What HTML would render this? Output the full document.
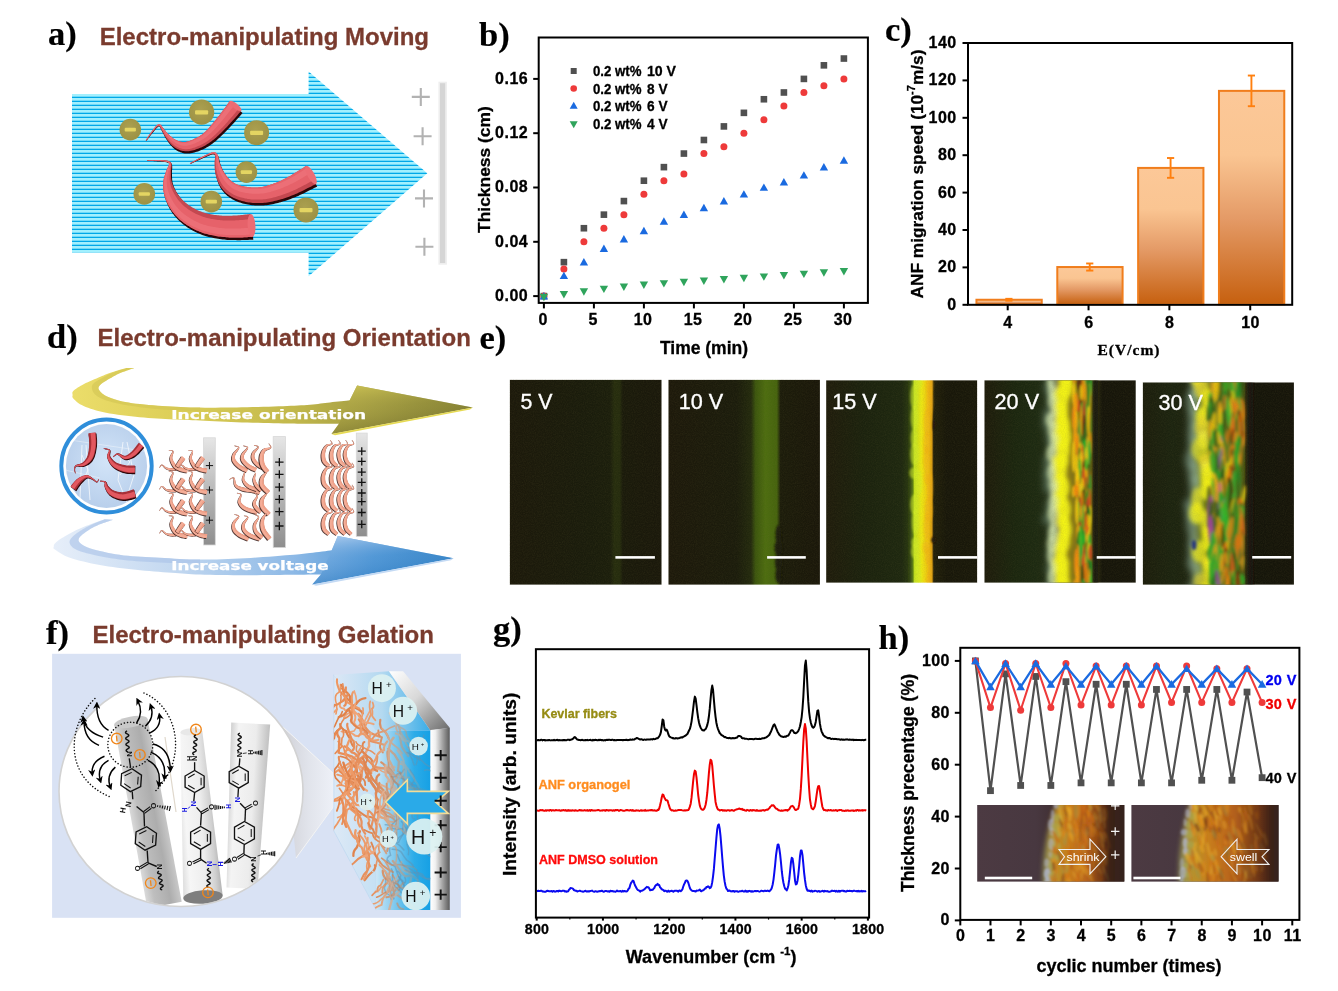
<!DOCTYPE html>
<html lang="en"><head><meta charset="utf-8"><title>Electro-manipulating ANF figure</title>
<style>html,body{margin:0;padding:0;background:#fff;}body{width:1338px;height:991px;overflow:hidden;}svg{display:block;}</style>
</head><body>
<svg width="1338" height="991" viewBox="0 0 1338 991">
<rect width="1338" height="991" fill="#fff"/>
<g id="pa">
<defs>
<pattern id="stripes" x="0" y="94" width="8" height="4" patternUnits="userSpaceOnUse"><rect width="8" height="4" fill="#A2F0FE"/><rect y="2.7" width="8" height="1.3" fill="#00A8E8"/></pattern>
<radialGradient id="ballg" cx="0.45" cy="0.4" r="0.7"><stop offset="0" stop-color="#ABA050"/><stop offset="1" stop-color="#9A8F42"/></radialGradient>
<linearGradient id="elecA" x1="0" x2="1" y1="0" y2="0"><stop offset="0" stop-color="#E9E9E9"/><stop offset="0.25" stop-color="#D2D2D2"/><stop offset="0.8" stop-color="#CFCFCF"/><stop offset="1" stop-color="#E4E4E4"/></linearGradient>
</defs>
<path d="M72 94H308.6V71.5L427.3 173.3L308.6 276.3V252.8H72Z" fill="url(#stripes)"/>
<rect x="438.4" y="81.7" width="8.5" height="183" fill="#EEEEEE" stroke="none" stroke-width="0" />
<rect x="440" y="83.2" width="5.2" height="179.8" fill="#D5D5D5" stroke="none" stroke-width="0" />
<path d="M411.8 96.9H429.8M420.8 87.9V105.9" stroke="#B2B2B2" stroke-width="2.1" fill="none"/>
<path d="M413.6 136.3H431.6M422.6 127.3V145.3" stroke="#B2B2B2" stroke-width="2.1" fill="none"/>
<path d="M415 198.4H433M424 189.4V207.4" stroke="#B2B2B2" stroke-width="2.1" fill="none"/>
<path d="M415.4 246.8H433.4M424.4 237.8V255.8" stroke="#B2B2B2" stroke-width="2.1" fill="none"/>
<circle cx="201.6" cy="112.2" r="12.6" fill="url(#ballg)"/><rect x="195.05" y="110.18" width="13.1" height="4.28" rx="1" fill="#E4D562"/>
<circle cx="130.3" cy="129.6" r="10.8" fill="url(#ballg)"/><rect x="124.68" y="127.87" width="11.23" height="3.67" rx="1" fill="#E4D562"/>
<circle cx="256.6" cy="132.7" r="12.5" fill="url(#ballg)"/><rect x="250.1" y="130.7" width="13" height="4.25" rx="1" fill="#E4D562"/>
<circle cx="246.4" cy="172.1" r="10.8" fill="url(#ballg)"/><rect x="240.78" y="170.37" width="11.23" height="3.67" rx="1" fill="#E4D562"/>
<circle cx="144.3" cy="193.9" r="10.8" fill="url(#ballg)"/><rect x="138.68" y="192.17" width="11.23" height="3.67" rx="1" fill="#E4D562"/>
<circle cx="211.3" cy="201.6" r="10.8" fill="url(#ballg)"/><rect x="205.68" y="199.87" width="11.23" height="3.67" rx="1" fill="#E4D562"/>
<circle cx="306" cy="209.9" r="12.5" fill="url(#ballg)"/><rect x="299.5" y="207.9" width="13" height="4.25" rx="1" fill="#E4D562"/>
<path d="M146.4 141 146.7 140.6 147.1 140.1 147.5 139.5 148 138.8 148.6 138.1 149.1 137.3 149.7 136.5 150.3 135.7 150.9 134.9 151.5 134.2 152.1 133.5 152.7 132.8 153.2 132.2 153.8 131.4 154.4 130.7 155 130 155.6 129.3 156.2 128.6 156.8 128 157.3 127.4 157.9 127 158.4 126.6 158.8 126.4 159.1 126.4 159.3 126.4 159.5 126.6 159.7 126.8 159.9 127.1 160.2 127.5 160.4 128 160.7 128.5 161 129.2 161.3 129.8 161.6 130.5 162 131.2 162.4 131.9 162.7 132.4 163 133 163.3 133.7 163.7 134.3 164 135 164.4 135.7 164.7 136.4 165.1 137.2 165.6 138 166 138.7 166.5 139.5 167.1 140.3 167.6 141.1 168.1 141.9 168.7 142.7 169.3 143.5 169.9 144.2 170.5 145 171.2 145.8 171.9 146.6 172.6 147.3 173.4 148 174.2 148.7 175.1 149.4 175.9 149.9 176.7 150.4 177.6 150.9 178.5 151.4 179.5 151.8 180.4 152.2 181.5 152.6 182.5 152.9 183.6 153.2 184.8 153.4 185.9 153.5 187.1 153.6 188.4 153.6 189.6 153.5 190.8 153.3 192.1 153.1 193.3 152.8 194.5 152.5 195.6 152.1 196.8 151.8 198 151.4 199.1 151 200.2 150.5 201.2 150.1 202.3 149.7 203.3 149.2 204.3 148.7 205.4 148.2 206.4 147.6 207.4 147.1 208.4 146.4 209.5 145.8 210.5 145 211.6 144.3 212.7 143.5 213.8 142.6 215 141.7 216.2 140.7 217.4 139.6 218.5 138.5 219.7 137.4 221 136.3 222.2 135.1 223.4 134 224.6 132.8 225.8 131.6 227 130.3 228.2 129.1 229.4 127.8 230.8 126.3 232.1 124.8 233.6 123.3 235 121.7 236.3 120.1 237.7 118.6 238.9 117.2 240 115.9 241.1 114.7 241.9 113.8 242.6 113 230.2 103 229.6 103.8 228.8 104.9 227.9 106.2 226.9 107.6 225.8 109.1 224.6 110.7 223.4 112.3 222.2 114 221 115.6 219.8 117.1 218.7 118.6 217.6 119.9 216.6 121.2 215.6 122.4 214.6 123.7 213.5 125 212.5 126.2 211.5 127.4 210.5 128.5 209.6 129.6 208.6 130.7 207.7 131.7 206.8 132.6 206 133.4 205.1 134.2 204.3 134.9 203.5 135.5 202.8 136.1 202 136.7 201.3 137.2 200.5 137.7 199.8 138.1 199 138.6 198.2 139 197.4 139.5 196.6 139.9 195.7 140.3 194.8 140.8 193.9 141.2 193 141.6 192.1 142 191.2 142.3 190.4 142.6 189.5 142.9 188.7 143.1 188 143.3 187.3 143.5 186.7 143.6 186.1 143.7 185.4 143.8 184.8 143.8 184.2 143.8 183.5 143.7 182.9 143.7 182.2 143.6 181.5 143.4 180.8 143.3 180.1 143.1 179.4 142.9 178.7 142.6 178.1 142.4 177.5 142.1 176.8 141.8 176.1 141.4 175.4 141 174.7 140.5 174 140 173.3 139.5 172.6 139 171.9 138.4 171.2 137.8 170.5 137.2 169.9 136.6 169.4 136.1 168.9 135.5 168.4 134.9 167.9 134.4 167.4 133.8 166.9 133.1 166.4 132.5 166 131.9 165.5 131.3 165 130.8 164.6 130.2 164.2 129.7 163.8 129.2 163.4 128.6 163 128 162.6 127.4 162.2 126.9 161.8 126.3 161.3 125.8 160.8 125.3 160.2 125 159.5 124.8 158.8 124.8 158.2 125 157.5 125.4 157 125.9 156.4 126.4 155.8 127 155.2 127.7 154.6 128.4 154 129.2 153.4 130 152.8 130.7 152.3 131.4 151.7 132.1 151.2 132.8 150.6 133.5 150.1 134.3 149.5 135.1 148.9 136 148.4 136.8 147.8 137.6 147.3 138.3 146.9 139 146.5 139.6 146.1 140.2 145.8 140.6Z" fill="#2A0608"/><path d="M146.3 140.7 146.6 140.3 147 139.8 147.4 139.2 147.9 138.5 148.4 137.7 148.9 136.9 149.5 136.1 150.1 135.3 150.7 134.5 151.3 133.7 151.9 133 152.4 132.3 153 131.7 153.6 131 154.1 130.2 154.7 129.5 155.3 128.8 155.9 128.1 156.5 127.4 157.1 126.9 157.6 126.4 158.1 126 158.5 125.8 158.8 125.7 159 125.8 159.2 125.9 159.4 126 159.6 126.3 159.9 126.7 160.1 127.1 160.4 127.7 160.7 128.3 161 128.9 161.3 129.5 161.6 130.2 161.9 130.8 162.3 131.3 162.6 131.9 162.9 132.4 163.2 133 163.5 133.7 163.8 134.3 164.2 135 164.6 135.7 165 136.4 165.4 137.1 165.9 137.8 166.4 138.5 166.9 139.2 167.4 139.9 167.9 140.6 168.5 141.4 169.1 142.1 169.7 142.9 170.4 143.7 171.1 144.4 171.8 145.2 172.6 145.9 173.4 146.5 174.3 147.2 175.1 147.7 175.9 148.2 176.8 148.7 177.7 149.2 178.6 149.6 179.6 150 180.6 150.4 181.7 150.7 182.8 150.9 183.9 151.1 185 151.2 186.2 151.3 187.4 151.3 188.7 151.2 189.9 151 191.1 150.8 192.3 150.5 193.5 150.2 194.6 149.9 195.8 149.5 196.9 149.1 198.1 148.7 199.2 148.2 200.2 147.8 201.3 147.4 202.3 146.9 203.3 146.4 204.3 145.9 205.3 145.4 206.3 144.8 207.4 144.1 208.4 143.5 209.4 142.8 210.5 142 211.6 141.2 212.7 140.3 213.9 139.4 215 138.4 216.2 137.4 217.4 136.3 218.6 135.2 219.8 134.1 221 132.9 222.2 131.7 223.4 130.5 224.6 129.3 225.8 128.1 227 126.9 228.2 125.5 229.6 124.1 230.9 122.6 232.3 121 233.7 119.4 235.1 117.9 236.4 116.4 237.7 114.9 238.8 113.6 239.8 112.5 240.7 111.5 241.3 110.7 229.7 101.3 229 102.1 228.2 103.2 227.3 104.5 226.3 105.9 225.2 107.4 224 108.9 222.8 110.6 221.6 112.2 220.4 113.8 219.2 115.4 218.1 116.8 217 118.1 216 119.4 215 120.7 213.9 122 212.9 123.2 211.9 124.4 210.9 125.6 209.9 126.8 208.9 127.9 208 128.9 207.1 129.9 206.2 130.8 205.3 131.7 204.4 132.4 203.6 133.2 202.8 133.8 202.1 134.4 201.3 135 200.5 135.5 199.8 135.9 199 136.4 198.3 136.9 197.5 137.3 196.6 137.7 195.8 138.2 194.9 138.6 194 139.1 193.1 139.5 192.2 139.9 191.3 140.2 190.4 140.6 189.5 140.9 188.7 141.2 187.9 141.4 187.1 141.6 186.4 141.8 185.8 141.9 185.2 142 184.5 142 183.9 142.1 183.2 142 182.6 142 181.9 141.9 181.2 141.8 180.5 141.7 179.8 141.5 179.1 141.3 178.4 141.1 177.7 140.8 177.1 140.6 176.4 140.3 175.8 140 175.1 139.6 174.4 139.1 173.7 138.7 172.9 138.2 172.2 137.6 171.6 137.1 170.9 136.6 170.2 136 169.6 135.5 169.1 135 168.6 134.6 168.1 134.1 167.6 133.5 167.1 133 166.7 132.4 166.2 131.9 165.8 131.3 165.4 130.8 164.9 130.2 164.5 129.7 164.1 129.2 163.7 128.8 163.3 128.3 162.9 127.8 162.5 127.2 162.2 126.7 161.8 126.1 161.4 125.6 160.9 125.1 160.5 124.7 159.9 124.4 159.2 124.2 158.6 124.3 157.9 124.5 157.3 124.9 156.7 125.4 156.2 125.9 155.6 126.6 155 127.2 154.4 128 153.8 128.7 153.2 129.5 152.6 130.3 152.1 131 151.6 131.7 151 132.4 150.5 133.1 149.9 133.9 149.3 134.8 148.8 135.6 148.2 136.4 147.7 137.2 147.2 138 146.7 138.7 146.3 139.3 146 139.9 145.7 140.3Z" fill="#C44850"/><path d="M146.2 140.6 146.5 140.2 146.8 139.7 147.2 139.1 147.7 138.4 148.2 137.6 148.8 136.8 149.4 136 149.9 135.2 150.5 134.4 151.1 133.6 151.7 132.9 152.2 132.2 152.8 131.5 153.4 130.8 153.9 130.1 154.5 129.3 155.1 128.6 155.7 127.9 156.3 127.2 156.9 126.7 157.4 126.2 157.9 125.8 158.4 125.5 158.8 125.4 159.1 125.4 159.4 125.5 159.6 125.7 159.9 126 160.2 126.4 160.5 126.9 160.8 127.5 161.1 128 161.4 128.6 161.7 129.3 162 129.9 162.4 130.4 162.8 131 163.1 131.5 163.4 132.1 163.8 132.7 164.1 133.3 164.5 133.9 164.8 134.5 165.2 135.2 165.7 135.8 166.1 136.5 166.6 137.2 167.1 137.8 167.6 138.5 168.2 139.1 168.7 139.8 169.3 140.5 169.9 141.2 170.6 142 171.3 142.7 172 143.3 172.7 144 173.4 144.6 174.2 145.2 175 145.8 175.8 146.2 176.6 146.7 177.5 147.1 178.3 147.5 179.2 147.9 180.1 148.2 181 148.5 182 148.8 183 149 184 149.1 185.1 149.2 186.1 149.2 187.2 149.2 188.3 149.1 189.4 148.9 190.6 148.7 191.7 148.4 192.8 148.1 193.9 147.7 195 147.4 196.1 147 197.2 146.6 198.2 146.1 199.2 145.7 200.2 145.3 201.2 144.8 202.2 144.3 203.1 143.8 204.1 143.3 205.1 142.7 206 142.1 207 141.5 208 140.8 209 140.1 210 139.3 211.1 138.4 212.2 137.5 213.3 136.5 214.4 135.5 215.5 134.4 216.7 133.3 217.8 132.2 219 131 220.2 129.8 221.3 128.6 222.5 127.4 223.6 126.2 224.8 124.9 226 123.6 227.3 122.2 228.6 120.6 230 119.1 231.3 117.5 232.7 115.9 233.9 114.4 235.2 112.9 236.3 111.6 237.3 110.4 238.1 109.4 238.8 108.6 229.7 101.3 229 102.1 228.2 103.2 227.3 104.5 226.3 105.9 225.2 107.4 224 108.9 222.8 110.6 221.6 112.2 220.4 113.8 219.2 115.4 218.1 116.8 217 118.1 216 119.4 215 120.7 213.9 122 212.9 123.2 211.9 124.4 210.9 125.6 209.9 126.8 208.9 127.9 208 128.9 207.1 129.9 206.2 130.8 205.3 131.7 204.4 132.4 203.6 133.2 202.8 133.8 202.1 134.4 201.3 135 200.5 135.5 199.8 135.9 199 136.4 198.3 136.9 197.5 137.3 196.6 137.7 195.8 138.2 194.9 138.6 194 139.1 193.1 139.5 192.2 139.9 191.3 140.2 190.4 140.6 189.5 140.9 188.7 141.2 187.9 141.4 187.1 141.6 186.4 141.8 185.8 141.9 185.2 142 184.5 142 183.9 142.1 183.2 142 182.6 142 181.9 141.9 181.2 141.8 180.5 141.7 179.8 141.5 179.1 141.3 178.4 141.1 177.7 140.8 177.1 140.6 176.4 140.3 175.8 140 175.1 139.6 174.4 139.1 173.7 138.7 172.9 138.2 172.2 137.6 171.6 137.1 170.9 136.6 170.2 136 169.6 135.5 169.1 135 168.6 134.6 168.1 134.1 167.6 133.5 167.1 133 166.7 132.4 166.2 131.9 165.8 131.3 165.4 130.8 164.9 130.2 164.5 129.7 164.1 129.2 163.7 128.8 163.3 128.3 162.9 127.8 162.5 127.2 162.2 126.7 161.8 126.1 161.4 125.6 160.9 125.1 160.5 124.7 159.9 124.4 159.2 124.2 158.6 124.3 157.9 124.5 157.3 124.9 156.7 125.4 156.2 125.9 155.6 126.6 155 127.2 154.4 128 153.8 128.7 153.2 129.5 152.6 130.3 152.1 131 151.6 131.7 151 132.4 150.5 133.1 149.9 133.9 149.3 134.8 148.8 135.6 148.2 136.4 147.7 137.2 147.2 138 146.7 138.7 146.3 139.3 146 139.9 145.7 140.3Z" fill="#E6626A"/><path d="M145.9 140.5 146.2 140 146.6 139.5 147 138.9 147.5 138.2 148 137.4 148.5 136.6 149.1 135.8 149.7 135 150.2 134.2 150.8 133.4 151.4 132.6 151.9 131.9 152.5 131.3 153 130.5 153.6 129.8 154.2 129 154.8 128.3 155.4 127.6 156 126.9 156.5 126.3 157.1 125.8 157.6 125.3 158.2 125 158.7 124.9 159.2 124.8 159.6 125 160 125.2 160.4 125.6 160.8 126 161.1 126.5 161.4 127.1 161.8 127.6 162.1 128.2 162.5 128.8 162.8 129.3 163.2 129.9 163.6 130.4 164 130.9 164.4 131.5 164.7 132 165.1 132.6 165.5 133.2 165.9 133.8 166.4 134.4 166.8 135 167.3 135.6 167.8 136.2 168.3 136.7 168.9 137.3 169.5 137.9 170.1 138.5 170.7 139.2 171.4 139.8 172 140.4 172.7 141 173.4 141.5 174.2 142.1 174.9 142.6 175.6 143 176.3 143.4 177.1 143.8 177.8 144.1 178.6 144.4 179.4 144.7 180.2 145 181 145.2 181.8 145.4 182.6 145.6 183.4 145.7 184.3 145.7 185.1 145.8 186 145.7 186.8 145.7 187.8 145.5 188.7 145.3 189.7 145.1 190.7 144.8 191.7 144.5 192.7 144.2 193.7 143.8 194.7 143.4 195.7 143 196.6 142.6 197.6 142.1 198.5 141.7 199.4 141.2 200.3 140.8 201.2 140.3 202 139.8 202.9 139.3 203.8 138.7 204.6 138.1 205.5 137.5 206.4 136.8 207.4 136 208.3 135.2 209.3 134.3 210.3 133.4 211.3 132.4 212.4 131.3 213.5 130.2 214.5 129.1 215.6 127.9 216.7 126.7 217.8 125.5 218.9 124.2 220 123 221.1 121.7 222.2 120.4 223.4 118.9 224.7 117.4 226 115.8 227.3 114.2 228.5 112.6 229.8 111 230.9 109.6 232 108.2 233 107 233.8 105.9 234.4 105.1 230.9 102.3 230.3 103.1 229.5 104.2 228.6 105.4 227.5 106.8 226.4 108.3 225.2 109.9 224 111.5 222.8 113.2 221.5 114.8 220.3 116.3 219.2 117.8 218.1 119.1 217.1 120.4 216 121.6 215 122.9 213.9 124.1 212.9 125.4 211.9 126.5 210.8 127.7 209.9 128.8 208.9 129.8 207.9 130.8 207 131.8 206.1 132.6 205.2 133.4 204.4 134.1 203.5 134.8 202.7 135.4 201.9 135.9 201.2 136.5 200.4 137 199.6 137.4 198.8 137.9 198 138.3 197.1 138.8 196.3 139.2 195.4 139.7 194.4 140.1 193.5 140.5 192.6 140.9 191.7 141.3 190.7 141.6 189.8 141.9 189 142.2 188.1 142.5 187.3 142.7 186.5 142.8 185.8 142.9 185.1 143 184.4 143 183.8 143 183.1 143 182.4 142.9 181.6 142.8 180.9 142.7 180.2 142.5 179.5 142.3 178.8 142 178 141.8 177.4 141.5 176.7 141.2 176 140.9 175.3 140.5 174.6 140.1 173.9 139.6 173.2 139.1 172.5 138.6 171.8 138 171.2 137.5 170.5 136.9 169.9 136.4 169.3 135.8 168.7 135.3 168.2 134.8 167.7 134.3 167.3 133.8 166.8 133.2 166.4 132.6 166 132.1 165.5 131.5 165.1 131 164.7 130.4 164.2 129.9 163.8 129.4 163.4 128.9 163.1 128.4 162.7 127.9 162.3 127.3 162 126.8 161.6 126.2 161.2 125.7 160.8 125.2 160.3 124.8 159.8 124.5 159.2 124.4 158.6 124.4 158 124.6 157.4 125 156.8 125.5 156.3 126 155.7 126.6 155.1 127.3 154.5 128.1 153.9 128.8 153.3 129.6 152.7 130.3 152.2 131.1 151.7 131.7 151.1 132.4 150.6 133.2 150 134 149.4 134.8 148.9 135.7 148.3 136.5 147.8 137.3 147.3 138.1 146.8 138.8 146.4 139.4 146.1 139.9 145.8 140.3Z" fill="#EE737A" opacity="0.8"/><ellipse cx="235.5" cy="106" rx="2.55" ry="7.5" transform="rotate(-50.71 235.5 106)" fill="#EC6C74"/>
<path d="M190.3 164.1 190.9 163.8 191.6 163.5 192.5 163.1 193.5 162.6 194.6 162.1 195.7 161.5 196.8 161 198 160.4 199.2 159.9 200.3 159.4 201.4 158.9 202.4 158.5 203.4 158 204.5 157.6 205.5 157.2 206.5 156.7 207.5 156.3 208.5 155.8 209.5 155.5 210.4 155.1 211.3 154.8 212.1 154.6 212.8 154.5 213.4 154.5 213.8 154.5 214.2 154.6 214.5 154.8 214.7 154.9 214.8 155.1 214.9 155.3 215.1 155.6 215.2 155.9 215.3 156.3 215.4 156.7 215.5 157.2 215.6 157.6 215.7 158 215.7 158.4 215.7 158.8 215.6 159.3 215.6 159.9 215.5 160.5 215.4 161.2 215.3 162 215.3 162.8 215.2 163.6 215.2 164.5 215.3 165.4 215.3 166.2 215.3 167 215.3 167.9 215.3 168.7 215.4 169.7 215.4 170.6 215.5 171.6 215.6 172.6 215.7 173.6 215.8 174.6 216 175.6 216.3 176.6 216.5 177.6 216.7 178.6 217 179.6 217.3 180.6 217.7 181.6 218 182.6 218.4 183.7 218.9 184.7 219.4 185.8 219.9 186.8 220.5 187.9 221.2 188.9 221.8 189.8 222.5 190.7 223.2 191.6 224 192.5 224.8 193.4 225.6 194.2 226.5 195 227.4 195.9 228.4 196.6 229.4 197.4 230.5 198.1 231.6 198.8 232.7 199.5 233.9 200.1 235.1 200.7 236.3 201.2 237.6 201.7 238.8 202.2 240.1 202.6 241.4 203 242.7 203.4 244 203.8 245.3 204.1 246.6 204.3 248 204.6 249.3 204.8 250.7 205 252.1 205.2 253.5 205.3 255 205.4 256.4 205.5 257.9 205.6 259.3 205.6 260.8 205.6 262.3 205.5 263.7 205.4 265.2 205.3 266.7 205.2 268.1 205 269.6 204.7 271 204.5 272.4 204.2 273.8 203.9 275.2 203.6 276.6 203.3 278 202.9 279.3 202.6 280.7 202.2 282.1 201.8 283.5 201.3 285 200.9 286.4 200.4 287.8 199.9 289.3 199.4 290.7 198.9 292.2 198.3 293.7 197.8 295.2 197.2 296.7 196.5 298.2 195.9 299.9 195.1 301.7 194.3 303.5 193.4 305.4 192.5 307.2 191.6 309.1 190.6 310.8 189.7 312.5 188.9 314 188.1 315.3 187.4 316.4 186.9 317.2 186.5 306.6 167.5 305.7 168.1 304.6 168.8 303.3 169.6 301.9 170.5 300.3 171.5 298.7 172.6 297.1 173.6 295.5 174.6 293.8 175.6 292.3 176.6 290.9 177.4 289.6 178.1 288.3 178.8 287 179.5 285.8 180.1 284.6 180.7 283.4 181.3 282.2 181.9 281 182.4 279.8 182.9 278.6 183.4 277.4 183.9 276.3 184.4 275.1 184.8 273.9 185.3 272.7 185.7 271.6 186.1 270.4 186.5 269.3 186.8 268.3 187.2 267.2 187.5 266.1 187.7 265.1 188 264.1 188.2 263.1 188.4 262.1 188.6 261 188.7 260 188.8 258.9 188.9 257.8 189 256.7 189 255.6 189 254.5 189 253.4 189 252.3 188.9 251.2 188.8 250.2 188.8 249.2 188.7 248.1 188.5 247.1 188.4 246.1 188.2 245.1 188.1 244.2 187.9 243.2 187.7 242.3 187.5 241.4 187.2 240.5 187 239.7 186.7 238.9 186.4 238.2 186.2 237.5 185.9 236.9 185.6 236.2 185.2 235.5 184.8 234.9 184.5 234.3 184 233.6 183.6 233 183.1 232.4 182.7 231.8 182.2 231.2 181.6 230.6 181.1 230.1 180.6 229.5 180.1 229 179.6 228.5 179 228 178.3 227.4 177.7 226.9 177 226.4 176.3 225.9 175.6 225.5 174.8 225 174.1 224.5 173.4 224.1 172.7 223.7 172 223.4 171.3 223 170.6 222.6 169.8 222.3 169 221.9 168.3 221.6 167.5 221.3 166.7 221 166 220.8 165.2 220.5 164.6 220.3 163.9 220.1 163.3 219.9 162.6 219.7 161.9 219.6 161.3 219.5 160.6 219.4 159.9 219.2 159.2 219.1 158.6 218.9 157.9 218.7 157.2 218.4 156.6 218.1 156.1 217.9 155.7 217.6 155.2 217.3 154.8 217 154.3 216.6 153.9 216.2 153.5 215.7 153.2 215.1 152.9 214.5 152.8 213.9 152.8 213.2 152.8 212.5 152.9 211.7 153.1 210.8 153.4 209.9 153.8 209 154.1 208 154.6 207 155 206 155.5 204.9 156 203.9 156.5 202.9 157 202 157.4 200.9 157.9 199.9 158.4 198.7 159 197.6 159.5 196.4 160.1 195.3 160.7 194.1 161.3 193.1 161.8 192.1 162.3 191.3 162.8 190.5 163.2 190 163.4Z" fill="#2A0608"/><path d="M190.2 163.8 190.7 163.5 191.5 163.2 192.4 162.7 193.3 162.2 194.4 161.7 195.5 161.2 196.7 160.6 197.8 160 199 159.5 200.1 158.9 201.2 158.4 202.2 158 203.2 157.6 204.2 157.1 205.3 156.6 206.3 156.2 207.3 155.7 208.3 155.3 209.3 154.9 210.2 154.5 211 154.2 211.8 154 212.5 153.9 213.1 153.8 213.5 153.8 213.9 153.9 214.2 154 214.4 154.1 214.5 154.3 214.6 154.5 214.7 154.7 214.8 155 214.9 155.3 215 155.7 215.1 156.1 215.2 156.5 215.2 156.8 215.2 157.1 215.2 157.5 215.1 158 215 158.5 214.9 159 214.8 159.6 214.7 160.3 214.6 161 214.6 161.8 214.5 162.6 214.5 163.4 214.5 164.2 214.6 165 214.6 165.8 214.6 166.7 214.6 167.6 214.7 168.6 214.8 169.5 214.9 170.5 215 171.5 215.2 172.5 215.4 173.5 215.6 174.5 215.8 175.5 216.1 176.5 216.4 177.5 216.7 178.5 217 179.5 217.4 180.5 217.8 181.5 218.3 182.6 218.8 183.6 219.3 184.6 219.9 185.7 220.6 186.6 221.2 187.6 221.9 188.5 222.6 189.3 223.3 190.2 224.1 191.1 224.9 191.9 225.8 192.7 226.7 193.5 227.7 194.3 228.7 195.1 229.8 195.8 230.9 196.5 232 197.1 233.2 197.7 234.4 198.3 235.6 198.8 236.8 199.3 238.1 199.8 239.3 200.2 240.6 200.6 241.9 201 243.2 201.3 244.5 201.6 245.8 201.9 247.1 202.2 248.5 202.4 249.9 202.6 251.3 202.7 252.7 202.9 254.1 203 255.5 203 257 203.1 258.4 203.1 259.9 203.1 261.3 203 262.8 203 264.3 202.8 265.7 202.7 267.2 202.5 268.6 202.3 270 202 271.4 201.7 272.8 201.4 274.2 201.1 275.5 200.8 276.9 200.4 278.3 200.1 279.7 199.7 281 199.3 282.5 198.9 283.9 198.4 285.3 197.9 286.7 197.4 288.2 196.9 289.6 196.4 291.1 195.8 292.5 195.3 294 194.7 295.5 194 297.1 193.4 298.8 192.6 300.5 191.8 302.3 190.9 304.2 190 306 189 307.9 188.1 309.6 187.2 311.3 186.4 312.8 185.6 314.1 184.9 315.2 184.4 316 183.9 306 166.1 305.1 166.6 304 167.3 302.7 168.2 301.3 169.1 299.7 170 298.1 171.1 296.5 172.1 294.8 173.1 293.2 174.1 291.7 175.1 290.2 175.9 288.9 176.6 287.6 177.3 286.4 178 285.1 178.6 283.9 179.2 282.7 179.8 281.5 180.4 280.3 180.9 279.1 181.4 277.9 181.9 276.7 182.4 275.5 182.9 274.3 183.3 273.2 183.8 272 184.2 270.8 184.6 269.7 185 268.6 185.3 267.5 185.6 266.4 185.9 265.3 186.2 264.3 186.5 263.3 186.7 262.2 186.9 261.2 187 260.2 187.2 259.1 187.3 258 187.4 256.9 187.4 255.8 187.5 254.7 187.5 253.6 187.5 252.4 187.4 251.4 187.4 250.3 187.3 249.2 187.2 248.2 187.1 247.2 187 246.1 186.8 245.1 186.7 244.1 186.5 243.2 186.3 242.2 186.1 241.3 185.9 240.4 185.6 239.5 185.4 238.7 185.1 237.9 184.8 237.1 184.5 236.4 184.2 235.7 183.9 235.1 183.5 234.4 183.2 233.8 182.8 233.1 182.3 232.5 181.9 231.9 181.4 231.2 180.9 230.6 180.4 230 179.9 229.4 179.4 228.9 178.8 228.4 178.3 227.8 177.7 227.3 177.1 226.8 176.5 226.3 175.8 225.8 175.1 225.3 174.4 224.8 173.7 224.3 172.9 223.8 172.2 223.4 171.5 223 170.8 222.6 170.1 222.2 169.4 221.9 168.6 221.5 167.8 221.2 167.1 220.9 166.3 220.5 165.5 220.2 164.7 220 164 219.7 163.3 219.5 162.6 219.3 162 219.1 161.5 219 160.9 218.9 160.3 218.8 159.7 218.7 159.1 218.6 158.5 218.5 157.9 218.4 157.3 218.3 156.7 218.1 156.1 217.8 155.5 217.6 155.1 217.3 154.7 217.1 154.3 216.8 153.9 216.5 153.5 216.2 153.1 215.8 152.8 215.3 152.5 214.8 152.3 214.2 152.2 213.6 152.1 212.9 152.2 212.2 152.4 211.4 152.6 210.6 152.9 209.7 153.2 208.7 153.7 207.8 154.1 206.8 154.6 205.8 155.1 204.7 155.6 203.7 156 202.7 156.5 201.8 157 200.8 157.5 199.7 158 198.6 158.6 197.4 159.2 196.3 159.8 195.1 160.4 194 161 193 161.5 192 162 191.1 162.5 190.4 162.9 189.8 163.2Z" fill="#C44850"/><path d="M190.1 163.7 190.7 163.4 191.4 163 192.3 162.6 193.3 162.1 194.3 161.6 195.4 161 196.6 160.4 197.7 159.8 198.9 159.3 200 158.7 201.1 158.2 202.1 157.8 203.1 157.3 204.1 156.9 205.1 156.4 206.2 155.9 207.2 155.5 208.2 155 209.1 154.6 210.1 154.2 210.9 153.9 211.7 153.7 212.4 153.5 213 153.4 213.6 153.4 214 153.5 214.3 153.6 214.6 153.8 214.8 153.9 215 154.2 215.1 154.4 215.3 154.7 215.4 155.1 215.5 155.5 215.6 155.9 215.8 156.3 215.8 156.6 215.9 157 215.9 157.5 215.9 158 215.8 158.5 215.8 159 215.7 159.7 215.6 160.3 215.6 161 215.6 161.7 215.6 162.5 215.6 163.2 215.7 164 215.8 164.8 215.8 165.6 215.9 166.4 216 167.3 216.1 168.2 216.3 169.2 216.4 170.1 216.6 171 216.8 172 217 172.9 217.3 173.9 217.6 174.8 217.9 175.7 218.2 176.6 218.6 177.6 219 178.5 219.4 179.5 219.8 180.4 220.3 181.4 220.8 182.3 221.3 183.2 221.9 184.2 222.5 185 223.1 185.9 223.8 186.7 224.5 187.5 225.2 188.3 226 189.1 226.7 189.8 227.6 190.5 228.4 191.3 229.3 191.9 230.3 192.6 231.2 193.2 232.2 193.8 233.3 194.4 234.4 195 235.5 195.5 236.6 195.9 237.8 196.4 239 196.8 240.2 197.2 241.4 197.5 242.6 197.8 243.8 198.1 245.1 198.4 246.3 198.6 247.6 198.9 248.9 199.1 250.2 199.2 251.5 199.4 252.9 199.5 254.2 199.6 255.6 199.6 257 199.6 258.3 199.6 259.7 199.6 261.1 199.6 262.4 199.5 263.8 199.3 265.2 199.2 266.5 199 267.9 198.7 269.2 198.5 270.5 198.2 271.9 197.9 273.2 197.6 274.5 197.2 275.8 196.9 277.1 196.5 278.5 196.1 279.8 195.7 281.2 195.2 282.6 194.8 283.9 194.3 285.3 193.8 286.7 193.3 288.1 192.7 289.5 192.2 290.9 191.6 292.4 191 293.8 190.3 295.3 189.7 296.9 188.9 298.6 188.1 300.3 187.2 302.1 186.3 303.9 185.3 305.7 184.4 307.4 183.4 309.1 182.6 310.5 181.8 311.9 181.1 313 180.5 313.8 180 306 166.1 305.1 166.6 304 167.3 302.7 168.2 301.3 169.1 299.7 170 298.1 171.1 296.5 172.1 294.8 173.1 293.2 174.1 291.7 175.1 290.2 175.9 288.9 176.6 287.6 177.3 286.4 178 285.1 178.6 283.9 179.2 282.7 179.8 281.5 180.4 280.3 180.9 279.1 181.4 277.9 181.9 276.7 182.4 275.5 182.9 274.3 183.3 273.2 183.8 272 184.2 270.8 184.6 269.7 185 268.6 185.3 267.5 185.6 266.4 185.9 265.3 186.2 264.3 186.5 263.3 186.7 262.2 186.9 261.2 187 260.2 187.2 259.1 187.3 258 187.4 256.9 187.4 255.8 187.5 254.7 187.5 253.6 187.5 252.4 187.4 251.4 187.4 250.3 187.3 249.2 187.2 248.2 187.1 247.2 187 246.1 186.8 245.1 186.7 244.1 186.5 243.2 186.3 242.2 186.1 241.3 185.9 240.4 185.6 239.5 185.4 238.7 185.1 237.9 184.8 237.1 184.5 236.4 184.2 235.7 183.9 235.1 183.5 234.4 183.2 233.8 182.8 233.1 182.3 232.5 181.9 231.9 181.4 231.2 180.9 230.6 180.4 230 179.9 229.4 179.4 228.9 178.8 228.4 178.3 227.8 177.7 227.3 177.1 226.8 176.5 226.3 175.8 225.8 175.1 225.3 174.4 224.8 173.7 224.3 172.9 223.8 172.2 223.4 171.5 223 170.8 222.6 170.1 222.2 169.4 221.9 168.6 221.5 167.8 221.2 167.1 220.9 166.3 220.5 165.5 220.2 164.7 220 164 219.7 163.3 219.5 162.6 219.3 162 219.1 161.5 219 160.9 218.9 160.3 218.8 159.7 218.7 159.1 218.6 158.5 218.5 157.9 218.4 157.3 218.3 156.7 218.1 156.1 217.8 155.5 217.6 155.1 217.3 154.7 217.1 154.3 216.8 153.9 216.5 153.5 216.2 153.1 215.8 152.8 215.3 152.5 214.8 152.3 214.2 152.2 213.6 152.1 212.9 152.2 212.2 152.4 211.4 152.6 210.6 152.9 209.7 153.2 208.7 153.7 207.8 154.1 206.8 154.6 205.8 155.1 204.7 155.6 203.7 156 202.7 156.5 201.8 157 200.8 157.5 199.7 158 198.6 158.6 197.4 159.2 196.3 159.8 195.1 160.4 194 161 193 161.5 192 162 191.1 162.5 190.4 162.9 189.8 163.2Z" fill="#E6626A"/><path d="M190 163.4 190.6 163.1 191.3 162.8 192.1 162.3 193.1 161.8 194.2 161.3 195.3 160.7 196.4 160.1 197.6 159.5 198.7 159 199.9 158.4 201 157.9 202 157.4 202.9 157 203.9 156.5 204.9 156 206 155.5 207 155 208 154.6 209 154.2 209.9 153.8 210.8 153.4 211.6 153.2 212.3 153 213 152.9 213.6 152.8 214.1 152.9 214.5 153 214.9 153.1 215.3 153.4 215.6 153.7 215.8 154 216 154.3 216.2 154.7 216.4 155.1 216.6 155.5 216.7 155.9 216.9 156.4 217 156.9 217.1 157.4 217.1 157.9 217.1 158.5 217.2 159.1 217.2 159.7 217.2 160.3 217.2 160.9 217.3 161.6 217.3 162.2 217.5 162.9 217.6 163.6 217.8 164.4 217.9 165.2 218.1 166 218.3 166.8 218.5 167.7 218.8 168.5 219 169.4 219.3 170.2 219.6 171.1 219.9 171.9 220.2 172.7 220.6 173.5 221 174.4 221.4 175.2 221.8 176.1 222.2 176.9 222.7 177.7 223.1 178.5 223.6 179.4 224.1 180.1 224.7 180.9 225.2 181.6 225.8 182.3 226.4 183 227.1 183.7 227.7 184.4 228.4 185 229.1 185.6 229.8 186.2 230.5 186.8 231.3 187.4 232.1 187.9 232.9 188.5 233.7 188.9 234.6 189.4 235.5 189.8 236.4 190.2 237.4 190.6 238.4 191 239.4 191.4 240.5 191.7 241.6 192 242.7 192.3 243.8 192.5 244.9 192.7 246.1 193 247.2 193.1 248.4 193.3 249.5 193.4 250.7 193.6 252 193.7 253.2 193.7 254.4 193.8 255.7 193.8 256.9 193.8 258.2 193.8 259.4 193.7 260.6 193.6 261.9 193.5 263.1 193.4 264.3 193.2 265.5 193 266.7 192.8 267.9 192.5 269.1 192.2 270.3 191.9 271.5 191.5 272.7 191.2 274 190.8 275.2 190.4 276.5 190 277.8 189.6 279.1 189.1 280.3 188.7 281.6 188.2 282.9 187.7 284.2 187.1 285.5 186.6 286.8 186 288.2 185.4 289.5 184.8 290.9 184.1 292.2 183.5 293.7 182.7 295.3 181.9 296.9 181 298.7 180 300.4 179 302.1 178 303.8 177.1 305.3 176.1 306.8 175.3 308.1 174.5 309.2 173.9 310.1 173.4 307.1 168 306.2 168.5 305.1 169.2 303.8 170 302.3 170.9 300.8 171.9 299.2 172.9 297.5 173.9 295.9 175 294.2 175.9 292.6 176.9 291.1 177.7 289.8 178.5 288.5 179.1 287.2 179.8 285.9 180.4 284.7 181 283.4 181.6 282.2 182.2 281 182.7 279.7 183.2 278.5 183.7 277.3 184.2 276.1 184.6 274.9 185.1 273.7 185.5 272.5 185.9 271.3 186.3 270.2 186.7 269 187 267.9 187.4 266.8 187.7 265.7 187.9 264.6 188.2 263.5 188.4 262.4 188.6 261.4 188.8 260.3 188.9 259.2 189 258 189.1 256.9 189.1 255.7 189.1 254.6 189.1 253.5 189.1 252.3 189.1 251.2 189 250.1 188.9 249 188.8 247.9 188.7 246.9 188.6 245.8 188.4 244.8 188.2 243.8 188 242.7 187.8 241.7 187.6 240.8 187.3 239.8 187 238.9 186.8 238.1 186.5 237.2 186.1 236.5 185.8 235.7 185.5 235 185.1 234.3 184.7 233.6 184.3 232.9 183.8 232.2 183.4 231.6 182.9 230.9 182.4 230.3 181.8 229.7 181.3 229.1 180.7 228.5 180.1 227.9 179.6 227.4 179 226.9 178.4 226.3 177.7 225.8 177 225.3 176.3 224.8 175.6 224.3 174.8 223.9 174.1 223.4 173.3 223 172.5 222.6 171.8 222.2 171.1 221.8 170.3 221.5 169.6 221.1 168.8 220.8 168 220.5 167.2 220.2 166.4 219.9 165.6 219.6 164.9 219.4 164.1 219.2 163.4 218.9 162.7 218.8 162.1 218.6 161.5 218.5 160.9 218.4 160.3 218.3 159.7 218.3 159.1 218.2 158.5 218.2 157.9 218.1 157.3 217.9 156.7 217.8 156.1 217.5 155.6 217.3 155.2 217.1 154.8 216.9 154.4 216.6 154 216.4 153.6 216 153.2 215.6 152.9 215.2 152.6 214.7 152.5 214.2 152.3 213.6 152.3 212.9 152.4 212.2 152.5 211.4 152.7 210.6 153 209.7 153.4 208.8 153.8 207.8 154.2 206.8 154.7 205.8 155.2 204.8 155.7 203.8 156.2 202.8 156.6 201.8 157.1 200.8 157.6 199.7 158.1 198.6 158.7 197.5 159.3 196.3 159.9 195.2 160.5 194.1 161.1 193 161.6 192 162.1 191.2 162.6 190.5 163 189.9 163.3Z" fill="#EE737A" opacity="0.8"/><ellipse cx="311" cy="175" rx="3.49" ry="10.25" transform="rotate(-29.05 311 175)" fill="#EC6C74"/>
<path d="M147.1 160.9 147.6 160.9 148.3 160.9 149.1 160.9 150 161 151 161 152.1 161.1 153.1 161.1 154.2 161.2 155.3 161.2 156.3 161.3 157.3 161.4 158.2 161.4 159 161.5 159.9 161.5 160.7 161.6 161.5 161.7 162.4 161.7 163.2 161.8 163.9 161.8 164.7 161.9 165.3 162 166 162.2 166.5 162.3 167.1 162.5 167.5 162.7 168 162.9 168.3 163 168.6 163.2 168.9 163.4 169.1 163.6 169.2 163.8 169.3 164 169.4 164.2 169.4 164.5 169.5 164.8 169.5 165.1 169.4 165.5 169.3 165.9 169.2 166.5 169 167.1 168.8 167.7 168.5 168.4 168.2 169.2 167.9 170 167.6 170.8 167.3 171.7 167 172.6 166.8 173.6 166.5 174.3 166.3 175.1 166 175.8 165.7 176.6 165.4 177.5 165.1 178.4 164.8 179.3 164.6 180.2 164.4 181.2 164.2 182.2 164 183.2 163.9 184.3 163.8 185.3 163.8 186.3 163.7 187.3 163.7 188.4 163.8 189.4 163.8 190.5 163.9 191.6 164.1 192.8 164.2 193.9 164.4 195.1 164.7 196.2 165 197.4 165.4 198.6 165.7 199.8 166.1 200.9 166.6 202.2 167.1 203.4 167.6 204.6 168.2 205.9 168.8 207.1 169.5 208.4 170.2 209.6 170.9 210.8 171.7 212 172.5 213.2 173.4 214.3 174.2 215.4 175.1 216.5 176.1 217.6 177.1 218.7 178.1 219.7 179.1 220.8 180.2 221.8 181.4 222.8 182.5 223.7 183.7 224.7 184.9 225.6 186.2 226.5 187.5 227.4 188.8 228.3 190.2 229.1 191.6 229.9 193 230.7 194.5 231.5 196 232.3 197.5 233 199 233.6 200.6 234.3 202.2 234.9 203.8 235.4 205.4 236 207 236.4 208.7 236.9 210.3 237.3 211.9 237.6 213.5 238 215 238.3 216.6 238.5 218.1 238.8 219.6 239.1 221.2 239.3 222.7 239.5 224.3 239.6 225.8 239.8 227.3 239.9 228.8 239.9 230.2 240 231.6 240 233 240.1 234.4 240.1 235.8 240.1 237.1 240.2 238.6 240.2 240.2 240.2 241.8 240.1 243.4 240.1 245 240 246.5 240 248 239.9 249.4 239.8 250.6 239.8 251.7 239.7 252.6 239.7 253.3 239.7 251.5 215.3 250.7 215.4 249.8 215.5 248.6 215.7 247.4 215.8 246.1 216 244.8 216.1 243.3 216.3 241.9 216.4 240.5 216.5 239.2 216.7 237.9 216.8 236.7 216.8 235.4 216.9 234.1 217 232.9 217 231.6 217.1 230.4 217.1 229.2 217.1 228 217.1 226.9 217.1 225.7 217.1 224.5 217.1 223.4 217 222.2 216.9 220.9 216.8 219.6 216.7 218.3 216.6 217 216.5 215.7 216.3 214.4 216.1 213.1 215.9 211.9 215.7 210.7 215.5 209.5 215.3 208.3 215 207.2 214.7 206.1 214.4 205 214.1 203.9 213.7 202.7 213.3 201.6 212.8 200.5 212.4 199.3 211.9 198.2 211.4 197.1 210.9 196.1 210.4 195.1 209.8 194.1 209.3 193.1 208.8 192.2 208.2 191.3 207.7 190.4 207.1 189.6 206.5 188.7 205.9 187.9 205.3 187.1 204.6 186.3 204 185.5 203.3 184.8 202.7 184.1 202 183.4 201.3 182.7 200.6 182 199.9 181.4 199.1 180.7 198.3 180.1 197.5 179.5 196.7 178.9 195.8 178.3 195 177.8 194.2 177.3 193.4 176.8 192.6 176.3 191.9 175.9 191.1 175.5 190.4 175.2 189.7 174.8 189 174.5 188.2 174.2 187.5 173.9 186.7 173.6 186 173.3 185.2 173.1 184.5 172.9 183.7 172.7 183 172.5 182.3 172.4 181.6 172.3 180.8 172.2 180.1 172.1 179.3 172.1 178.5 172.1 177.7 172 176.8 172 176 172 175.2 172 174.4 172 173.7 171.9 172.9 171.9 172 172 171.2 172 170.4 172.1 169.5 172.2 168.7 172.2 167.9 172.2 167.1 172.2 166.3 172.1 165.5 172 164.8 171.8 164.2 171.6 163.7 171.3 163.2 171 162.8 170.6 162.4 170.2 162.1 169.8 161.9 169.4 161.7 168.9 161.5 168.5 161.3 168 161.2 167.4 161 166.8 160.9 166.2 160.8 165.5 160.7 164.8 160.6 164 160.6 163.2 160.5 162.4 160.5 161.6 160.5 160.7 160.4 159.9 160.4 159 160.4 158.2 160.4 157.3 160.3 156.3 160.3 155.3 160.3 154.2 160.3 153.2 160.3 152.1 160.3 151 160.2 150.1 160.2 149.1 160.2 148.3 160.2 147.7 160.2 147.1 160.2Z" fill="#2A0608"/><path d="M147 160.6 147.5 160.6 148.2 160.6 149 160.7 149.9 160.7 150.9 160.7 151.9 160.7 153 160.8 154.1 160.8 155.1 160.9 156.1 160.9 157.1 160.9 158 161 158.8 161 159.7 161.1 160.5 161.1 161.3 161.2 162.2 161.2 163 161.3 163.7 161.3 164.4 161.4 165.1 161.5 165.8 161.6 166.3 161.7 166.8 161.9 167.3 162 167.7 162.2 168.1 162.4 168.4 162.5 168.6 162.7 168.8 162.8 168.9 163 169 163.2 169.1 163.4 169.1 163.6 169.1 163.8 169.1 164.1 169 164.5 168.9 164.8 168.8 165.3 168.5 165.8 168.3 166.4 168 167 167.6 167.7 167.3 168.4 167 169.2 166.6 169.9 166.3 170.8 166 171.6 165.8 172.3 165.5 173.1 165.2 173.9 165 174.7 164.7 175.5 164.4 176.4 164.2 177.3 163.9 178.2 163.7 179.2 163.5 180.2 163.4 181.2 163.3 182.3 163.2 183.3 163.1 184.3 163.1 185.3 163.1 186.3 163.2 187.4 163.2 188.5 163.3 189.6 163.5 190.7 163.6 191.8 163.9 193 164.1 194.1 164.4 195.3 164.8 196.4 165.2 197.6 165.6 198.8 166 200 166.5 201.2 167.1 202.4 167.7 203.7 168.3 204.9 168.9 206.1 169.6 207.3 170.4 208.6 171.2 209.7 172 210.9 172.8 212 173.7 213.1 174.6 214.2 175.5 215.2 176.5 216.3 177.5 217.3 178.6 218.4 179.6 219.4 180.8 220.4 181.9 221.3 183.1 222.3 184.3 223.2 185.6 224.1 186.9 224.9 188.2 225.8 189.6 226.6 190.9 227.4 192.4 228.2 193.8 229 195.3 229.7 196.8 230.4 198.3 231.1 199.8 231.7 201.4 232.3 203 232.9 204.7 233.4 206.3 233.8 207.9 234.3 209.5 234.7 211.1 235 212.7 235.3 214.2 235.6 215.8 235.9 217.3 236.2 218.8 236.4 220.3 236.6 221.9 236.8 223.4 237 224.9 237.1 226.4 237.2 227.9 237.3 229.3 237.4 230.7 237.4 232.1 237.4 233.5 237.5 234.8 237.5 236.2 237.5 237.7 237.5 239.3 237.5 240.9 237.5 242.5 237.4 244.1 237.3 245.6 237.3 247.1 237.2 248.4 237.1 249.7 237.1 250.7 237 251.6 237 252.3 237 250.7 214 249.9 214.1 248.9 214.2 247.8 214.3 246.6 214.5 245.3 214.6 243.9 214.8 242.5 214.9 241.1 215.1 239.6 215.2 238.3 215.3 237 215.4 235.8 215.5 234.5 215.6 233.2 215.6 232 215.7 230.7 215.7 229.5 215.7 228.3 215.8 227.1 215.8 225.9 215.8 224.8 215.7 223.6 215.7 222.4 215.7 221.2 215.6 220 215.5 218.6 215.3 217.3 215.2 216 215.1 214.7 214.9 213.4 214.7 212.1 214.5 210.8 214.3 209.6 214.1 208.4 213.8 207.3 213.6 206.2 213.3 205 213 203.9 212.6 202.7 212.2 201.6 211.8 200.4 211.3 199.3 210.9 198.2 210.4 197.1 209.9 196 209.4 194.9 208.8 193.9 208.3 192.9 207.7 191.9 207.2 191 206.6 190.1 206.1 189.2 205.5 188.4 204.9 187.5 204.3 186.7 203.6 185.9 203 185.1 202.3 184.3 201.6 183.5 201 182.8 200.3 182.1 199.6 181.5 198.9 180.8 198.1 180.1 197.3 179.5 196.5 178.9 195.7 178.2 194.9 177.7 194 177.1 193.2 176.5 192.3 176 191.5 175.6 190.7 175.1 190 174.7 189.2 174.3 188.5 173.9 187.8 173.6 187 173.3 186.3 173 185.5 172.7 184.8 172.4 184 172.2 183.3 171.9 182.5 171.7 181.7 171.6 181 171.4 180.3 171.3 179.6 171.2 178.8 171.1 178 171 177.2 171 176.4 171 175.6 171 174.8 171 174 171 173.2 171 172.4 171 171.7 171 171 171.1 170.3 171.2 169.6 171.3 168.8 171.4 168.1 171.5 167.3 171.6 166.6 171.6 165.9 171.6 165.2 171.6 164.5 171.5 163.9 171.3 163.3 171.1 162.8 170.9 162.4 170.6 162 170.2 161.7 169.9 161.4 169.5 161.2 169.1 161 168.6 160.9 168.2 160.8 167.7 160.6 167.2 160.5 166.6 160.4 166 160.3 165.3 160.2 164.6 160.2 163.8 160.1 163 160.1 162.2 160.1 161.4 160.1 160.5 160 159.7 160 158.9 160 158 160 157.1 160 156.2 160 155.1 160 154.1 160 153 160 151.9 160 150.9 160 149.9 160 149 160 148.2 160 147.5 160 147 160Z" fill="#C44850"/><path d="M147 160.6 147.5 160.6 148.2 160.6 149 160.7 149.9 160.7 150.9 160.7 151.9 160.7 153 160.8 154.1 160.8 155.1 160.9 156.1 160.9 157.1 160.9 158 161 158.8 161 159.7 161.1 160.5 161.1 161.3 161.2 162.2 161.2 163 161.3 163.7 161.3 164.4 161.4 165.1 161.5 165.8 161.6 166.3 161.7 166.8 161.9 167.3 162 167.7 162.2 168.1 162.4 168.4 162.5 168.6 162.7 168.8 162.8 168.9 163 169 163.2 169.1 163.4 169.1 163.6 169.1 163.8 169.1 164.1 169 164.5 168.9 164.8 168.8 165.3 168.5 165.8 168.3 166.4 168 167 167.6 167.7 167.3 168.4 167 169.2 166.6 169.9 166.3 170.8 166 171.6 165.8 172.3 165.5 173.1 165.2 173.9 165 174.7 164.7 175.5 164.4 176.4 164.2 177.3 163.9 178.2 163.7 179.2 163.5 180.2 163.4 181.2 163.3 182.3 163.2 183.3 163.1 184.3 163.1 185.3 163.1 186.3 163.2 187.4 163.2 188.5 163.3 189.6 163.5 190.7 163.6 191.8 163.9 193 164.1 194.1 164.4 195.3 164.8 196.4 165.2 197.6 165.6 198.8 166 200 166.5 201.2 167.1 202.4 167.7 203.7 168.3 204.9 168.9 206.1 169.6 207.3 170.4 208.6 171.2 209.7 172 210.9 172.8 212 173.7 213.1 174.6 214.2 175.5 215.2 176.5 216.3 177.5 217.3 178.6 218.4 179.6 219.4 180.8 220.4 181.9 221.3 183.1 222.3 184.3 223.2 185.6 224.1 186.9 224.9 188.2 225.8 189.6 226.6 190.9 227.4 192.4 228.2 193.8 229 195.3 229.7 196.8 230.4 198.3 231.1 199.8 231.7 201.4 232.3 203 232.9 204.7 233.4 206.3 233.8 207.9 234.3 209.5 234.7 211.1 235 212.7 235.3 214.2 235.6 215.8 235.9 217.3 236.2 218.8 236.4 220.3 236.6 221.9 236.8 223.4 237 224.9 237.1 226.4 237.2 227.9 237.3 229.3 237.4 230.7 237.4 232.1 237.4 233.5 237.5 234.8 237.5 236.2 237.5 237.7 237.5 239.3 237.5 240.9 237.5 242.5 237.4 244.1 237.3 245.6 237.3 247.1 237.2 248.4 237.1 249.7 237.1 250.7 237 251.6 237 252.3 237 251 219.1 250.3 219.1 249.3 219.2 248.2 219.3 247 219.5 245.7 219.6 244.3 219.7 242.8 219.9 241.4 220 239.9 220.1 238.5 220.2 237.2 220.3 235.9 220.3 234.6 220.4 233.3 220.4 232 220.5 230.7 220.5 229.5 220.5 228.2 220.5 227 220.5 225.7 220.5 224.5 220.4 223.2 220.4 222 220.3 220.7 220.2 219.4 220 218 219.9 216.6 219.7 215.3 219.5 213.9 219.3 212.5 219.1 211.2 218.9 209.8 218.6 208.5 218.3 207.2 218 206 217.7 204.8 217.3 203.6 216.9 202.3 216.5 201.1 216.1 199.9 215.6 198.7 215.1 197.5 214.5 196.3 214 195.1 213.4 194 212.8 192.9 212.2 191.8 211.6 190.7 210.9 189.7 210.3 188.8 209.7 187.8 209 186.9 208.3 186 207.6 185.1 206.9 184.2 206.2 183.4 205.4 182.6 204.7 181.8 203.9 181 203.1 180.3 202.3 179.5 201.6 178.9 200.7 178.2 199.9 177.5 199 176.9 198.1 176.3 197.2 175.7 196.3 175.1 195.3 174.6 194.4 174 193.5 173.6 192.6 173.1 191.7 172.7 190.9 172.3 190.1 172 189.2 171.6 188.4 171.3 187.6 171.1 186.8 170.8 185.9 170.6 185.1 170.4 184.3 170.2 183.5 170 182.7 169.9 181.8 169.8 181.1 169.7 180.3 169.6 179.5 169.6 178.7 169.6 177.9 169.6 177.1 169.6 176.2 169.7 175.4 169.7 174.6 169.8 173.8 169.8 173 169.9 172.2 169.9 171.5 170 170.8 170.2 170.1 170.3 169.3 170.5 168.6 170.6 167.8 170.8 167.1 170.9 166.4 171 165.7 171 165.1 171 164.5 171 163.9 170.8 163.4 170.7 163 170.5 162.6 170.2 162.3 169.9 162 169.6 161.7 169.3 161.5 168.9 161.4 168.5 161.2 168.1 161.1 167.6 161 167.1 160.8 166.5 160.7 165.9 160.6 165.2 160.5 164.5 160.5 163.8 160.4 163 160.4 162.2 160.3 161.4 160.3 160.5 160.3 159.7 160.3 158.8 160.2 158 160.2 157.1 160.2 156.2 160.2 155.1 160.2 154.1 160.2 153 160.1 151.9 160.1 150.9 160.1 149.9 160.1 149 160.1 148.2 160.1 147.5 160.1 147 160.1Z" fill="#E6626A"/><path d="M147 160.5 147.5 160.6 148.2 160.6 149 160.6 149.9 160.6 150.9 160.6 151.9 160.7 153 160.7 154.1 160.7 155.1 160.8 156.1 160.8 157.1 160.8 158 160.9 158.8 160.9 159.7 161 160.5 161 161.3 161.1 162.2 161.1 163 161.1 163.7 161.2 164.5 161.3 165.1 161.4 165.8 161.5 166.3 161.6 166.9 161.7 167.3 161.9 167.7 162 168.1 162.2 168.4 162.4 168.7 162.5 168.9 162.7 169.1 162.9 169.2 163.1 169.3 163.3 169.3 163.5 169.4 163.8 169.4 164.1 169.3 164.5 169.2 164.9 169.1 165.4 168.9 165.9 168.6 166.5 168.3 167.2 168 167.8 167.7 168.5 167.4 169.3 167.1 170.1 166.8 170.9 166.6 171.7 166.3 172.4 166.1 173.2 165.9 174 165.6 174.8 165.4 175.6 165.1 176.5 164.9 177.4 164.7 178.3 164.5 179.2 164.4 180.2 164.2 181.2 164.2 182.2 164.1 183.2 164.1 184.2 164.1 185.2 164.2 186.2 164.2 187.2 164.3 188.2 164.4 189.3 164.6 190.4 164.8 191.4 165 192.5 165.3 193.7 165.6 194.8 166 195.9 166.4 197 166.8 198.2 167.3 199.3 167.8 200.5 168.4 201.7 168.9 202.9 169.6 204.1 170.2 205.3 170.9 206.4 171.7 207.6 172.4 208.7 173.2 209.8 174.1 210.9 174.9 211.9 175.8 213 176.7 214 177.7 215 178.7 216 179.7 217 180.8 217.9 181.9 218.9 183 219.8 184.2 220.7 185.4 221.6 186.6 222.4 187.9 223.3 189.2 224.1 190.5 224.9 191.9 225.7 193.2 226.4 194.7 227.1 196.1 227.8 197.5 228.5 199 229.1 200.5 229.7 202.1 230.3 203.6 230.8 205.2 231.3 206.8 231.7 208.3 232.1 209.9 232.5 211.5 232.8 213 233.2 214.6 233.4 216.1 233.7 217.6 233.9 219 234.2 220.5 234.4 222.1 234.6 223.6 234.7 225 234.8 226.5 234.9 227.9 235 229.3 235 230.7 235.1 232.1 235.1 233.5 235.1 234.8 235.1 236.2 235.1 237.6 235.1 239.2 235.1 240.8 235 242.3 235 243.9 234.9 245.4 234.9 246.9 234.8 248.2 234.7 249.5 234.6 250.5 234.6 251.4 234.5 252.1 234.5 251.6 227.6 250.9 227.7 250 227.7 248.9 227.8 247.7 227.9 246.3 228 244.9 228.1 243.4 228.2 241.9 228.3 240.4 228.4 238.9 228.4 237.4 228.5 236 228.5 234.7 228.5 233.4 228.5 232.1 228.6 230.7 228.6 229.4 228.5 228.1 228.5 226.7 228.5 225.3 228.4 224 228.3 222.6 228.2 221.2 228.1 219.8 227.9 218.4 227.7 216.9 227.5 215.5 227.3 214 227.1 212.6 226.8 211.1 226.5 209.6 226.2 208.1 225.9 206.7 225.5 205.2 225.1 203.8 224.7 202.4 224.2 201 223.7 199.7 223.2 198.3 222.6 197 222 195.7 221.3 194.4 220.7 193.1 220 191.8 219.3 190.6 218.6 189.4 217.8 188.2 217.1 187.1 216.3 186 215.6 184.9 214.8 183.9 213.9 182.9 213.1 181.9 212.3 181 211.4 180.1 210.5 179.2 209.6 178.3 208.7 177.5 207.8 176.7 206.8 175.9 205.9 175.2 204.9 174.5 203.9 173.8 202.9 173.1 201.8 172.5 200.7 171.9 199.7 171.3 198.6 170.8 197.5 170.3 196.5 169.8 195.4 169.4 194.4 169 193.4 168.6 192.4 168.3 191.4 168 190.5 167.7 189.5 167.5 188.5 167.3 187.6 167.2 186.6 167 185.7 166.9 184.8 166.8 183.9 166.8 183 166.7 182.1 166.7 181.1 166.7 180.2 166.8 179.3 166.9 178.5 167 177.6 167.1 176.7 167.3 175.9 167.4 175.1 167.6 174.2 167.7 173.5 167.9 172.7 168 171.9 168.2 171.2 168.4 170.4 168.6 169.6 168.9 168.9 169.1 168.2 169.4 167.5 169.6 166.8 169.8 166.1 169.9 165.5 170 165 170.1 164.5 170.1 164 170 163.6 169.9 163.3 169.8 163 169.6 162.7 169.5 162.5 169.2 162.3 169 162.1 168.6 161.9 168.3 161.8 167.9 161.6 167.5 161.5 167 161.3 166.4 161.2 165.8 161.1 165.2 161 164.5 160.9 163.7 160.8 163 160.8 162.2 160.8 161.4 160.7 160.5 160.7 159.7 160.7 158.8 160.6 158 160.6 157.1 160.6 156.2 160.5 155.1 160.5 154.1 160.5 153 160.4 151.9 160.4 150.9 160.4 149.9 160.4 149 160.4 148.2 160.4 147.5 160.4 147 160.4Z" fill="#EE737A" opacity="0.8"/><ellipse cx="251.5" cy="225.5" rx="3.91" ry="11.5" transform="rotate(-3.69 251.5 225.5)" fill="#EC6C74"/>
</g>
<g id="pd">
<defs>
<linearGradient id="yelg" x1="73" x2="473" y1="0" y2="0" gradientUnits="userSpaceOnUse"><stop offset="0" stop-color="#EBDD6A"/><stop offset="0.25" stop-color="#DDCF58"/><stop offset="0.55" stop-color="#C2B84C"/><stop offset="0.75" stop-color="#A29C42"/><stop offset="1" stop-color="#7C7A30"/></linearGradient>
<linearGradient id="blug" x1="55" x2="453" y1="0" y2="0" gradientUnits="userSpaceOnUse"><stop offset="0" stop-color="#E6EEF9"/><stop offset="0.3" stop-color="#C3D8F0"/><stop offset="0.6" stop-color="#8DB9E6"/><stop offset="0.8" stop-color="#4F97D6"/><stop offset="1" stop-color="#2E80C4"/></linearGradient>
<linearGradient id="elecD" x1="0" x2="0" y1="0" y2="1"><stop offset="0" stop-color="#E6E6E6"/><stop offset="0.5" stop-color="#B8B8B8"/><stop offset="1" stop-color="#8E8E8E"/></linearGradient>
<radialGradient id="circD" cx="0.5" cy="0.45" r="0.6"><stop offset="0" stop-color="#D2E4F8"/><stop offset="1" stop-color="#B6CDEA"/></radialGradient>
<clipPath id="circDclip"><ellipse cx="106.5" cy="466" rx="40.6" ry="41.9"/></clipPath><filter id="blur1"><feGaussianBlur stdDeviation="0.6"/></filter>
<filter id="blur2"><feGaussianBlur stdDeviation="1.6"/></filter>
</defs>
<path d="M126.2 368.1 L125.09 368.41 L123.59 368.83 L121.8 369.32 L119.83 369.86 L117.76 370.45 L115.7 371.04 L113.75 371.64 L112 372.2 L110.46 372.73 L109.03 373.25 L107.67 373.77 L106.34 374.31 L104.99 374.86 L103.58 375.46 L102.06 376.1 L100.4 376.8 L98.54 377.58 L96.5 378.43 L94.34 379.33 L92.13 380.26 L89.93 381.22 L87.8 382.17 L85.8 383.1 L84 384 L82.34 384.89 L80.74 385.79 L79.21 386.69 L77.78 387.59 L76.48 388.46 L75.31 389.29 L74.31 390.08 L73.5 390.8 L72.92 391.45 L72.56 392.04 L72.38 392.59 L72.34 393.09 L72.38 393.58 L72.47 394.05 L72.56 394.52 L72.6 395 L72.56 395.46 L72.48 395.88 L72.4 396.27 L72.36 396.66 L72.41 397.07 L72.59 397.53 L72.93 398.07 L73.5 398.7 L74.24 399.44 L75.09 400.29 L76.07 401.2 L77.21 402.16 L78.51 403.15 L79.99 404.13 L81.69 405.09 L83.6 406 L85.73 406.88 L88.07 407.77 L90.6 408.65 L93.32 409.52 L96.23 410.38 L99.32 411.19 L102.58 411.97 L106 412.7 L109.67 413.38 L113.63 414.03 L117.81 414.65 L122.15 415.23 L126.57 415.78 L131.02 416.29 L135.42 416.76 L139.7 417.2 L143.95 417.59 L148.27 417.94 L152.61 418.24 L156.94 418.51 L161.21 418.76 L165.39 418.98 L169.43 419.19 L173.3 419.4 L176.86 419.58 L180.1 419.73 L183.15 419.86 L186.13 419.97 L189.17 420.08 L192.41 420.19 L195.98 420.33 L200 420.5 L204.52 420.71 L209.45 420.94 L214.67 421.19 L220.11 421.46 L225.65 421.72 L231.21 421.97 L236.69 422.2 L242 422.4 L247.27 422.57 L252.65 422.73 L258.06 422.87 L263.44 422.99 L268.69 423.11 L273.76 423.21 L278.55 423.31 L283 423.4 L287.03 423.48 L290.69 423.55 L294.07 423.61 L297.26 423.66 L300.35 423.71 L303.44 423.74 L306.63 423.77 L310 423.8 L313.72 423.82 L317.77 423.83 L321.97 423.83 L326.14 423.82 L330.1 423.82 L333.66 423.81 L336.66 423.8 L338.9 423.8 L331.5 433.9 L472.8 407.4 L357.1 385.5 L349.7 400.3 L348.18 400.46 L346.17 400.67 L343.77 400.92 L341.1 401.21 L338.28 401.51 L335.41 401.81 L332.61 402.11 L330 402.4 L327.56 402.68 L325.19 402.98 L322.83 403.28 L320.46 403.59 L318.03 403.89 L315.5 404.18 L312.84 404.45 L310 404.7 L307.06 404.93 L304.07 405.14 L301 405.34 L297.81 405.52 L294.46 405.7 L290.9 405.87 L287.09 406.04 L283 406.2 L278.55 406.36 L273.76 406.52 L268.69 406.68 L263.44 406.82 L258.06 406.96 L252.65 407.09 L247.27 407.2 L242 407.3 L236.77 407.39 L231.47 407.48 L226.14 407.55 L220.81 407.62 L215.49 407.66 L210.24 407.68 L205.06 407.66 L200 407.6 L195.04 407.5 L190.14 407.38 L185.3 407.22 L180.52 407.03 L175.82 406.82 L171.18 406.57 L166.6 406.3 L162.1 406 L157.6 405.68 L153.08 405.33 L148.6 404.95 L144.19 404.55 L139.93 404.12 L135.86 403.65 L132.03 403.14 L128.5 402.6 L125.26 402.01 L122.25 401.38 L119.45 400.71 L116.86 400.01 L114.47 399.28 L112.25 398.53 L110.2 397.77 L108.3 397 L106.57 396.21 L105.03 395.38 L103.66 394.52 L102.47 393.65 L101.44 392.78 L100.58 391.92 L99.87 391.09 L99.3 390.3 L98.88 389.56 L98.6 388.88 L98.48 388.22 L98.51 387.58 L98.72 386.92 L99.09 386.24 L99.65 385.5 L100.4 384.7 L101.43 383.8 L102.78 382.81 L104.36 381.76 L106.09 380.68 L107.89 379.61 L109.66 378.59 L111.33 377.64 L112.8 376.8 L114.08 376.07 L115.26 375.43 L116.36 374.85 L117.42 374.32 L118.48 373.82 L119.57 373.32 L120.73 372.82 L122 372.3 L123.46 371.73 L125.1 371.13 L126.86 370.52 L128.62 369.92 L130.32 369.35 L131.86 368.85 L133.15 368.42 L134.1 368.1Z" fill="url(#yelg)"/>
<path d="M126.2 368.1 L125.16 368.44 L123.75 368.88 L122.08 369.4 L120.23 369.99 L118.3 370.61 L116.38 371.25 L114.59 371.89 L113 372.5 L111.6 373.09 L110.27 373.67 L109.02 374.27 L107.8 374.87 L106.61 375.49 L105.42 376.13 L104.23 376.8 L103 377.5 L101.69 378.24 L100.28 379.02 L98.83 379.83 L97.41 380.66 L96.05 381.5 L94.83 382.34 L93.8 383.18 L93 384 L92.45 384.82 L92.09 385.65 L91.9 386.48 L91.84 387.31 L91.9 388.14 L92.05 388.95 L92.26 389.74 L92.5 390.5 L92.78 391.24 L93.12 391.96 L93.54 392.66 L94.03 393.34 L94.62 394.02 L95.3 394.68 L96.09 395.34 L97 396 L98 396.65 L99.07 397.3 L100.23 397.93 L101.5 398.56 L102.89 399.18 L104.43 399.8 L106.13 400.4 L108 401 L110.02 401.59 L112.15 402.17 L114.42 402.75 L116.84 403.31 L119.44 403.87 L122.24 404.42 L125.25 404.96 L128.5 405.5 L132.03 406.04 L135.86 406.59 L139.91 407.15 L144.16 407.69 L148.54 408.21 L153 408.69 L157.51 409.12 L162 409.5 L166.79 409.82 L172.07 410.09 L177.59 410.31 L183.09 410.5 L188.34 410.66 L193.07 410.79 L197.04 410.9 L200 411Z" fill="none"/>
<path d="M126.2 368.1 L125.16 368.44 L123.75 368.88 L122.08 369.4 L120.23 369.99 L118.3 370.61 L116.38 371.25 L114.59 371.89 L113 372.5 L111.6 373.09 L110.27 373.67 L109.02 374.27 L107.8 374.87 L106.61 375.49 L105.42 376.13 L104.23 376.8 L103 377.5 L101.69 378.24 L100.28 379.02 L98.83 379.83 L97.41 380.66 L96.05 381.5 L94.83 382.34 L93.8 383.18 L93 384 L92.45 384.82 L92.09 385.65 L91.9 386.48 L91.84 387.31 L91.9 388.14 L92.05 388.95 L92.26 389.74 L92.5 390.5 L92.78 391.24 L93.12 391.96 L93.54 392.66 L94.03 393.34 L94.62 394.02 L95.3 394.68 L96.09 395.34 L97 396 L98 396.65 L99.07 397.3 L100.23 397.93 L101.5 398.56 L102.89 399.18 L104.43 399.8 L106.13 400.4 L108 401 L110.02 401.59 L112.15 402.17 L114.42 402.75 L116.84 403.31 L119.44 403.87 L122.24 404.42 L125.25 404.96 L128.5 405.5 L132.03 406.04 L135.86 406.59 L139.91 407.15 L144.16 407.69 L148.54 408.21 L153 408.69 L157.51 409.12 L162 409.5 L166.79 409.82 L172.07 410.09 L177.59 410.31 L183.09 410.5 L188.34 410.66 L193.07 410.79 L197.04 410.9 L200 411 L200 407.6 L195.04 407.5 L190.14 407.38 L185.3 407.22 L180.52 407.03 L175.82 406.82 L171.18 406.57 L166.6 406.3 L162.1 406 L157.6 405.68 L153.08 405.33 L148.6 404.95 L144.19 404.55 L139.93 404.12 L135.86 403.65 L132.03 403.14 L128.5 402.6 L125.26 402.01 L122.25 401.38 L119.45 400.71 L116.86 400.01 L114.47 399.28 L112.25 398.53 L110.2 397.77 L108.3 397 L106.57 396.21 L105.03 395.38 L103.66 394.52 L102.47 393.65 L101.44 392.78 L100.58 391.92 L99.87 391.09 L99.3 390.3 L98.88 389.56 L98.6 388.88 L98.48 388.22 L98.51 387.58 L98.72 386.92 L99.09 386.24 L99.65 385.5 L100.4 384.7 L101.43 383.8 L102.78 382.81 L104.36 381.76 L106.09 380.68 L107.89 379.61 L109.66 378.59 L111.33 377.64 L112.8 376.8 L114.08 376.07 L115.26 375.43 L116.36 374.85 L117.42 374.32 L118.48 373.82 L119.57 373.32 L120.73 372.82 L122 372.3 L123.46 371.73 L125.1 371.13 L126.86 370.52 L128.62 369.92 L130.32 369.35 L131.86 368.85 L133.15 368.42 L134.1 368.1Z" fill="#CFC352" opacity="0.55"/>
<defs><linearGradient id="yhead" x1="0" x2="0.25" y1="0" y2="1"><stop offset="0" stop-color="#D0C656" stop-opacity="0.9"/><stop offset="0.5" stop-color="#A8A044" stop-opacity="0.3"/><stop offset="1" stop-color="#6E6A2A" stop-opacity="0.55"/></linearGradient><linearGradient id="bhead" x1="0" x2="0.25" y1="0" y2="1"><stop offset="0" stop-color="#B4D0F0" stop-opacity="0.95"/><stop offset="0.5" stop-color="#5C9CD8" stop-opacity="0.3"/><stop offset="1" stop-color="#2A78BE" stop-opacity="0.6"/></linearGradient></defs>
<path d="M331.5 433.9L472.8 407.4L357.1 385.5L349.7 400.3L338.9 423.8Z" fill="url(#yhead)"/>
<path d="M331.5 433.9L472.8 407.4L470 409.4L335 435.2Z" fill="#E6DA52"/>
<text x="171.2" y="419.3" font-family='"DejaVu Sans", "Liberation Sans", sans-serif' font-size="13" font-weight="bold" fill="#fff" stroke="#fff" stroke-width="0.25" text-anchor="start" textLength="195" lengthAdjust="spacingAndGlyphs">Increase orientation</text>
<path d="M104.6 519.3 L103.47 519.7 L101.96 520.22 L100.17 520.84 L98.18 521.54 L96.08 522.28 L93.96 523.04 L91.9 523.79 L90 524.5 L88.21 525.18 L86.44 525.86 L84.67 526.55 L82.91 527.24 L81.15 527.96 L79.4 528.7 L77.65 529.48 L75.9 530.3 L74.11 531.19 L72.25 532.14 L70.37 533.15 L68.51 534.17 L66.71 535.19 L64.99 536.19 L63.41 537.13 L62 538 L60.75 538.81 L59.61 539.58 L58.58 540.32 L57.65 541.02 L56.82 541.7 L56.09 542.33 L55.45 542.93 L54.9 543.5 L54.46 544.02 L54.15 544.49 L53.95 544.92 L53.84 545.33 L53.79 545.7 L53.78 546.07 L53.79 546.43 L53.8 546.8 L53.74 547.13 L53.59 547.39 L53.44 547.61 L53.34 547.84 L53.37 548.1 L53.6 548.45 L54.08 548.9 L54.9 549.5 L56.01 550.28 L57.32 551.21 L58.85 552.25 L60.6 553.37 L62.57 554.52 L64.78 555.67 L67.22 556.78 L69.9 557.8 L72.88 558.77 L76.19 559.73 L79.76 560.69 L83.54 561.62 L87.49 562.52 L91.55 563.39 L95.67 564.22 L99.8 565 L104 565.73 L108.36 566.41 L112.83 567.05 L117.38 567.66 L121.98 568.24 L126.59 568.78 L131.18 569.3 L135.7 569.8 L140.23 570.27 L144.83 570.7 L149.45 571.11 L154.06 571.49 L158.61 571.84 L163.07 572.18 L167.38 572.49 L171.5 572.8 L175.3 573.09 L178.75 573.36 L182 573.62 L185.18 573.85 L188.42 574.07 L191.89 574.26 L195.7 574.44 L200 574.6 L204.84 574.74 L210.09 574.86 L215.67 574.96 L221.47 575.04 L227.4 575.1 L233.36 575.15 L239.26 575.18 L245 575.2 L250.72 575.2 L256.58 575.17 L262.49 575.12 L268.38 575.06 L274.16 574.99 L279.74 574.92 L285.05 574.85 L290 574.8 L294.75 574.76 L299.44 574.71 L303.98 574.67 L308.26 574.62 L312.2 574.59 L315.68 574.55 L318.61 574.52 L320.9 574.5 L312.2 584.6 L453.5 558.3 L337.8 536.1 L331.7 550.3 L330.01 550.51 L327.76 550.8 L325.08 551.15 L322.1 551.52 L318.97 551.92 L315.81 552.31 L312.78 552.68 L310 553 L307.59 553.28 L305.47 553.52 L303.47 553.75 L301.46 553.97 L299.26 554.19 L296.72 554.43 L293.68 554.7 L290 555 L285.57 555.35 L280.51 555.76 L274.96 556.19 L269.06 556.64 L262.97 557.08 L256.84 557.5 L250.8 557.88 L245 558.2 L239.34 558.48 L233.64 558.75 L227.92 559 L222.21 559.21 L216.54 559.39 L210.93 559.52 L205.4 559.59 L200 559.6 L194.7 559.53 L189.47 559.39 L184.32 559.19 L179.23 558.94 L174.22 558.66 L169.28 558.37 L164.4 558.08 L159.6 557.8 L154.86 557.55 L150.17 557.32 L145.54 557.1 L140.99 556.86 L136.53 556.58 L132.15 556.26 L127.87 555.87 L123.7 555.4 L119.56 554.83 L115.41 554.17 L111.31 553.45 L107.32 552.68 L103.52 551.87 L99.95 551.06 L96.69 550.27 L93.8 549.5 L91.28 548.75 L89.06 548.01 L87.13 547.26 L85.46 546.51 L84 545.75 L82.74 545 L81.65 544.25 L80.7 543.5 L79.9 542.77 L79.28 542.06 L78.86 541.36 L78.61 540.65 L78.56 539.93 L78.68 539.17 L79 538.36 L79.5 537.5 L80.27 536.54 L81.36 535.48 L82.68 534.37 L84.16 533.23 L85.73 532.09 L87.31 531 L88.82 529.99 L90.2 529.1 L91.45 528.33 L92.64 527.64 L93.8 527.02 L94.96 526.46 L96.14 525.92 L97.35 525.39 L98.63 524.86 L100 524.3 L101.55 523.69 L103.31 523.05 L105.18 522.39 L107.06 521.75 L108.87 521.14 L110.51 520.6 L111.88 520.15 L112.9 519.8Z" fill="url(#blug)"/>
<path d="M104.6 519.3 L103.62 519.69 L102.32 520.2 L100.77 520.81 L99.05 521.49 L97.23 522.23 L95.4 522.99 L93.63 523.75 L92 524.5 L90.45 525.24 L88.89 526.01 L87.32 526.8 L85.78 527.61 L84.25 528.43 L82.77 529.27 L81.35 530.13 L80 531 L78.68 531.9 L77.35 532.85 L76.05 533.83 L74.81 534.81 L73.66 535.79 L72.62 536.74 L71.72 537.65 L71 538.5 L70.44 539.28 L70.02 540.02 L69.73 540.71 L69.56 541.38 L69.51 542.03 L69.57 542.67 L69.74 543.33 L70 544 L70.35 544.69 L70.77 545.39 L71.3 546.08 L71.94 546.78 L72.71 547.47 L73.63 548.16 L74.72 548.84 L76 549.5 L77.41 550.15 L78.93 550.77 L80.58 551.39 L82.39 552 L84.41 552.61 L86.66 553.23 L89.18 553.85 L92 554.5 L95.18 555.18 L98.72 555.91 L102.55 556.66 L106.61 557.41 L110.81 558.14 L115.11 558.82 L119.43 559.45 L123.7 560 L127.96 560.47 L132.27 560.87 L136.66 561.22 L141.11 561.53 L145.62 561.8 L150.21 562.05 L154.87 562.28 L159.6 562.5 L164.71 562.7 L170.33 562.88 L176.2 563.03 L182.04 563.16 L187.61 563.26 L192.64 563.36 L196.85 563.43 L200 563.5 L200 559.6 L194.7 559.53 L189.47 559.39 L184.32 559.19 L179.23 558.94 L174.22 558.66 L169.28 558.37 L164.4 558.08 L159.6 557.8 L154.86 557.55 L150.17 557.32 L145.54 557.1 L140.99 556.86 L136.53 556.58 L132.15 556.26 L127.87 555.87 L123.7 555.4 L119.56 554.83 L115.41 554.17 L111.31 553.45 L107.32 552.68 L103.52 551.87 L99.95 551.06 L96.69 550.27 L93.8 549.5 L91.28 548.75 L89.06 548.01 L87.13 547.26 L85.46 546.51 L84 545.75 L82.74 545 L81.65 544.25 L80.7 543.5 L79.9 542.77 L79.28 542.06 L78.86 541.36 L78.61 540.65 L78.56 539.93 L78.68 539.17 L79 538.36 L79.5 537.5 L80.27 536.54 L81.36 535.48 L82.68 534.37 L84.16 533.23 L85.73 532.09 L87.31 531 L88.82 529.99 L90.2 529.1 L91.45 528.33 L92.64 527.64 L93.8 527.02 L94.96 526.46 L96.14 525.92 L97.35 525.39 L98.63 524.86 L100 524.3 L101.55 523.69 L103.31 523.05 L105.18 522.39 L107.06 521.75 L108.87 521.14 L110.51 520.6 L111.88 520.15 L112.9 519.8Z" fill="#A9C2E8" opacity="0.6"/>
<path d="M312.2 584.6L453.5 558.3L337.8 536.1L331.7 550.3L320.9 574.5Z" fill="url(#bhead)"/>
<path d="M312.2 584.6L453.5 558.3L451 560.3L316 585.8Z" fill="#C4DAF4"/>
<text x="171.2" y="570.2" font-family='"DejaVu Sans", "Liberation Sans", sans-serif' font-size="13" font-weight="bold" fill="#fff" stroke="#fff" stroke-width="0.25" text-anchor="start" textLength="157.5" lengthAdjust="spacingAndGlyphs">Increase voltage</text>
<ellipse cx="106.5" cy="466" rx="45.2" ry="46.5" fill="#fff" stroke="#2F8EDA" stroke-width="3.9"/>
<ellipse cx="106.5" cy="466" rx="40.6" ry="41.9" fill="url(#circD)"/>
<g stroke="#fff" stroke-width="0.9" opacity="0.75" fill="none" clip-path="url(#circDclip)"><path d="M82 445L80 500M86 445L90 500M82 455L88 470L81 485M123 442L118 480L128 505M127 442L134 475L126 500M122 455L130 462L120 475"/><path d="M70 440L150 452M65 470L100 478" stroke-width="0.5"/></g>
<path d="M88.6 434.2 88.7 435.1 88.8 436.3 89 437.7 89.2 439.3 89.3 440.9 89.4 442.5 89.5 444 89.5 445.4 89.4 446.8 89.2 448.4 89.1 449.9 88.9 451.5 88.6 453 88.3 454.4 88 455.7 87.7 456.8 87.3 457.7 86.9 458.6 86.3 459.5 85.7 460.4 85.1 461.1 84.4 461.8 83.6 462.5 83 463 82.3 463.4 81.6 463.7 80.7 464 79.7 464.2 78.7 464.4 77.8 464.6 76.9 464.9 76.1 465.2 75.5 465.6 75.1 466.1 74.8 466.5 74.6 467 74.4 467.4 74.4 467.9 74.3 468.3 74.3 468.8 74.3 469.4 74.3 470 74.5 470.7 74.6 471.3 74.8 472 74.9 472.6 75 473 75.1 473.4 75.5 473.3 75.5 472.9 75.4 472.5 75.3 471.9 75.2 471.2 75.1 470.6 75.1 469.9 75.1 469.4 75.1 468.9 75.2 468.4 75.3 468 75.4 467.7 75.5 467.4 75.7 467.1 76 466.9 76.3 466.7 76.7 466.6 77.3 466.6 78 466.6 78.9 466.8 80 466.9 81.1 467 82.4 467.1 83.7 467 84.9 466.6 86.1 466.1 87.2 465.6 88.4 464.9 89.5 464.2 90.6 463.2 91.7 462.2 92.7 460.9 93.5 459.5 94.3 458 94.9 456.4 95.4 454.6 95.9 452.9 96.2 451.1 96.5 449.3 96.8 447.6 97 445.9 97.1 444.1 97.1 442.2 97.1 440.4 97 438.6 96.8 437 96.7 435.5 96.6 434.4 96.6 433.5Z" fill="#2A0608"/><path d="M88.4 433.2 88.5 434.2 88.6 435.4 88.8 436.8 88.9 438.3 89.1 439.9 89.2 441.5 89.3 443.1 89.2 444.5 89.1 445.9 89 447.5 88.8 449.1 88.6 450.7 88.4 452.2 88.1 453.6 87.7 454.9 87.4 456 87 456.9 86.5 457.9 86 458.7 85.4 459.6 84.7 460.4 84 461.2 83.3 461.9 82.6 462.5 82 462.9 81.3 463.3 80.4 463.6 79.5 463.9 78.5 464.1 77.6 464.4 76.7 464.6 76 465 75.4 465.4 75 465.9 74.7 466.3 74.5 466.8 74.4 467.3 74.3 467.7 74.3 468.2 74.2 468.7 74.2 469.2 74.3 469.9 74.4 470.6 74.6 471.2 74.7 471.9 74.9 472.5 75 473 75.1 473.3 75.5 473.2 75.4 472.9 75.3 472.4 75.2 471.8 75.1 471.1 75 470.5 75 469.8 75 469.2 75 468.7 75.1 468.3 75.2 467.9 75.3 467.5 75.4 467.2 75.6 466.9 75.8 466.7 76.1 466.4 76.6 466.3 77.1 466.2 77.8 466.2 78.7 466.3 79.7 466.4 80.8 466.4 82 466.4 83.3 466.2 84.5 465.8 85.6 465.2 86.7 464.7 87.8 464 88.9 463.1 90 462.2 91 461.1 92 459.9 92.8 458.5 93.6 457 94.2 455.4 94.7 453.7 95.1 451.9 95.5 450.1 95.8 448.4 96 446.6 96.2 444.9 96.3 443.2 96.4 441.3 96.3 439.5 96.2 437.7 96 436.1 95.9 434.7 95.8 433.5 95.8 432.6Z" fill="#A83038"/><path d="M90.5 433.1 90.6 434 90.7 435.2 90.9 436.6 91 438.2 91.2 439.8 91.3 441.5 91.3 443.1 91.3 444.6 91.1 446.1 91 447.7 90.8 449.4 90.5 451 90.2 452.6 89.8 454.1 89.4 455.5 89 456.7 88.4 457.8 87.8 458.8 87.1 459.8 86.4 460.6 85.6 461.4 84.8 462.2 84 462.8 83.2 463.4 82.4 463.9 81.5 464.2 80.6 464.4 79.6 464.6 78.6 464.7 77.7 464.9 76.8 465.1 76.1 465.4 75.6 465.7 75.2 466.1 75 466.5 74.8 466.9 74.6 467.3 74.6 467.8 74.5 468.2 74.5 468.7 74.4 469.2 74.5 469.9 74.6 470.5 74.7 471.2 74.9 471.9 75 472.4 75.1 472.9 75.2 473.3 75.4 473.3 75.4 472.9 75.3 472.4 75.2 471.8 75.1 471.1 75 470.5 74.9 469.8 74.9 469.2 75 468.7 75 468.3 75.1 467.9 75.2 467.5 75.3 467.1 75.5 466.8 75.7 466.6 76.1 466.4 76.5 466.2 77.1 466.1 77.8 466 78.7 466.1 79.7 466.1 80.8 466.2 82 466.1 83.2 465.9 84.3 465.5 85.4 464.9 86.4 464.3 87.5 463.6 88.6 462.8 89.6 461.9 90.6 460.8 91.5 459.6 92.3 458.3 93 456.8 93.6 455.2 94.1 453.5 94.5 451.8 94.9 450 95.2 448.3 95.4 446.6 95.6 444.9 95.7 443.2 95.7 441.3 95.6 439.5 95.5 437.8 95.4 436.2 95.3 434.7 95.2 433.6 95.1 432.7Z" fill="#E25860"/>
<path d="M139.1 443.5 138.5 444.2 137.8 445.2 136.9 446.3 136 447.6 135 448.8 134.1 450 133.2 451 132.3 451.9 131.5 452.7 130.6 453.5 129.7 454.2 128.8 454.8 127.9 455.4 127.1 455.8 126.3 456.1 125.7 456.3 125.1 456.3 124.3 456.1 123.3 455.7 122.3 455.2 121.2 454.6 120.1 454.1 119 453.6 117.9 453.5 116.9 453.6 116.1 454 115.3 454.5 114.7 455 114.1 455.6 113.6 456.1 113.2 456.5 112.9 456.8 113.2 457.2 113.6 457 114.1 456.6 114.6 456.2 115.2 455.7 115.9 455.3 116.6 455 117.2 454.9 117.8 455 118.4 455.3 119.1 455.8 119.9 456.6 120.8 457.4 121.8 458.3 122.9 459.1 124.2 459.8 125.7 460.2 127.2 460.2 128.5 460 129.9 459.6 131.2 459.1 132.5 458.6 133.7 457.9 134.9 457.2 136.1 456.3 137.3 455.3 138.6 454.2 139.8 452.9 140.9 451.6 142 450.4 142.9 449.3 143.7 448.4 144.2 447.7Z" fill="#2A0608"/><path d="M138.8 442.7 138.2 443.5 137.4 444.5 136.6 445.6 135.7 446.8 134.7 448.1 133.7 449.3 132.8 450.3 132 451.2 131.1 451.9 130.2 452.7 129.3 453.5 128.4 454.2 127.6 454.7 126.7 455.2 126 455.6 125.3 455.8 124.7 455.8 123.9 455.7 123 455.3 122 454.9 120.9 454.3 119.8 453.8 118.8 453.4 117.7 453.3 116.8 453.5 116 453.8 115.3 454.4 114.6 454.9 114.1 455.5 113.6 456 113.2 456.4 112.9 456.7 113.2 457.1 113.5 456.9 114 456.5 114.5 456 115.1 455.5 115.8 455.1 116.4 454.8 117.1 454.6 117.6 454.7 118.2 454.9 118.9 455.4 119.7 456.1 120.6 456.9 121.6 457.7 122.7 458.5 123.9 459.1 125.4 459.4 126.7 459.3 128.1 459.1 129.4 458.7 130.7 458.2 131.9 457.5 133.1 456.8 134.3 456.1 135.5 455.3 136.7 454.3 137.9 453.1 139.1 451.8 140.2 450.6 141.3 449.3 142.2 448.2 143 447.3 143.5 446.7Z" fill="#A83038"/><path d="M140.1 443.9 139.6 444.6 138.8 445.5 138 446.7 137 447.9 136 449.2 134.9 450.4 133.9 451.5 133 452.4 132.1 453.1 131.1 453.9 130.1 454.7 129.1 455.3 128.1 455.9 127.1 456.3 126.2 456.7 125.3 456.8 124.5 456.8 123.6 456.5 122.6 456 121.6 455.4 120.6 454.8 119.6 454.3 118.6 453.9 117.7 453.7 116.9 453.8 116.1 454.1 115.4 454.6 114.8 455.1 114.2 455.6 113.7 456.1 113.3 456.6 112.9 456.8 113.1 457.1 113.5 456.8 114 456.4 114.5 456 115.1 455.5 115.7 455 116.4 454.7 117.1 454.5 117.7 454.6 118.3 454.8 119 455.3 119.8 455.9 120.7 456.7 121.7 457.5 122.8 458.2 124 458.8 125.3 459.1 126.7 459 128 458.7 129.2 458.3 130.5 457.8 131.7 457.2 132.9 456.5 134 455.7 135.2 454.9 136.3 453.9 137.5 452.8 138.7 451.5 139.8 450.2 140.9 449 141.8 447.9 142.5 447 143.1 446.3Z" fill="#E25860"/>
<path d="M135.4 466 134.6 466 133.5 466.1 132.3 466.1 131 466.1 129.7 466.1 128.4 466.1 127.2 466 126.1 465.9 124.9 465.7 123.6 465.4 122.3 465.1 121 464.8 119.8 464.4 118.6 464 117.6 463.6 116.7 463.1 115.8 462.6 114.9 461.9 114 461.1 113.1 460.2 112.3 459.3 111.6 458.4 111 457.5 110.5 456.8 110.2 456.2 110.1 455.5 110.2 454.7 110.3 453.8 110.5 452.8 110.6 451.9 110.6 450.9 110.2 450 109.5 449.4 108.7 449.1 107.8 448.9 106.8 448.7 105.9 448.6 105 448.6 104.3 448.5 103.8 448.5 103.7 449 104.2 449.1 105 449.2 105.8 449.4 106.7 449.5 107.6 449.7 108.3 450 108.9 450.4 109.1 450.7 109.1 451 108.9 451.5 108.7 452.2 108.3 453 107.8 454 107.5 455.1 107.3 456.4 107.4 457.7 107.7 459 108.2 460.2 108.7 461.5 109.4 462.9 110.2 464.2 111.1 465.5 112.1 466.7 113.2 467.8 114.4 468.8 115.8 469.7 117.2 470.5 118.6 471.2 120.1 471.8 121.6 472.4 123 472.9 124.5 473.3 126.1 473.7 127.7 473.9 129.3 474 130.9 474.1 132.3 474.2 133.5 474.2 134.5 474.2 135.2 474.2Z" fill="#2A0608"/><path d="M134.9 465.4 134.1 465.4 133 465.5 131.8 465.5 130.5 465.5 129.2 465.5 127.9 465.5 126.6 465.4 125.5 465.3 124.3 465.1 123.1 464.8 121.7 464.5 120.5 464.1 119.2 463.7 118 463.3 117 462.9 116 462.4 115.2 461.8 114.3 461.2 113.4 460.4 112.5 459.6 111.8 458.7 111.1 457.8 110.5 457 110.1 456.3 109.9 455.7 109.8 455.1 109.9 454.2 110 453.4 110.2 452.5 110.4 451.6 110.4 450.7 110 449.9 109.4 449.3 108.6 449 107.7 448.8 106.7 448.6 105.8 448.5 105 448.5 104.3 448.4 103.8 448.4 103.7 448.9 104.2 449 104.9 449.1 105.7 449.2 106.6 449.4 107.5 449.6 108.2 449.8 108.8 450.2 109 450.5 109 450.8 108.8 451.3 108.5 451.9 108.1 452.7 107.7 453.6 107.3 454.7 107.1 455.9 107.2 457.1 107.5 458.3 107.9 459.5 108.5 460.7 109.1 462 109.9 463.3 110.7 464.5 111.7 465.7 112.8 466.7 114 467.7 115.4 468.6 116.8 469.3 118.2 470 119.7 470.7 121.2 471.2 122.6 471.7 124.1 472.1 125.6 472.5 127.2 472.7 128.8 472.9 130.4 472.9 131.8 473 133 473 134 473 134.7 473Z" fill="#A83038"/><path d="M134.9 467.7 134.1 467.6 133 467.7 131.8 467.7 130.5 467.7 129.1 467.7 127.7 467.6 126.3 467.5 125.1 467.3 123.8 467 122.5 466.7 121.2 466.3 119.8 465.8 118.5 465.4 117.3 464.8 116.1 464.3 115.1 463.6 114.2 462.9 113.2 462.1 112.4 461.2 111.6 460.3 110.8 459.3 110.2 458.3 109.6 457.4 109.3 456.5 109.1 455.8 109.1 454.9 109.2 454.1 109.5 453.2 109.7 452.3 109.9 451.5 110 450.7 109.7 450 109.2 449.5 108.5 449.2 107.6 449 106.7 448.8 105.8 448.7 104.9 448.7 104.2 448.6 103.8 448.5 103.7 448.8 104.2 448.9 104.9 449 105.7 449.1 106.6 449.3 107.5 449.5 108.3 449.8 108.8 450.1 109.1 450.4 109.1 450.8 109 451.3 108.7 452 108.3 452.8 107.9 453.7 107.5 454.7 107.4 455.8 107.5 457 107.8 458.2 108.2 459.4 108.8 460.6 109.4 461.8 110.2 463 111.1 464.2 112 465.3 113.1 466.3 114.3 467.3 115.6 468.1 117 468.8 118.4 469.5 119.9 470.1 121.3 470.6 122.8 471.1 124.2 471.5 125.7 471.8 127.3 472.1 128.9 472.2 130.4 472.3 131.8 472.3 133 472.3 134 472.3 134.7 472.4Z" fill="#E25860"/>
<path d="M76.2 491.3 76.7 490.7 77.3 489.8 78 488.7 78.7 487.6 79.5 486.5 80.3 485.5 81 484.5 81.7 483.8 82.3 483 83.1 482.3 83.8 481.5 84.5 480.7 85.2 480.1 85.9 479.5 86.5 479 87.1 478.7 87.6 478.5 88.2 478.5 88.8 478.5 89.5 478.7 90.2 479 91 479.3 91.7 479.6 92.4 479.9 93 480.2 93.6 480.5 94.2 481 94.8 481.4 95.3 481.8 95.9 482.2 96.4 482.4 96.9 482.5 97.5 482.3 97.8 482 98.1 481.5 98.3 481 98.5 480.5 98.6 480 98.8 479.6 98.9 479.3 98.5 479.2 98.3 479.4 98.2 479.8 98 480.3 97.8 480.8 97.6 481.2 97.3 481.5 97.1 481.7 96.9 481.8 96.7 481.7 96.3 481.4 95.9 481.1 95.4 480.7 94.9 480.2 94.3 479.6 93.7 479.1 93.1 478.7 92.5 478.3 91.9 477.8 91.3 477.3 90.5 476.8 89.8 476.3 88.9 475.8 87.9 475.6 86.7 475.5 85.6 475.6 84.5 475.9 83.3 476.3 82.2 476.8 81.1 477.4 79.9 478 78.8 478.7 77.8 479.4 76.7 480.3 75.6 481.4 74.5 482.5 73.5 483.7 72.6 484.8 71.9 485.8 71.2 486.6 70.8 487.1Z" fill="#2A0608"/><path d="M75.5 490.3 76 489.6 76.6 488.7 77.3 487.7 78 486.6 78.8 485.5 79.6 484.4 80.3 483.5 81 482.7 81.7 482 82.4 481.2 83.2 480.5 84 479.8 84.8 479.2 85.5 478.7 86.2 478.3 86.8 478 87.3 477.9 87.9 477.9 88.6 478 89.3 478.3 90.1 478.6 90.8 478.9 91.6 479.3 92.3 479.6 92.9 479.9 93.5 480.3 94.1 480.8 94.7 481.2 95.3 481.6 95.8 482 96.3 482.3 96.9 482.4 97.4 482.2 97.8 481.8 98 481.4 98.2 480.9 98.4 480.4 98.6 479.9 98.7 479.5 98.8 479.3 98.4 479.1 98.3 479.3 98.2 479.7 98 480.2 97.8 480.7 97.5 481.1 97.3 481.4 97.1 481.6 96.9 481.7 96.6 481.6 96.2 481.3 95.8 481 95.3 480.5 94.8 480 94.2 479.5 93.6 479 93 478.5 92.3 478.1 91.7 477.6 91 477 90.3 476.5 89.5 475.9 88.6 475.5 87.6 475.2 86.5 475.1 85.3 475.1 84.2 475.4 83 475.7 81.9 476.2 80.7 476.7 79.6 477.3 78.5 477.9 77.4 478.7 76.3 479.6 75.2 480.7 74.2 481.8 73.2 482.9 72.3 484 71.6 485 70.9 485.8 70.5 486.4Z" fill="#A83038"/><path d="M74.1 489.1 74.5 488.5 75.1 487.7 75.9 486.6 76.6 485.5 77.5 484.4 78.3 483.3 79.2 482.4 80 481.5 80.8 480.8 81.6 480.1 82.5 479.4 83.4 478.8 84.3 478.2 85.1 477.7 85.9 477.4 86.7 477.2 87.4 477.1 88.1 477.2 88.9 477.4 89.6 477.7 90.4 478.1 91.1 478.5 91.8 478.9 92.5 479.3 93.1 479.6 93.7 480.1 94.3 480.5 94.9 481 95.4 481.4 95.9 481.8 96.4 482.1 96.9 482.2 97.3 482 97.6 481.7 97.9 481.3 98.1 480.8 98.3 480.3 98.4 479.8 98.6 479.5 98.7 479.2 98.5 479.1 98.3 479.4 98.2 479.8 98 480.2 97.8 480.7 97.6 481.1 97.3 481.5 97.1 481.7 96.9 481.7 96.6 481.6 96.2 481.4 95.8 481 95.3 480.6 94.7 480.1 94.1 479.6 93.5 479 92.9 478.6 92.3 478.2 91.6 477.7 90.9 477.2 90.2 476.6 89.4 476.1 88.5 475.7 87.6 475.4 86.5 475.3 85.4 475.4 84.3 475.7 83.2 476 82 476.5 80.9 477 79.8 477.6 78.8 478.3 77.7 479 76.7 479.9 75.6 481 74.6 482.1 73.7 483.3 72.8 484.4 72 485.4 71.4 486.2 70.9 486.7Z" fill="#E25860"/>
<path d="M134.2 489.9 133.2 490.1 131.9 490.6 130.4 491 128.9 491.5 127.3 492 125.8 492.4 124.4 492.6 123.3 492.8 122.3 492.8 121 492.7 119.8 492.5 118.5 492.3 117.3 492 116.1 491.7 115 491.3 114.1 491 113.3 490.7 112.6 490.3 111.9 489.8 111.1 489.2 110.4 488.5 109.7 487.7 109.1 487 108.5 486.4 108.1 486 107.8 485.5 107.6 485 107.4 484.4 107.2 483.7 106.9 483 106.5 482.3 105.8 481.7 105.1 481.3 104.3 481.1 103.5 480.9 102.6 480.9 101.8 480.8 101.1 480.8 100.4 480.8 100 480.7 99.9 481.3 100.4 481.4 101 481.5 101.7 481.6 102.5 481.8 103.3 482 103.9 482.3 104.5 482.6 104.8 482.9 104.9 483.2 104.8 483.5 104.8 484 104.7 484.6 104.6 485.3 104.6 486.2 104.8 487.2 105.1 488.3 105.5 489.2 105.9 490.2 106.4 491.3 107 492.4 107.7 493.5 108.6 494.6 109.6 495.7 110.8 496.6 112 497.4 113.4 498.2 114.9 498.8 116.4 499.5 118 500 119.7 500.5 121.5 500.8 123.3 501 125.3 500.9 127.3 500.7 129.3 500.3 131.1 499.9 132.9 499.4 134.4 499 135.6 498.6 136.5 498.4Z" fill="#2A0608"/><path d="M133.8 489.3 132.8 489.6 131.5 490 130 490.4 128.4 490.9 126.8 491.4 125.3 491.8 123.9 492 122.8 492.2 121.7 492.2 120.5 492.1 119.2 491.9 117.9 491.7 116.7 491.4 115.5 491 114.4 490.7 113.4 490.3 112.7 490 111.9 489.5 111.2 489 110.5 488.4 109.8 487.8 109.2 487.1 108.6 486.4 108 485.8 107.7 485.4 107.4 485 107.2 484.5 107 483.9 106.8 483.3 106.6 482.6 106.2 482 105.7 481.4 104.9 481.1 104.2 480.9 103.3 480.8 102.5 480.7 101.7 480.7 101 480.7 100.4 480.7 100 480.7 99.9 481.2 100.3 481.3 100.9 481.4 101.6 481.5 102.4 481.6 103.2 481.8 103.8 482 104.4 482.3 104.7 482.6 104.7 482.8 104.7 483.1 104.7 483.6 104.6 484.1 104.5 484.8 104.5 485.6 104.6 486.6 104.9 487.6 105.3 488.4 105.6 489.4 106.1 490.3 106.7 491.4 107.4 492.5 108.2 493.5 109.2 494.6 110.4 495.5 111.7 496.3 113 497 114.4 497.7 116 498.3 117.6 498.8 119.3 499.3 121 499.6 122.8 499.8 124.8 499.7 126.7 499.5 128.7 499.1 130.6 498.6 132.3 498.2 133.8 497.7 135 497.4 135.9 497.2Z" fill="#A83038"/><path d="M134.4 491.6 133.4 491.8 132.1 492.2 130.7 492.7 129.1 493.2 127.4 493.6 125.7 494 124.2 494.3 122.8 494.4 121.5 494.3 120.1 494.2 118.8 493.9 117.4 493.6 116 493.2 114.8 492.8 113.6 492.3 112.6 491.8 111.7 491.3 110.9 490.7 110.1 490 109.4 489.3 108.7 488.5 108.2 487.7 107.6 487 107.1 486.3 106.8 485.8 106.6 485.2 106.4 484.6 106.3 484 106.2 483.4 106.1 482.8 105.8 482.2 105.4 481.8 104.8 481.4 104.1 481.2 103.3 481.1 102.5 481 101.7 480.9 101 480.9 100.4 480.9 99.9 480.8 99.9 481.1 100.3 481.2 100.9 481.3 101.6 481.4 102.4 481.5 103.2 481.7 103.9 481.9 104.4 482.2 104.8 482.5 104.9 482.8 104.9 483.1 104.9 483.5 104.8 484.1 104.7 484.8 104.7 485.6 104.9 486.5 105.2 487.4 105.6 488.3 106 489.1 106.5 490.1 107 491.1 107.7 492.2 108.6 493.2 109.5 494.2 110.7 495 111.9 495.8 113.2 496.5 114.6 497.1 116.2 497.7 117.8 498.2 119.4 498.6 121.1 498.9 122.8 499.1 124.7 499 126.6 498.8 128.5 498.4 130.4 498 132.1 497.5 133.6 497 134.8 496.7 135.7 496.5Z" fill="#E25860"/>
<rect x="203.6" y="437.8" width="11.7" height="107.2" fill="url(#elecD)" stroke="#D8D8D8" stroke-width="0.8" /><path d="M205.85 465.6H213.05M209.45 462V469.2" stroke="#111" stroke-width="1.0" fill="none"/><path d="M205.85 490H213.05M209.45 486.4V493.6" stroke="#111" stroke-width="1.0" fill="none"/><path d="M205.85 520.2H213.05M209.45 516.6V523.8" stroke="#111" stroke-width="1.0" fill="none"/>
<rect x="273.2" y="436.6" width="12.3" height="111" fill="url(#elecD)" stroke="#D8D8D8" stroke-width="0.8" /><path d="M275.15 462.1H283.55M279.35 457.9V466.3" stroke="#111" stroke-width="1.3" fill="none"/><path d="M275.15 474.4H283.55M279.35 470.2V478.6" stroke="#111" stroke-width="1.3" fill="none"/><path d="M275.15 487.2H283.55M279.35 483V491.4" stroke="#111" stroke-width="1.3" fill="none"/><path d="M275.15 499.3H283.55M279.35 495.1V503.5" stroke="#111" stroke-width="1.3" fill="none"/><path d="M275.15 511.6H283.55M279.35 507.4V515.8" stroke="#111" stroke-width="1.3" fill="none"/><path d="M275.15 526H283.55M279.35 521.8V530.2" stroke="#111" stroke-width="1.3" fill="none"/>
<rect x="356.3" y="433.1" width="10.9" height="103.3" fill="url(#elecD)" stroke="#D8D8D8" stroke-width="0.8" /><path d="M357.75 451.2H365.75M361.75 447.2V455.2" stroke="#111" stroke-width="1.3" fill="none"/><path d="M357.75 461.4H365.75M361.75 457.4V465.4" stroke="#111" stroke-width="1.3" fill="none"/><path d="M357.75 472.1H365.75M361.75 468.1V476.1" stroke="#111" stroke-width="1.3" fill="none"/><path d="M357.75 482.3H365.75M361.75 478.3V486.3" stroke="#111" stroke-width="1.3" fill="none"/><path d="M357.75 493H365.75M361.75 489V497" stroke="#111" stroke-width="1.3" fill="none"/><path d="M357.75 501.6H365.75M361.75 497.6V505.6" stroke="#111" stroke-width="1.3" fill="none"/><path d="M357.75 512.5H365.75M361.75 508.5V516.5" stroke="#111" stroke-width="1.3" fill="none"/><path d="M357.75 524.3H365.75M361.75 520.3V528.3" stroke="#111" stroke-width="1.3" fill="none"/>
<g><path d="M159.6 468 160 467.3 160.7 466.4 161.3 465.6 161.9 465.4 162.4 465.8 163.2 466.8 164.2 468 165.4 469 166.7 469.7 168.1 470.3 169.6 470.7 171 471 172.6 471.1 174.1 471 175.4 470.9 176.3 470.9 175.8 467.4 174.9 467.6 173.7 467.9 172.4 468.1 171.2 468.2 169.9 468.2 168.6 468.1 167.3 467.8 166.2 467.5 165.2 466.8 164.1 465.8 163 464.9 161.9 464.4 160.8 465 160.1 466 159.6 467.1 159.2 467.8Z" fill="#2E1410" opacity="0.85"/><path d="M159.6 467.9 160.1 467.3 160.7 466.3 161.4 465.5 162 465.2 162.6 465.6 163.4 466.6 164.5 467.8 165.7 468.8 167 469.4 168.5 469.9 169.9 470.3 171.4 470.6 172.9 470.6 174.5 470.6 175.8 470.4 176.7 470.3 176.3 467.4 175.4 467.6 174.1 467.8 172.8 468.1 171.5 468.2 170.2 468.1 168.9 468 167.6 467.8 166.4 467.4 165.3 466.8 164.2 465.8 163.1 464.9 162 464.4 161 464.9 160.2 466 159.7 467 159.3 467.7Z" fill="#EFA088"/><path d="M159.6 467.9 160 467.2 160.6 466.2 161.4 465.4 162 465.1 162.6 465.5 163.5 466.5 164.6 467.6 165.8 468.6 167.1 469.2 168.5 469.7 170 470 171.4 470.3 172.9 470.3 174.4 470.2 175.8 470.1 176.7 470 176.5 468.6 175.6 468.8 174.3 469 172.8 469.2 171.5 469.2 170.1 469.1 168.7 468.8 167.3 468.5 166.1 468 164.9 467.2 163.9 466.1 162.9 465.2 162 464.8 161.2 465.2 160.4 466.1 159.8 467.1 159.4 467.8Z" fill="#F6B4A0" opacity="0.7"/><path d="M168.8 450.5 169.7 450.6 171 450.6 172.1 450.9 172.4 451.4 172 452.5 170.9 454.2 169.8 456.3 169.2 458.7 169.5 461.2 170.4 463.6 171.5 465.8 172.8 467.7 174.4 469.3 176.1 470.4 177.9 471.2 179.6 471.9 181.5 472.6 183.6 473 185.3 473.3 186.5 473.5 187.2 468.6 186 468.5 184.3 468.3 182.6 468 181 467.6 179.6 467.1 178.1 466.5 176.9 465.8 175.8 464.9 174.7 463.6 173.6 461.9 172.7 460.1 172.2 458.6 172.2 456.9 172.8 454.9 173.4 452.9 173.5 451.2 172.5 450.2 171.1 450 169.7 450 168.9 449.9Z" fill="#2E1410" opacity="0.85"/><path d="M168.9 450.4 169.8 450.5 171.1 450.5 172.2 450.8 172.6 451.3 172.3 452.4 171.3 454.1 170.2 456.1 169.8 458.5 170.2 460.8 171 463.1 172.2 465.3 173.5 467.2 175.1 468.7 176.8 469.8 178.6 470.6 180.3 471.3 182.2 471.8 184.2 472.3 186 472.5 187.2 472.7 187.8 468.5 186.6 468.3 184.9 468.1 183.1 467.9 181.5 467.5 180 466.9 178.6 466.3 177.3 465.6 176.2 464.7 175 463.4 173.9 461.7 172.9 459.9 172.4 458.3 172.4 456.7 172.9 454.7 173.5 452.7 173.5 451.1 172.5 450.2 171.2 449.9 169.8 450 168.9 449.9Z" fill="#EFA088"/><path d="M168.9 450.4 169.8 450.4 171.1 450.5 172.3 450.7 172.8 451.3 172.4 452.4 171.5 454.1 170.5 456.2 170.1 458.4 170.5 460.7 171.4 463 172.6 465.1 173.9 466.9 175.4 468.3 177 469.3 178.7 470.1 180.4 470.8 182.3 471.3 184.3 471.7 186 472 187.2 472.2 187.5 470.3 186.3 470.1 184.6 469.9 182.7 469.6 181 469.1 179.4 468.5 177.8 467.8 176.4 466.9 175.1 465.8 173.8 464.2 172.7 462.3 171.8 460.3 171.3 458.4 171.5 456.5 172.2 454.4 173 452.6 173.2 451.2 172.4 450.4 171.1 450.2 169.8 450.2 168.9 450.1Z" fill="#F6B4A0" opacity="0.7"/><path d="M180.9 456.4 180.3 457.2 179.5 458.5 178.5 459.9 177.7 461.2 176.9 462.5 176.1 463.9 175.4 465.2 174.9 466 178.3 468.3 178.9 467.6 179.8 466.4 180.7 465.2 181.6 464 182.6 462.8 183.6 461.5 184.5 460.3 185.1 459.5Z" fill="#2E1410" opacity="0.85"/><path d="M181.8 456.1 181.2 457 180.4 458.2 179.4 459.6 178.6 461 177.7 462.3 176.9 463.7 176.1 465 175.6 465.8 178.6 467.8 179.2 467 180.1 465.9 181.1 464.6 182 463.4 182.9 462.2 184 460.9 184.9 459.7 185.5 458.9Z" fill="#EFA088"/><path d="M182.3 456.5 181.7 457.3 180.8 458.6 179.9 459.9 179 461.3 178.1 462.6 177.3 464 176.5 465.2 176 466.1 177.3 467 177.9 466.2 178.7 465 179.6 463.6 180.5 462.3 181.5 461.1 182.4 459.7 183.3 458.5 184 457.7Z" fill="#F6B4A0" opacity="0.7"/><path d="M179.2 468 179.6 467.3 180.2 466.4 180.9 465.6 181.4 465.4 181.9 465.8 182.8 466.8 183.7 468 184.9 469 186.3 469.7 187.7 470.3 189.1 470.7 190.6 471 192.1 471.1 193.7 471 195 470.9 195.8 470.9 195.3 467.4 194.5 467.6 193.2 467.9 191.9 468.1 190.7 468.2 189.5 468.2 188.2 468.1 186.9 467.8 185.8 467.5 184.7 466.8 183.7 465.8 182.6 464.9 181.4 464.4 180.4 465 179.7 466 179.1 467.1 178.8 467.8Z" fill="#2E1410" opacity="0.85"/><path d="M179.2 467.9 179.6 467.3 180.3 466.3 181 465.5 181.5 465.2 182.1 465.6 183 466.6 184 467.8 185.2 468.8 186.6 469.4 188 469.9 189.5 470.3 190.9 470.6 192.5 470.6 194 470.6 195.4 470.4 196.3 470.3 195.8 467.4 194.9 467.6 193.7 467.8 192.3 468.1 191.1 468.2 189.8 468.1 188.4 468 187.1 467.8 185.9 467.4 184.9 466.8 183.8 465.8 182.7 464.9 181.5 464.4 180.5 464.9 179.8 466 179.2 467 178.8 467.7Z" fill="#EFA088"/><path d="M179.1 467.9 179.6 467.2 180.2 466.2 180.9 465.4 181.5 465.1 182.2 465.5 183.1 466.5 184.1 467.6 185.3 468.6 186.6 469.2 188.1 469.7 189.5 470 191 470.3 192.5 470.3 194 470.2 195.3 470.1 196.2 470 196 468.6 195.1 468.8 193.8 469 192.4 469.2 191 469.2 189.7 469.1 188.3 468.8 186.9 468.5 185.6 468 184.5 467.2 183.4 466.1 182.5 465.2 181.5 464.8 180.7 465.2 180 466.1 179.4 467.1 179 467.8Z" fill="#F6B4A0" opacity="0.7"/><path d="M188.4 450.5 189.3 450.6 190.6 450.6 191.7 450.9 192 451.4 191.6 452.5 190.5 454.2 189.3 456.3 188.7 458.7 189.1 461.2 189.9 463.6 191 465.8 192.3 467.7 193.9 469.3 195.7 470.4 197.4 471.2 199.1 471.9 201.1 472.6 203.1 473 204.8 473.3 206 473.5 206.7 468.6 205.5 468.5 203.9 468.3 202.1 468 200.6 467.6 199.1 467.1 197.7 466.5 196.5 465.8 195.4 464.9 194.3 463.6 193.2 461.9 192.3 460.1 191.7 458.6 191.8 456.9 192.3 454.9 192.9 452.9 193 451.2 192 450.2 190.6 450 189.3 450 188.4 449.9Z" fill="#2E1410" opacity="0.85"/><path d="M188.5 450.4 189.4 450.5 190.7 450.5 191.8 450.8 192.2 451.3 191.8 452.4 190.9 454.1 189.8 456.1 189.3 458.5 189.7 460.8 190.6 463.1 191.8 465.3 193.1 467.2 194.6 468.7 196.4 469.8 198.1 470.6 199.8 471.3 201.8 471.8 203.8 472.3 205.5 472.5 206.7 472.7 207.3 468.5 206.1 468.3 204.5 468.1 202.7 467.9 201.1 467.5 199.6 466.9 198.1 466.3 196.9 465.6 195.7 464.7 194.6 463.4 193.4 461.7 192.5 459.9 191.9 458.3 191.9 456.7 192.4 454.7 193 452.7 193.1 451.1 192.1 450.2 190.7 449.9 189.4 450 188.5 449.9Z" fill="#EFA088"/><path d="M188.5 450.4 189.4 450.4 190.7 450.5 191.8 450.7 192.3 451.3 192 452.4 191.1 454.1 190.1 456.2 189.6 458.4 190.1 460.7 190.9 463 192.1 465.1 193.4 466.9 194.9 468.3 196.6 469.3 198.3 470.1 200 470.8 201.9 471.3 203.9 471.7 205.6 472 206.8 472.2 207.1 470.3 205.9 470.1 204.2 469.9 202.3 469.6 200.6 469.1 199 468.5 197.4 467.8 195.9 466.9 194.6 465.8 193.4 464.2 192.2 462.3 191.3 460.3 190.8 458.4 191 456.5 191.8 454.4 192.5 452.6 192.7 451.2 192 450.4 190.7 450.2 189.4 450.2 188.5 450.1Z" fill="#F6B4A0" opacity="0.7"/><path d="M200.4 456.4 199.8 457.2 199 458.5 198.1 459.9 197.2 461.2 196.4 462.5 195.6 463.9 194.9 465.2 194.4 466 197.9 468.3 198.5 467.6 199.3 466.4 200.3 465.2 201.2 464 202.1 462.8 203.1 461.5 204 460.3 204.7 459.5Z" fill="#2E1410" opacity="0.85"/><path d="M201.4 456.1 200.8 457 199.9 458.2 199 459.6 198.1 461 197.3 462.3 196.4 463.7 195.7 465 195.2 465.8 198.2 467.8 198.8 467 199.6 465.9 200.6 464.6 201.5 463.4 202.5 462.2 203.5 460.9 204.4 459.7 205.1 458.9Z" fill="#EFA088"/><path d="M201.8 456.5 201.2 457.3 200.4 458.6 199.4 459.9 198.5 461.3 197.7 462.6 196.8 464 196.1 465.2 195.6 466.1 196.9 467 197.5 466.2 198.3 465 199.2 463.6 200.1 462.3 201 461.1 202 459.7 202.9 458.5 203.5 457.7Z" fill="#F6B4A0" opacity="0.7"/><path d="M159.6 489.4 160 488.8 160.7 487.8 161.3 487 161.9 486.8 162.4 487.2 163.2 488.2 164.2 489.4 165.4 490.4 166.7 491.2 168.1 491.7 169.6 492.1 171 492.4 172.6 492.5 174.1 492.5 175.4 492.4 176.3 492.3 175.8 488.9 174.9 489.1 173.7 489.3 172.4 489.6 171.2 489.7 169.9 489.6 168.6 489.5 167.3 489.3 166.2 488.9 165.2 488.3 164.1 487.3 163 486.3 161.9 485.9 160.8 486.4 160.1 487.4 159.6 488.5 159.2 489.2Z" fill="#2E1410" opacity="0.85"/><path d="M159.6 489.4 160.1 488.7 160.7 487.7 161.4 486.9 162 486.7 162.6 487.1 163.4 488 164.5 489.2 165.7 490.2 167 490.9 168.5 491.4 169.9 491.7 171.4 492 172.9 492.1 174.5 492 175.8 491.9 176.7 491.8 176.3 488.8 175.4 489 174.1 489.3 172.8 489.5 171.5 489.6 170.2 489.6 168.9 489.5 167.6 489.2 166.4 488.9 165.3 488.2 164.2 487.2 163.1 486.3 162 485.9 161 486.4 160.2 487.4 159.7 488.5 159.3 489.2Z" fill="#EFA088"/><path d="M159.6 489.4 160 488.7 160.6 487.7 161.4 486.8 162 486.6 162.6 487 163.5 487.9 164.6 489.1 165.8 490 167.1 490.7 168.5 491.1 170 491.5 171.4 491.7 172.9 491.8 174.4 491.7 175.8 491.5 176.7 491.4 176.5 490.1 175.6 490.2 174.3 490.4 172.8 490.6 171.5 490.6 170.1 490.5 168.7 490.3 167.3 489.9 166.1 489.4 164.9 488.6 163.9 487.6 162.9 486.6 162 486.2 161.2 486.6 160.4 487.5 159.8 488.6 159.4 489.3Z" fill="#F6B4A0" opacity="0.7"/><path d="M168.8 472 169.7 472 171 472.1 172.1 472.4 172.4 472.9 172 473.9 170.9 475.6 169.8 477.8 169.2 480.2 169.5 482.6 170.4 485 171.5 487.2 172.8 489.2 174.4 490.7 176.1 491.8 177.9 492.7 179.6 493.4 181.5 494 183.6 494.4 185.3 494.7 186.5 494.9 187.2 490.1 186 489.9 184.3 489.7 182.6 489.4 181 489 179.6 488.5 178.1 487.9 176.9 487.2 175.8 486.4 174.7 485 173.6 483.3 172.7 481.5 172.2 480 172.2 478.4 172.8 476.4 173.4 474.3 173.5 472.6 172.5 471.6 171.1 471.4 169.7 471.4 168.9 471.4Z" fill="#2E1410" opacity="0.85"/><path d="M168.9 471.9 169.8 471.9 171.1 472 172.2 472.2 172.6 472.7 172.3 473.8 171.3 475.5 170.2 477.6 169.8 479.9 170.2 482.3 171 484.6 172.2 486.7 173.5 488.6 175.1 490.1 176.8 491.2 178.6 492 180.3 492.7 182.2 493.3 184.2 493.7 186 494 187.2 494.2 187.8 489.9 186.6 489.8 184.9 489.6 183.1 489.3 181.5 488.9 180 488.4 178.6 487.8 177.3 487.1 176.2 486.2 175 484.8 173.9 483.1 172.9 481.3 172.4 479.7 172.4 478.1 172.9 476.1 173.5 474.2 173.5 472.5 172.5 471.6 171.2 471.4 169.8 471.4 168.9 471.4Z" fill="#EFA088"/><path d="M168.9 471.8 169.8 471.9 171.1 471.9 172.3 472.2 172.8 472.7 172.4 473.9 171.5 475.6 170.5 477.7 170.1 479.9 170.5 482.1 171.4 484.4 172.6 486.5 173.9 488.3 175.4 489.7 177 490.8 178.7 491.6 180.4 492.2 182.3 492.8 184.3 493.2 186 493.5 187.2 493.7 187.5 491.7 186.3 491.6 184.6 491.3 182.7 491 181 490.5 179.4 489.9 177.8 489.2 176.4 488.4 175.1 487.2 173.8 485.6 172.7 483.7 171.8 481.7 171.3 479.8 171.5 477.9 172.2 475.9 173 474 173.2 472.6 172.4 471.9 171.1 471.6 169.8 471.6 168.9 471.6Z" fill="#F6B4A0" opacity="0.7"/><path d="M180.9 477.8 180.3 478.7 179.5 479.9 178.5 481.3 177.7 482.6 176.9 484 176.1 485.4 175.4 486.6 174.9 487.5 178.3 489.8 178.9 489 179.8 487.9 180.7 486.6 181.6 485.4 182.6 484.2 183.6 482.9 184.5 481.8 185.1 481Z" fill="#2E1410" opacity="0.85"/><path d="M181.8 477.6 181.2 478.4 180.4 479.7 179.4 481.1 178.6 482.4 177.7 483.7 176.9 485.2 176.1 486.4 175.6 487.3 178.6 489.3 179.2 488.5 180.1 487.3 181.1 486 182 484.8 182.9 483.6 184 482.3 184.9 481.1 185.5 480.3Z" fill="#EFA088"/><path d="M182.3 477.9 181.7 478.8 180.8 480 179.9 481.4 179 482.7 178.1 484 177.3 485.4 176.5 486.7 176 487.5 177.3 488.4 177.9 487.6 178.7 486.4 179.6 485.1 180.5 483.8 181.5 482.5 182.4 481.2 183.3 480 184 479.2Z" fill="#F6B4A0" opacity="0.7"/><path d="M179.2 489.4 179.6 488.8 180.2 487.8 180.9 487 181.4 486.8 181.9 487.2 182.8 488.2 183.7 489.4 184.9 490.4 186.3 491.2 187.7 491.7 189.1 492.1 190.6 492.4 192.1 492.5 193.7 492.5 195 492.4 195.8 492.3 195.3 488.9 194.5 489.1 193.2 489.3 191.9 489.6 190.7 489.7 189.5 489.6 188.2 489.5 186.9 489.3 185.8 488.9 184.7 488.3 183.7 487.3 182.6 486.3 181.4 485.9 180.4 486.4 179.7 487.4 179.1 488.5 178.8 489.2Z" fill="#2E1410" opacity="0.85"/><path d="M179.2 489.4 179.6 488.7 180.3 487.7 181 486.9 181.5 486.7 182.1 487.1 183 488 184 489.2 185.2 490.2 186.6 490.9 188 491.4 189.5 491.7 190.9 492 192.5 492.1 194 492 195.4 491.9 196.3 491.8 195.8 488.8 194.9 489 193.7 489.3 192.3 489.5 191.1 489.6 189.8 489.6 188.4 489.5 187.1 489.2 185.9 488.9 184.9 488.2 183.8 487.2 182.7 486.3 181.5 485.9 180.5 486.4 179.8 487.4 179.2 488.5 178.8 489.2Z" fill="#EFA088"/><path d="M179.1 489.4 179.6 488.7 180.2 487.7 180.9 486.8 181.5 486.6 182.2 487 183.1 487.9 184.1 489.1 185.3 490 186.6 490.7 188.1 491.1 189.5 491.5 191 491.7 192.5 491.8 194 491.7 195.3 491.5 196.2 491.4 196 490.1 195.1 490.2 193.8 490.4 192.4 490.6 191 490.6 189.7 490.5 188.3 490.3 186.9 489.9 185.6 489.4 184.5 488.6 183.4 487.6 182.5 486.6 181.5 486.2 180.7 486.6 180 487.5 179.4 488.6 179 489.3Z" fill="#F6B4A0" opacity="0.7"/><path d="M188.4 472 189.3 472 190.6 472.1 191.7 472.4 192 472.9 191.6 473.9 190.5 475.6 189.3 477.8 188.7 480.2 189.1 482.6 189.9 485 191 487.2 192.3 489.2 193.9 490.7 195.7 491.8 197.4 492.7 199.1 493.4 201.1 494 203.1 494.4 204.8 494.7 206 494.9 206.7 490.1 205.5 489.9 203.9 489.7 202.1 489.4 200.6 489 199.1 488.5 197.7 487.9 196.5 487.2 195.4 486.4 194.3 485 193.2 483.3 192.3 481.5 191.7 480 191.8 478.4 192.3 476.4 192.9 474.3 193 472.6 192 471.6 190.6 471.4 189.3 471.4 188.4 471.4Z" fill="#2E1410" opacity="0.85"/><path d="M188.5 471.9 189.4 471.9 190.7 472 191.8 472.2 192.2 472.7 191.8 473.8 190.9 475.5 189.8 477.6 189.3 479.9 189.7 482.3 190.6 484.6 191.8 486.7 193.1 488.6 194.6 490.1 196.4 491.2 198.1 492 199.8 492.7 201.8 493.3 203.8 493.7 205.5 494 206.7 494.2 207.3 489.9 206.1 489.8 204.5 489.6 202.7 489.3 201.1 488.9 199.6 488.4 198.1 487.8 196.9 487.1 195.7 486.2 194.6 484.8 193.4 483.1 192.5 481.3 191.9 479.7 191.9 478.1 192.4 476.1 193 474.2 193.1 472.5 192.1 471.6 190.7 471.4 189.4 471.4 188.5 471.4Z" fill="#EFA088"/><path d="M188.5 471.8 189.4 471.9 190.7 471.9 191.8 472.2 192.3 472.7 192 473.9 191.1 475.6 190.1 477.7 189.6 479.9 190.1 482.1 190.9 484.4 192.1 486.5 193.4 488.3 194.9 489.7 196.6 490.8 198.3 491.6 200 492.2 201.9 492.8 203.9 493.2 205.6 493.5 206.8 493.7 207.1 491.7 205.9 491.6 204.2 491.3 202.3 491 200.6 490.5 199 489.9 197.4 489.2 195.9 488.4 194.6 487.2 193.4 485.6 192.2 483.7 191.3 481.7 190.8 479.8 191 477.9 191.8 475.9 192.5 474 192.7 472.6 192 471.9 190.7 471.6 189.4 471.6 188.5 471.6Z" fill="#F6B4A0" opacity="0.7"/><path d="M200.4 477.8 199.8 478.7 199 479.9 198.1 481.3 197.2 482.6 196.4 484 195.6 485.4 194.9 486.6 194.4 487.5 197.9 489.8 198.5 489 199.3 487.9 200.3 486.6 201.2 485.4 202.1 484.2 203.1 482.9 204 481.8 204.7 481Z" fill="#2E1410" opacity="0.85"/><path d="M201.4 477.6 200.8 478.4 199.9 479.7 199 481.1 198.1 482.4 197.3 483.7 196.4 485.2 195.7 486.4 195.2 487.3 198.2 489.3 198.8 488.5 199.6 487.3 200.6 486 201.5 484.8 202.5 483.6 203.5 482.3 204.4 481.1 205.1 480.3Z" fill="#EFA088"/><path d="M201.8 477.9 201.2 478.8 200.4 480 199.4 481.4 198.5 482.7 197.7 484 196.8 485.4 196.1 486.7 195.6 487.5 196.9 488.4 197.5 487.6 198.3 486.4 199.2 485.1 200.1 483.8 201 482.5 202 481.2 202.9 480 203.5 479.2Z" fill="#F6B4A0" opacity="0.7"/><path d="M159.6 510.9 160 510.2 160.7 509.3 161.3 508.5 161.9 508.2 162.4 508.7 163.2 509.6 164.2 510.9 165.4 511.9 166.7 512.6 168.1 513.2 169.6 513.6 171 513.9 172.6 514 174.1 513.9 175.4 513.8 176.3 513.8 175.8 510.3 174.9 510.5 173.7 510.8 172.4 511 171.2 511.1 169.9 511.1 168.6 511 167.3 510.7 166.2 510.4 165.2 509.7 164.1 508.7 163 507.8 161.9 507.3 160.8 507.9 160.1 508.9 159.6 510 159.2 510.7Z" fill="#2E1410" opacity="0.85"/><path d="M159.6 510.8 160.1 510.2 160.7 509.2 161.4 508.3 162 508.1 162.6 508.5 163.4 509.5 164.5 510.7 165.7 511.6 167 512.3 168.5 512.8 169.9 513.2 171.4 513.4 172.9 513.5 174.5 513.4 175.8 513.3 176.7 513.2 176.3 510.3 175.4 510.4 174.1 510.7 172.8 510.9 171.5 511.1 170.2 511 168.9 510.9 167.6 510.7 166.4 510.3 165.3 509.7 164.2 508.7 163.1 507.8 162 507.3 161 507.8 160.2 508.9 159.7 509.9 159.3 510.6Z" fill="#EFA088"/><path d="M159.6 510.8 160 510.1 160.6 509.1 161.4 508.3 162 508 162.6 508.4 163.5 509.4 164.6 510.5 165.8 511.5 167.1 512.1 168.5 512.6 170 512.9 171.4 513.1 172.9 513.2 174.4 513.1 175.8 513 176.7 512.9 176.5 511.5 175.6 511.7 174.3 511.9 172.8 512 171.5 512.1 170.1 511.9 168.7 511.7 167.3 511.4 166.1 510.9 164.9 510.1 163.9 509 162.9 508.1 162 507.6 161.2 508.1 160.4 509 159.8 510 159.4 510.7Z" fill="#F6B4A0" opacity="0.7"/><path d="M168.8 493.4 169.7 493.5 171 493.5 172.1 493.8 172.4 494.3 172 495.4 170.9 497.1 169.8 499.2 169.2 501.6 169.5 504.1 170.4 506.5 171.5 508.7 172.8 510.6 174.4 512.1 176.1 513.3 177.9 514.1 179.6 514.8 181.5 515.4 183.6 515.9 185.3 516.2 186.5 516.4 187.2 511.5 186 511.3 184.3 511.1 182.6 510.9 181 510.5 179.6 510 178.1 509.4 176.9 508.7 175.8 507.8 174.7 506.5 173.6 504.8 172.7 503 172.2 501.4 172.2 499.8 172.8 497.8 173.4 495.8 173.5 494.1 172.5 493.1 171.1 492.9 169.7 492.9 168.9 492.8Z" fill="#2E1410" opacity="0.85"/><path d="M168.9 493.3 169.8 493.4 171.1 493.4 172.2 493.7 172.6 494.2 172.3 495.3 171.3 496.9 170.2 499 169.8 501.4 170.2 503.7 171 506 172.2 508.2 173.5 510.1 175.1 511.5 176.8 512.6 178.6 513.5 180.3 514.2 182.2 514.7 184.2 515.2 186 515.4 187.2 515.6 187.8 511.4 186.6 511.2 184.9 511 183.1 510.8 181.5 510.3 180 509.8 178.6 509.2 177.3 508.5 176.2 507.6 175 506.3 173.9 504.6 172.9 502.8 172.4 501.2 172.4 499.6 172.9 497.6 173.5 495.6 173.5 494 172.5 493.1 171.2 492.8 169.8 492.8 168.9 492.8Z" fill="#EFA088"/><path d="M168.9 493.3 169.8 493.3 171.1 493.4 172.3 493.6 172.8 494.2 172.4 495.3 171.5 497 170.5 499.1 170.1 501.3 170.5 503.6 171.4 505.8 172.6 508 173.9 509.8 175.4 511.2 177 512.2 178.7 513 180.4 513.7 182.3 514.2 184.3 514.6 186 514.9 187.2 515.1 187.5 513.2 186.3 513 184.6 512.8 182.7 512.4 181 512 179.4 511.4 177.8 510.7 176.4 509.8 175.1 508.7 173.8 507.1 172.7 505.2 171.8 503.2 171.3 501.3 171.5 499.3 172.2 497.3 173 495.5 173.2 494.1 172.4 493.3 171.1 493.1 169.8 493.1 168.9 493Z" fill="#F6B4A0" opacity="0.7"/><path d="M180.9 499.3 180.3 500.1 179.5 501.4 178.5 502.8 177.7 504.1 176.9 505.4 176.1 506.8 175.4 508.1 174.9 508.9 178.3 511.2 178.9 510.4 179.8 509.3 180.7 508.1 181.6 506.9 182.6 505.7 183.6 504.4 184.5 503.2 185.1 502.4Z" fill="#2E1410" opacity="0.85"/><path d="M181.8 499 181.2 499.9 180.4 501.1 179.4 502.5 178.6 503.9 177.7 505.2 176.9 506.6 176.1 507.9 175.6 508.7 178.6 510.7 179.2 509.9 180.1 508.8 181.1 507.5 182 506.3 182.9 505.1 184 503.7 184.9 502.6 185.5 501.8Z" fill="#EFA088"/><path d="M182.3 499.4 181.7 500.2 180.8 501.4 179.9 502.8 179 504.2 178.1 505.5 177.3 506.9 176.5 508.1 176 509 177.3 509.9 177.9 509 178.7 507.8 179.6 506.5 180.5 505.2 181.5 504 182.4 502.6 183.3 501.4 184 500.6Z" fill="#F6B4A0" opacity="0.7"/><path d="M179.2 510.9 179.6 510.2 180.2 509.3 180.9 508.5 181.4 508.2 181.9 508.7 182.8 509.6 183.7 510.9 184.9 511.9 186.3 512.6 187.7 513.2 189.1 513.6 190.6 513.9 192.1 514 193.7 513.9 195 513.8 195.8 513.8 195.3 510.3 194.5 510.5 193.2 510.8 191.9 511 190.7 511.1 189.5 511.1 188.2 511 186.9 510.7 185.8 510.4 184.7 509.7 183.7 508.7 182.6 507.8 181.4 507.3 180.4 507.9 179.7 508.9 179.1 510 178.8 510.7Z" fill="#2E1410" opacity="0.85"/><path d="M179.2 510.8 179.6 510.2 180.3 509.2 181 508.3 181.5 508.1 182.1 508.5 183 509.5 184 510.7 185.2 511.6 186.6 512.3 188 512.8 189.5 513.2 190.9 513.4 192.5 513.5 194 513.4 195.4 513.3 196.3 513.2 195.8 510.3 194.9 510.4 193.7 510.7 192.3 510.9 191.1 511.1 189.8 511 188.4 510.9 187.1 510.7 185.9 510.3 184.9 509.7 183.8 508.7 182.7 507.8 181.5 507.3 180.5 507.8 179.8 508.9 179.2 509.9 178.8 510.6Z" fill="#EFA088"/><path d="M179.1 510.8 179.6 510.1 180.2 509.1 180.9 508.3 181.5 508 182.2 508.4 183.1 509.4 184.1 510.5 185.3 511.5 186.6 512.1 188.1 512.6 189.5 512.9 191 513.1 192.5 513.2 194 513.1 195.3 513 196.2 512.9 196 511.5 195.1 511.7 193.8 511.9 192.4 512 191 512.1 189.7 511.9 188.3 511.7 186.9 511.4 185.6 510.9 184.5 510.1 183.4 509 182.5 508.1 181.5 507.6 180.7 508.1 180 509 179.4 510 179 510.7Z" fill="#F6B4A0" opacity="0.7"/><path d="M188.4 493.4 189.3 493.5 190.6 493.5 191.7 493.8 192 494.3 191.6 495.4 190.5 497.1 189.3 499.2 188.7 501.6 189.1 504.1 189.9 506.5 191 508.7 192.3 510.6 193.9 512.1 195.7 513.3 197.4 514.1 199.1 514.8 201.1 515.4 203.1 515.9 204.8 516.2 206 516.4 206.7 511.5 205.5 511.3 203.9 511.1 202.1 510.9 200.6 510.5 199.1 510 197.7 509.4 196.5 508.7 195.4 507.8 194.3 506.5 193.2 504.8 192.3 503 191.7 501.4 191.8 499.8 192.3 497.8 192.9 495.8 193 494.1 192 493.1 190.6 492.9 189.3 492.9 188.4 492.8Z" fill="#2E1410" opacity="0.85"/><path d="M188.5 493.3 189.4 493.4 190.7 493.4 191.8 493.7 192.2 494.2 191.8 495.3 190.9 496.9 189.8 499 189.3 501.4 189.7 503.7 190.6 506 191.8 508.2 193.1 510.1 194.6 511.5 196.4 512.6 198.1 513.5 199.8 514.2 201.8 514.7 203.8 515.2 205.5 515.4 206.7 515.6 207.3 511.4 206.1 511.2 204.5 511 202.7 510.8 201.1 510.3 199.6 509.8 198.1 509.2 196.9 508.5 195.7 507.6 194.6 506.3 193.4 504.6 192.5 502.8 191.9 501.2 191.9 499.6 192.4 497.6 193 495.6 193.1 494 192.1 493.1 190.7 492.8 189.4 492.8 188.5 492.8Z" fill="#EFA088"/><path d="M188.5 493.3 189.4 493.3 190.7 493.4 191.8 493.6 192.3 494.2 192 495.3 191.1 497 190.1 499.1 189.6 501.3 190.1 503.6 190.9 505.8 192.1 508 193.4 509.8 194.9 511.2 196.6 512.2 198.3 513 200 513.7 201.9 514.2 203.9 514.6 205.6 514.9 206.8 515.1 207.1 513.2 205.9 513 204.2 512.8 202.3 512.4 200.6 512 199 511.4 197.4 510.7 195.9 509.8 194.6 508.7 193.4 507.1 192.2 505.2 191.3 503.2 190.8 501.3 191 499.3 191.8 497.3 192.5 495.5 192.7 494.1 192 493.3 190.7 493.1 189.4 493.1 188.5 493Z" fill="#F6B4A0" opacity="0.7"/><path d="M200.4 499.3 199.8 500.1 199 501.4 198.1 502.8 197.2 504.1 196.4 505.4 195.6 506.8 194.9 508.1 194.4 508.9 197.9 511.2 198.5 510.4 199.3 509.3 200.3 508.1 201.2 506.9 202.1 505.7 203.1 504.4 204 503.2 204.7 502.4Z" fill="#2E1410" opacity="0.85"/><path d="M201.4 499 200.8 499.9 199.9 501.1 199 502.5 198.1 503.9 197.3 505.2 196.4 506.6 195.7 507.9 195.2 508.7 198.2 510.7 198.8 509.9 199.6 508.8 200.6 507.5 201.5 506.3 202.5 505.1 203.5 503.7 204.4 502.6 205.1 501.8Z" fill="#EFA088"/><path d="M201.8 499.4 201.2 500.2 200.4 501.4 199.4 502.8 198.5 504.2 197.7 505.5 196.8 506.9 196.1 508.1 195.6 509 196.9 509.9 197.5 509 198.3 507.8 199.2 506.5 200.1 505.2 201 504 202 502.6 202.9 501.4 203.5 500.6Z" fill="#F6B4A0" opacity="0.7"/><path d="M159.6 533.6 160 532.9 160.7 532 161.3 531.2 161.9 531 162.4 531.4 163.2 532.4 164.2 533.6 165.4 534.6 166.7 535.3 168.1 535.9 169.6 536.3 171 536.6 172.6 536.7 174.1 536.6 175.4 536.5 176.3 536.5 175.8 533 174.9 533.2 173.7 533.5 172.4 533.7 171.2 533.8 169.9 533.8 168.6 533.7 167.3 533.4 166.2 533.1 165.2 532.4 164.1 531.4 163 530.5 161.9 530 160.8 530.6 160.1 531.6 159.6 532.7 159.2 533.4Z" fill="#2E1410" opacity="0.85"/><path d="M159.6 533.5 160.1 532.9 160.7 531.9 161.4 531.1 162 530.8 162.6 531.2 163.4 532.2 164.5 533.4 165.7 534.4 167 535 168.5 535.5 169.9 535.9 171.4 536.2 172.9 536.2 174.5 536.2 175.8 536 176.7 535.9 176.3 533 175.4 533.2 174.1 533.4 172.8 533.7 171.5 533.8 170.2 533.7 168.9 533.6 167.6 533.4 166.4 533 165.3 532.4 164.2 531.4 163.1 530.5 162 530 161 530.5 160.2 531.6 159.7 532.6 159.3 533.3Z" fill="#EFA088"/><path d="M159.6 533.5 160 532.8 160.6 531.8 161.4 531 162 530.7 162.6 531.1 163.5 532.1 164.6 533.2 165.8 534.2 167.1 534.8 168.5 535.3 170 535.6 171.4 535.9 172.9 535.9 174.4 535.8 175.8 535.7 176.7 535.6 176.5 534.2 175.6 534.4 174.3 534.6 172.8 534.8 171.5 534.8 170.1 534.7 168.7 534.4 167.3 534.1 166.1 533.6 164.9 532.8 163.9 531.7 162.9 530.8 162 530.4 161.2 530.8 160.4 531.7 159.8 532.7 159.4 533.4Z" fill="#F6B4A0" opacity="0.7"/><path d="M168.8 516.1 169.7 516.2 171 516.2 172.1 516.5 172.4 517 172 518.1 170.9 519.8 169.8 521.9 169.2 524.3 169.5 526.8 170.4 529.2 171.5 531.4 172.8 533.3 174.4 534.9 176.1 536 177.9 536.8 179.6 537.5 181.5 538.2 183.6 538.6 185.3 538.9 186.5 539.1 187.2 534.2 186 534 184.3 533.8 182.6 533.6 181 533.2 179.6 532.7 178.1 532.1 176.9 531.4 175.8 530.5 174.7 529.2 173.6 527.5 172.7 525.7 172.2 524.2 172.2 522.5 172.8 520.5 173.4 518.5 173.5 516.8 172.5 515.8 171.1 515.6 169.7 515.6 168.9 515.5Z" fill="#2E1410" opacity="0.85"/><path d="M168.9 516 169.8 516.1 171.1 516.1 172.2 516.4 172.6 516.9 172.3 518 171.3 519.7 170.2 521.7 169.8 524.1 170.2 526.4 171 528.7 172.2 530.9 173.5 532.8 175.1 534.3 176.8 535.4 178.6 536.2 180.3 536.9 182.2 537.4 184.2 537.9 186 538.1 187.2 538.3 187.8 534.1 186.6 533.9 184.9 533.7 183.1 533.5 181.5 533.1 180 532.5 178.6 531.9 177.3 531.2 176.2 530.3 175 529 173.9 527.3 172.9 525.5 172.4 523.9 172.4 522.3 172.9 520.3 173.5 518.3 173.5 516.7 172.5 515.8 171.2 515.5 169.8 515.5 168.9 515.5Z" fill="#EFA088"/><path d="M168.9 516 169.8 516 171.1 516.1 172.3 516.3 172.8 516.9 172.4 518 171.5 519.7 170.5 521.8 170.1 524 170.5 526.3 171.4 528.5 172.6 530.7 173.9 532.5 175.4 533.9 177 534.9 178.7 535.7 180.4 536.4 182.3 536.9 184.3 537.3 186 537.6 187.2 537.8 187.5 535.9 186.3 535.7 184.6 535.5 182.7 535.2 181 534.7 179.4 534.1 177.8 533.4 176.4 532.5 175.1 531.4 173.8 529.8 172.7 527.9 171.8 525.9 171.3 524 171.5 522.1 172.2 520 173 518.2 173.2 516.8 172.4 516 171.1 515.8 169.8 515.8 168.9 515.7Z" fill="#F6B4A0" opacity="0.7"/><path d="M180.9 522 180.3 522.8 179.5 524.1 178.5 525.5 177.7 526.8 176.9 528.1 176.1 529.5 175.4 530.8 174.9 531.6 178.3 533.9 178.9 533.2 179.8 532 180.7 530.8 181.6 529.6 182.6 528.4 183.6 527.1 184.5 525.9 185.1 525.1Z" fill="#2E1410" opacity="0.85"/><path d="M181.8 521.7 181.2 522.6 180.4 523.8 179.4 525.2 178.6 526.6 177.7 527.9 176.9 529.3 176.1 530.6 175.6 531.4 178.6 533.4 179.2 532.6 180.1 531.5 181.1 530.2 182 529 182.9 527.8 184 526.5 184.9 525.3 185.5 524.5Z" fill="#EFA088"/><path d="M182.3 522.1 181.7 522.9 180.8 524.2 179.9 525.5 179 526.9 178.1 528.2 177.3 529.6 176.5 530.8 176 531.7 177.3 532.6 177.9 531.8 178.7 530.6 179.6 529.2 180.5 527.9 181.5 526.7 182.4 525.3 183.3 524.1 184 523.3Z" fill="#F6B4A0" opacity="0.7"/><path d="M179.2 533.6 179.6 532.9 180.2 532 180.9 531.2 181.4 531 181.9 531.4 182.8 532.4 183.7 533.6 184.9 534.6 186.3 535.3 187.7 535.9 189.1 536.3 190.6 536.6 192.1 536.7 193.7 536.6 195 536.5 195.8 536.5 195.3 533 194.5 533.2 193.2 533.5 191.9 533.7 190.7 533.8 189.5 533.8 188.2 533.7 186.9 533.4 185.8 533.1 184.7 532.4 183.7 531.4 182.6 530.5 181.4 530 180.4 530.6 179.7 531.6 179.1 532.7 178.8 533.4Z" fill="#2E1410" opacity="0.85"/><path d="M179.2 533.5 179.6 532.9 180.3 531.9 181 531.1 181.5 530.8 182.1 531.2 183 532.2 184 533.4 185.2 534.4 186.6 535 188 535.5 189.5 535.9 190.9 536.2 192.5 536.2 194 536.2 195.4 536 196.3 535.9 195.8 533 194.9 533.2 193.7 533.4 192.3 533.7 191.1 533.8 189.8 533.7 188.4 533.6 187.1 533.4 185.9 533 184.9 532.4 183.8 531.4 182.7 530.5 181.5 530 180.5 530.5 179.8 531.6 179.2 532.6 178.8 533.3Z" fill="#EFA088"/><path d="M179.1 533.5 179.6 532.8 180.2 531.8 180.9 531 181.5 530.7 182.2 531.1 183.1 532.1 184.1 533.2 185.3 534.2 186.6 534.8 188.1 535.3 189.5 535.6 191 535.9 192.5 535.9 194 535.8 195.3 535.7 196.2 535.6 196 534.2 195.1 534.4 193.8 534.6 192.4 534.8 191 534.8 189.7 534.7 188.3 534.4 186.9 534.1 185.6 533.6 184.5 532.8 183.4 531.7 182.5 530.8 181.5 530.4 180.7 530.8 180 531.7 179.4 532.7 179 533.4Z" fill="#F6B4A0" opacity="0.7"/><path d="M188.4 516.1 189.3 516.2 190.6 516.2 191.7 516.5 192 517 191.6 518.1 190.5 519.8 189.3 521.9 188.7 524.3 189.1 526.8 189.9 529.2 191 531.4 192.3 533.3 193.9 534.9 195.7 536 197.4 536.8 199.1 537.5 201.1 538.2 203.1 538.6 204.8 538.9 206 539.1 206.7 534.2 205.5 534 203.9 533.8 202.1 533.6 200.6 533.2 199.1 532.7 197.7 532.1 196.5 531.4 195.4 530.5 194.3 529.2 193.2 527.5 192.3 525.7 191.7 524.2 191.8 522.5 192.3 520.5 192.9 518.5 193 516.8 192 515.8 190.6 515.6 189.3 515.6 188.4 515.5Z" fill="#2E1410" opacity="0.85"/><path d="M188.5 516 189.4 516.1 190.7 516.1 191.8 516.4 192.2 516.9 191.8 518 190.9 519.7 189.8 521.7 189.3 524.1 189.7 526.4 190.6 528.7 191.8 530.9 193.1 532.8 194.6 534.3 196.4 535.4 198.1 536.2 199.8 536.9 201.8 537.4 203.8 537.9 205.5 538.1 206.7 538.3 207.3 534.1 206.1 533.9 204.5 533.7 202.7 533.5 201.1 533.1 199.6 532.5 198.1 531.9 196.9 531.2 195.7 530.3 194.6 529 193.4 527.3 192.5 525.5 191.9 523.9 191.9 522.3 192.4 520.3 193 518.3 193.1 516.7 192.1 515.8 190.7 515.5 189.4 515.5 188.5 515.5Z" fill="#EFA088"/><path d="M188.5 516 189.4 516 190.7 516.1 191.8 516.3 192.3 516.9 192 518 191.1 519.7 190.1 521.8 189.6 524 190.1 526.3 190.9 528.5 192.1 530.7 193.4 532.5 194.9 533.9 196.6 534.9 198.3 535.7 200 536.4 201.9 536.9 203.9 537.3 205.6 537.6 206.8 537.8 207.1 535.9 205.9 535.7 204.2 535.5 202.3 535.2 200.6 534.7 199 534.1 197.4 533.4 195.9 532.5 194.6 531.4 193.4 529.8 192.2 527.9 191.3 525.9 190.8 524 191 522.1 191.8 520 192.5 518.2 192.7 516.8 192 516 190.7 515.8 189.4 515.8 188.5 515.7Z" fill="#F6B4A0" opacity="0.7"/><path d="M200.4 522 199.8 522.8 199 524.1 198.1 525.5 197.2 526.8 196.4 528.1 195.6 529.5 194.9 530.8 194.4 531.6 197.9 533.9 198.5 533.2 199.3 532 200.3 530.8 201.2 529.6 202.1 528.4 203.1 527.1 204 525.9 204.7 525.1Z" fill="#2E1410" opacity="0.85"/><path d="M201.4 521.7 200.8 522.6 199.9 523.8 199 525.2 198.1 526.6 197.3 527.9 196.4 529.3 195.7 530.6 195.2 531.4 198.2 533.4 198.8 532.6 199.6 531.5 200.6 530.2 201.5 529 202.5 527.8 203.5 526.5 204.4 525.3 205.1 524.5Z" fill="#EFA088"/><path d="M201.8 522.1 201.2 522.9 200.4 524.2 199.4 525.5 198.5 526.9 197.7 528.2 196.8 529.6 196.1 530.8 195.6 531.7 196.9 532.6 197.5 531.8 198.3 530.6 199.2 529.2 200.1 527.9 201 526.7 202 525.3 202.9 524.1 203.5 523.3Z" fill="#F6B4A0" opacity="0.7"/></g>
<g><path d="M234.4 446.1 235.4 446.4 236.8 446.7 238 447.3 238.2 447.7 237.5 448.6 235.9 450 234 451.7 232.5 453.6 231.7 455.4 231.1 457.3 231 459.3 231.4 461.5 232.5 463.5 234 465.5 235.8 467.2 237.6 468.8 239.8 470.3 242.2 471.5 244.3 472.5 245.7 473.2 247.8 468.8 246.3 468.2 244.2 467.3 242.1 466.2 240.3 465.1 238.8 463.9 237.3 462.5 236 461 235.3 459.8 234.9 458.8 234.8 457.6 234.9 456.3 235.2 454.9 236 453.3 237.4 451.4 238.7 449.5 239.4 447.8 238.5 446.5 237 446 235.5 445.7 234.5 445.5Z" fill="#2E1410" opacity="0.85"/><path d="M234.5 446 235.5 446.3 236.9 446.6 238.1 447.2 238.4 447.6 237.8 448.5 236.2 450 234.5 451.6 233.1 453.4 232.3 455.2 231.9 457 231.8 458.9 232.2 461 233.3 463 234.8 464.9 236.5 466.6 238.4 468.2 240.6 469.6 242.9 470.9 245.1 471.8 246.5 472.5 248.3 468.7 246.8 468.1 244.7 467.1 242.6 466.1 240.7 465 239.2 463.7 237.6 462.3 236.4 460.8 235.5 459.6 235.1 458.5 235 457.3 235.1 455.9 235.4 454.5 236.2 453 237.6 451.1 238.9 449.3 239.4 447.7 238.6 446.5 237.1 446 235.6 445.7 234.6 445.5Z" fill="#EFA088"/><path d="M234.5 446 235.5 446.2 237 446.6 238.2 447.1 238.6 447.7 237.9 448.6 236.4 450.1 234.7 451.8 233.4 453.5 232.7 455.3 232.2 457 232.2 458.9 232.6 460.8 233.7 462.7 235.2 464.6 236.9 466.3 238.7 467.8 240.8 469.2 243.2 470.4 245.3 471.4 246.7 472.1 247.5 470.3 246.1 469.7 244 468.7 241.7 467.6 239.7 466.3 238.1 464.9 236.4 463.4 235.1 461.7 234.1 460.2 233.7 458.7 233.7 457.1 233.9 455.6 234.4 454.1 235.5 452.4 237 450.6 238.4 449 239 447.7 238.4 446.8 237 446.3 235.5 446 234.5 445.7Z" fill="#F6B4A0" opacity="0.7"/><path d="M243.2 446.1 244.2 446.4 245.6 446.7 246.8 447.3 247 447.7 246.3 448.6 244.7 450.1 242.8 451.8 241.4 453.5 240.5 455.2 240 456.9 239.8 458.8 240.3 460.9 241.3 462.9 242.8 464.8 244.6 466.6 246.5 468.2 248.6 469.6 251 470.9 253.2 471.8 254.6 472.5 256.6 468.1 255.1 467.4 253 466.6 250.9 465.5 249.1 464.5 247.6 463.3 246.1 461.8 244.9 460.4 244.1 459.2 243.7 458.2 243.6 457.3 243.7 456.2 244 454.9 244.9 453.3 246.2 451.4 247.6 449.5 248.2 447.8 247.3 446.5 245.9 446 244.3 445.7 243.3 445.5Z" fill="#2E1410" opacity="0.85"/><path d="M243.3 446 244.3 446.3 245.8 446.6 247 447.2 247.3 447.6 246.6 448.6 245.1 450 243.3 451.7 241.9 453.4 241.2 455 240.7 456.7 240.6 458.5 241.1 460.4 242.1 462.3 243.6 464.2 245.4 466 247.2 467.6 249.4 469 251.8 470.2 253.9 471.1 255.4 471.8 257.1 467.9 255.6 467.3 253.5 466.4 251.4 465.4 249.6 464.3 248 463.1 246.5 461.6 245.2 460.1 244.4 458.9 244 457.9 243.8 457 244 455.8 244.3 454.6 245.1 453 246.4 451.2 247.7 449.3 248.3 447.7 247.4 446.5 245.9 446 244.4 445.7 243.4 445.5Z" fill="#EFA088"/><path d="M243.3 446 244.3 446.2 245.8 446.6 247 447.1 247.4 447.7 246.7 448.7 245.2 450.1 243.5 451.8 242.2 453.5 241.5 455.1 241.1 456.7 241 458.4 241.5 460.2 242.5 462 244 463.9 245.7 465.6 247.5 467.2 249.6 468.5 252 469.7 254.1 470.6 255.6 471.3 256.3 469.6 254.9 468.9 252.8 468 250.5 466.9 248.6 465.7 246.9 464.3 245.3 462.7 243.9 461.1 243 459.5 242.5 458.2 242.5 456.8 242.8 455.5 243.3 454.1 244.3 452.4 245.8 450.7 247.2 449 247.8 447.7 247.2 446.8 245.9 446.3 244.4 446 243.4 445.7Z" fill="#F6B4A0" opacity="0.7"/><path d="M253.9 445.5 254.9 445.8 256.4 446.2 257.6 446.7 257.8 447.1 257 447.8 255.4 449.1 253.5 450.6 252 452.2 251.1 454 250.7 455.7 250.6 457.5 250.8 459.3 251.5 461.2 252.5 462.9 253.8 464.6 255.2 466.1 257 467.5 258.9 468.7 260.7 469.6 261.8 470.3 264 466.2 262.8 465.6 261.1 464.7 259.4 463.8 258.1 462.8 257 461.7 255.9 460.5 255.1 459.2 254.5 458.1 254.3 457.1 254.2 456 254.3 454.9 254.6 453.7 255.4 452.3 256.9 450.5 258.2 448.8 258.9 447.2 258.1 446 256.6 445.4 255.1 445.1 254.1 444.9Z" fill="#2E1410" opacity="0.85"/><path d="M254 445.4 255 445.7 256.5 446 257.7 446.6 258 447 257.3 447.8 255.8 449 254 450.5 252.6 452.1 251.8 453.7 251.4 455.4 251.3 457.1 251.6 458.9 252.3 460.7 253.3 462.4 254.6 464 256 465.5 257.7 466.8 259.7 468 261.4 469 262.6 469.6 264.5 466.1 263.3 465.5 261.6 464.6 259.9 463.6 258.5 462.6 257.3 461.5 256.3 460.3 255.4 459 254.8 457.9 254.5 456.8 254.4 455.7 254.5 454.5 254.8 453.3 255.6 451.9 257 450.3 258.4 448.6 259 447.1 258.2 445.9 256.7 445.4 255.1 445.1 254.1 444.9Z" fill="#EFA088"/><path d="M254 445.3 255 445.6 256.5 446 257.8 446.5 258.1 447 257.4 447.9 255.9 449.2 254.2 450.6 252.8 452.2 252.1 453.8 251.7 455.4 251.7 457.1 252 458.8 252.7 460.5 253.7 462.1 254.9 463.7 256.3 465.1 258 466.4 259.9 467.6 261.7 468.5 262.8 469.2 263.7 467.6 262.5 466.9 260.8 466.1 259 465 257.4 463.8 256.2 462.6 255 461.2 254.1 459.7 253.4 458.3 253.1 456.9 253.1 455.6 253.4 454.2 253.9 452.8 254.9 451.3 256.5 449.7 257.9 448.2 258.6 447 258 446.2 256.6 445.7 255.1 445.3 254.1 445.1Z" fill="#F6B4A0" opacity="0.7"/><path d="M268.5 443.8 269.1 444.6 269.9 445.7 270.4 446.9 270.2 447.4 269.2 447.7 267.2 447.9 264.8 448.2 262.6 449.2 260.9 451 259.8 453 258.9 455.1 258.5 457.4 258.3 459.7 258.5 462.1 259 464.5 259.8 466.8 261 469.1 262.6 471.2 264 472.8 264.9 473.9 268.9 470.7 268 469.6 266.7 468 265.5 466.3 264.6 464.7 264.1 463.1 263.7 461.3 263.5 459.5 263.5 457.8 263.6 456.1 263.9 454.4 264.4 452.9 264.9 451.8 265.9 450.9 267.8 450 269.8 449.2 271.2 448.1 271.2 446.6 270.5 445.3 269.6 444.2 269 443.5Z" fill="#2E1410" opacity="0.85"/><path d="M268.6 443.8 269.2 444.6 270 445.7 270.5 446.8 270.5 447.4 269.5 447.6 267.6 447.8 265.3 448.1 263.2 449.1 261.7 450.7 260.6 452.7 259.9 454.8 259.5 457 259.3 459.2 259.6 461.6 260 463.9 260.8 466.2 262 468.5 263.5 470.5 264.9 472.1 265.9 473.3 269.3 470.5 268.4 469.3 267.1 467.7 265.9 466 265 464.4 264.5 462.8 264.1 460.9 263.9 459 263.8 457.3 263.9 455.6 264.2 453.9 264.6 452.4 265.2 451.3 266.2 450.4 268 449.7 269.9 449 271.3 448 271.3 446.6 270.5 445.3 269.6 444.2 269 443.5Z" fill="#EFA088"/><path d="M268.7 443.7 269.2 444.5 270.1 445.6 270.6 446.7 270.6 447.4 269.5 447.8 267.6 448 265.4 448.4 263.4 449.3 262 450.9 261.1 452.8 260.4 454.9 260 457 259.9 459.2 260.1 461.5 260.6 463.8 261.3 466 262.5 468.2 264 470.1 265.4 471.8 266.3 472.9 267.8 471.7 266.9 470.5 265.6 468.9 264.2 467 263.2 465.2 262.6 463.3 262.2 461.2 262 459.1 262 457.1 262.2 455.3 262.7 453.4 263.4 451.7 264.3 450.4 265.8 449.5 267.8 448.9 269.7 448.4 270.9 447.7 271 446.6 270.3 445.5 269.4 444.4 268.9 443.6Z" fill="#F6B4A0" opacity="0.7"/><path d="M229.5 479.8 230.4 479.3 231.6 478.6 232.8 478.2 233.3 478.4 233.5 479.6 233.4 481.7 233.5 484.2 234.3 486.6 235.9 488.3 237.9 489.7 240.1 490.8 242.3 491.7 244.6 492.3 247 492.6 249.2 492.8 251.2 493.1 253.2 493.6 255.4 494.1 257.4 494.6 258.7 495 259.9 490 258.6 489.7 256.6 489.3 254.3 488.7 251.9 488.3 249.6 488.1 247.3 488 245.2 487.9 243.3 487.6 241.4 487.1 239.4 486.5 237.7 485.8 236.5 484.9 235.8 483.6 235.3 481.4 234.9 479.3 234.1 477.6 232.7 477.3 231.3 477.9 230.1 478.7 229.3 479.3Z" fill="#2E1410" opacity="0.85"/><path d="M229.6 479.7 230.5 479.2 231.7 478.5 232.9 478.1 233.5 478.3 233.8 479.4 233.8 481.5 234 483.9 234.8 486.2 236.5 487.9 238.5 489.2 240.7 490.2 242.9 491 245.2 491.6 247.6 491.9 249.8 492.1 251.9 492.4 253.9 492.8 256.1 493.4 258.1 493.9 259.5 494.2 260.5 489.9 259.1 489.6 257.1 489.1 254.8 488.6 252.5 488.2 250.2 488 247.9 487.9 245.8 487.8 243.8 487.5 241.8 487 239.8 486.4 238 485.7 236.8 484.8 236 483.4 235.5 481.3 235 479.1 234.2 477.6 232.8 477.3 231.4 477.9 230.2 478.7 229.4 479.2Z" fill="#EFA088"/><path d="M229.6 479.6 230.4 479.2 231.7 478.4 232.9 478 233.6 478.2 233.9 479.4 234 481.5 234.2 483.9 235.1 486 236.7 487.6 238.7 488.8 240.8 489.8 243 490.6 245.3 491.1 247.6 491.4 249.9 491.6 251.9 491.9 254.1 492.3 256.3 492.8 258.2 493.3 259.6 493.7 260.1 491.7 258.7 491.4 256.7 490.9 254.5 490.4 252.2 490 250 489.8 247.8 489.6 245.5 489.4 243.4 489 241.3 488.4 239.2 487.6 237.4 486.6 235.9 485.4 235.1 483.6 234.8 481.4 234.5 479.3 233.9 477.9 232.9 477.7 231.5 478.2 230.3 478.9 229.5 479.4Z" fill="#F6B4A0" opacity="0.7"/><path d="M244.4 471.8 243.8 473.3 242.8 475.4 241.9 477.9 241.6 480.3 242.3 482.6 243.5 484.7 245 486.5 246.8 488.1 249.2 489.5 251.9 490.6 254.3 491.4 256 492 257.3 487.8 255.6 487.3 253.3 486.6 250.8 485.8 248.9 484.8 247.5 483.8 246.1 482.5 245 481.1 244.3 479.8 244.1 478.1 244.4 475.8 244.8 473.6 245.1 472Z" fill="#2E1410" opacity="0.85"/><path d="M244.6 471.8 244 473.2 243.1 475.3 242.3 477.7 242.2 480.1 242.9 482.2 244.1 484.2 245.6 486 247.5 487.6 249.8 488.9 252.5 490 255 490.8 256.6 491.4 257.8 487.7 256.1 487.2 253.7 486.5 251.3 485.6 249.3 484.7 247.8 483.6 246.4 482.3 245.3 480.9 244.5 479.6 244.3 477.9 244.5 475.6 244.9 473.5 245.2 472Z" fill="#EFA088"/><path d="M244.6 471.8 244.1 473.2 243.3 475.3 242.6 477.7 242.5 480 243.2 482.1 244.4 484 245.9 485.7 247.7 487.2 250 488.5 252.7 489.5 255.1 490.3 256.8 490.9 257.3 489.3 255.6 488.7 253.2 488 250.7 487 248.5 485.9 246.9 484.6 245.4 483.1 244.2 481.5 243.5 479.8 243.5 477.8 243.9 475.5 244.5 473.4 244.9 471.9Z" fill="#F6B4A0" opacity="0.7"/><path d="M255.3 472.8 254.7 473.9 253.7 475.5 252.8 477.5 252.3 479.5 252.4 481.5 252.9 483.4 253.6 485.2 254.5 487 255.8 488.7 257.3 490.2 258.7 491.5 259.7 492.3 262.5 489 261.5 488.2 260.1 487.1 258.7 485.9 257.7 484.7 256.8 483.5 256.1 482.1 255.5 480.7 255.1 479.4 255 477.9 255.3 476 255.7 474.3 256 473.1Z" fill="#2E1410" opacity="0.85"/><path d="M255.4 472.8 254.9 473.9 254.1 475.4 253.3 477.3 252.9 479.2 253 481.2 253.5 483 254.3 484.8 255.2 486.5 256.5 488.2 258.1 489.7 259.5 490.9 260.4 491.7 262.9 488.9 261.9 488 260.5 486.9 259.1 485.7 258 484.5 257.1 483.3 256.3 481.9 255.7 480.5 255.3 479.2 255.2 477.7 255.4 475.9 255.8 474.2 256 473Z" fill="#EFA088"/><path d="M255.5 472.8 255 473.9 254.2 475.5 253.5 477.3 253.2 479.2 253.4 481.1 253.9 482.9 254.6 484.6 255.6 486.3 256.8 487.8 258.4 489.3 259.8 490.5 260.7 491.4 261.8 490.1 260.9 489.3 259.5 488.1 258 486.7 256.8 485.4 255.9 483.9 255.1 482.4 254.6 480.8 254.3 479.2 254.4 477.5 254.8 475.7 255.4 474 255.8 472.9Z" fill="#F6B4A0" opacity="0.7"/><path d="M266.1 472 264.9 472.8 263.2 474 261.3 475.6 259.8 477.5 259 479.7 258.6 482 258.6 484.5 259.3 487 260.9 489.5 262.9 491.7 264.9 493.5 266.2 494.7 269.7 491.1 268.4 489.8 266.6 488.1 264.9 486.3 263.9 484.9 263.5 483.6 263.4 482.1 263.5 480.5 263.7 479.1 264.2 477.5 265.1 475.7 266.2 474 267 472.7Z" fill="#2E1410" opacity="0.85"/><path d="M266.3 471.9 265.2 472.7 263.6 473.9 261.9 475.4 260.6 477.3 259.9 479.4 259.5 481.6 259.6 484 260.3 486.5 261.8 488.8 263.9 491 265.8 492.8 267.1 494 270.1 490.9 268.8 489.6 267 487.9 265.3 486.1 264.3 484.6 263.8 483.2 263.7 481.7 263.8 480.1 264 478.6 264.4 477.1 265.3 475.4 266.3 473.8 267.1 472.6Z" fill="#EFA088"/><path d="M266.4 472 265.4 472.9 263.8 474.1 262.2 475.6 261 477.4 260.4 479.4 260 481.6 260.1 483.9 260.8 486.2 262.3 488.5 264.2 490.6 266.2 492.4 267.4 493.6 268.8 492.2 267.5 491 265.7 489.2 263.8 487.2 262.6 485.4 262 483.6 261.9 481.7 262.1 479.8 262.5 478 263.4 476.4 264.6 474.7 265.9 473.3 266.7 472.3Z" fill="#F6B4A0" opacity="0.7"/><path d="M236.9 493.4 237.8 493.6 239 493.8 240 494.2 240.4 494.8 239.9 495.9 238.8 497.7 237.7 500 237.3 502.5 238.1 504.9 239.4 507 241.3 509 243.7 510.8 246.8 512.2 250.5 513.4 253.9 514.4 256.2 515 257.5 510.3 255.1 509.7 251.7 508.9 248.3 507.9 245.7 506.9 243.9 505.8 242.3 504.4 241.2 503.1 240.5 501.9 240.3 500.5 240.8 498.5 241.4 496.4 241.5 494.6 240.5 493.5 239.2 493.1 237.9 492.9 237 492.8Z" fill="#2E1410" opacity="0.85"/><path d="M237 493.3 237.9 493.5 239.1 493.7 240.2 494.1 240.6 494.7 240.2 495.8 239.2 497.6 238.2 499.8 237.9 502.2 238.8 504.5 240.1 506.5 242 508.5 244.4 510.1 247.5 511.6 251.2 512.7 254.6 513.6 256.9 514.3 258 510.2 255.7 509.6 252.3 508.8 248.8 507.8 246.1 506.8 244.3 505.6 242.7 504.3 241.4 502.9 240.7 501.6 240.5 500.2 241 498.3 241.5 496.2 241.6 494.5 240.6 493.4 239.2 493.1 237.9 492.9 237.1 492.8Z" fill="#EFA088"/><path d="M237 493.3 237.9 493.4 239.1 493.6 240.2 494 240.7 494.7 240.4 495.9 239.4 497.7 238.5 499.8 238.3 502.1 239.1 504.3 240.5 506.3 242.3 508.1 244.6 509.7 247.7 511.1 251.3 512.2 254.7 513.1 257.1 513.8 257.6 511.9 255.2 511.3 251.8 510.5 248.2 509.4 245.4 508.2 243.3 506.8 241.6 505.2 240.3 503.5 239.5 501.9 239.5 500 240.2 498 241 496.1 241.2 494.6 240.4 493.7 239.2 493.3 237.9 493.2 237.1 493Z" fill="#F6B4A0" opacity="0.7"/><path d="M254.4 493.4 255 493.9 255.9 494.5 256.5 495.2 256.6 495.9 255.9 497.2 254.5 498.9 252.9 501 252 503.4 252.2 505.7 253.1 507.6 254.1 509.2 255.1 510.6 256.3 511.8 257.5 512.8 258.6 513.5 259.2 514 261.6 510.3 260.9 509.8 260 509.3 259 508.6 258.2 507.8 257.3 506.8 256.4 505.6 255.8 504.5 255.5 503.6 255.7 502.2 256.6 500.1 257.5 498 258 496 257.5 494.6 256.4 493.7 255.4 493.2 254.8 492.8Z" fill="#2E1410" opacity="0.85"/><path d="M254.5 493.3 255.2 493.8 256.1 494.3 256.7 495 256.9 495.8 256.2 497.1 254.9 498.8 253.5 500.8 252.7 503.1 253 505.3 253.8 507.2 254.9 508.7 255.9 510 257 511.2 258.2 512.2 259.3 512.9 260 513.3 262.1 510.2 261.3 509.7 260.4 509.1 259.4 508.4 258.6 507.6 257.7 506.6 256.7 505.4 256 504.2 255.7 503.3 255.9 501.9 256.7 499.8 257.7 497.7 258.1 495.9 257.5 494.5 256.5 493.7 255.5 493.2 254.9 492.8Z" fill="#EFA088"/><path d="M254.6 493.3 255.2 493.7 256.1 494.2 256.8 495 257 495.8 256.4 497.1 255.1 498.9 253.8 501 253.1 503.1 253.3 505.2 254.2 506.9 255.2 508.5 256.2 509.7 257.3 510.9 258.5 511.8 259.5 512.5 260.2 512.9 261.2 511.5 260.5 511.1 259.5 510.4 258.4 509.6 257.4 508.7 256.5 507.5 255.5 506.1 254.7 504.7 254.4 503.2 254.9 501.4 256 499.4 257 497.5 257.6 495.9 257.2 494.7 256.3 494 255.4 493.4 254.7 493Z" fill="#F6B4A0" opacity="0.7"/><path d="M266.1 493.4 264.9 494.2 263.2 495.4 261.3 497 259.8 499 259 501.2 258.7 503.5 258.8 506 259.6 508.5 261.2 511 263.4 513.3 265.4 515.2 266.8 516.5 270.3 512.9 269 511.6 267 509.7 265.2 507.8 264.1 506.2 263.7 505 263.5 503.5 263.5 501.9 263.7 500.5 264.1 499 265.1 497.1 266.2 495.4 267 494.2Z" fill="#2E1410" opacity="0.85"/><path d="M266.3 493.4 265.2 494.2 263.6 495.3 261.9 496.9 260.6 498.8 259.9 500.8 259.6 503.1 259.8 505.5 260.6 507.9 262.2 510.4 264.3 512.7 266.3 514.6 267.7 515.8 270.7 512.7 269.4 511.4 267.5 509.5 265.6 507.6 264.5 506 264 504.6 263.8 503 263.8 501.4 264 500 264.4 498.5 265.3 496.8 266.3 495.2 267.1 494Z" fill="#EFA088"/><path d="M266.4 493.5 265.4 494.3 263.8 495.5 262.2 497.1 261 498.9 260.4 500.9 260.1 503.1 260.3 505.4 261.1 507.7 262.6 510 264.7 512.3 266.7 514.2 268.1 515.5 269.4 514 268.1 512.7 266.1 510.8 264.2 508.8 262.8 506.8 262.2 505 262 503.1 262.2 501.2 262.5 499.5 263.3 497.8 264.6 496.2 265.9 494.8 266.7 493.8Z" fill="#F6B4A0" opacity="0.7"/><path d="M234.4 514.9 235.4 515.1 236.8 515.5 238 516 238.2 516.5 237.4 517.3 235.7 518.7 233.8 520.4 232.3 522.4 231.5 524.5 231.2 526.6 231.3 528.8 231.9 530.9 233 532.9 234.6 534.7 236.5 536.3 238.4 537.7 240.8 539 243.4 540 245.7 540.9 247.2 541.4 248.8 536.9 247.2 536.3 245 535.6 242.7 534.7 240.8 533.8 239.2 532.7 237.6 531.5 236.4 530.2 235.6 529.1 235.1 527.9 234.8 526.5 234.8 525 235 523.6 235.8 522 237.2 520.1 238.6 518.3 239.4 516.6 238.5 515.3 237 514.8 235.5 514.5 234.5 514.3Z" fill="#2E1410" opacity="0.85"/><path d="M234.5 514.8 235.5 515 236.9 515.4 238.2 515.9 238.4 516.4 237.7 517.3 236.1 518.6 234.2 520.3 232.8 522.2 232.1 524.2 231.9 526.3 232 528.4 232.7 530.5 233.8 532.4 235.4 534.1 237.2 535.7 239.2 537.1 241.5 538.3 244.1 539.3 246.4 540.2 247.9 540.7 249.4 536.8 247.8 536.2 245.5 535.5 243.2 534.6 241.2 533.6 239.6 532.5 238 531.3 236.8 530 235.9 528.9 235.3 527.6 235.1 526.2 235 524.7 235.2 523.2 236 521.7 237.4 519.9 238.8 518.1 239.4 516.4 238.6 515.3 237.1 514.8 235.6 514.5 234.6 514.3Z" fill="#EFA088"/><path d="M234.5 514.7 235.5 515 237 515.3 238.2 515.8 238.6 516.4 237.8 517.4 236.3 518.8 234.4 520.5 233.1 522.3 232.5 524.3 232.3 526.3 232.4 528.3 233.1 530.3 234.2 532.1 235.7 533.8 237.5 535.3 239.4 536.6 241.7 537.8 244.3 538.8 246.6 539.7 248.1 540.2 248.8 538.4 247.2 537.9 244.9 537.1 242.5 536.1 240.4 535.1 238.6 533.9 236.9 532.5 235.5 531 234.5 529.5 233.9 527.9 233.7 526.2 233.8 524.5 234.2 522.8 235.2 521.1 236.8 519.3 238.3 517.7 239 516.4 238.4 515.5 237 515 235.5 514.7 234.5 514.5Z" fill="#F6B4A0" opacity="0.7"/><path d="M243.9 516.1 244.8 516.3 246.1 516.6 247.1 517 247.3 517.4 246.5 518.3 245 519.9 243.1 521.7 241.8 523.7 241.2 525.7 241 527.7 241.3 529.8 242.1 531.8 243.4 533.6 245.1 535.3 247.1 536.8 249.3 538.2 251.8 539.3 254.6 540.2 257 541 258.7 541.5 260 536.8 258.3 536.4 255.9 535.7 253.4 534.9 251.4 534.1 249.6 533.1 247.9 531.9 246.5 530.7 245.6 529.5 245 528.5 244.6 527.3 244.5 526.1 244.6 524.8 245.3 523.1 246.5 521.1 247.8 519.2 248.4 517.4 247.6 516.2 246.3 515.8 244.9 515.7 244 515.5Z" fill="#2E1410" opacity="0.85"/><path d="M243.9 516 244.9 516.2 246.2 516.4 247.3 516.8 247.5 517.3 246.8 518.2 245.3 519.8 243.6 521.6 242.4 523.5 241.8 525.5 241.7 527.4 242 529.3 242.8 531.3 244.2 533.1 245.9 534.7 247.9 536.2 250 537.5 252.5 538.6 255.3 539.5 257.7 540.3 259.4 540.8 260.6 536.7 258.9 536.2 256.5 535.6 253.9 534.8 251.8 533.9 250 532.9 248.3 531.7 246.9 530.5 245.9 529.3 245.3 528.2 244.9 527 244.7 525.7 244.8 524.4 245.5 522.8 246.7 520.9 247.9 519 248.5 517.3 247.7 516.2 246.3 515.8 244.9 515.7 244 515.5Z" fill="#EFA088"/><path d="M244 516 244.9 516.1 246.2 516.4 247.3 516.8 247.6 517.3 247 518.3 245.5 519.9 243.8 521.8 242.7 523.6 242.2 525.5 242.1 527.3 242.4 529.2 243.2 531 244.5 532.7 246.2 534.3 248.2 535.8 250.2 537.1 252.7 538.1 255.4 539 257.9 539.8 259.6 540.3 260.1 538.4 258.4 538 256 537.3 253.3 536.4 251.1 535.4 249.1 534.3 247.3 533 245.7 531.6 244.6 530.1 243.9 528.7 243.5 527.2 243.5 525.6 243.8 524 244.7 522.3 246.1 520.4 247.5 518.7 248.1 517.3 247.5 516.5 246.3 516.1 244.9 515.9 244 515.7Z" fill="#F6B4A0" opacity="0.7"/><path d="M254.5 514.8 255.4 515.2 256.7 515.8 257.8 516.4 258 517.2 257.4 518.3 256 519.9 254.3 521.8 253.1 523.8 252.6 525.8 252.5 527.7 252.6 529.6 253 531.3 253.7 533 254.7 534.4 255.7 535.6 256.7 536.7 257.8 537.7 259 538.6 260 539.3 260.6 539.8 263.2 536 262.5 535.5 261.5 534.9 260.5 534.2 259.7 533.5 258.8 532.6 257.9 531.7 257.2 530.9 256.7 529.9 256.3 528.8 256 527.5 255.9 526.1 256 524.7 256.6 523 257.7 521 258.7 519 259.2 517.1 258.4 515.8 257 515.1 255.6 514.6 254.7 514.3Z" fill="#2E1410" opacity="0.85"/><path d="M254.6 514.8 255.5 515.1 256.8 515.6 257.9 516.3 258.2 517.1 257.7 518.2 256.3 519.8 254.8 521.6 253.7 523.6 253.3 525.5 253.2 527.4 253.3 529.2 253.7 530.9 254.5 532.5 255.4 533.9 256.5 535.1 257.4 536.1 258.6 537.1 259.7 538 260.7 538.7 261.4 539.1 263.6 535.8 262.9 535.4 262 534.8 260.9 534.1 260 533.3 259.1 532.5 258.2 531.6 257.5 530.6 256.9 529.7 256.5 528.5 256.2 527.2 256.1 525.8 256.2 524.4 256.8 522.7 257.8 520.8 258.8 518.8 259.2 517 258.5 515.8 257.1 515.1 255.7 514.6 254.8 514.3Z" fill="#EFA088"/><path d="M254.6 514.7 255.5 515.1 256.9 515.6 258 516.3 258.4 517.1 257.8 518.3 256.5 519.9 255.1 521.8 254 523.7 253.6 525.6 253.5 527.4 253.7 529.1 254.1 530.7 254.8 532.3 255.8 533.6 256.8 534.7 257.8 535.7 258.9 536.7 260 537.6 261 538.3 261.7 538.7 262.7 537.2 262 536.8 261 536.1 259.9 535.4 258.9 534.5 258 533.6 257 532.5 256.2 531.4 255.6 530.2 255.2 528.8 254.9 527.3 254.9 525.7 255.1 524 255.9 522.3 257.2 520.4 258.3 518.5 258.8 517 258.2 516 257 515.3 255.6 514.8 254.7 514.5Z" fill="#F6B4A0" opacity="0.7"/><path d="M265.8 513.1 264.7 514.2 263.1 515.7 261.4 517.7 260.1 520.1 259.5 522.6 259.3 525.4 259.6 528.2 260.3 531.1 261.8 534 263.9 536.9 265.8 539.2 267.1 540.9 271.2 537.5 269.9 535.9 268 533.6 266.2 531.2 265 529.1 264.3 527.2 264 525 263.9 522.9 263.9 521 264.3 519.1 265.1 517 266 515 266.6 513.6Z" fill="#2E1410" opacity="0.85"/><path d="M266 513 265 514.1 263.5 515.6 262 517.5 260.9 519.8 260.4 522.3 260.2 524.9 260.5 527.7 261.3 530.5 262.8 533.4 264.8 536.2 266.8 538.6 268.1 540.2 271.6 537.3 270.3 535.7 268.4 533.4 266.6 530.9 265.3 528.8 264.7 526.8 264.3 524.7 264.1 522.5 264.2 520.6 264.5 518.7 265.2 516.7 266.1 514.8 266.6 513.5Z" fill="#EFA088"/><path d="M266.1 513.1 265.1 514.2 263.7 515.7 262.3 517.7 261.3 519.9 260.8 522.3 260.7 524.9 261 527.6 261.8 530.3 263.2 533.1 265.3 535.8 267.2 538.2 268.5 539.8 270.1 538.5 268.8 536.9 266.9 534.6 265 532 263.6 529.5 262.9 527.2 262.6 524.8 262.5 522.4 262.8 520.3 263.4 518.2 264.5 516.2 265.6 514.5 266.4 513.3Z" fill="#F6B4A0" opacity="0.7"/></g>
<g><path d="M330 440.3 330.5 441.1 331.2 442.1 331.7 443.2 331.6 443.7 330.9 443.8 329.4 443.9 327.5 444.1 325.6 444.9 324 446.5 322.7 448.4 321.6 450.5 320.9 452.8 320.5 455.1 320.5 457.6 320.8 460 321.5 462.3 322.9 464.3 324.6 465.9 326.2 467 327.2 467.8 329.8 464.8 328.8 464 327.6 462.8 326.4 461.5 325.7 460.4 325.3 459 325 457.2 324.9 455.2 325 453.4 325.3 451.7 325.8 449.8 326.5 448.1 327.2 446.9 328.2 446.1 329.7 445.6 331.3 445.1 332.5 444.3 332.4 443 331.7 441.8 330.9 440.7 330.4 440Z" fill="#2E1410" opacity="0.85"/><path d="M330.1 440.2 330.6 441 331.3 442.1 331.8 443.1 331.8 443.7 331.1 443.8 329.6 443.9 327.8 444 326 444.9 324.6 446.4 323.4 448.2 322.4 450.3 321.7 452.4 321.4 454.7 321.4 457.1 321.7 459.5 322.4 461.8 323.7 463.8 325.4 465.3 326.9 466.5 327.9 467.3 330.1 464.7 329.2 463.8 327.9 462.6 326.8 461.3 326 460.1 325.6 458.7 325.3 456.8 325.2 454.8 325.2 453 325.5 451.3 326 449.4 326.7 447.7 327.5 446.5 328.4 445.8 329.9 445.3 331.4 444.9 332.5 444.2 332.5 442.9 331.8 441.8 331 440.7 330.4 440Z" fill="#EFA088"/><path d="M330.1 440.2 330.6 441 331.4 442 331.9 443.1 331.9 443.7 331.1 444 329.7 444 327.9 444.3 326.2 445.1 324.9 446.5 323.7 448.3 322.8 450.4 322.1 452.5 321.8 454.7 321.9 457.1 322.2 459.4 322.8 461.6 324.1 463.5 325.7 465 327.2 466.2 328.2 466.9 329.2 465.8 328.2 464.9 326.8 463.8 325.5 462.4 324.5 460.8 323.9 459 323.6 456.9 323.6 454.8 323.7 452.8 324.2 450.8 324.9 448.9 325.8 447.2 326.8 445.8 328.2 445 329.8 444.7 331.3 444.5 332.2 444 332.2 443 331.6 441.9 330.8 440.8 330.3 440.1Z" fill="#F6B4A0" opacity="0.7"/><path d="M338.2 440.3 338.7 441.1 339.4 442.1 339.9 443.2 339.8 443.7 339.1 443.8 337.6 443.9 335.7 444.1 333.8 444.9 332.2 446.5 330.9 448.4 329.8 450.5 329.1 452.8 328.7 455.1 328.7 457.6 329 460 329.7 462.3 331.1 464.3 332.8 465.9 334.4 467 335.4 467.8 338 464.8 337 464 335.8 462.8 334.6 461.5 333.9 460.4 333.5 459 333.2 457.2 333.1 455.2 333.2 453.4 333.5 451.7 334 449.8 334.7 448.1 335.4 446.9 336.4 446.1 337.9 445.6 339.5 445.1 340.7 444.3 340.6 443 339.9 441.8 339.1 440.7 338.6 440Z" fill="#2E1410" opacity="0.85"/><path d="M338.3 440.2 338.8 441 339.5 442.1 340 443.1 340 443.7 339.3 443.8 337.8 443.9 336 444 334.2 444.9 332.8 446.4 331.6 448.2 330.6 450.3 329.9 452.4 329.6 454.7 329.6 457.1 329.9 459.5 330.6 461.8 331.9 463.8 333.6 465.3 335.1 466.5 336.1 467.3 338.3 464.7 337.4 463.8 336.1 462.6 335 461.3 334.2 460.1 333.8 458.7 333.5 456.8 333.4 454.8 333.4 453 333.7 451.3 334.2 449.4 334.9 447.7 335.7 446.5 336.6 445.8 338.1 445.3 339.6 444.9 340.7 444.2 340.7 442.9 340 441.8 339.2 440.7 338.6 440Z" fill="#EFA088"/><path d="M338.3 440.2 338.8 441 339.6 442 340.1 443.1 340.1 443.7 339.3 444 337.9 444 336.1 444.3 334.4 445.1 333.1 446.5 331.9 448.3 331 450.4 330.3 452.5 330 454.7 330.1 457.1 330.4 459.4 331 461.6 332.3 463.5 333.9 465 335.4 466.2 336.4 466.9 337.4 465.8 336.4 464.9 335 463.8 333.7 462.4 332.7 460.8 332.1 459 331.8 456.9 331.7 454.8 331.9 452.8 332.4 450.8 333.1 448.9 334 447.2 335 445.8 336.4 445 338 444.7 339.5 444.5 340.4 444 340.4 443 339.8 441.9 339 440.8 338.5 440.1Z" fill="#F6B4A0" opacity="0.7"/><path d="M345.4 440.3 345.9 441 346.6 442.1 347.1 443.2 347 443.7 346.3 443.9 344.8 444 342.9 444.2 341.1 445 339.6 446.5 338.3 448.4 337.2 450.6 336.5 452.9 336.3 455.2 336.6 457.7 337.1 460.1 338 462.3 339.3 464.2 341 465.7 342.5 466.8 343.5 467.6 345.9 465 344.9 464.1 343.7 462.9 342.5 461.6 341.6 460.3 341.1 458.8 340.6 456.9 340.3 455 340.2 453.3 340.5 451.6 341 449.7 341.8 448 342.6 446.7 343.6 446 345.1 445.5 346.7 445.1 347.8 444.3 347.8 443 347.1 441.8 346.3 440.8 345.8 440Z" fill="#2E1410" opacity="0.85"/><path d="M345.5 440.2 346 441 346.7 442.1 347.2 443.1 347.2 443.7 346.5 443.9 345 443.9 343.2 444.1 341.5 444.9 340.1 446.4 338.8 448.2 337.8 450.3 337.2 452.6 337.1 454.9 337.4 457.3 337.9 459.6 338.8 461.8 340.1 463.7 341.7 465.2 343.2 466.3 344.1 467.1 346.2 464.8 345.3 464 344 462.8 342.8 461.4 341.9 460.1 341.3 458.5 340.8 456.6 340.5 454.7 340.4 452.9 340.7 451.2 341.2 449.4 342 447.7 342.8 446.4 343.8 445.7 345.3 445.3 346.8 444.9 347.9 444.1 347.8 442.9 347.2 441.8 346.3 440.7 345.8 440Z" fill="#EFA088"/><path d="M345.5 440.2 346 441 346.8 442 347.3 443.1 347.3 443.7 346.5 444 345.1 444.1 343.3 444.3 341.6 445.1 340.3 446.6 339.1 448.4 338.2 450.4 337.6 452.6 337.5 454.9 337.8 457.2 338.3 459.5 339.2 461.6 340.4 463.4 342 464.9 343.4 466 344.4 466.8 345.3 465.8 344.4 465 343 463.8 341.6 462.4 340.6 460.8 339.9 459 339.4 456.9 339.1 454.8 339.1 452.8 339.5 450.8 340.2 448.9 341.2 447.1 342.2 445.8 343.5 445 345.2 444.7 346.7 444.5 347.6 443.9 347.6 443 347 441.9 346.2 440.8 345.7 440.1Z" fill="#F6B4A0" opacity="0.7"/><path d="M351.7 440.3 352.2 441 352.9 442.1 353.4 443.2 353.3 443.7 352.6 443.9 351.1 444 349.2 444.2 347.4 445 345.9 446.5 344.6 448.4 343.5 450.6 342.8 452.9 342.6 455.2 342.9 457.7 343.4 460.1 344.3 462.3 345.6 464.2 347.3 465.7 348.8 466.8 349.8 467.6 352.2 465 351.2 464.1 350 462.9 348.8 461.6 348 460.3 347.4 458.8 346.9 456.9 346.6 455 346.5 453.3 346.8 451.6 347.3 449.7 348.1 448 348.9 446.7 349.9 446 351.4 445.5 353 445.1 354.1 444.3 354.1 443 353.4 441.8 352.6 440.8 352.1 440Z" fill="#2E1410" opacity="0.85"/><path d="M351.8 440.2 352.3 441 353 442.1 353.5 443.1 353.5 443.7 352.8 443.9 351.3 443.9 349.5 444.1 347.8 444.9 346.4 446.4 345.1 448.2 344.2 450.3 343.5 452.6 343.4 454.9 343.7 457.3 344.2 459.6 345.1 461.8 346.4 463.7 348 465.2 349.5 466.3 350.4 467.1 352.5 464.8 351.6 464 350.3 462.8 349.1 461.4 348.3 460.1 347.7 458.5 347.1 456.6 346.8 454.7 346.8 452.9 347 451.2 347.6 449.4 348.3 447.7 349.1 446.4 350.1 445.7 351.6 445.3 353.1 444.9 354.2 444.1 354.1 442.9 353.5 441.8 352.6 440.7 352.1 440Z" fill="#EFA088"/><path d="M351.8 440.2 352.3 441 353.1 442 353.6 443.1 353.6 443.7 352.8 444 351.4 444.1 349.6 444.3 347.9 445.1 346.6 446.6 345.4 448.4 344.5 450.4 343.9 452.6 343.8 454.9 344.1 457.2 344.7 459.5 345.5 461.6 346.7 463.4 348.3 464.9 349.7 466 350.7 466.8 351.6 465.8 350.7 465 349.3 463.8 347.9 462.4 346.9 460.8 346.2 459 345.7 456.9 345.4 454.8 345.4 452.8 345.8 450.8 346.5 448.9 347.5 447.1 348.5 445.8 349.8 445 351.5 444.7 353 444.5 353.9 443.9 353.9 443 353.3 441.9 352.5 440.8 352 440.1Z" fill="#F6B4A0" opacity="0.7"/><path d="M330 463 330.5 463.8 331.2 464.8 331.7 465.9 331.6 466.4 330.9 466.5 329.4 466.6 327.5 466.8 325.6 467.6 324 469.2 322.7 471.1 321.6 473.2 320.9 475.5 320.5 477.8 320.5 480.3 320.8 482.7 321.5 485 322.9 487 324.6 488.6 326.2 489.7 327.2 490.5 329.8 487.5 328.8 486.7 327.6 485.5 326.4 484.2 325.7 483.1 325.3 481.7 325 479.9 324.9 477.9 325 476.1 325.3 474.4 325.8 472.5 326.5 470.8 327.2 469.6 328.2 468.8 329.7 468.3 331.3 467.8 332.5 467 332.4 465.7 331.7 464.5 330.9 463.4 330.4 462.7Z" fill="#2E1410" opacity="0.85"/><path d="M330.1 462.9 330.6 463.7 331.3 464.8 331.8 465.8 331.8 466.4 331.1 466.5 329.6 466.6 327.8 466.7 326 467.6 324.6 469 323.4 470.9 322.4 473 321.7 475.1 321.4 477.4 321.4 479.8 321.7 482.2 322.4 484.5 323.7 486.5 325.4 488 326.9 489.2 327.9 490 330.1 487.4 329.2 486.5 327.9 485.3 326.8 484 326 482.8 325.6 481.4 325.3 479.5 325.2 477.5 325.2 475.7 325.5 474 326 472.1 326.7 470.4 327.5 469.2 328.4 468.5 329.9 468 331.4 467.6 332.5 466.9 332.5 465.6 331.8 464.5 331 463.4 330.4 462.7Z" fill="#EFA088"/><path d="M330.1 462.9 330.6 463.7 331.4 464.7 331.9 465.8 331.9 466.4 331.1 466.7 329.7 466.7 327.9 467 326.2 467.8 324.9 469.2 323.7 471 322.8 473.1 322.1 475.2 321.8 477.4 321.9 479.8 322.2 482.1 322.8 484.3 324.1 486.2 325.7 487.7 327.2 488.9 328.2 489.6 329.2 488.5 328.2 487.6 326.8 486.5 325.5 485.1 324.5 483.5 323.9 481.7 323.6 479.6 323.6 477.5 323.7 475.5 324.2 473.5 324.9 471.6 325.8 469.9 326.8 468.5 328.2 467.7 329.8 467.4 331.3 467.2 332.2 466.7 332.2 465.7 331.6 464.6 330.8 463.5 330.3 462.8Z" fill="#F6B4A0" opacity="0.7"/><path d="M338.2 463 338.7 463.8 339.4 464.8 339.9 465.9 339.8 466.4 339.1 466.5 337.6 466.6 335.7 466.8 333.8 467.6 332.2 469.2 330.9 471.1 329.8 473.2 329.1 475.5 328.7 477.8 328.7 480.3 329 482.7 329.7 485 331.1 487 332.8 488.6 334.4 489.7 335.4 490.5 338 487.5 337 486.7 335.8 485.5 334.6 484.2 333.9 483.1 333.5 481.7 333.2 479.9 333.1 477.9 333.2 476.1 333.5 474.4 334 472.5 334.7 470.8 335.4 469.6 336.4 468.8 337.9 468.3 339.5 467.8 340.7 467 340.6 465.7 339.9 464.5 339.1 463.4 338.6 462.7Z" fill="#2E1410" opacity="0.85"/><path d="M338.3 462.9 338.8 463.7 339.5 464.8 340 465.8 340 466.4 339.3 466.5 337.8 466.6 336 466.7 334.2 467.6 332.8 469 331.6 470.9 330.6 473 329.9 475.1 329.6 477.4 329.6 479.8 329.9 482.2 330.6 484.5 331.9 486.5 333.6 488 335.1 489.2 336.1 490 338.3 487.4 337.4 486.5 336.1 485.3 335 484 334.2 482.8 333.8 481.4 333.5 479.5 333.4 477.5 333.4 475.7 333.7 474 334.2 472.1 334.9 470.4 335.7 469.2 336.6 468.5 338.1 468 339.6 467.6 340.7 466.9 340.7 465.6 340 464.5 339.2 463.4 338.6 462.7Z" fill="#EFA088"/><path d="M338.3 462.9 338.8 463.7 339.6 464.7 340.1 465.8 340.1 466.4 339.3 466.7 337.9 466.7 336.1 467 334.4 467.8 333.1 469.2 331.9 471 331 473.1 330.3 475.2 330 477.4 330.1 479.8 330.4 482.1 331 484.3 332.3 486.2 333.9 487.7 335.4 488.9 336.4 489.6 337.4 488.5 336.4 487.6 335 486.5 333.7 485.1 332.7 483.5 332.1 481.7 331.8 479.6 331.7 477.5 331.9 475.5 332.4 473.5 333.1 471.6 334 469.9 335 468.5 336.4 467.7 338 467.4 339.5 467.2 340.4 466.7 340.4 465.7 339.8 464.6 339 463.5 338.5 462.8Z" fill="#F6B4A0" opacity="0.7"/><path d="M345.4 463 345.9 463.7 346.6 464.8 347.1 465.9 347 466.4 346.3 466.6 344.8 466.7 342.9 466.9 341.1 467.7 339.6 469.2 338.3 471.1 337.2 473.3 336.5 475.5 336.3 477.9 336.6 480.4 337.1 482.8 338 485 339.3 486.9 341 488.4 342.5 489.5 343.5 490.3 345.9 487.7 344.9 486.8 343.7 485.6 342.5 484.3 341.6 483 341.1 481.5 340.6 479.6 340.3 477.7 340.2 476 340.5 474.3 341 472.4 341.8 470.7 342.6 469.4 343.6 468.7 345.1 468.2 346.7 467.8 347.8 467 347.8 465.7 347.1 464.5 346.3 463.5 345.8 462.7Z" fill="#2E1410" opacity="0.85"/><path d="M345.5 462.9 346 463.7 346.7 464.7 347.2 465.8 347.2 466.4 346.5 466.6 345 466.6 343.2 466.8 341.5 467.6 340.1 469.1 338.8 470.9 337.8 473 337.2 475.3 337.1 477.6 337.4 480 337.9 482.3 338.8 484.5 340.1 486.4 341.7 487.9 343.2 489 344.1 489.8 346.2 487.5 345.3 486.7 344 485.5 342.8 484.1 341.9 482.8 341.3 481.2 340.8 479.3 340.5 477.4 340.4 475.6 340.7 473.9 341.2 472.1 342 470.4 342.8 469.1 343.8 468.4 345.3 468 346.8 467.6 347.9 466.8 347.8 465.6 347.2 464.5 346.3 463.4 345.8 462.7Z" fill="#EFA088"/><path d="M345.5 462.9 346 463.7 346.8 464.7 347.3 465.8 347.3 466.4 346.5 466.7 345.1 466.8 343.3 467 341.6 467.8 340.3 469.3 339.1 471.1 338.2 473.1 337.6 475.3 337.5 477.6 337.8 479.9 338.3 482.2 339.2 484.3 340.4 486.1 342 487.6 343.4 488.7 344.4 489.5 345.3 488.5 344.4 487.7 343 486.5 341.6 485.1 340.6 483.5 339.9 481.7 339.4 479.6 339.1 477.5 339.1 475.5 339.5 473.5 340.2 471.6 341.2 469.8 342.2 468.5 343.5 467.7 345.2 467.4 346.7 467.1 347.6 466.6 347.6 465.7 347 464.6 346.2 463.5 345.7 462.8Z" fill="#F6B4A0" opacity="0.7"/><path d="M351.7 463 352.2 463.7 352.9 464.8 353.4 465.9 353.3 466.4 352.6 466.6 351.1 466.7 349.2 466.9 347.4 467.7 345.9 469.2 344.6 471.1 343.5 473.3 342.8 475.5 342.6 477.9 342.9 480.4 343.4 482.8 344.3 485 345.6 486.9 347.3 488.4 348.8 489.5 349.8 490.3 352.2 487.7 351.2 486.8 350 485.6 348.8 484.3 348 483 347.4 481.5 346.9 479.6 346.6 477.7 346.5 476 346.8 474.3 347.3 472.4 348.1 470.7 348.9 469.4 349.9 468.7 351.4 468.2 353 467.8 354.1 467 354.1 465.7 353.4 464.5 352.6 463.5 352.1 462.7Z" fill="#2E1410" opacity="0.85"/><path d="M351.8 462.9 352.3 463.7 353 464.7 353.5 465.8 353.5 466.4 352.8 466.6 351.3 466.6 349.5 466.8 347.8 467.6 346.4 469.1 345.1 470.9 344.2 473 343.5 475.3 343.4 477.6 343.7 480 344.2 482.3 345.1 484.5 346.4 486.4 348 487.9 349.5 489 350.4 489.8 352.5 487.5 351.6 486.7 350.3 485.5 349.1 484.1 348.3 482.8 347.7 481.2 347.1 479.3 346.8 477.4 346.8 475.6 347 473.9 347.6 472.1 348.3 470.4 349.1 469.1 350.1 468.4 351.6 468 353.1 467.6 354.2 466.8 354.1 465.6 353.5 464.5 352.6 463.4 352.1 462.7Z" fill="#EFA088"/><path d="M351.8 462.9 352.3 463.7 353.1 464.7 353.6 465.8 353.6 466.4 352.8 466.7 351.4 466.8 349.6 467 347.9 467.8 346.6 469.3 345.4 471.1 344.5 473.1 343.9 475.3 343.8 477.6 344.1 479.9 344.7 482.2 345.5 484.3 346.7 486.1 348.3 487.6 349.7 488.7 350.7 489.5 351.6 488.5 350.7 487.7 349.3 486.5 347.9 485.1 346.9 483.5 346.2 481.7 345.7 479.6 345.4 477.5 345.4 475.5 345.8 473.5 346.5 471.6 347.5 469.8 348.5 468.5 349.8 467.7 351.5 467.4 353 467.1 353.9 466.6 353.9 465.7 353.3 464.6 352.5 463.5 352 462.8Z" fill="#F6B4A0" opacity="0.7"/><path d="M330 485.1 330.5 485.8 331.2 486.9 331.7 488 331.6 488.5 330.9 488.6 329.4 488.7 327.5 488.9 325.6 489.7 324 491.3 322.7 493.2 321.6 495.3 320.9 497.5 320.5 499.9 320.5 502.3 320.8 504.7 321.5 507.1 322.9 509.1 324.6 510.7 326.2 511.8 327.2 512.6 329.8 509.6 328.8 508.7 327.6 507.5 326.4 506.3 325.7 505.1 325.3 503.8 325 501.9 324.9 500 325 498.2 325.3 496.5 325.8 494.6 326.5 492.9 327.2 491.6 328.2 490.9 329.7 490.4 331.3 489.9 332.5 489.1 332.4 487.7 331.7 486.6 330.9 485.5 330.4 484.8Z" fill="#2E1410" opacity="0.85"/><path d="M330.1 485 330.6 485.8 331.3 486.8 331.8 487.9 331.8 488.4 331.1 488.6 329.6 488.6 327.8 488.8 326 489.6 324.6 491.1 323.4 493 322.4 495 321.7 497.2 321.4 499.5 321.4 501.9 321.7 504.3 322.4 506.5 323.7 508.5 325.4 510.1 326.9 511.3 327.9 512 330.1 509.5 329.2 508.6 327.9 507.4 326.8 506.1 326 504.9 325.6 503.4 325.3 501.6 325.2 499.6 325.2 497.8 325.5 496 326 494.2 326.7 492.5 327.5 491.3 328.4 490.6 329.9 490.1 331.4 489.7 332.5 488.9 332.5 487.7 331.8 486.5 331 485.5 330.4 484.8Z" fill="#EFA088"/><path d="M330.1 485 330.6 485.7 331.4 486.8 331.9 487.9 331.9 488.5 331.1 488.7 329.7 488.8 327.9 489 326.2 489.8 324.9 491.3 323.7 493.1 322.8 495.2 322.1 497.3 321.8 499.5 321.9 501.9 322.2 504.2 322.8 506.3 324.1 508.2 325.7 509.8 327.2 510.9 328.2 511.7 329.2 510.6 328.2 509.7 326.8 508.5 325.5 507.1 324.5 505.6 323.9 503.8 323.6 501.7 323.6 499.6 323.7 497.6 324.2 495.6 324.9 493.7 325.8 491.9 326.8 490.6 328.2 489.8 329.8 489.5 331.3 489.2 332.2 488.7 332.2 487.8 331.6 486.7 330.8 485.6 330.3 484.9Z" fill="#F6B4A0" opacity="0.7"/><path d="M338.2 485.1 338.7 485.8 339.4 486.9 339.9 488 339.8 488.5 339.1 488.6 337.6 488.7 335.7 488.9 333.8 489.7 332.2 491.3 330.9 493.2 329.8 495.3 329.1 497.5 328.7 499.9 328.7 502.3 329 504.7 329.7 507.1 331.1 509.1 332.8 510.7 334.4 511.8 335.4 512.6 338 509.6 337 508.7 335.8 507.5 334.6 506.3 333.9 505.1 333.5 503.8 333.2 501.9 333.1 500 333.2 498.2 333.5 496.5 334 494.6 334.7 492.9 335.4 491.6 336.4 490.9 337.9 490.4 339.5 489.9 340.7 489.1 340.6 487.7 339.9 486.6 339.1 485.5 338.6 484.8Z" fill="#2E1410" opacity="0.85"/><path d="M338.3 485 338.8 485.8 339.5 486.8 340 487.9 340 488.4 339.3 488.6 337.8 488.6 336 488.8 334.2 489.6 332.8 491.1 331.6 493 330.6 495 329.9 497.2 329.6 499.5 329.6 501.9 329.9 504.3 330.6 506.5 331.9 508.5 333.6 510.1 335.1 511.3 336.1 512 338.3 509.5 337.4 508.6 336.1 507.4 335 506.1 334.2 504.9 333.8 503.4 333.5 501.6 333.4 499.6 333.4 497.8 333.7 496 334.2 494.2 334.9 492.5 335.7 491.3 336.6 490.6 338.1 490.1 339.6 489.7 340.7 488.9 340.7 487.7 340 486.5 339.2 485.5 338.6 484.8Z" fill="#EFA088"/><path d="M338.3 485 338.8 485.7 339.6 486.8 340.1 487.9 340.1 488.5 339.3 488.7 337.9 488.8 336.1 489 334.4 489.8 333.1 491.3 331.9 493.1 331 495.2 330.3 497.3 330 499.5 330.1 501.9 330.4 504.2 331 506.3 332.3 508.2 333.9 509.8 335.4 510.9 336.4 511.7 337.4 510.6 336.4 509.7 335 508.5 333.7 507.1 332.7 505.6 332.1 503.8 331.8 501.7 331.7 499.6 331.9 497.6 332.4 495.6 333.1 493.7 334 491.9 335 490.6 336.4 489.8 338 489.5 339.5 489.2 340.4 488.7 340.4 487.8 339.8 486.7 339 485.6 338.5 484.9Z" fill="#F6B4A0" opacity="0.7"/><path d="M345.4 485.1 345.9 485.8 346.6 486.9 347.1 488 347 488.5 346.3 488.7 344.8 488.7 342.9 488.9 341.1 489.8 339.6 491.3 338.3 493.2 337.2 495.3 336.5 497.6 336.3 500 336.6 502.5 337.1 504.8 338 507 339.3 508.9 341 510.5 342.5 511.6 343.5 512.4 345.9 509.7 344.9 508.9 343.7 507.7 342.5 506.4 341.6 505.1 341.1 503.6 340.6 501.7 340.3 499.8 340.2 498 340.5 496.3 341 494.5 341.8 492.8 342.6 491.5 343.6 490.7 345.1 490.3 346.7 489.8 347.8 489 347.8 487.7 347.1 486.6 346.3 485.5 345.8 484.8Z" fill="#2E1410" opacity="0.85"/><path d="M345.5 485 346 485.8 346.7 486.8 347.2 487.9 347.2 488.5 346.5 488.6 345 488.7 343.2 488.9 341.5 489.7 340.1 491.2 338.8 493 337.8 495.1 337.2 497.3 337.1 499.7 337.4 502.1 337.9 504.4 338.8 506.5 340.1 508.4 341.7 510 343.2 511.1 344.1 511.9 346.2 509.6 345.3 508.7 344 507.5 342.8 506.2 341.9 504.9 341.3 503.3 340.8 501.4 340.5 499.5 340.4 497.7 340.7 496 341.2 494.1 342 492.5 342.8 491.2 343.8 490.5 345.3 490 346.8 489.6 347.9 488.9 347.8 487.7 347.2 486.5 346.3 485.5 345.8 484.8Z" fill="#EFA088"/><path d="M345.5 485 346 485.7 346.8 486.8 347.3 487.9 347.3 488.5 346.5 488.8 345.1 488.9 343.3 489.1 341.6 489.9 340.3 491.3 339.1 493.1 338.2 495.2 337.6 497.4 337.5 499.6 337.8 502 338.3 504.3 339.2 506.3 340.4 508.1 342 509.7 343.4 510.8 344.4 511.6 345.3 510.6 344.4 509.7 343 508.6 341.6 507.1 340.6 505.6 339.9 503.8 339.4 501.7 339.1 499.5 339.1 497.5 339.5 495.6 340.2 493.7 341.2 491.9 342.2 490.6 343.5 489.8 345.2 489.5 346.7 489.2 347.6 488.7 347.6 487.8 347 486.7 346.2 485.6 345.7 484.9Z" fill="#F6B4A0" opacity="0.7"/><path d="M351.7 485.1 352.2 485.8 352.9 486.9 353.4 488 353.3 488.5 352.6 488.7 351.1 488.7 349.2 488.9 347.4 489.8 345.9 491.3 344.6 493.2 343.5 495.3 342.8 497.6 342.6 500 342.9 502.5 343.4 504.8 344.3 507 345.6 508.9 347.3 510.5 348.8 511.6 349.8 512.4 352.2 509.7 351.2 508.9 350 507.7 348.8 506.4 348 505.1 347.4 503.6 346.9 501.7 346.6 499.8 346.5 498 346.8 496.3 347.3 494.5 348.1 492.8 348.9 491.5 349.9 490.7 351.4 490.3 353 489.8 354.1 489 354.1 487.7 353.4 486.6 352.6 485.5 352.1 484.8Z" fill="#2E1410" opacity="0.85"/><path d="M351.8 485 352.3 485.8 353 486.8 353.5 487.9 353.5 488.5 352.8 488.6 351.3 488.7 349.5 488.9 347.8 489.7 346.4 491.2 345.1 493 344.2 495.1 343.5 497.3 343.4 499.7 343.7 502.1 344.2 504.4 345.1 506.5 346.4 508.4 348 510 349.5 511.1 350.4 511.9 352.5 509.6 351.6 508.7 350.3 507.5 349.1 506.2 348.3 504.9 347.7 503.3 347.1 501.4 346.8 499.5 346.8 497.7 347 496 347.6 494.1 348.3 492.5 349.1 491.2 350.1 490.5 351.6 490 353.1 489.6 354.2 488.9 354.1 487.7 353.5 486.5 352.6 485.5 352.1 484.8Z" fill="#EFA088"/><path d="M351.8 485 352.3 485.7 353.1 486.8 353.6 487.9 353.6 488.5 352.8 488.8 351.4 488.9 349.6 489.1 347.9 489.9 346.6 491.3 345.4 493.1 344.5 495.2 343.9 497.4 343.8 499.6 344.1 502 344.7 504.3 345.5 506.3 346.7 508.1 348.3 509.7 349.7 510.8 350.7 511.6 351.6 510.6 350.7 509.7 349.3 508.6 347.9 507.1 346.9 505.6 346.2 503.8 345.7 501.7 345.4 499.5 345.4 497.5 345.8 495.6 346.5 493.7 347.5 491.9 348.5 490.6 349.8 489.8 351.5 489.5 353 489.2 353.9 488.7 353.9 487.8 353.3 486.7 352.5 485.6 352 484.9Z" fill="#F6B4A0" opacity="0.7"/><path d="M330 508.4 330.5 509.2 331.2 510.2 331.7 511.3 331.6 511.8 330.9 511.9 329.4 512 327.5 512.2 325.6 513 324 514.6 322.7 516.5 321.6 518.6 320.9 520.9 320.5 523.2 320.5 525.7 320.8 528.1 321.5 530.4 322.9 532.4 324.6 534 326.2 535.1 327.2 535.9 329.8 532.9 328.8 532.1 327.6 530.9 326.4 529.6 325.7 528.5 325.3 527.1 325 525.3 324.9 523.3 325 521.5 325.3 519.8 325.8 517.9 326.5 516.2 327.2 514.9 328.2 514.2 329.7 513.7 331.3 513.2 332.5 512.4 332.4 511.1 331.7 509.9 330.9 508.8 330.4 508.1Z" fill="#2E1410" opacity="0.85"/><path d="M330.1 508.3 330.6 509.1 331.3 510.2 331.8 511.2 331.8 511.8 331.1 511.9 329.6 512 327.8 512.1 326 512.9 324.6 514.4 323.4 516.3 322.4 518.4 321.7 520.5 321.4 522.8 321.4 525.2 321.7 527.6 322.4 529.9 323.7 531.9 325.4 533.4 326.9 534.6 327.9 535.4 330.1 532.8 329.2 531.9 327.9 530.7 326.8 529.4 326 528.2 325.6 526.7 325.3 524.9 325.2 522.9 325.2 521.1 325.5 519.4 326 517.5 326.7 515.8 327.5 514.6 328.4 513.9 329.9 513.4 331.4 513 332.5 512.3 332.5 511 331.8 509.9 331 508.8 330.4 508.1Z" fill="#EFA088"/><path d="M330.1 508.3 330.6 509.1 331.4 510.1 331.9 511.2 331.9 511.8 331.1 512 329.7 512.1 327.9 512.4 326.2 513.2 324.9 514.6 323.7 516.4 322.8 518.5 322.1 520.6 321.8 522.8 321.9 525.2 322.2 527.5 322.8 529.7 324.1 531.6 325.7 533.1 327.2 534.3 328.2 535 329.2 533.9 328.2 533 326.8 531.9 325.5 530.5 324.5 528.9 323.9 527.1 323.6 525 323.6 522.9 323.7 520.9 324.2 518.9 324.9 517 325.8 515.2 326.8 513.9 328.2 513.1 329.8 512.8 331.3 512.6 332.2 512 332.2 511.1 331.6 510 330.8 508.9 330.3 508.2Z" fill="#F6B4A0" opacity="0.7"/><path d="M338.2 508.4 338.7 509.2 339.4 510.2 339.9 511.3 339.8 511.8 339.1 511.9 337.6 512 335.7 512.2 333.8 513 332.2 514.6 330.9 516.5 329.8 518.6 329.1 520.9 328.7 523.2 328.7 525.7 329 528.1 329.7 530.4 331.1 532.4 332.8 534 334.4 535.1 335.4 535.9 338 532.9 337 532.1 335.8 530.9 334.6 529.6 333.9 528.5 333.5 527.1 333.2 525.3 333.1 523.3 333.2 521.5 333.5 519.8 334 517.9 334.7 516.2 335.4 514.9 336.4 514.2 337.9 513.7 339.5 513.2 340.7 512.4 340.6 511.1 339.9 509.9 339.1 508.8 338.6 508.1Z" fill="#2E1410" opacity="0.85"/><path d="M338.3 508.3 338.8 509.1 339.5 510.2 340 511.2 340 511.8 339.3 511.9 337.8 512 336 512.1 334.2 512.9 332.8 514.4 331.6 516.3 330.6 518.4 329.9 520.5 329.6 522.8 329.6 525.2 329.9 527.6 330.6 529.9 331.9 531.9 333.6 533.4 335.1 534.6 336.1 535.4 338.3 532.8 337.4 531.9 336.1 530.7 335 529.4 334.2 528.2 333.8 526.7 333.5 524.9 333.4 522.9 333.4 521.1 333.7 519.4 334.2 517.5 334.9 515.8 335.7 514.6 336.6 513.9 338.1 513.4 339.6 513 340.7 512.3 340.7 511 340 509.9 339.2 508.8 338.6 508.1Z" fill="#EFA088"/><path d="M338.3 508.3 338.8 509.1 339.6 510.1 340.1 511.2 340.1 511.8 339.3 512 337.9 512.1 336.1 512.4 334.4 513.2 333.1 514.6 331.9 516.4 331 518.5 330.3 520.6 330 522.8 330.1 525.2 330.4 527.5 331 529.7 332.3 531.6 333.9 533.1 335.4 534.3 336.4 535 337.4 533.9 336.4 533 335 531.9 333.7 530.5 332.7 528.9 332.1 527.1 331.8 525 331.7 522.9 331.9 520.9 332.4 518.9 333.1 517 334 515.2 335 513.9 336.4 513.1 338 512.8 339.5 512.6 340.4 512 340.4 511.1 339.8 510 339 508.9 338.5 508.2Z" fill="#F6B4A0" opacity="0.7"/><path d="M345.4 508.4 345.9 509.1 346.6 510.2 347.1 511.3 347 511.8 346.3 512 344.8 512.1 342.9 512.3 341.1 513.1 339.6 514.6 338.3 516.5 337.2 518.7 336.5 520.9 336.3 523.3 336.6 525.8 337.1 528.2 338 530.4 339.3 532.3 341 533.8 342.5 534.9 343.5 535.7 345.9 533.1 344.9 532.2 343.7 531 342.5 529.7 341.6 528.4 341.1 526.9 340.6 525 340.3 523.1 340.2 521.4 340.5 519.7 341 517.8 341.8 516.1 342.6 514.8 343.6 514.1 345.1 513.6 346.7 513.2 347.8 512.3 347.8 511.1 347.1 509.9 346.3 508.9 345.8 508.1Z" fill="#2E1410" opacity="0.85"/><path d="M345.5 508.3 346 509.1 346.7 510.1 347.2 511.2 347.2 511.8 346.5 512 345 512 343.2 512.2 341.5 513 340.1 514.5 338.8 516.3 337.8 518.4 337.2 520.7 337.1 523 337.4 525.4 337.9 527.7 338.8 529.9 340.1 531.8 341.7 533.3 343.2 534.4 344.1 535.2 346.2 532.9 345.3 532.1 344 530.8 342.8 529.5 341.9 528.2 341.3 526.6 340.8 524.7 340.5 522.8 340.4 521 340.7 519.3 341.2 517.5 342 515.8 342.8 514.5 343.8 513.8 345.3 513.4 346.8 513 347.9 512.2 347.8 511 347.2 509.9 346.3 508.8 345.8 508.1Z" fill="#EFA088"/><path d="M345.5 508.3 346 509 346.8 510.1 347.3 511.2 347.3 511.8 346.5 512.1 345.1 512.2 343.3 512.4 341.6 513.2 340.3 514.7 339.1 516.5 338.2 518.5 337.6 520.7 337.5 523 337.8 525.3 338.3 527.6 339.2 529.7 340.4 531.5 342 533 343.4 534.1 344.4 534.9 345.3 533.9 344.4 533.1 343 531.9 341.6 530.5 340.6 528.9 339.9 527.1 339.4 525 339.1 522.9 339.1 520.9 339.5 518.9 340.2 517 341.2 515.2 342.2 513.9 343.5 513.1 345.2 512.8 346.7 512.5 347.6 512 347.6 511.1 347 510 346.2 508.9 345.7 508.2Z" fill="#F6B4A0" opacity="0.7"/><path d="M351.7 508.4 352.2 509.1 352.9 510.2 353.4 511.3 353.3 511.8 352.6 512 351.1 512.1 349.2 512.3 347.4 513.1 345.9 514.6 344.6 516.5 343.5 518.7 342.8 520.9 342.6 523.3 342.9 525.8 343.4 528.2 344.3 530.4 345.6 532.3 347.3 533.8 348.8 534.9 349.8 535.7 352.2 533.1 351.2 532.2 350 531 348.8 529.7 348 528.4 347.4 526.9 346.9 525 346.6 523.1 346.5 521.4 346.8 519.7 347.3 517.8 348.1 516.1 348.9 514.8 349.9 514.1 351.4 513.6 353 513.2 354.1 512.3 354.1 511.1 353.4 509.9 352.6 508.9 352.1 508.1Z" fill="#2E1410" opacity="0.85"/><path d="M351.8 508.3 352.3 509.1 353 510.1 353.5 511.2 353.5 511.8 352.8 512 351.3 512 349.5 512.2 347.8 513 346.4 514.5 345.1 516.3 344.2 518.4 343.5 520.7 343.4 523 343.7 525.4 344.2 527.7 345.1 529.9 346.4 531.8 348 533.3 349.5 534.4 350.4 535.2 352.5 532.9 351.6 532.1 350.3 530.8 349.1 529.5 348.3 528.2 347.7 526.6 347.1 524.7 346.8 522.8 346.8 521 347 519.3 347.6 517.5 348.3 515.8 349.1 514.5 350.1 513.8 351.6 513.4 353.1 513 354.2 512.2 354.1 511 353.5 509.9 352.6 508.8 352.1 508.1Z" fill="#EFA088"/><path d="M351.8 508.3 352.3 509 353.1 510.1 353.6 511.2 353.6 511.8 352.8 512.1 351.4 512.2 349.6 512.4 347.9 513.2 346.6 514.7 345.4 516.5 344.5 518.5 343.9 520.7 343.8 523 344.1 525.3 344.7 527.6 345.5 529.7 346.7 531.5 348.3 533 349.7 534.1 350.7 534.9 351.6 533.9 350.7 533.1 349.3 531.9 347.9 530.5 346.9 528.9 346.2 527.1 345.7 525 345.4 522.9 345.4 520.9 345.8 518.9 346.5 517 347.5 515.2 348.5 513.9 349.8 513.1 351.5 512.8 353 512.5 353.9 512 353.9 511.1 353.3 510 352.5 508.9 352 508.2Z" fill="#F6B4A0" opacity="0.7"/></g>
</g>
<g id="pe">
<defs>
<filter id="eb1" x="-20%" y="-20%" width="140%" height="140%"><feGaussianBlur stdDeviation="1.2"/></filter>
<filter id="eb1b" x="-20%" y="-20%" width="140%" height="140%"><feGaussianBlur stdDeviation="1.5"/></filter><filter id="eb2" x="-20%" y="-20%" width="140%" height="140%"><feGaussianBlur stdDeviation="2.2"/></filter>
<filter id="eb3" x="-20%" y="-20%" width="140%" height="140%"><feGaussianBlur stdDeviation="3.5"/></filter>
<filter id="enoise" x="0" y="0" width="100%" height="100%"><feTurbulence type="fractalNoise" baseFrequency="0.9" numOctaves="2" seed="4"/><feColorMatrix type="matrix" values="0 0 0 0 0.2  0 0 0 0 0.17  0 0 0 0 0.05  0.5 0.5 0 0 -0.38"/></filter>
<linearGradient id="e1g" x1="0" x2="1" y1="0" y2="0"><stop offset="0" stop-color="#1C190B"/><stop offset="0.5" stop-color="#1A1C0C"/><stop offset="0.66" stop-color="#1B1E0C"/><stop offset="0.69" stop-color="#262D0E"/><stop offset="0.725" stop-color="#252C0E"/><stop offset="0.745" stop-color="#1A1A0B"/><stop offset="1" stop-color="#1A180B"/></linearGradient>
<linearGradient id="e2g" x1="0" x2="1" y1="0" y2="0"><stop offset="0" stop-color="#1D190B"/><stop offset="0.45" stop-color="#1B1C0C"/><stop offset="0.545" stop-color="#232A0E"/><stop offset="0.575" stop-color="#3C560E"/><stop offset="0.64" stop-color="#4D6D10"/><stop offset="0.715" stop-color="#46640E"/><stop offset="0.74" stop-color="#1C1C0B"/><stop offset="1" stop-color="#1A170A"/></linearGradient>
<linearGradient id="e3g" x1="0" x2="1" y1="0" y2="0"><stop offset="0" stop-color="#1F1C0C"/><stop offset="0.25" stop-color="#1B220E"/><stop offset="0.5" stop-color="#1E2810"/><stop offset="0.555" stop-color="#2A3A10"/><stop offset="0.574" stop-color="#5C7C14"/><stop offset="0.585" stop-color="#BEDC20"/><stop offset="0.63" stop-color="#ECE814"/><stop offset="0.675" stop-color="#EFC712"/><stop offset="0.7" stop-color="#D89A14"/><stop offset="0.712" stop-color="#22200A"/><stop offset="0.8" stop-color="#18170A"/><stop offset="1" stop-color="#19180A"/></linearGradient>
<linearGradient id="e4g" x1="0" x2="1" y1="0" y2="0"><stop offset="0" stop-color="#1E1C0C"/><stop offset="0.2" stop-color="#1B260F"/><stop offset="0.34" stop-color="#1D2A12"/><stop offset="0.74" stop-color="#2A2A10"/><stop offset="0.78" stop-color="#16150A"/><stop offset="1" stop-color="#17160A"/></linearGradient>
<linearGradient id="e5g" x1="0" x2="1" y1="0" y2="0"><stop offset="0" stop-color="#1C1E0D"/><stop offset="0.2" stop-color="#1C2410"/><stop offset="0.7" stop-color="#23220E"/><stop offset="0.75" stop-color="#15150A"/><stop offset="1" stop-color="#16150A"/></linearGradient>
</defs>
<g><clipPath id="ec1"><rect x="509.9" y="379.9" width="151.6" height="204.7"/></clipPath><rect x="509.9" y="379.9" width="151.6" height="204.7" fill="url(#e1g)" stroke="none" stroke-width="0" /><g clip-path="url(#ec1)"></g><rect x="509.9" y="379.9" width="151.6" height="204.7" fill="#000" stroke="none" stroke-width="0" filter="url(#enoise)" opacity="0.3"/><text x="520.5" y="408.9" font-family='"Liberation Sans", "DejaVu Sans", sans-serif' font-size="22.5" font-weight="normal" fill="#fff" stroke="#fff" stroke-width="0.35" text-anchor="start" textLength="32" lengthAdjust="spacingAndGlyphs">5 V</text><rect x="615.4" y="556.1" width="39.5" height="2.6" fill="#fff" stroke="none" stroke-width="0" /></g>
<g><clipPath id="ec2"><rect x="668.5" y="379.9" width="151.4" height="204.7"/></clipPath><rect x="668.5" y="379.9" width="151.4" height="204.7" fill="url(#e2g)" stroke="none" stroke-width="0" /><g clip-path="url(#ec2)"><g filter="url(#eb1)"><ellipse cx="778.5" cy="535" rx="3" ry="10" fill="#1F1F0C"/><ellipse cx="778.5" cy="548" rx="4" ry="8" fill="#1F1F0C"/><ellipse cx="778.5" cy="562" rx="3.5" ry="9" fill="#1F1F0C"/><ellipse cx="778.5" cy="575" rx="3" ry="8" fill="#1F1F0C"/></g></g><rect x="668.5" y="379.9" width="151.4" height="204.7" fill="#000" stroke="none" stroke-width="0" filter="url(#enoise)" opacity="0.3"/><text x="678.8" y="408.9" font-family='"Liberation Sans", "DejaVu Sans", sans-serif' font-size="22.5" font-weight="normal" fill="#fff" stroke="#fff" stroke-width="0.35" text-anchor="start" textLength="44.5" lengthAdjust="spacingAndGlyphs">10 V</text><rect x="767.1" y="556.1" width="38.7" height="2.6" fill="#fff" stroke="none" stroke-width="0" /></g>
<g><clipPath id="ec3"><rect x="826.2" y="380.4" width="150.9" height="202.2"/></clipPath><rect x="826.2" y="380.4" width="150.9" height="202.2" fill="url(#e3g)" stroke="none" stroke-width="0" /><g clip-path="url(#ec3)"><g filter="url(#eb2)"><rect x="909" y="375" width="4" height="215" fill="#5C7C18" stroke="none" stroke-width="0" opacity="0.3"/></g><g filter="url(#eb1)"><ellipse cx="917.71" cy="380" rx="4.59" ry="10.03" fill="#D4EC28" opacity="0.55"/><ellipse cx="929.77" cy="385" rx="3.61" ry="11.7" fill="#F2B010" opacity="0.5"/><ellipse cx="914.15" cy="396.72" rx="3.93" ry="12.55" fill="#D4EC28" opacity="0.55"/><ellipse cx="929.77" cy="401.72" rx="3.47" ry="14.64" fill="#F2B010" opacity="0.5"/><ellipse cx="914.57" cy="417.63" rx="3.94" ry="12.37" fill="#D4EC28" opacity="0.55"/><ellipse cx="926.99" cy="422.63" rx="3.32" ry="14.43" fill="#F2B010" opacity="0.5"/><ellipse cx="914.07" cy="438.25" rx="3.43" ry="9.62" fill="#D4EC28" opacity="0.55"/><ellipse cx="927.12" cy="443.25" rx="3.87" ry="11.22" fill="#F2B010" opacity="0.5"/><ellipse cx="914.8" cy="454.28" rx="4.59" ry="11.23" fill="#D4EC28" opacity="0.55"/><ellipse cx="926.56" cy="459.28" rx="3.43" ry="13.1" fill="#F2B010" opacity="0.5"/><ellipse cx="914.01" cy="473" rx="4.74" ry="5.86" fill="#D4EC28" opacity="0.55"/><ellipse cx="926.84" cy="478" rx="2.82" ry="6.84" fill="#F2B010" opacity="0.5"/><ellipse cx="918.36" cy="482.77" rx="3.58" ry="13.05" fill="#D4EC28" opacity="0.55"/><ellipse cx="929.85" cy="487.77" rx="3.31" ry="15.23" fill="#F2B010" opacity="0.5"/><ellipse cx="915.02" cy="504.53" rx="4.88" ry="10.49" fill="#D4EC28" opacity="0.55"/><ellipse cx="928.76" cy="509.53" rx="3.95" ry="12.24" fill="#F2B010" opacity="0.5"/><ellipse cx="915.49" cy="522.02" rx="3.72" ry="12.31" fill="#D4EC28" opacity="0.55"/><ellipse cx="926.66" cy="527.02" rx="2.72" ry="14.36" fill="#F2B010" opacity="0.5"/><ellipse cx="915.51" cy="542.53" rx="4.21" ry="5.35" fill="#D4EC28" opacity="0.55"/><ellipse cx="926.01" cy="547.53" rx="3.52" ry="6.24" fill="#F2B010" opacity="0.5"/><ellipse cx="915.55" cy="551.44" rx="4.64" ry="7.64" fill="#D4EC28" opacity="0.55"/><ellipse cx="927.92" cy="556.44" rx="2.97" ry="8.91" fill="#F2B010" opacity="0.5"/><ellipse cx="917.52" cy="564.17" rx="3.11" ry="8.84" fill="#D4EC28" opacity="0.55"/><ellipse cx="929.9" cy="569.17" rx="2.53" ry="10.32" fill="#F2B010" opacity="0.5"/><ellipse cx="918.22" cy="578.91" rx="3.04" ry="11.1" fill="#D4EC28" opacity="0.55"/><ellipse cx="929.15" cy="583.91" rx="3.05" ry="12.95" fill="#F2B010" opacity="0.5"/><ellipse cx="933.5" cy="540" rx="2.2" ry="3" fill="#20160A"/><ellipse cx="934" cy="425" rx="1.3" ry="6" fill="#20160A"/></g></g><rect x="826.2" y="380.4" width="150.9" height="202.2" fill="#000" stroke="none" stroke-width="0" filter="url(#enoise)" opacity="0.3"/><text x="832.3" y="408.9" font-family='"Liberation Sans", "DejaVu Sans", sans-serif' font-size="22.5" font-weight="normal" fill="#fff" stroke="#fff" stroke-width="0.35" text-anchor="start" textLength="44.5" lengthAdjust="spacingAndGlyphs">15 V</text><rect x="938" y="556.1" width="39.1" height="2.6" fill="#fff" stroke="none" stroke-width="0" /></g>
<g><clipPath id="ec4"><rect x="984.5" y="380.4" width="151.2" height="202.2"/></clipPath><rect x="984.5" y="380.4" width="151.2" height="202.2" fill="url(#e4g)" stroke="none" stroke-width="0" /><g clip-path="url(#ec4)"><g filter="url(#eb3)"><rect x="1054" y="375" width="38" height="215" fill="#8A7818" stroke="none" stroke-width="0" opacity="0.95"/><ellipse cx="1052.83" cy="378" rx="5.09" ry="5.82" fill="#94BCA8" opacity="0.45"/><ellipse cx="1049.51" cy="387.32" rx="5.48" ry="7.4" fill="#94BCA8" opacity="0.45"/><ellipse cx="1051.59" cy="399.15" rx="4.76" ry="9.04" fill="#94BCA8" opacity="0.45"/><ellipse cx="1048.02" cy="413.62" rx="4.43" ry="6.18" fill="#94BCA8" opacity="0.45"/><ellipse cx="1048.48" cy="423.5" rx="5.48" ry="7.93" fill="#94BCA8" opacity="0.45"/><ellipse cx="1049.63" cy="436.19" rx="3.61" ry="6.16" fill="#94BCA8" opacity="0.45"/><ellipse cx="1053.17" cy="446.04" rx="5.69" ry="9.99" fill="#94BCA8" opacity="0.45"/><ellipse cx="1048.24" cy="462.03" rx="4.32" ry="8.08" fill="#94BCA8" opacity="0.45"/><ellipse cx="1048.81" cy="474.95" rx="5.88" ry="7.49" fill="#94BCA8" opacity="0.45"/><ellipse cx="1049.08" cy="486.93" rx="5.54" ry="6.84" fill="#94BCA8" opacity="0.45"/><ellipse cx="1054.5" cy="497.88" rx="4.63" ry="5.62" fill="#94BCA8" opacity="0.45"/><ellipse cx="1050.4" cy="506.88" rx="4.71" ry="7.76" fill="#94BCA8" opacity="0.45"/><ellipse cx="1048.26" cy="519.3" rx="5.66" ry="5.93" fill="#94BCA8" opacity="0.45"/><ellipse cx="1053.46" cy="528.79" rx="4.02" ry="6.17" fill="#94BCA8" opacity="0.45"/><ellipse cx="1054.26" cy="538.67" rx="5.39" ry="9.84" fill="#94BCA8" opacity="0.45"/><ellipse cx="1052.07" cy="554.42" rx="5.32" ry="8.81" fill="#94BCA8" opacity="0.45"/><ellipse cx="1051.33" cy="568.52" rx="5.57" ry="5.61" fill="#94BCA8" opacity="0.45"/><ellipse cx="1054.46" cy="577.5" rx="5.72" ry="6.01" fill="#94BCA8" opacity="0.45"/><ellipse cx="1050.56" cy="587.11" rx="4.63" ry="7.05" fill="#94BCA8" opacity="0.45"/></g><g filter="url(#eb2)"><ellipse cx="1065.97" cy="378" rx="7.16" ry="9.35" fill="#F4F418" opacity="0.9"/><ellipse cx="1050.11" cy="382" rx="3.19" ry="6.24" fill="#DCEEB0" opacity="0.7"/><ellipse cx="1065.96" cy="386.73" rx="7.49" ry="11.6" fill="#F4F418" opacity="0.9"/><ellipse cx="1051.97" cy="390.73" rx="4.1" ry="7.73" fill="#DCEEB0" opacity="0.7"/><ellipse cx="1061.33" cy="397.55" rx="7.83" ry="11.8" fill="#F4F418" opacity="0.9"/><ellipse cx="1052.23" cy="401.55" rx="4.25" ry="7.87" fill="#DCEEB0" opacity="0.7"/><ellipse cx="1061.02" cy="408.57" rx="7.04" ry="7.97" fill="#F4F418" opacity="0.9"/><ellipse cx="1053.71" cy="412.57" rx="3.69" ry="5.31" fill="#DCEEB0" opacity="0.7"/><ellipse cx="1061.84" cy="416.01" rx="6.31" ry="10.78" fill="#F4F418" opacity="0.9"/><ellipse cx="1050.26" cy="420.01" rx="4.63" ry="7.19" fill="#DCEEB0" opacity="0.7"/><ellipse cx="1062.25" cy="426.07" rx="8.05" ry="11.99" fill="#F4F418" opacity="0.9"/><ellipse cx="1052.7" cy="430.07" rx="4.8" ry="8" fill="#DCEEB0" opacity="0.7"/><ellipse cx="1062.44" cy="437.26" rx="8.97" ry="13.22" fill="#F4F418" opacity="0.9"/><ellipse cx="1053.85" cy="441.26" rx="4.18" ry="8.81" fill="#DCEEB0" opacity="0.7"/><ellipse cx="1062.95" cy="449.6" rx="7.13" ry="12.71" fill="#F4F418" opacity="0.9"/><ellipse cx="1050.99" cy="453.6" rx="4.75" ry="8.47" fill="#DCEEB0" opacity="0.7"/><ellipse cx="1060.42" cy="461.47" rx="8.42" ry="7.85" fill="#F4F418" opacity="0.9"/><ellipse cx="1053.1" cy="465.47" rx="3.97" ry="5.23" fill="#DCEEB0" opacity="0.7"/><ellipse cx="1060.31" cy="468.79" rx="6.77" ry="12.4" fill="#F4F418" opacity="0.9"/><ellipse cx="1051.16" cy="472.79" rx="3.84" ry="8.27" fill="#DCEEB0" opacity="0.7"/><ellipse cx="1060.42" cy="480.36" rx="7.01" ry="7.9" fill="#F4F418" opacity="0.9"/><ellipse cx="1053.6" cy="484.36" rx="4.97" ry="5.27" fill="#DCEEB0" opacity="0.7"/><ellipse cx="1062.87" cy="487.74" rx="6.76" ry="11.78" fill="#F4F418" opacity="0.9"/><ellipse cx="1053.84" cy="491.74" rx="4.05" ry="7.86" fill="#DCEEB0" opacity="0.7"/><ellipse cx="1060.17" cy="498.73" rx="6.64" ry="11.67" fill="#F4F418" opacity="0.9"/><ellipse cx="1053.35" cy="502.73" rx="4.59" ry="7.78" fill="#DCEEB0" opacity="0.7"/><ellipse cx="1063.61" cy="509.62" rx="7.28" ry="12.7" fill="#F4F418" opacity="0.9"/><ellipse cx="1052.32" cy="513.62" rx="4.7" ry="8.47" fill="#DCEEB0" opacity="0.7"/><ellipse cx="1063.21" cy="521.48" rx="6.83" ry="8.83" fill="#F4F418" opacity="0.9"/><ellipse cx="1053.07" cy="525.48" rx="3.02" ry="5.89" fill="#DCEEB0" opacity="0.7"/><ellipse cx="1065.72" cy="529.72" rx="6.07" ry="11.38" fill="#F4F418" opacity="0.9"/><ellipse cx="1052.37" cy="533.72" rx="4.29" ry="7.58" fill="#DCEEB0" opacity="0.7"/><ellipse cx="1063.51" cy="540.34" rx="6.77" ry="12.5" fill="#F4F418" opacity="0.9"/><ellipse cx="1051.62" cy="544.34" rx="4.92" ry="8.33" fill="#DCEEB0" opacity="0.7"/><ellipse cx="1060.8" cy="552" rx="6.28" ry="12.86" fill="#F4F418" opacity="0.9"/><ellipse cx="1050.38" cy="556" rx="3.05" ry="8.58" fill="#DCEEB0" opacity="0.7"/><ellipse cx="1060.84" cy="564.01" rx="8.6" ry="9.77" fill="#F4F418" opacity="0.9"/><ellipse cx="1052.62" cy="568.01" rx="3.25" ry="6.51" fill="#DCEEB0" opacity="0.7"/><ellipse cx="1061.95" cy="573.12" rx="7.48" ry="10.39" fill="#F4F418" opacity="0.9"/><ellipse cx="1050.88" cy="577.12" rx="3.33" ry="6.92" fill="#DCEEB0" opacity="0.7"/><ellipse cx="1062.27" cy="582.82" rx="8.13" ry="7.99" fill="#F4F418" opacity="0.9"/><ellipse cx="1052.2" cy="586.82" rx="3.09" ry="5.33" fill="#DCEEB0" opacity="0.7"/></g><g filter="url(#eb1)"><ellipse cx="1088.73" cy="377.74" rx="1.01" ry="11.68" fill="#F0A010" opacity="0.85"/><ellipse cx="1074.14" cy="374.05" rx="1.85" ry="10" fill="#F08A10" opacity="0.85"/><ellipse cx="1085.54" cy="377.47" rx="1.29" ry="9.23" fill="#30A830" opacity="0.85"/><ellipse cx="1090.83" cy="383.31" rx="1.59" ry="12.69" fill="#3A4A10" opacity="0.85"/><ellipse cx="1082.82" cy="381.54" rx="1.88" ry="15.87" fill="#F0A010" opacity="0.85"/><ellipse cx="1078.58" cy="381.64" rx="1.67" ry="8.58" fill="#5A2A10" opacity="0.85"/><ellipse cx="1090.58" cy="384.42" rx="1.79" ry="12.16" fill="#30A830" opacity="0.85"/><ellipse cx="1088.62" cy="384.47" rx="1.98" ry="15.07" fill="#1E7A20" opacity="0.85"/><ellipse cx="1081.07" cy="389.71" rx="1.82" ry="14.6" fill="#5A2A10" opacity="0.85"/><ellipse cx="1082.23" cy="390.34" rx="1.03" ry="11.03" fill="#E08010" opacity="0.85"/><ellipse cx="1073.76" cy="394.14" rx="1.98" ry="11.44" fill="#F4C812" opacity="0.85"/><ellipse cx="1081.21" cy="392.31" rx="1.39" ry="8.15" fill="#F0D010" opacity="0.85"/><ellipse cx="1084.78" cy="397.36" rx="1.59" ry="15.66" fill="#F0A010" opacity="0.85"/><ellipse cx="1089.03" cy="398.24" rx="1.91" ry="15.22" fill="#E8C818" opacity="0.85"/><ellipse cx="1088.46" cy="396.06" rx="1.58" ry="13.67" fill="#1E7A20" opacity="0.85"/><ellipse cx="1079.87" cy="406.54" rx="2.19" ry="5.75" fill="#3A4A10" opacity="0.85"/><ellipse cx="1078.63" cy="406.01" rx="1.86" ry="6.23" fill="#C83820" opacity="0.85"/><ellipse cx="1076.16" cy="402.57" rx="2.13" ry="9.95" fill="#F08A10" opacity="0.85"/><ellipse cx="1074.95" cy="408.91" rx="1.25" ry="8.8" fill="#F0A010" opacity="0.85"/><ellipse cx="1084.55" cy="405.81" rx="1.1" ry="6.78" fill="#1E7A20" opacity="0.85"/><ellipse cx="1082.26" cy="410.08" rx="1.61" ry="8.16" fill="#28B428" opacity="0.85"/><ellipse cx="1085.89" cy="414.86" rx="1.56" ry="11.28" fill="#28B428" opacity="0.85"/><ellipse cx="1084.11" cy="413.23" rx="1.8" ry="12.74" fill="#C83820" opacity="0.85"/><ellipse cx="1074.78" cy="409.42" rx="1.97" ry="15.19" fill="#F0A010" opacity="0.85"/><ellipse cx="1073.34" cy="418.09" rx="1.48" ry="11.45" fill="#F08A10" opacity="0.85"/><ellipse cx="1081.09" cy="420.26" rx="1.18" ry="15.68" fill="#F0A010" opacity="0.85"/><ellipse cx="1076.43" cy="419.98" rx="1.44" ry="9.02" fill="#F4C812" opacity="0.85"/><ellipse cx="1087.8" cy="425.12" rx="1.37" ry="11.95" fill="#3A4A10" opacity="0.85"/><ellipse cx="1088.89" cy="421.42" rx="1.96" ry="15.55" fill="#F0D010" opacity="0.85"/><ellipse cx="1089.65" cy="424.03" rx="1.09" ry="12.11" fill="#F0A010" opacity="0.85"/><ellipse cx="1090.8" cy="427" rx="1.07" ry="15.73" fill="#1E7A20" opacity="0.85"/><ellipse cx="1083.92" cy="428.82" rx="1.82" ry="14.52" fill="#5A2A10" opacity="0.85"/><ellipse cx="1075.75" cy="427.99" rx="1.36" ry="14.1" fill="#F0A010" opacity="0.85"/><ellipse cx="1074.28" cy="432.95" rx="1.12" ry="16.43" fill="#F0A010" opacity="0.85"/><ellipse cx="1079.48" cy="432.18" rx="1.04" ry="13.43" fill="#30A830" opacity="0.85"/><ellipse cx="1085.25" cy="434.22" rx="1.04" ry="11.08" fill="#1E7A20" opacity="0.85"/><ellipse cx="1077.51" cy="442.15" rx="1.87" ry="9.16" fill="#F0A010" opacity="0.85"/><ellipse cx="1074.41" cy="439.29" rx="1.05" ry="8.12" fill="#F0A010" opacity="0.85"/><ellipse cx="1082.59" cy="441.86" rx="1.03" ry="8.22" fill="#1E7A20" opacity="0.85"/><ellipse cx="1088.56" cy="446.98" rx="2.09" ry="11.22" fill="#E8C818" opacity="0.85"/><ellipse cx="1076.91" cy="447.55" rx="1.64" ry="12.75" fill="#F08A10" opacity="0.85"/><ellipse cx="1090.46" cy="443.4" rx="1.56" ry="11.33" fill="#E08010" opacity="0.85"/><ellipse cx="1089.44" cy="450.41" rx="1.73" ry="10.63" fill="#28B428" opacity="0.85"/><ellipse cx="1084.64" cy="447.82" rx="2.17" ry="9.09" fill="#28B428" opacity="0.85"/><ellipse cx="1080.43" cy="452.72" rx="1.67" ry="10.75" fill="#F0D010" opacity="0.85"/><ellipse cx="1088.89" cy="456.35" rx="1.29" ry="13.02" fill="#30A830" opacity="0.85"/><ellipse cx="1079.33" cy="455.78" rx="1.43" ry="9.21" fill="#1E7A20" opacity="0.85"/><ellipse cx="1073.49" cy="456.62" rx="1.91" ry="16.16" fill="#F4C812" opacity="0.85"/><ellipse cx="1086.35" cy="462.06" rx="1.63" ry="15.43" fill="#F0D010" opacity="0.85"/><ellipse cx="1082.25" cy="457.46" rx="1.79" ry="13.14" fill="#E86018" opacity="0.85"/><ellipse cx="1081.36" cy="461" rx="1.78" ry="10.2" fill="#E8C818" opacity="0.85"/><ellipse cx="1079.8" cy="464.95" rx="1.05" ry="11.91" fill="#E8C818" opacity="0.85"/><ellipse cx="1076.7" cy="465.61" rx="1.96" ry="11.13" fill="#F4C812" opacity="0.85"/><ellipse cx="1086.16" cy="464.35" rx="1.47" ry="6.43" fill="#28B428" opacity="0.85"/><ellipse cx="1083.47" cy="471.49" rx="1.55" ry="11.47" fill="#5A2A10" opacity="0.85"/><ellipse cx="1088.66" cy="471.37" rx="1.58" ry="8.14" fill="#3A4A10" opacity="0.85"/><ellipse cx="1079.67" cy="469.49" rx="1.55" ry="10.73" fill="#28B428" opacity="0.85"/><ellipse cx="1083.77" cy="476.99" rx="1.9" ry="10.34" fill="#E86018" opacity="0.85"/><ellipse cx="1077.51" cy="476.56" rx="2.11" ry="9.01" fill="#F4C812" opacity="0.85"/><ellipse cx="1088.26" cy="476.28" rx="1.3" ry="8.5" fill="#E86018" opacity="0.85"/><ellipse cx="1089.83" cy="481.07" rx="1.35" ry="10" fill="#E86018" opacity="0.85"/><ellipse cx="1076.73" cy="481.6" rx="1.59" ry="8.47" fill="#F4C812" opacity="0.85"/><ellipse cx="1089.21" cy="480.11" rx="1.01" ry="15.13" fill="#1E7A20" opacity="0.85"/><ellipse cx="1077.72" cy="482.98" rx="1.91" ry="8.95" fill="#F4C812" opacity="0.85"/><ellipse cx="1082.2" cy="486.18" rx="1.53" ry="8.39" fill="#F0D010" opacity="0.85"/><ellipse cx="1090.32" cy="485.21" rx="1.03" ry="10.9" fill="#30A830" opacity="0.85"/><ellipse cx="1080.23" cy="490.27" rx="1.55" ry="7.26" fill="#E8C818" opacity="0.85"/><ellipse cx="1077.02" cy="486.58" rx="1.77" ry="6.98" fill="#F0A010" opacity="0.85"/><ellipse cx="1076.98" cy="491.87" rx="1.9" ry="6.45" fill="#F08A10" opacity="0.85"/><ellipse cx="1073.24" cy="491.72" rx="1.39" ry="5.91" fill="#F4C812" opacity="0.85"/><ellipse cx="1073.87" cy="490.97" rx="1.01" ry="5.63" fill="#F0A010" opacity="0.85"/><ellipse cx="1075.76" cy="490.43" rx="1.64" ry="5.43" fill="#F08A10" opacity="0.85"/><ellipse cx="1086.7" cy="497.3" rx="1.25" ry="6.38" fill="#F0D010" opacity="0.85"/><ellipse cx="1087.04" cy="496.7" rx="1.12" ry="7.55" fill="#F0D010" opacity="0.85"/><ellipse cx="1083.38" cy="497.29" rx="1.98" ry="8.78" fill="#3A4A10" opacity="0.85"/><ellipse cx="1087.52" cy="499.56" rx="1.94" ry="9.7" fill="#1E7A20" opacity="0.85"/><ellipse cx="1081.97" cy="502.04" rx="1.7" ry="11.08" fill="#E08010" opacity="0.85"/><ellipse cx="1089.67" cy="502.09" rx="1.31" ry="13.8" fill="#E86018" opacity="0.85"/><ellipse cx="1087.85" cy="505.9" rx="1.8" ry="9.05" fill="#C83820" opacity="0.85"/><ellipse cx="1080.01" cy="504.18" rx="1.34" ry="5.96" fill="#C83820" opacity="0.85"/><ellipse cx="1078.85" cy="508.38" rx="1.18" ry="7.15" fill="#28B428" opacity="0.85"/><ellipse cx="1084.91" cy="513.05" rx="1.06" ry="8.08" fill="#E8C818" opacity="0.85"/><ellipse cx="1087.89" cy="511.76" rx="1.75" ry="6.82" fill="#3A4A10" opacity="0.85"/><ellipse cx="1083.02" cy="511.97" rx="1.06" ry="7.53" fill="#30A830" opacity="0.85"/><ellipse cx="1080.83" cy="513.35" rx="1.24" ry="7.64" fill="#F0A010" opacity="0.85"/><ellipse cx="1076.86" cy="510.87" rx="1.93" ry="13.7" fill="#F4C812" opacity="0.85"/><ellipse cx="1090.35" cy="515.21" rx="1.63" ry="10.19" fill="#F0D010" opacity="0.85"/><ellipse cx="1083.7" cy="520.04" rx="1.58" ry="7.4" fill="#28B428" opacity="0.85"/><ellipse cx="1089.05" cy="516.76" rx="1.82" ry="9.87" fill="#1E7A20" opacity="0.85"/><ellipse cx="1085.16" cy="521.16" rx="1.3" ry="11.12" fill="#E86018" opacity="0.85"/><ellipse cx="1079.84" cy="524.05" rx="1.03" ry="9.21" fill="#28B428" opacity="0.85"/><ellipse cx="1089.49" cy="524.48" rx="1.74" ry="10.18" fill="#F0D010" opacity="0.85"/><ellipse cx="1087.22" cy="525.08" rx="1.99" ry="11.54" fill="#F0A010" opacity="0.85"/><ellipse cx="1085.63" cy="525" rx="1.2" ry="12.93" fill="#3A4A10" opacity="0.85"/><ellipse cx="1079.85" cy="528.35" rx="1.62" ry="7.13" fill="#C83820" opacity="0.85"/><ellipse cx="1085.84" cy="524.72" rx="1.13" ry="10.01" fill="#E86018" opacity="0.85"/><ellipse cx="1078.9" cy="531.46" rx="1.35" ry="6.39" fill="#28B428" opacity="0.85"/><ellipse cx="1085.81" cy="533" rx="2.14" ry="6.86" fill="#E08010" opacity="0.85"/><ellipse cx="1078.03" cy="532.61" rx="2" ry="8.74" fill="#F0A010" opacity="0.85"/><ellipse cx="1084.25" cy="536.72" rx="1.32" ry="7.34" fill="#30A830" opacity="0.85"/><ellipse cx="1082.54" cy="537.05" rx="1.42" ry="8.88" fill="#1E7A20" opacity="0.85"/><ellipse cx="1087.73" cy="536.2" rx="1.19" ry="10.71" fill="#C83820" opacity="0.85"/><ellipse cx="1087.2" cy="538.2" rx="1.05" ry="4.37" fill="#F0D010" opacity="0.85"/><ellipse cx="1078.85" cy="538.5" rx="2.02" ry="7.83" fill="#1E7A20" opacity="0.85"/><ellipse cx="1084.19" cy="538.82" rx="1.24" ry="4.98" fill="#28B428" opacity="0.85"/><ellipse cx="1080.42" cy="539.39" rx="1.48" ry="14.51" fill="#30A830" opacity="0.85"/><ellipse cx="1088.39" cy="539.56" rx="1.39" ry="10.56" fill="#F0A010" opacity="0.85"/><ellipse cx="1080.8" cy="544.07" rx="1.1" ry="15.91" fill="#F0D010" opacity="0.85"/><ellipse cx="1081.3" cy="544.78" rx="1.74" ry="18.12" fill="#28B428" opacity="0.85"/><ellipse cx="1088.85" cy="544.17" rx="1.86" ry="13.59" fill="#E8C818" opacity="0.85"/><ellipse cx="1089.37" cy="548.56" rx="2.09" ry="14.78" fill="#28B428" opacity="0.85"/><ellipse cx="1086.8" cy="553.07" rx="1.87" ry="4.06" fill="#C83820" opacity="0.85"/><ellipse cx="1088.98" cy="550.49" rx="1.49" ry="8.03" fill="#E8C818" opacity="0.85"/><ellipse cx="1088.54" cy="552.88" rx="1.32" ry="6.34" fill="#E8C818" opacity="0.85"/><ellipse cx="1090.5" cy="553.14" rx="2.09" ry="8.79" fill="#C83820" opacity="0.85"/><ellipse cx="1080.4" cy="556.08" rx="1.92" ry="10.56" fill="#30A830" opacity="0.85"/><ellipse cx="1086.4" cy="555.93" rx="1.06" ry="8.18" fill="#30A830" opacity="0.85"/><ellipse cx="1077.33" cy="560.78" rx="1.62" ry="6.37" fill="#F4C812" opacity="0.85"/><ellipse cx="1082.92" cy="562.57" rx="1.82" ry="6.75" fill="#C83820" opacity="0.85"/><ellipse cx="1084.09" cy="561.15" rx="1.9" ry="8.38" fill="#E8C818" opacity="0.85"/><ellipse cx="1077.75" cy="562.55" rx="1.65" ry="18.02" fill="#F08A10" opacity="0.85"/><ellipse cx="1075.98" cy="562.58" rx="2" ry="13.62" fill="#F08A10" opacity="0.85"/><ellipse cx="1083.74" cy="562.96" rx="1.31" ry="17.16" fill="#C83820" opacity="0.85"/><ellipse cx="1084.32" cy="572.88" rx="1.68" ry="8.08" fill="#E86018" opacity="0.85"/><ellipse cx="1090.88" cy="571.97" rx="1.61" ry="11.82" fill="#28B428" opacity="0.85"/><ellipse cx="1090.46" cy="569.22" rx="1.52" ry="10.79" fill="#1E7A20" opacity="0.85"/><ellipse cx="1085.15" cy="576.73" rx="1.22" ry="9.33" fill="#C83820" opacity="0.85"/><ellipse cx="1085.8" cy="575.53" rx="2.07" ry="12.97" fill="#E08010" opacity="0.85"/><ellipse cx="1077.69" cy="576.8" rx="2.03" ry="11.68" fill="#F08A10" opacity="0.85"/><ellipse cx="1089.09" cy="582.43" rx="1.3" ry="14.28" fill="#F0A010" opacity="0.85"/><ellipse cx="1082.53" cy="578.75" rx="1.81" ry="14.26" fill="#3A4A10" opacity="0.85"/><ellipse cx="1077.22" cy="579.02" rx="1.79" ry="13.89" fill="#F0A010" opacity="0.85"/><ellipse cx="1083.46" cy="586.98" rx="1.87" ry="8.3" fill="#30A830" opacity="0.85"/><ellipse cx="1074.52" cy="588.5" rx="1.58" ry="9.22" fill="#F0A010" opacity="0.85"/><ellipse cx="1083.82" cy="589.17" rx="1.45" ry="6.46" fill="#28B428" opacity="0.85"/><ellipse cx="1090.67" cy="587.94" rx="1.7" ry="13.81" fill="#28B428" opacity="0.85"/><ellipse cx="1081.06" cy="591.63" rx="1.46" ry="9.39" fill="#E08010" opacity="0.85"/><ellipse cx="1085.06" cy="589.9" rx="1.22" ry="9.35" fill="#1E7A20" opacity="0.85"/></g><g filter="url(#eb1)"><rect x="1093" y="375" width="5" height="215" fill="#1A140A" stroke="none" stroke-width="0" opacity="0.9"/></g></g><rect x="984.5" y="380.4" width="151.2" height="202.2" fill="#000" stroke="none" stroke-width="0" filter="url(#enoise)" opacity="0.3"/><text x="994.6" y="408.9" font-family='"Liberation Sans", "DejaVu Sans", sans-serif' font-size="22.5" font-weight="normal" fill="#fff" stroke="#fff" stroke-width="0.35" text-anchor="start" textLength="44.5" lengthAdjust="spacingAndGlyphs">20 V</text><rect x="1096.7" y="556.1" width="39" height="2.6" fill="#fff" stroke="none" stroke-width="0" /></g>
<g><clipPath id="ec5"><rect x="1142.9" y="382.5" width="151" height="202.1"/></clipPath><rect x="1142.9" y="382.5" width="151" height="202.1" fill="url(#e5g)" stroke="none" stroke-width="0" /><g clip-path="url(#ec5)"><g filter="url(#eb3)"><rect x="1194" y="375" width="50" height="215" fill="#6E7A1C" stroke="none" stroke-width="0" opacity="0.95"/><ellipse cx="1195.69" cy="378" rx="6.04" ry="10.11" fill="#A4CCB8" opacity="0.5"/><ellipse cx="1195.87" cy="391.48" rx="6.23" ry="8" fill="#A4CCB8" opacity="0.5"/><ellipse cx="1191.68" cy="402.14" rx="5.63" ry="12.54" fill="#A4CCB8" opacity="0.5"/><ellipse cx="1194.53" cy="418.86" rx="6.42" ry="10.44" fill="#A4CCB8" opacity="0.5"/><ellipse cx="1194.01" cy="432.79" rx="6.36" ry="9.8" fill="#A4CCB8" opacity="0.5"/><ellipse cx="1192.71" cy="445.86" rx="4.77" ry="10.58" fill="#A4CCB8" opacity="0.5"/><ellipse cx="1190.47" cy="459.96" rx="5.52" ry="9.57" fill="#A4CCB8" opacity="0.5"/><ellipse cx="1193.84" cy="472.72" rx="6.12" ry="11.3" fill="#A4CCB8" opacity="0.5"/><ellipse cx="1195" cy="487.79" rx="5.7" ry="12.68" fill="#A4CCB8" opacity="0.5"/><ellipse cx="1190.5" cy="504.69" rx="6.45" ry="6.84" fill="#A4CCB8" opacity="0.5"/><ellipse cx="1191.92" cy="513.82" rx="6.24" ry="8.05" fill="#A4CCB8" opacity="0.5"/><ellipse cx="1191.11" cy="524.55" rx="4.8" ry="11.4" fill="#A4CCB8" opacity="0.5"/><ellipse cx="1192.45" cy="539.75" rx="4.02" ry="7.75" fill="#A4CCB8" opacity="0.5"/><ellipse cx="1192.74" cy="550.08" rx="4.99" ry="9.78" fill="#A4CCB8" opacity="0.5"/><ellipse cx="1190.99" cy="563.12" rx="4.08" ry="7.34" fill="#A4CCB8" opacity="0.5"/><ellipse cx="1196.73" cy="572.9" rx="5.4" ry="12.28" fill="#A4CCB8" opacity="0.5"/><ellipse cx="1191.34" cy="589.27" rx="4.3" ry="6.89" fill="#A4CCB8" opacity="0.5"/></g><g filter="url(#eb2)"><ellipse cx="1196.81" cy="378" rx="6.1" ry="8.74" fill="#EEEA20" opacity="0.9"/><ellipse cx="1201.44" cy="386.74" rx="7.39" ry="11.51" fill="#E4D428" opacity="0.81"/><ellipse cx="1208.05" cy="398.25" rx="6.94" ry="9.8" fill="#F2F018" opacity="0.77"/><ellipse cx="1206.93" cy="408.05" rx="5.44" ry="9.22" fill="#EEEA20" opacity="0.61"/><ellipse cx="1202.21" cy="417.27" rx="6.26" ry="10.48" fill="#EEEA20" opacity="0.92"/><ellipse cx="1202.77" cy="427.74" rx="7.76" ry="11.92" fill="#E4D428" opacity="0.76"/><ellipse cx="1203.1" cy="439.66" rx="6.04" ry="9.55" fill="#F4F040" opacity="0.74"/><ellipse cx="1200.45" cy="449.21" rx="8.83" ry="12.14" fill="#EEEA20" opacity="0.64"/><ellipse cx="1205.96" cy="461.35" rx="7.49" ry="7.73" fill="#E4D428" opacity="0.92"/><ellipse cx="1206.14" cy="469.08" rx="6.41" ry="7.63" fill="#F4F040" opacity="0.75"/><ellipse cx="1208.96" cy="476.71" rx="8.48" ry="12.53" fill="#F2F018" opacity="0.9"/><ellipse cx="1206.1" cy="489.24" rx="5.91" ry="11.11" fill="#F2F018" opacity="0.88"/><ellipse cx="1197.09" cy="500.35" rx="5.47" ry="12.83" fill="#EEEA20" opacity="0.67"/><ellipse cx="1196.9" cy="513.18" rx="7.72" ry="10.99" fill="#F2F018" opacity="0.8"/><ellipse cx="1205.52" cy="524.17" rx="5.03" ry="13.97" fill="#EEEA20" opacity="0.74"/><ellipse cx="1207.39" cy="538.14" rx="5.55" ry="13.36" fill="#F2F018" opacity="0.87"/><ellipse cx="1198.94" cy="551.49" rx="7.23" ry="10.83" fill="#F2F018" opacity="0.72"/><ellipse cx="1208.5" cy="562.32" rx="7" ry="6.98" fill="#E4D428" opacity="0.94"/><ellipse cx="1207.7" cy="569.31" rx="5.07" ry="12.11" fill="#F2F018" opacity="0.77"/><ellipse cx="1200.61" cy="581.42" rx="7.1" ry="8.54" fill="#E4D428" opacity="0.63"/><ellipse cx="1206.52" cy="589.95" rx="6.08" ry="9.28" fill="#F2F018" opacity="0.78"/></g><g filter="url(#eb1b)"><ellipse cx="1218.04" cy="375.32" rx="1.61" ry="18.29" fill="#E8A018" opacity="0.8" transform="rotate(1.07 1218.04 376)"/><ellipse cx="1225.1" cy="377.9" rx="1.41" ry="10.4" fill="#1E8020" opacity="0.8" transform="rotate(-8.42 1225.1 376)"/><ellipse cx="1215.51" cy="373.9" rx="2.38" ry="18.45" fill="#F0C010" opacity="0.8" transform="rotate(-0.1 1215.51 376)"/><ellipse cx="1229.97" cy="374.26" rx="2.56" ry="12.44" fill="#6A3010" opacity="0.8" transform="rotate(-10.99 1229.97 376)"/><ellipse cx="1214.58" cy="374.77" rx="1.59" ry="20.03" fill="#30B030" opacity="0.8" transform="rotate(3.48 1214.58 376)"/><ellipse cx="1220.6" cy="378.68" rx="1.78" ry="19.6" fill="#2A5A18" opacity="0.8" transform="rotate(0.38 1220.6 382.35)"/><ellipse cx="1236.63" cy="383.28" rx="2.6" ry="20.16" fill="#38A020" opacity="0.8" transform="rotate(-0.05 1236.63 382.35)"/><ellipse cx="1236.28" cy="385.21" rx="2.53" ry="14" fill="#38A020" opacity="0.8" transform="rotate(-2.77 1236.28 382.35)"/><ellipse cx="1219.9" cy="380.23" rx="2.47" ry="21.31" fill="#2A5A18" opacity="0.8" transform="rotate(7.23 1219.9 382.35)"/><ellipse cx="1224.54" cy="386.07" rx="1.99" ry="15.74" fill="#38A020" opacity="0.8" transform="rotate(-5.28 1224.54 382.35)"/><ellipse cx="1212.62" cy="388.25" rx="2.16" ry="11.85" fill="#E8A018" opacity="0.8" transform="rotate(-1.81 1212.62 389.18)"/><ellipse cx="1235.53" cy="391.55" rx="2.91" ry="14.26" fill="#E06418" opacity="0.8" transform="rotate(-8.47 1235.53 389.18)"/><ellipse cx="1241.08" cy="385.91" rx="2.8" ry="20.09" fill="#2E4A12" opacity="0.8" transform="rotate(9.58 1241.08 389.18)"/><ellipse cx="1227.58" cy="385.21" rx="1.55" ry="19.83" fill="#38A020" opacity="0.8" transform="rotate(-1.41 1227.58 389.18)"/><ellipse cx="1216.38" cy="386.62" rx="2.97" ry="14.44" fill="#F0C010" opacity="0.8" transform="rotate(2.31 1216.38 389.18)"/><ellipse cx="1232.72" cy="393.51" rx="1.89" ry="19.86" fill="#38A020" opacity="0.8" transform="rotate(-4.72 1232.72 395.48)"/><ellipse cx="1237.94" cy="398.48" rx="2.69" ry="12.77" fill="#E0C810" opacity="0.8" transform="rotate(-1.19 1237.94 395.48)"/><ellipse cx="1237.81" cy="393.49" rx="2.09" ry="16.04" fill="#30B830" opacity="0.8" transform="rotate(-3.21 1237.81 395.48)"/><ellipse cx="1233.19" cy="391.73" rx="1.91" ry="16.53" fill="#30B830" opacity="0.8" transform="rotate(-5.27 1233.19 395.48)"/><ellipse cx="1237.83" cy="397.46" rx="2.95" ry="16.99" fill="#1E8020" opacity="0.8" transform="rotate(7.73 1237.83 395.48)"/><ellipse cx="1210.01" cy="399.62" rx="2.22" ry="7.81" fill="#28A428" opacity="0.8" transform="rotate(8.39 1210.01 402.16)"/><ellipse cx="1219.07" cy="402.3" rx="1.91" ry="7.18" fill="#2A5A18" opacity="0.8" transform="rotate(8.01 1219.07 402.16)"/><ellipse cx="1232.27" cy="400.96" rx="2.94" ry="10.34" fill="#E0C810" opacity="0.8" transform="rotate(0.76 1232.27 402.16)"/><ellipse cx="1225.41" cy="398.87" rx="2.12" ry="8.45" fill="#1E8020" opacity="0.8" transform="rotate(-4.19 1225.41 402.16)"/><ellipse cx="1230.31" cy="399.59" rx="2.94" ry="11.11" fill="#4A5A14" opacity="0.8" transform="rotate(-8.85 1230.31 402.16)"/><ellipse cx="1237.35" cy="405.01" rx="2.6" ry="7.63" fill="#E87410" opacity="0.8" transform="rotate(4 1237.35 406.21)"/><ellipse cx="1209.04" cy="406.94" rx="1.5" ry="9.11" fill="#E8A018" opacity="0.8" transform="rotate(2.01 1209.04 406.21)"/><ellipse cx="1220.19" cy="409.63" rx="2.45" ry="8.38" fill="#E8A018" opacity="0.8" transform="rotate(-8.02 1220.19 406.21)"/><ellipse cx="1230.9" cy="406.95" rx="2.09" ry="11.2" fill="#E0C810" opacity="0.8" transform="rotate(4.26 1230.9 406.21)"/><ellipse cx="1226.15" cy="402.3" rx="2.41" ry="7.07" fill="#E06418" opacity="0.8" transform="rotate(-3.91 1226.15 406.21)"/><ellipse cx="1242.79" cy="409.73" rx="2.56" ry="11.05" fill="#E87410" opacity="0.8" transform="rotate(-5.39 1242.79 409.91)"/><ellipse cx="1234.07" cy="406.81" rx="1.51" ry="9.7" fill="#E06418" opacity="0.8" transform="rotate(-7.89 1234.07 409.91)"/><ellipse cx="1213.93" cy="410.24" rx="1.6" ry="13.87" fill="#2A5A18" opacity="0.8" transform="rotate(-7.18 1213.93 409.91)"/><ellipse cx="1209.65" cy="408.96" rx="2.68" ry="12.87" fill="#2A5A18" opacity="0.8" transform="rotate(7.89 1209.65 409.91)"/><ellipse cx="1239.77" cy="413.2" rx="2.51" ry="14.13" fill="#30B830" opacity="0.8" transform="rotate(-5.07 1239.77 409.91)"/><ellipse cx="1240.24" cy="417.72" rx="2.23" ry="14.65" fill="#E87410" opacity="0.8" transform="rotate(-8.47 1240.24 415.81)"/><ellipse cx="1228.9" cy="412.71" rx="2.28" ry="16.29" fill="#30B830" opacity="0.8" transform="rotate(-6.06 1228.9 415.81)"/><ellipse cx="1236.69" cy="412.62" rx="1.76" ry="12.43" fill="#E88A10" opacity="0.8" transform="rotate(-1 1236.69 415.81)"/><ellipse cx="1211.68" cy="413.89" rx="1.94" ry="13.39" fill="#38A828" opacity="0.8" transform="rotate(-10.47 1211.68 415.81)"/><ellipse cx="1237.58" cy="417.06" rx="1.71" ry="11.06" fill="#28B428" opacity="0.8" transform="rotate(11.77 1237.58 415.81)"/><ellipse cx="1223.38" cy="423.08" rx="2.71" ry="13.97" fill="#2E4A12" opacity="0.8" transform="rotate(2.75 1223.38 421.36)"/><ellipse cx="1212.39" cy="421.75" rx="1.94" ry="16.58" fill="#2A5A18" opacity="0.8" transform="rotate(-2.92 1212.39 421.36)"/><ellipse cx="1221.05" cy="421.52" rx="2.01" ry="9.87" fill="#28A428" opacity="0.8" transform="rotate(4.84 1221.05 421.36)"/><ellipse cx="1219.78" cy="417.58" rx="2.25" ry="10.53" fill="#F0C010" opacity="0.8" transform="rotate(-0.4 1219.78 421.36)"/><ellipse cx="1242.07" cy="420.54" rx="2.65" ry="13.38" fill="#E09018" opacity="0.8" transform="rotate(-10.07 1242.07 421.36)"/><ellipse cx="1237.36" cy="427.18" rx="2.09" ry="8.5" fill="#4A5A14" opacity="0.8" transform="rotate(-3.1 1237.36 426.97)"/><ellipse cx="1210.8" cy="429.95" rx="1.94" ry="10.15" fill="#E8A018" opacity="0.8" transform="rotate(2.85 1210.8 426.97)"/><ellipse cx="1213.2" cy="425.87" rx="2.63" ry="14.02" fill="#F0C010" opacity="0.8" transform="rotate(6.08 1213.2 426.97)"/><ellipse cx="1240.72" cy="423.42" rx="2.68" ry="14.33" fill="#6A3010" opacity="0.8" transform="rotate(-6.63 1240.72 426.97)"/><ellipse cx="1232.97" cy="429.02" rx="2.27" ry="13.65" fill="#E06418" opacity="0.8" transform="rotate(0.39 1232.97 426.97)"/><ellipse cx="1218.74" cy="434.57" rx="2.33" ry="9.87" fill="#F0C010" opacity="0.8" transform="rotate(-8.1 1218.74 431.57)"/><ellipse cx="1238.98" cy="430.72" rx="2.35" ry="10.83" fill="#1E8020" opacity="0.8" transform="rotate(2.76 1238.98 431.57)"/><ellipse cx="1230.7" cy="427.62" rx="1.41" ry="11.65" fill="#E87410" opacity="0.8" transform="rotate(9.84 1230.7 431.57)"/><ellipse cx="1239.75" cy="428.12" rx="1.73" ry="14.28" fill="#E87410" opacity="0.8" transform="rotate(-1.43 1239.75 431.57)"/><ellipse cx="1220.17" cy="433.61" rx="2.87" ry="10.73" fill="#30B030" opacity="0.8" transform="rotate(-5.88 1220.17 431.57)"/><ellipse cx="1243.94" cy="440.43" rx="1.61" ry="8.14" fill="#E87410" opacity="0.8" transform="rotate(11.79 1243.94 436.6)"/><ellipse cx="1214.62" cy="438.59" rx="1.81" ry="11.32" fill="#50601A" opacity="0.8" transform="rotate(6.74 1214.62 436.6)"/><ellipse cx="1213.62" cy="439.66" rx="2.17" ry="5.86" fill="#38A828" opacity="0.8" transform="rotate(6.82 1213.62 436.6)"/><ellipse cx="1229.47" cy="433.9" rx="1.57" ry="9.95" fill="#4A5A14" opacity="0.8" transform="rotate(-9.69 1229.47 436.6)"/><ellipse cx="1220.55" cy="432.98" rx="1.65" ry="9.1" fill="#38A828" opacity="0.8" transform="rotate(4.37 1220.55 436.6)"/><ellipse cx="1215.02" cy="442.65" rx="2.57" ry="8.76" fill="#E8A018" opacity="0.8" transform="rotate(-2.62 1215.02 440.16)"/><ellipse cx="1232.89" cy="437.51" rx="1.5" ry="9.18" fill="#6A3010" opacity="0.8" transform="rotate(-0.83 1232.89 440.16)"/><ellipse cx="1236.21" cy="440.68" rx="2.94" ry="9.25" fill="#E09018" opacity="0.8" transform="rotate(1.46 1236.21 440.16)"/><ellipse cx="1239.54" cy="442.05" rx="2.58" ry="5.86" fill="#1E8020" opacity="0.8" transform="rotate(3.89 1239.54 440.16)"/><ellipse cx="1215.83" cy="439.13" rx="2.94" ry="8.82" fill="#2A5A18" opacity="0.8" transform="rotate(-2.8 1215.83 440.16)"/><ellipse cx="1221.68" cy="439.59" rx="2.84" ry="11.41" fill="#38A828" opacity="0.8" transform="rotate(-11.72 1221.68 443.39)"/><ellipse cx="1212.01" cy="440.19" rx="1.64" ry="11.84" fill="#38A828" opacity="0.8" transform="rotate(2.43 1212.01 443.39)"/><ellipse cx="1226.16" cy="440.96" rx="1.48" ry="11.53" fill="#E87410" opacity="0.8" transform="rotate(9.57 1226.16 443.39)"/><ellipse cx="1221.78" cy="444.95" rx="1.94" ry="9.28" fill="#A040A0" opacity="0.8" transform="rotate(-9.78 1221.78 443.39)"/><ellipse cx="1220.3" cy="445.62" rx="2.03" ry="14.82" fill="#F0C010" opacity="0.8" transform="rotate(-11.7 1220.3 443.39)"/><ellipse cx="1232.24" cy="452.58" rx="2.87" ry="8.15" fill="#E88A10" opacity="0.8" transform="rotate(5.73 1232.24 448.64)"/><ellipse cx="1236.09" cy="448.82" rx="2.95" ry="8.31" fill="#38A020" opacity="0.8" transform="rotate(6.05 1236.09 448.64)"/><ellipse cx="1242.53" cy="450.52" rx="1.47" ry="13.98" fill="#E09018" opacity="0.8" transform="rotate(10.93 1242.53 448.64)"/><ellipse cx="1221.34" cy="452.15" rx="2.09" ry="9.62" fill="#F0C010" opacity="0.8" transform="rotate(2.45 1221.34 448.64)"/><ellipse cx="1236.31" cy="445.03" rx="1.98" ry="10.79" fill="#38A020" opacity="0.8" transform="rotate(10.33 1236.31 448.64)"/><ellipse cx="1232.41" cy="455.81" rx="2.05" ry="7.75" fill="#2E4A12" opacity="0.8" transform="rotate(-5.34 1232.41 453.14)"/><ellipse cx="1221.74" cy="449.78" rx="2.88" ry="6.33" fill="#2A5A18" opacity="0.8" transform="rotate(-6.34 1221.74 453.14)"/><ellipse cx="1235.3" cy="452.86" rx="2.86" ry="7.7" fill="#E06418" opacity="0.8" transform="rotate(-7.64 1235.3 453.14)"/><ellipse cx="1236.12" cy="453" rx="2.82" ry="9.42" fill="#6A3010" opacity="0.8" transform="rotate(9.4 1236.12 453.14)"/><ellipse cx="1235.16" cy="455.76" rx="1.99" ry="9.83" fill="#4A5A14" opacity="0.8" transform="rotate(7.09 1235.16 453.14)"/><ellipse cx="1219.87" cy="453.48" rx="2.02" ry="12.95" fill="#F0C010" opacity="0.8" transform="rotate(9.73 1219.87 456.91)"/><ellipse cx="1236.18" cy="452.94" rx="2.69" ry="10.93" fill="#28B428" opacity="0.8" transform="rotate(6.06 1236.18 456.91)"/><ellipse cx="1224.99" cy="453.88" rx="2.42" ry="17.29" fill="#1E8020" opacity="0.8" transform="rotate(-0.98 1224.99 456.91)"/><ellipse cx="1212.25" cy="459.78" rx="1.77" ry="15.38" fill="#2A5A18" opacity="0.8" transform="rotate(-11.59 1212.25 456.91)"/><ellipse cx="1224.38" cy="455.63" rx="1.6" ry="11.53" fill="#E09018" opacity="0.8" transform="rotate(-4.55 1224.38 456.91)"/><ellipse cx="1211.1" cy="460.23" rx="1.73" ry="9.85" fill="#F0C010" opacity="0.8" transform="rotate(-6.3 1211.1 462.73)"/><ellipse cx="1239.36" cy="462.61" rx="1.43" ry="9.84" fill="#E88A10" opacity="0.8" transform="rotate(6.97 1239.36 462.73)"/><ellipse cx="1237.35" cy="466.63" rx="1.76" ry="9.87" fill="#28B428" opacity="0.8" transform="rotate(7.35 1237.35 462.73)"/><ellipse cx="1215.71" cy="459.95" rx="2.32" ry="7.72" fill="#50601A" opacity="0.8" transform="rotate(11.95 1215.71 462.73)"/><ellipse cx="1219.08" cy="459" rx="2.57" ry="9.96" fill="#30B030" opacity="0.8" transform="rotate(5.24 1219.08 462.73)"/><ellipse cx="1242.6" cy="463.7" rx="1.68" ry="18.92" fill="#4A5A14" opacity="0.8" transform="rotate(1.84 1242.6 465.96)"/><ellipse cx="1212.25" cy="464.59" rx="1.89" ry="11.18" fill="#38A828" opacity="0.8" transform="rotate(-8.4 1212.25 465.96)"/><ellipse cx="1218.68" cy="468.43" rx="1.58" ry="21.46" fill="#A040A0" opacity="0.8" transform="rotate(9.53 1218.68 465.96)"/><ellipse cx="1235.87" cy="468.91" rx="1.45" ry="16.93" fill="#38A020" opacity="0.8" transform="rotate(2.15 1235.87 465.96)"/><ellipse cx="1215.03" cy="466.25" rx="2.26" ry="19.73" fill="#38A828" opacity="0.8" transform="rotate(-10.63 1215.03 465.96)"/><ellipse cx="1227.35" cy="473.96" rx="2.51" ry="12.08" fill="#E0C810" opacity="0.8" transform="rotate(1.82 1227.35 472.68)"/><ellipse cx="1233.52" cy="475.86" rx="2.92" ry="18.67" fill="#6A3010" opacity="0.8" transform="rotate(-9.4 1233.52 472.68)"/><ellipse cx="1217.56" cy="473.69" rx="1.98" ry="18.82" fill="#2A5A18" opacity="0.8" transform="rotate(-0.87 1217.56 472.68)"/><ellipse cx="1229.64" cy="471.8" rx="2.3" ry="18.41" fill="#E09018" opacity="0.8" transform="rotate(9.79 1229.64 472.68)"/><ellipse cx="1228.3" cy="470.04" rx="2.19" ry="13.18" fill="#E0C810" opacity="0.8" transform="rotate(10.8 1228.3 472.68)"/><ellipse cx="1228.07" cy="481.46" rx="2.23" ry="11.13" fill="#E88A10" opacity="0.8" transform="rotate(6.71 1228.07 479.19)"/><ellipse cx="1230.54" cy="476" rx="2.2" ry="11.68" fill="#6A3010" opacity="0.8" transform="rotate(-1.21 1230.54 479.19)"/><ellipse cx="1222.05" cy="476.54" rx="2.07" ry="10.23" fill="#30B830" opacity="0.8" transform="rotate(9.54 1222.05 479.19)"/><ellipse cx="1214.99" cy="482.67" rx="1.89" ry="8.89" fill="#F0C010" opacity="0.8" transform="rotate(-4.45 1214.99 479.19)"/><ellipse cx="1219.64" cy="476.19" rx="2.19" ry="7.21" fill="#28A428" opacity="0.8" transform="rotate(-11.6 1219.64 479.19)"/><ellipse cx="1229.2" cy="484.4" rx="2.72" ry="16.58" fill="#E88A10" opacity="0.8" transform="rotate(0.85 1229.2 483.07)"/><ellipse cx="1213.51" cy="481.11" rx="1.44" ry="9.24" fill="#F0C010" opacity="0.8" transform="rotate(-3.82 1213.51 483.07)"/><ellipse cx="1222.08" cy="483.66" rx="2.67" ry="15.62" fill="#2E4A12" opacity="0.8" transform="rotate(5.08 1222.08 483.07)"/><ellipse cx="1234.15" cy="484.43" rx="2.7" ry="14.42" fill="#30B830" opacity="0.8" transform="rotate(0.96 1234.15 483.07)"/><ellipse cx="1238.29" cy="481.21" rx="2.56" ry="18.4" fill="#1E8020" opacity="0.8" transform="rotate(0.83 1238.29 483.07)"/><ellipse cx="1230.76" cy="486.05" rx="2.84" ry="9.65" fill="#6A3010" opacity="0.8" transform="rotate(-11.55 1230.76 488.83)"/><ellipse cx="1221.08" cy="485.45" rx="1.54" ry="6.94" fill="#38A828" opacity="0.8" transform="rotate(5.71 1221.08 488.83)"/><ellipse cx="1215.3" cy="488.64" rx="2.82" ry="10.17" fill="#E8A018" opacity="0.8" transform="rotate(8.44 1215.3 488.83)"/><ellipse cx="1220.72" cy="489.52" rx="2.49" ry="8.21" fill="#F0C010" opacity="0.8" transform="rotate(-6.65 1220.72 488.83)"/><ellipse cx="1237.61" cy="491.51" rx="1.5" ry="12.01" fill="#4A5A14" opacity="0.8" transform="rotate(-4.85 1237.61 488.83)"/><ellipse cx="1228.76" cy="493.08" rx="2.23" ry="13.14" fill="#E09018" opacity="0.8" transform="rotate(-2.51 1228.76 492.61)"/><ellipse cx="1229.18" cy="493.33" rx="2.95" ry="15.89" fill="#2E4A12" opacity="0.8" transform="rotate(0.24 1229.18 492.61)"/><ellipse cx="1213.24" cy="490.73" rx="1.64" ry="14.05" fill="#28A428" opacity="0.8" transform="rotate(-1.09 1213.24 492.61)"/><ellipse cx="1229.31" cy="492.76" rx="2.29" ry="11" fill="#2E4A12" opacity="0.8" transform="rotate(-6.32 1229.31 492.61)"/><ellipse cx="1221.12" cy="492.87" rx="1.86" ry="15.23" fill="#E8A018" opacity="0.8" transform="rotate(3.56 1221.12 492.61)"/><ellipse cx="1211.19" cy="497.63" rx="2.4" ry="12.1" fill="#F0C010" opacity="0.8" transform="rotate(-2.4 1211.19 497.63)"/><ellipse cx="1243.44" cy="495.38" rx="2.21" ry="10.57" fill="#E0C810" opacity="0.8" transform="rotate(11.52 1243.44 497.63)"/><ellipse cx="1218.11" cy="498" rx="2.72" ry="15.59" fill="#A040A0" opacity="0.8" transform="rotate(6.3 1218.11 497.63)"/><ellipse cx="1227.15" cy="496.9" rx="1.58" ry="14.93" fill="#38A020" opacity="0.8" transform="rotate(4.62 1227.15 497.63)"/><ellipse cx="1216.83" cy="501.56" rx="1.82" ry="17.59" fill="#E8A018" opacity="0.8" transform="rotate(7.77 1216.83 497.63)"/><ellipse cx="1210.99" cy="504.12" rx="1.42" ry="16.16" fill="#E8A018" opacity="0.8" transform="rotate(-0.23 1210.99 503.36)"/><ellipse cx="1240.52" cy="507" rx="2.96" ry="9.03" fill="#E87410" opacity="0.8" transform="rotate(-6.02 1240.52 503.36)"/><ellipse cx="1221.31" cy="500.66" rx="2.9" ry="9.43" fill="#28A428" opacity="0.8" transform="rotate(-5.56 1221.31 503.36)"/><ellipse cx="1209.98" cy="500.36" rx="2.78" ry="14.8" fill="#50601A" opacity="0.8" transform="rotate(-3.2 1209.98 503.36)"/><ellipse cx="1220.71" cy="500.23" rx="2" ry="9.33" fill="#28A428" opacity="0.8" transform="rotate(3.49 1220.71 503.36)"/><ellipse cx="1233.43" cy="507.07" rx="2.47" ry="8" fill="#E0C810" opacity="0.8" transform="rotate(5.01 1233.43 508.87)"/><ellipse cx="1235.39" cy="509.02" rx="1.6" ry="7.12" fill="#E09018" opacity="0.8" transform="rotate(-6.8 1235.39 508.87)"/><ellipse cx="1240.27" cy="510.4" rx="2.73" ry="8.12" fill="#2E4A12" opacity="0.8" transform="rotate(10.18 1240.27 508.87)"/><ellipse cx="1215.88" cy="509.06" rx="2.45" ry="8.53" fill="#2A5A18" opacity="0.8" transform="rotate(0.37 1215.88 508.87)"/><ellipse cx="1239.87" cy="511.6" rx="2.45" ry="7.41" fill="#28B428" opacity="0.8" transform="rotate(-0.24 1239.87 508.87)"/><ellipse cx="1210.02" cy="509.2" rx="2.89" ry="13.86" fill="#A040A0" opacity="0.8" transform="rotate(3.77 1210.02 513)"/><ellipse cx="1221.96" cy="509.24" rx="1.96" ry="11.84" fill="#A040A0" opacity="0.8" transform="rotate(10.86 1221.96 513)"/><ellipse cx="1234.45" cy="516.77" rx="2.53" ry="15.93" fill="#E88A10" opacity="0.8" transform="rotate(4.81 1234.45 513)"/><ellipse cx="1224.24" cy="509.32" rx="2.6" ry="8.29" fill="#E09018" opacity="0.8" transform="rotate(-9.86 1224.24 513)"/><ellipse cx="1210.77" cy="514.05" rx="2.27" ry="14.41" fill="#50601A" opacity="0.8" transform="rotate(11.77 1210.77 513)"/><ellipse cx="1225.56" cy="516.75" rx="2.22" ry="15.3" fill="#28B428" opacity="0.8" transform="rotate(-9.79 1225.56 518.11)"/><ellipse cx="1241.52" cy="515.98" rx="2.15" ry="11.05" fill="#28B428" opacity="0.8" transform="rotate(7.41 1241.52 518.11)"/><ellipse cx="1211.27" cy="514.29" rx="1.51" ry="13.49" fill="#2A5A18" opacity="0.8" transform="rotate(-4.28 1211.27 518.11)"/><ellipse cx="1227" cy="514.3" rx="1.64" ry="17.44" fill="#28B428" opacity="0.8" transform="rotate(-7.27 1227 518.11)"/><ellipse cx="1233.71" cy="515.01" rx="2.84" ry="16.15" fill="#1E8020" opacity="0.8" transform="rotate(6.66 1233.71 518.11)"/><ellipse cx="1242.72" cy="520.87" rx="1.81" ry="15.23" fill="#E06418" opacity="0.8" transform="rotate(-9.16 1242.72 523.92)"/><ellipse cx="1211.34" cy="524.7" rx="2.07" ry="10.57" fill="#A040A0" opacity="0.8" transform="rotate(-7.59 1211.34 523.92)"/><ellipse cx="1218.55" cy="523.4" rx="2.08" ry="14.75" fill="#2A5A18" opacity="0.8" transform="rotate(1.59 1218.55 523.92)"/><ellipse cx="1238.36" cy="526.28" rx="1.87" ry="13.19" fill="#38A020" opacity="0.8" transform="rotate(-2.79 1238.36 523.92)"/><ellipse cx="1223.04" cy="522.58" rx="2.94" ry="15.65" fill="#30B830" opacity="0.8" transform="rotate(-5.56 1223.04 523.92)"/><ellipse cx="1224.04" cy="532.98" rx="1.49" ry="10.18" fill="#E09018" opacity="0.8" transform="rotate(-9.57 1224.04 529.57)"/><ellipse cx="1231.1" cy="526.61" rx="2.02" ry="13.69" fill="#4A5A14" opacity="0.8" transform="rotate(7.07 1231.1 529.57)"/><ellipse cx="1210.17" cy="531.7" rx="2.41" ry="14.81" fill="#A040A0" opacity="0.8" transform="rotate(-4.64 1210.17 529.57)"/><ellipse cx="1214.82" cy="530.33" rx="1.45" ry="14.58" fill="#2A5A18" opacity="0.8" transform="rotate(-4.83 1214.82 529.57)"/><ellipse cx="1235.43" cy="529.78" rx="2" ry="13.51" fill="#1E8020" opacity="0.8" transform="rotate(8.91 1235.43 529.57)"/><ellipse cx="1228.81" cy="532.35" rx="2.98" ry="15.91" fill="#E09018" opacity="0.8" transform="rotate(11.8 1228.81 534.3)"/><ellipse cx="1239.98" cy="531.45" rx="1.95" ry="18.14" fill="#E87410" opacity="0.8" transform="rotate(3.13 1239.98 534.3)"/><ellipse cx="1220.6" cy="536.9" rx="2.53" ry="20.87" fill="#E8A018" opacity="0.8" transform="rotate(-8.75 1220.6 534.3)"/><ellipse cx="1223.46" cy="534.88" rx="2.7" ry="14.36" fill="#38A020" opacity="0.8" transform="rotate(3.3 1223.46 534.3)"/><ellipse cx="1222.73" cy="535.85" rx="2.44" ry="13.94" fill="#E88A10" opacity="0.8" transform="rotate(-3.75 1222.73 534.3)"/><ellipse cx="1224.82" cy="542.22" rx="1.94" ry="8.8" fill="#4A5A14" opacity="0.8" transform="rotate(-0.21 1224.82 541.27)"/><ellipse cx="1242.53" cy="544.82" rx="1.58" ry="10.81" fill="#E09018" opacity="0.8" transform="rotate(2.24 1242.53 541.27)"/><ellipse cx="1226.43" cy="544.7" rx="1.86" ry="9.52" fill="#38A020" opacity="0.8" transform="rotate(-3.16 1226.43 541.27)"/><ellipse cx="1218.11" cy="540.38" rx="1.51" ry="7.4" fill="#2A5A18" opacity="0.8" transform="rotate(-3.5 1218.11 541.27)"/><ellipse cx="1213.56" cy="541.25" rx="1.93" ry="9.98" fill="#30B030" opacity="0.8" transform="rotate(4.61 1213.56 541.27)"/><ellipse cx="1225.66" cy="541.89" rx="1.43" ry="18.05" fill="#30B830" opacity="0.8" transform="rotate(-1.59 1225.66 544.79)"/><ellipse cx="1215.8" cy="542.92" rx="2.17" ry="18.27" fill="#E8A018" opacity="0.8" transform="rotate(4.67 1215.8 544.79)"/><ellipse cx="1214.94" cy="547.77" rx="2.08" ry="11.99" fill="#38A828" opacity="0.8" transform="rotate(2.2 1214.94 544.79)"/><ellipse cx="1212.17" cy="547.12" rx="2.1" ry="15.34" fill="#28A428" opacity="0.8" transform="rotate(-0.16 1212.17 544.79)"/><ellipse cx="1222.97" cy="544.11" rx="2.07" ry="20.03" fill="#2E4A12" opacity="0.8" transform="rotate(-0.7 1222.97 544.79)"/><ellipse cx="1226.44" cy="553.86" rx="2.04" ry="13.52" fill="#E0C810" opacity="0.8" transform="rotate(11.05 1226.44 551.23)"/><ellipse cx="1236.62" cy="547.92" rx="2.37" ry="14.04" fill="#E87410" opacity="0.8" transform="rotate(2.11 1236.62 551.23)"/><ellipse cx="1224.96" cy="553.03" rx="1.94" ry="7.29" fill="#28B428" opacity="0.8" transform="rotate(9.95 1224.96 551.23)"/><ellipse cx="1224.69" cy="554.18" rx="2.75" ry="13.36" fill="#E87410" opacity="0.8" transform="rotate(8.5 1224.69 551.23)"/><ellipse cx="1210.18" cy="553.29" rx="2.66" ry="7.95" fill="#38A828" opacity="0.8" transform="rotate(2.8 1210.18 551.23)"/><ellipse cx="1222.3" cy="555.3" rx="2.24" ry="8.36" fill="#E0C810" opacity="0.8" transform="rotate(-2.37 1222.3 555.78)"/><ellipse cx="1216.93" cy="554.26" rx="2.42" ry="10.48" fill="#30B030" opacity="0.8" transform="rotate(11.29 1216.93 555.78)"/><ellipse cx="1226.74" cy="554.77" rx="1.58" ry="9.57" fill="#E06418" opacity="0.8" transform="rotate(-10.44 1226.74 555.78)"/><ellipse cx="1226.07" cy="559.02" rx="2.29" ry="7.7" fill="#28B428" opacity="0.8" transform="rotate(-4.22 1226.07 555.78)"/><ellipse cx="1225.27" cy="556.84" rx="2.73" ry="9.92" fill="#6A3010" opacity="0.8" transform="rotate(3.84 1225.27 555.78)"/><ellipse cx="1227.42" cy="558.99" rx="1.59" ry="9.38" fill="#38A020" opacity="0.8" transform="rotate(6.85 1227.42 560.12)"/><ellipse cx="1220.12" cy="557.02" rx="2.79" ry="8.62" fill="#28A428" opacity="0.8" transform="rotate(9.87 1220.12 560.12)"/><ellipse cx="1221.69" cy="562.6" rx="2.24" ry="9.48" fill="#E8A018" opacity="0.8" transform="rotate(3.26 1221.69 560.12)"/><ellipse cx="1226.52" cy="558.22" rx="2.11" ry="6.94" fill="#E09018" opacity="0.8" transform="rotate(-9.14 1226.52 560.12)"/><ellipse cx="1242.85" cy="562.85" rx="2.03" ry="5.15" fill="#1E8020" opacity="0.8" transform="rotate(7.86 1242.85 560.12)"/><ellipse cx="1232.27" cy="561.16" rx="2.56" ry="10.59" fill="#6A3010" opacity="0.8" transform="rotate(10.04 1232.27 563.18)"/><ellipse cx="1214.34" cy="561.37" rx="2.95" ry="17.32" fill="#E8A018" opacity="0.8" transform="rotate(4.75 1214.34 563.18)"/><ellipse cx="1241.72" cy="565.88" rx="2.52" ry="11.15" fill="#E09018" opacity="0.8" transform="rotate(9.64 1241.72 563.18)"/><ellipse cx="1235.67" cy="562.94" rx="1.96" ry="11.54" fill="#E0C810" opacity="0.8" transform="rotate(-9 1235.67 563.18)"/><ellipse cx="1235.25" cy="562.79" rx="2.36" ry="17.05" fill="#1E8020" opacity="0.8" transform="rotate(-5.12 1235.25 563.18)"/><ellipse cx="1218.23" cy="568.92" rx="1.5" ry="8.87" fill="#38A828" opacity="0.8" transform="rotate(-10.13 1218.23 568.74)"/><ellipse cx="1232.53" cy="570.96" rx="1.98" ry="11.26" fill="#E06418" opacity="0.8" transform="rotate(2.56 1232.53 568.74)"/><ellipse cx="1217.33" cy="569.33" rx="1.75" ry="7.17" fill="#38A828" opacity="0.8" transform="rotate(7.74 1217.33 568.74)"/><ellipse cx="1212.23" cy="564.95" rx="1.73" ry="6.79" fill="#38A828" opacity="0.8" transform="rotate(11.61 1212.23 568.74)"/><ellipse cx="1211.41" cy="571.86" rx="2.32" ry="11.14" fill="#30B030" opacity="0.8" transform="rotate(-9.08 1211.41 568.74)"/><ellipse cx="1234.5" cy="570.3" rx="2.36" ry="18.06" fill="#2E4A12" opacity="0.8" transform="rotate(-1.09 1234.5 572.3)"/><ellipse cx="1213.35" cy="572.45" rx="1.82" ry="9.77" fill="#E8A018" opacity="0.8" transform="rotate(6.55 1213.35 572.3)"/><ellipse cx="1233.5" cy="569.47" rx="1.77" ry="17.19" fill="#E06418" opacity="0.8" transform="rotate(-7.78 1233.5 572.3)"/><ellipse cx="1212.58" cy="568.99" rx="2.92" ry="16.95" fill="#28A428" opacity="0.8" transform="rotate(7.23 1212.58 572.3)"/><ellipse cx="1240.18" cy="574.03" rx="2.44" ry="10.54" fill="#2E4A12" opacity="0.8" transform="rotate(-3.35 1240.18 572.3)"/><ellipse cx="1236.55" cy="579.29" rx="2.85" ry="8.84" fill="#2E4A12" opacity="0.8" transform="rotate(0.76 1236.55 578.39)"/><ellipse cx="1232.29" cy="581.58" rx="1.64" ry="5.74" fill="#4A5A14" opacity="0.8" transform="rotate(-3.99 1232.29 578.39)"/><ellipse cx="1222.45" cy="575.94" rx="1.44" ry="8.76" fill="#E09018" opacity="0.8" transform="rotate(11.38 1222.45 578.39)"/><ellipse cx="1242.03" cy="579.88" rx="2.82" ry="5.68" fill="#28B428" opacity="0.8" transform="rotate(-3.67 1242.03 578.39)"/><ellipse cx="1229.42" cy="578.27" rx="2.29" ry="6.83" fill="#38A020" opacity="0.8" transform="rotate(-0.04 1229.42 578.39)"/><ellipse cx="1214.4" cy="578.91" rx="2.14" ry="9.75" fill="#30B030" opacity="0.8" transform="rotate(-8.57 1214.4 581.92)"/><ellipse cx="1229.05" cy="583.44" rx="2.51" ry="13.17" fill="#2E4A12" opacity="0.8" transform="rotate(-11.89 1229.05 581.92)"/><ellipse cx="1213.67" cy="580.62" rx="1.8" ry="10.84" fill="#2A5A18" opacity="0.8" transform="rotate(11.31 1213.67 581.92)"/><ellipse cx="1227.61" cy="579.3" rx="1.95" ry="13.94" fill="#E87410" opacity="0.8" transform="rotate(-4.18 1227.61 581.92)"/><ellipse cx="1234.91" cy="584.44" rx="2.13" ry="14.54" fill="#28B428" opacity="0.8" transform="rotate(-6.28 1234.91 581.92)"/><ellipse cx="1238.09" cy="589.41" rx="2.71" ry="16.15" fill="#E88A10" opacity="0.8" transform="rotate(-4.4 1238.09 587.03)"/><ellipse cx="1218.88" cy="589.53" rx="2.78" ry="16.04" fill="#28A428" opacity="0.8" transform="rotate(-3.49 1218.88 587.03)"/><ellipse cx="1218.61" cy="584.61" rx="2.06" ry="15.12" fill="#A040A0" opacity="0.8" transform="rotate(-7.17 1218.61 587.03)"/><ellipse cx="1238.2" cy="584.12" rx="2.81" ry="13.53" fill="#6A3010" opacity="0.8" transform="rotate(-4 1238.2 587.03)"/><ellipse cx="1226.66" cy="590.98" rx="2.03" ry="16.5" fill="#E88A10" opacity="0.8" transform="rotate(10.95 1226.66 587.03)"/><ellipse cx="1194" cy="545" rx="2.5" ry="5" fill="#203080"/></g><g filter="url(#eb2)"><rect x="1247" y="375" width="6" height="215" fill="#17130A" stroke="none" stroke-width="0" opacity="0.9"/></g></g><rect x="1142.9" y="382.5" width="151" height="202.1" fill="#000" stroke="none" stroke-width="0" filter="url(#enoise)" opacity="0.3"/><text x="1158.4" y="410.4" font-family='"Liberation Sans", "DejaVu Sans", sans-serif' font-size="22.5" font-weight="normal" fill="#fff" stroke="#fff" stroke-width="0.35" text-anchor="start" textLength="44.5" lengthAdjust="spacingAndGlyphs">30 V</text><rect x="1252.2" y="556" width="39" height="2.6" fill="#fff" stroke="none" stroke-width="0" /></g>
</g>
<g id="pf">
<defs>
<linearGradient id="rod1" x1="0" x2="1" y1="0" y2="0"><stop offset="0" stop-color="#DADADA"/><stop offset="0.25" stop-color="#BEBEBE"/><stop offset="0.7" stop-color="#ADADAD"/><stop offset="1" stop-color="#C8C8C8"/></linearGradient>
<linearGradient id="rod2" x1="0" x2="1" y1="0" y2="0"><stop offset="0" stop-color="#DCDCDC"/><stop offset="0.2" stop-color="#F6F6F6"/><stop offset="0.6" stop-color="#EDEDED"/><stop offset="0.85" stop-color="#D0D0D0"/><stop offset="1" stop-color="#B4B4B4"/></linearGradient>
<linearGradient id="rod3" x1="0" x2="1" y1="0" y2="0"><stop offset="0" stop-color="#D0D0D0"/><stop offset="0.2" stop-color="#F4F4F4"/><stop offset="0.65" stop-color="#ECECEC"/><stop offset="1" stop-color="#C0C0C0"/></linearGradient>
<linearGradient id="coneg" x1="0" x2="1" y1="0" y2="0"><stop offset="0" stop-color="#CFCFD4"/><stop offset="0.5" stop-color="#E2E4EA"/><stop offset="1" stop-color="#F0F2F8"/></linearGradient>
<linearGradient id="gelfront" x1="0" x2="1" y1="0" y2="0"><stop offset="0" stop-color="#CBE6F6"/><stop offset="0.35" stop-color="#7CC8EE"/><stop offset="0.7" stop-color="#2CACE8"/><stop offset="1" stop-color="#16A0E4"/></linearGradient>
<linearGradient id="gelside" x1="0" x2="1" y1="0" y2="0"><stop offset="0" stop-color="#DDEAF7"/><stop offset="1" stop-color="#C4E0F4"/></linearGradient>
<linearGradient id="geltop" x1="0" x2="1" y1="0" y2="0"><stop offset="0" stop-color="#DCE8F6"/><stop offset="0.5" stop-color="#B0D8F0"/><stop offset="1" stop-color="#2CA8E6"/></linearGradient>
<linearGradient id="elecF" x1="0" x2="1" y1="0" y2="0"><stop offset="0" stop-color="#FFFFFF"/><stop offset="0.25" stop-color="#F0F0F0"/><stop offset="0.6" stop-color="#A8A8A8"/><stop offset="1" stop-color="#5A5A5A"/></linearGradient>
<linearGradient id="elecFt" x1="0" x2="1" y1="0" y2="1"><stop offset="0" stop-color="#FFFFFF"/><stop offset="0.45" stop-color="#D8D8D8"/><stop offset="1" stop-color="#686868"/></linearGradient>
<linearGradient id="netfade" x1="333" x2="428" y1="0" y2="0" gradientUnits="userSpaceOnUse"><stop offset="0" stop-color="#fff" stop-opacity="1"/><stop offset="0.45" stop-color="#fff" stop-opacity="0.9"/><stop offset="0.8" stop-color="#fff" stop-opacity="0.3"/><stop offset="1" stop-color="#fff" stop-opacity="0.05"/></linearGradient>
<mask id="netmask" maskUnits="userSpaceOnUse" x="320" y="660" width="140" height="260"><rect x="320" y="660" width="140" height="260" fill="url(#netfade)"/></mask>
<filter id="fblur"><feGaussianBlur stdDeviation="0.5"/></filter>
<clipPath id="circF"><ellipse cx="181" cy="791.5" rx="121.5" ry="114.5"/></clipPath>
<marker id="ah" viewBox="0 0 10 10" refX="6" refY="5" markerWidth="5" markerHeight="5" orient="auto-start-reverse"><path d="M0 0L10 5L0 10L3 5Z" fill="#000"/></marker>
</defs>
<rect x="52.1" y="653.8" width="408.8" height="264" fill="#D9E2F4" stroke="none" stroke-width="0" />
<path d="M283 727L334 774V806L296 858Z" fill="url(#coneg)" opacity="0.9"/>
<path d="M283 727L334 774M296 858L334 806" stroke="#F4F4F4" stroke-width="1" fill="none"/>
<ellipse cx="181" cy="791.5" rx="122" ry="115" fill="#fff" stroke="#D2D2D2" stroke-width="1.6"/>
<g clip-path="url(#circF)"><g transform="translate(130.9 722) rotate(-10.4)"><path d="M-17 0L17 0L17.5 186.06L-17.5 186.06Z" fill="url(#rod1)"/><ellipse cx="0" cy="0" rx="17" ry="5.44" fill="#C9C9C9"/></g><g transform="translate(250.7 723.5) rotate(3.02)"><path d="M-19.5 0L19.5 0L15.5 165.03L-15.5 165.03Z" fill="url(#rod3)"/></g><g transform="translate(191.3 731.7) rotate(-4.05)"><path d="M-11 0L11 0L19.75 165.71L-19.75 165.71Z" fill="url(#rod2)"/><ellipse cx="0" cy="0" rx="11" ry="3.52" fill="#E8E8E8"/><ellipse cx="0" cy="165.71" rx="19.75" ry="6.72" fill="#7E7E7E"/></g><path d="M165 737L176 812" stroke="#E0D8CC" stroke-width="1.2"/></g>
<g><circle cx="116.72" cy="738.51" r="5.3" fill="none" stroke="#F0861A" stroke-width="1.35"/><path d="M116.42 735.61L117.02 741.41" stroke="#F0861A" stroke-width="1.3"/><path d="M127.07 730.88Q123.87 732.49 127.17 733.88Q130.47 735.27 127.28 736.88Q124.08 738.49 127.38 739.88Q130.68 741.26 127.49 742.88Q124.29 744.49 127.59 745.87Q130.89 747.26 127.7 748.87Q124.5 750.48 127.8 751.87" fill="none" stroke="#111" stroke-width="1.45"/><text transform="translate(128.98 754.04) rotate(-90)" x="0" y="2.72" font-family='"Liberation Sans", sans-serif' font-size="7.55" font-weight="bold" fill="#111" text-anchor="middle">N</text><circle cx="139.87" cy="754.85" r="5.3" fill="none" stroke="#F0861A" stroke-width="1.35"/><path d="M139.57 751.95L140.17 757.75" stroke="#F0861A" stroke-width="1.3"/><path d="M129.25 758.39L130.61 767.65" stroke="#111" stroke-width="1.35"/><path d="M130.35 791.65 L120.82 785.22 L121.62 773.74 L131.96 768.7 L141.49 775.13 L140.69 786.61Z" fill="none" stroke="#111" stroke-width="1.35"/><path d="M130.61 787.98L124.13 783.6" stroke="#111" stroke-width="1.05"/><path d="M124.67 775.8L131.7 772.37" stroke="#111" stroke-width="1.05"/><path d="M138.18 776.75L137.64 784.55" stroke="#111" stroke-width="1.05"/><path d="M132.24 791.61L132.79 799.24" stroke="#111" stroke-width="1.35"/><text transform="translate(130.61 807.41) rotate(-80)" font-family='"Liberation Sans", sans-serif' font-size="7.8" font-weight="bold" fill="#111">N</text><text transform="translate(124.89 813.4) rotate(-80)" font-family='"Liberation Sans", sans-serif' font-size="7.8" font-weight="bold" fill="#111">H</text><path d="M136.6 806.59L143.95 812.58" stroke="#111" stroke-width="1.35"/><path d="M144.56 813.38L151.37 808.2" stroke="#111" stroke-width="1.1"/><path d="M143.35 811.79L150.16 806.61" stroke="#111" stroke-width="1.1"/><text transform="translate(153.49 805.69) rotate(-90)" x="0" y="2.8" font-family='"Liberation Sans", sans-serif' font-size="7.79" font-weight="bold" fill="#111" text-anchor="middle">O</text><path d="M157.73 805.26L157.41 806.83" stroke="#111" stroke-width="1.15"/><path d="M160.25 805.41L159.8 807.67" stroke="#111" stroke-width="1.15"/><path d="M162.77 805.55L162.18 808.5" stroke="#111" stroke-width="1.15"/><path d="M165.29 805.7L164.56 809.34" stroke="#111" stroke-width="1.15"/><path d="M167.81 805.84L166.94 810.17" stroke="#111" stroke-width="1.15"/><path d="M170.33 805.99L169.32 811.01" stroke="#111" stroke-width="1.15"/><path d="M143.95 812.58L144.5 826.47" stroke="#111" stroke-width="1.35"/><path d="M145.04 850.22 L135.25 843.63 L136.08 831.85 L146.68 826.68 L156.47 833.28 L155.64 845.05Z" fill="none" stroke="#111" stroke-width="1.35"/><path d="M145.3 846.46L138.65 841.97" stroke="#111" stroke-width="1.05"/><path d="M139.21 833.97L146.42 830.45" stroke="#111" stroke-width="1.05"/><path d="M153.07 834.94L152.51 842.94" stroke="#111" stroke-width="1.05"/><path d="M147.22 850.44L148.04 862.96" stroke="#111" stroke-width="1.35"/><path d="M147.52 862.11L139.35 867.01" stroke="#111" stroke-width="1.1"/><path d="M148.55 863.82L140.38 868.72" stroke="#111" stroke-width="1.1"/><text transform="translate(137.15 868.41) rotate(-90)" x="0" y="2.72" font-family='"Liberation Sans", sans-serif' font-size="7.55" font-weight="bold" fill="#111" text-anchor="middle">O</text><path d="M148.04 862.96L156.75 866.5" stroke="#111" stroke-width="1.35"/><text transform="translate(159.48 866.78) rotate(-90)" x="0" y="2.72" font-family='"Liberation Sans", sans-serif' font-size="7.55" font-weight="bold" fill="#111" text-anchor="middle">N</text><path d="M158.93 871.13Q155.97 873.03 159.4 873.81Q162.84 874.58 159.88 876.48Q156.91 878.38 160.35 879.15Q163.78 879.92 160.82 881.83Q157.85 883.73 161.29 884.5Q164.73 885.27 161.76 887.17Q158.8 889.07 162.23 889.84" fill="none" stroke="#111" stroke-width="1.45"/><circle cx="150.76" cy="883.12" r="5.3" fill="none" stroke="#F0861A" stroke-width="1.35"/><path d="M150.46 880.22L151.06 886.02" stroke="#F0861A" stroke-width="1.3"/><circle cx="195.97" cy="729.52" r="5.3" fill="none" stroke="#F0861A" stroke-width="1.35"/><path d="M195.67 726.62L196.27 732.42" stroke="#F0861A" stroke-width="1.3"/><path d="M195.97 734.97Q192.61 736.11 195.72 737.81Q198.83 739.52 195.47 740.66Q192.11 741.8 195.22 743.51Q198.34 745.21 194.97 746.35Q191.61 747.49 194.72 749.2Q197.84 750.91 194.48 752.04Q191.11 753.18 194.23 754.89" fill="none" stroke="#111" stroke-width="1.45"/><text transform="translate(196.51 761.11) rotate(-90)" font-family='"Liberation Sans", sans-serif' font-size="7.4" font-weight="bold" fill="#111">N</text><text transform="translate(191.61 761.11) rotate(-90)" font-family='"Liberation Sans", sans-serif' font-size="7.4" font-weight="bold" fill="#111">H</text><path d="M194.61 762.2L194.61 770.37" stroke="#111" stroke-width="1.35"/><path d="M194.61 792.54 L185.08 787.04 L185.08 776.04 L194.61 770.54 L204.13 776.04 L204.13 787.04Z" fill="none" stroke="#111" stroke-width="1.35"/><path d="M194.61 789.02L188.13 785.28" stroke="#111" stroke-width="1.05"/><path d="M188.13 777.8L194.61 774.06" stroke="#111" stroke-width="1.05"/><path d="M201.09 777.8L201.09 785.28" stroke="#111" stroke-width="1.05"/><path d="M194.61 792.7L193.79 801.14" stroke="#111" stroke-width="1.35"/><text transform="translate(193.52 803.87) rotate(-90)" x="0" y="2.72" font-family='"Liberation Sans", sans-serif' font-size="7.55" font-weight="bold" fill="#1A1AE0" text-anchor="middle">N</text><text transform="translate(184.53 809.93) rotate(-90)" x="0" y="2.38" font-family='"Liberation Sans", sans-serif' font-size="6.61" font-weight="bold" fill="#1A1AE0" text-anchor="middle">H</text><path d="M187.53 808.77L190.25 806.59" stroke="#1A1AE0" stroke-width="0.8"/><path d="M196.51 807.41L201.42 812.85" stroke="#111" stroke-width="1.35"/><path d="M201.92 813.72L209 809.64" stroke="#111" stroke-width="1.1"/><path d="M200.92 811.99L208 807.9" stroke="#111" stroke-width="1.1"/><text transform="translate(211.49 806.87) rotate(-90)" x="0" y="2.72" font-family='"Liberation Sans", sans-serif' font-size="7.55" font-weight="bold" fill="#111" text-anchor="middle">O</text><path d="M224.29 808.21L224.29 806.61" stroke="#111" stroke-width="1.15"/><path d="M222.44 808.56L222.44 806.26" stroke="#111" stroke-width="1.15"/><path d="M220.59 808.91L220.59 805.9" stroke="#111" stroke-width="1.15"/><path d="M218.74 809.26L218.74 805.55" stroke="#111" stroke-width="1.15"/><path d="M216.88 809.62L216.88 805.2" stroke="#111" stroke-width="1.15"/><path d="M215.03 809.97L215.03 804.85" stroke="#111" stroke-width="1.15"/><text transform="translate(228.38 806.39) rotate(-90)" x="0" y="2.38" font-family='"Liberation Sans", sans-serif' font-size="6.61" font-weight="bold" fill="#1A1AE0" text-anchor="middle">H</text><path d="M201.42 812.85L200.6 825.65" stroke="#111" stroke-width="1.35"/><path d="M200.6 849.41 L190.64 843.66 L190.64 832.16 L200.6 826.41 L210.56 832.16 L210.56 843.66Z" fill="none" stroke="#111" stroke-width="1.35"/><path d="M200.6 845.73L193.83 841.82" stroke="#111" stroke-width="1.05"/><path d="M193.83 834L200.6 830.09" stroke="#111" stroke-width="1.05"/><path d="M207.37 834L207.37 841.82" stroke="#111" stroke-width="1.05"/><path d="M200.6 849.62L200.6 859.15" stroke="#111" stroke-width="1.35"/><path d="M200.15 858.26L192.53 862.07" stroke="#111" stroke-width="1.1"/><path d="M201.05 860.04L193.42 863.86" stroke="#111" stroke-width="1.1"/><text transform="translate(189.71 863.24) rotate(-90)" x="0" y="2.72" font-family='"Liberation Sans", sans-serif' font-size="7.55" font-weight="bold" fill="#111" text-anchor="middle">O</text><path d="M200.6 859.15L206.59 863.24" stroke="#111" stroke-width="1.35"/><text transform="translate(209.31 863.78) rotate(-90)" x="0" y="2.72" font-family='"Liberation Sans", sans-serif' font-size="7.55" font-weight="bold" fill="#1A1AE0" text-anchor="middle">N</text><path d="M212.58 864.6L216.67 864.6" stroke="#1A1AE0" stroke-width="0.9"/><text transform="translate(220.21 863.95) rotate(-90)" x="0" y="2.55" font-family='"Liberation Sans", sans-serif' font-size="7.08" font-weight="bold" fill="#1A1AE0" text-anchor="middle">H</text><path d="M223.96 862.23L224.62 863.69" stroke="#111" stroke-width="1.15"/><path d="M225.01 861.37L225.97 863.47" stroke="#111" stroke-width="1.15"/><path d="M226.07 860.5L227.31 863.24" stroke="#111" stroke-width="1.15"/><path d="M227.12 859.64L228.65 863.02" stroke="#111" stroke-width="1.15"/><path d="M228.17 858.77L230 862.79" stroke="#111" stroke-width="1.15"/><path d="M229.22 857.91L231.34 862.57" stroke="#111" stroke-width="1.15"/><path d="M209.04 868.41Q205.75 869.65 208.95 871.12Q212.15 872.59 208.85 873.83Q205.56 875.08 208.76 876.55Q211.96 878.02 208.66 879.26Q205.37 880.5 208.57 881.97Q211.77 883.44 208.47 884.69Q205.18 885.93 208.38 887.4" fill="none" stroke="#111" stroke-width="1.45"/><circle cx="207.95" cy="892.37" r="5.3" fill="none" stroke="#F0861A" stroke-width="1.35"/><path d="M207.65 889.47L208.25 895.27" stroke="#F0861A" stroke-width="1.3"/><path d="M239.81 733.06Q236.52 734.3 239.72 735.77Q242.92 737.24 239.63 738.49Q236.33 739.73 239.53 741.2Q242.73 742.67 239.44 743.91Q236.14 745.15 239.34 746.62Q242.54 748.09 239.25 749.34Q235.95 750.58 239.15 752.05" fill="none" stroke="#111" stroke-width="1.45"/><text transform="translate(241.99 757.3) rotate(-90)" font-family='"Liberation Sans", sans-serif' font-size="7.4" font-weight="bold" fill="#111">N</text><path d="M242.81 753.49L246.62 752.94" stroke="#111" stroke-width="0.8"/><text transform="translate(250.16 752.38) rotate(-90)" x="0" y="2.46" font-family='"Liberation Sans", sans-serif' font-size="6.84" font-weight="bold" fill="#111" text-anchor="middle">H</text><path d="M253.7 751.87L253.7 753.47" stroke="#111" stroke-width="1.15"/><path d="M255.34 751.52L255.34 753.82" stroke="#111" stroke-width="1.15"/><path d="M256.97 751.16L256.97 754.17" stroke="#111" stroke-width="1.15"/><path d="M258.61 750.81L258.61 754.52" stroke="#111" stroke-width="1.15"/><path d="M260.24 750.46L260.24 754.88" stroke="#111" stroke-width="1.15"/><path d="M261.87 750.11L261.87 755.23" stroke="#111" stroke-width="1.15"/><path d="M239.81 758.39L239.27 765.74" stroke="#111" stroke-width="1.35"/><path d="M238.73 788.18 L229.2 782.68 L229.2 771.68 L238.73 766.18 L248.25 771.68 L248.25 782.68Z" fill="none" stroke="#111" stroke-width="1.35"/><path d="M238.73 784.66L232.25 780.92" stroke="#111" stroke-width="1.05"/><path d="M232.25 773.44L238.73 769.7" stroke="#111" stroke-width="1.05"/><path d="M245.2 773.44L245.2 780.92" stroke="#111" stroke-width="1.05"/><path d="M238.45 788.34L237.91 797.06" stroke="#111" stroke-width="1.35"/><text transform="translate(237.36 799.79) rotate(-90)" x="0" y="2.72" font-family='"Liberation Sans", sans-serif' font-size="7.55" font-weight="bold" fill="#1A1AE0" text-anchor="middle">N</text><path d="M240.09 803.32L245.53 808.77" stroke="#111" stroke-width="1.35"/><path d="M246.01 809.65L252.55 806.11" stroke="#111" stroke-width="1.1"/><path d="M245.06 807.89L251.59 804.35" stroke="#111" stroke-width="1.1"/><text transform="translate(255.61 803.05) rotate(-90)" x="0" y="2.72" font-family='"Liberation Sans", sans-serif' font-size="7.55" font-weight="bold" fill="#111" text-anchor="middle">O</text><path d="M245.53 808.77L244.99 821.02" stroke="#111" stroke-width="1.35"/><path d="M244.44 844.51 L234.49 838.76 L234.49 827.26 L244.44 821.51 L254.4 827.26 L254.4 838.76Z" fill="none" stroke="#111" stroke-width="1.35"/><path d="M244.44 840.83L237.67 836.92" stroke="#111" stroke-width="1.05"/><path d="M237.67 829.1L244.44 825.19" stroke="#111" stroke-width="1.05"/><path d="M251.22 829.1L251.22 836.92" stroke="#111" stroke-width="1.05"/><path d="M244.17 844.99L243.9 854.25" stroke="#111" stroke-width="1.35"/><path d="M243.37 853.4L236.83 857.49" stroke="#111" stroke-width="1.1"/><path d="M244.43 855.1L237.89 859.18" stroke="#111" stroke-width="1.1"/><text transform="translate(234.37 859.15) rotate(-90)" x="0" y="2.72" font-family='"Liberation Sans", sans-serif' font-size="7.55" font-weight="bold" fill="#111" text-anchor="middle">O</text><path d="M243.9 854.25L250.98 857.79" stroke="#111" stroke-width="1.35"/><text transform="translate(256.15 861.87) rotate(-90)" font-family='"Liberation Sans", sans-serif' font-size="7.4" font-weight="bold" fill="#111">N</text><text transform="translate(263.51 852.6) rotate(-90)" x="0" y="2.46" font-family='"Liberation Sans", sans-serif' font-size="6.84" font-weight="bold" fill="#111" text-anchor="middle">H</text><path d="M257.52 856.15L261.06 854.79" stroke="#111" stroke-width="0.8"/><path d="M266.5 852.9L266.5 854.5" stroke="#111" stroke-width="1.15"/><path d="M268.14 852.55L268.14 854.86" stroke="#111" stroke-width="1.15"/><path d="M269.77 852.2L269.77 855.21" stroke="#111" stroke-width="1.15"/><path d="M271.41 851.85L271.41 855.56" stroke="#111" stroke-width="1.15"/><path d="M273.04 851.5L273.04 855.91" stroke="#111" stroke-width="1.15"/><path d="M274.67 851.14L274.67 856.26" stroke="#111" stroke-width="1.15"/><path d="M253.7 863.78Q250.41 864.95 253.61 866.35Q256.82 867.75 253.52 868.92Q250.23 870.09 253.43 871.49Q256.64 872.89 253.34 874.06Q250.05 875.23 253.25 876.63Q256.46 878.03 253.17 879.2Q249.87 880.37 253.08 881.77" fill="none" stroke="#111" stroke-width="1.45"/></g>
<g><circle cx="130.34" cy="744.77" r="22.5" fill="none" stroke="#111" stroke-width="1.5" stroke-linecap="round" stroke-dasharray="0.1 3.1"/><path d="M94.93 698.47C66.34 726.25 63.62 778 110.46 797.06" fill="none" stroke="#111" stroke-width="1.5" stroke-linecap="round" stroke-dasharray="0.1 3.1"/><path d="M143.95 693.03C178 707.19 188.89 758.93 154.85 791.61" fill="none" stroke="#111" stroke-width="1.5" stroke-linecap="round" stroke-dasharray="0.1 3.1"/><path d="M108.55 730.34Q96.3 723.53 96.84 704.47" fill="none" stroke="#000" stroke-width="1.45" marker-end="url(#ah)"/><path d="M103.1 737.15Q85.4 731.7 83.22 718.08" fill="none" stroke="#000" stroke-width="1.45" marker-end="url(#ah)"/><path d="M99.02 745.32Q84.04 739.87 84.04 721.35" fill="none" stroke="#000" stroke-width="1.45" marker-end="url(#ah)"/><path d="M136.6 722.98Q143.95 712.64 137.69 700.38" fill="none" stroke="#000" stroke-width="1.45" marker-end="url(#ah)"/><path d="M145.32 726.25Q154.85 718.08 150.76 705.83" fill="none" stroke="#000" stroke-width="1.45" marker-end="url(#ah)"/><path d="M149.4 733.06Q161.66 727.61 159.48 715.36" fill="none" stroke="#000" stroke-width="1.45" marker-end="url(#ah)"/><path d="M104.47 756.21Q90.85 761.66 92.21 773.91" fill="none" stroke="#000" stroke-width="1.45" marker-end="url(#ah)"/><path d="M108.55 760.29Q96.3 767.1 100.38 780.72" fill="none" stroke="#000" stroke-width="1.45" marker-end="url(#ah)"/><path d="M115.36 767.1Q105.83 775.27 110.46 787.53" fill="none" stroke="#000" stroke-width="1.45" marker-end="url(#ah)"/><path d="M152.94 743.95Q169.83 748.04 170.37 769.83" fill="none" stroke="#000" stroke-width="1.45" marker-end="url(#ah)"/><path d="M150.76 752.12Q167.1 758.93 164.38 778" fill="none" stroke="#000" stroke-width="1.45" marker-end="url(#ah)"/><path d="M148.04 760.29Q161.66 767.1 158.93 784.8" fill="none" stroke="#000" stroke-width="1.45" marker-end="url(#ah)"/></g>
<g><path d="M333.82 674.88L376.23 730.58L376.23 910.11L333.82 830.94Z" fill="url(#gelside)" stroke="#BCD8F0" stroke-width="0.8" opacity="0.9"/><path d="M333.82 674.88L388.95 671.2L430.51 730.58L376.23 730.58Z" fill="url(#geltop)" opacity="0.92"/><path d="M376.23 730.58L430.51 730.58L430.51 910.11L376.23 910.11Z" fill="url(#gelfront)"/><path d="M388.95 671.2L403.09 671.2L449.74 727.75L430.51 730.58Z" fill="url(#elecFt)"/><path d="M430.51 730.01L449.74 727.75L449.74 910.11L430.51 910.11Z" fill="url(#elecF)"/></g>
<g clip-path="url(#gelclip)"><path d="M387.4 839.85q3.91 3.66 2.39 7.55q-0.81 3 0.8 7.88q-4.51 1.72 -3.35 7.17" fill="none" stroke="#5E93B4" stroke-width="1.5" stroke-linecap="round" opacity="0.55"/><path d="M412.15 804.34q0.52 2.06 0.07 5.12q0.32 1.94 -0.14 5.12q-0.67 4.57 2.5 4.47" fill="none" stroke="#5E93B4" stroke-width="1.5" stroke-linecap="round" opacity="0.55"/><path d="M406.92 752.4q4.18 0.85 7.99 4.69q4.35 0.64 8.06 4.57q1.46 2.76 7.55 5.36" fill="none" stroke="#5E93B4" stroke-width="1.5" stroke-linecap="round" opacity="0.55"/><path d="M408.54 747.44q4.73 2.58 5.1 4.56q3.31 0.62 3.53 5.86q0.84 1 -0.98 6.77" fill="none" stroke="#5E93B4" stroke-width="1.5" stroke-linecap="round" opacity="0.55"/><path d="M418.21 795.75q-0.2 -0.09 -3.69 4.18q-5.15 -0.34 -5 2.49q-5.15 2.23 -4.48 3.33" fill="none" stroke="#5E93B4" stroke-width="1.5" stroke-linecap="round" opacity="0.55"/><path d="M393.53 781.49q-0.68 6.21 -2.81 7.96q0.76 6.07 -3.5 7.68q1.63 3.27 0.31 8.43" fill="none" stroke="#5E93B4" stroke-width="1.5" stroke-linecap="round" opacity="0.55"/><path d="M415.54 840.48q4.85 5.66 6.86 5.94q-0.38 4.49 4.72 7.74q4.35 3.85 8.11 4.06" fill="none" stroke="#5E93B4" stroke-width="1.5" stroke-linecap="round" opacity="0.55"/><path d="M389.52 878.43q2.92 4.59 6.48 5.13q0.61 0.04 5.86 5.83q5.82 -0.91 8.03 1.96" fill="none" stroke="#5E93B4" stroke-width="1.5" stroke-linecap="round" opacity="0.55"/><path d="M407.17 779.96q5.16 3.22 5.81 5.97q3.87 6.34 4.04 7.29q2.91 -0.53 7.72 3.13" fill="none" stroke="#5E93B4" stroke-width="1.5" stroke-linecap="round" opacity="0.55"/><path d="M405.07 870.32q6.16 2.44 8.51 2.73q4.27 -1.34 8.82 1.43q2.94 4.91 7.16 5.35" fill="none" stroke="#5E93B4" stroke-width="1.5" stroke-linecap="round" opacity="0.55"/><path d="M409.43 746.76q0.48 0.47 -0.11 6.42q0.55 2.71 2.76 5.8q0.39 2.15 2.12 6.06" fill="none" stroke="#5E93B4" stroke-width="1.5" stroke-linecap="round" opacity="0.55"/><path d="M385.24 824.77q5.44 -0.72 5.04 4.02q4.2 -0.79 6.34 1.15q3.19 -1.87 6.39 -0.88" fill="none" stroke="#5E93B4" stroke-width="1.5" stroke-linecap="round" opacity="0.55"/><path d="M407.76 816.86q0.19 6.51 -0.35 9.76q-0.93 4.95 -5.15 8.3q-4.13 2.29 -6.61 7.19" fill="none" stroke="#5E93B4" stroke-width="1.5" stroke-linecap="round" opacity="0.55"/><path d="M416.81 870.29q1.95 6.26 0.74 9.64q1.12 3.93 0.62 9.65q-0.6 2.2 -0.07 9.67" fill="none" stroke="#5E93B4" stroke-width="1.5" stroke-linecap="round" opacity="0.55"/><path d="M398.49 785.1q-0.06 3.15 2.95 9.49q0.25 1.37 4.87 8.66q-0.31 4.64 -0.06 9.94" fill="none" stroke="#5E93B4" stroke-width="1.5" stroke-linecap="round" opacity="0.55"/><path d="M407.75 781.87q1.26 2.76 4.82 2.79q4.93 0.61 4.61 3.13q1.55 0.06 2.1 5.16" fill="none" stroke="#5E93B4" stroke-width="1.5" stroke-linecap="round" opacity="0.55"/><path d="M392.15 824.97q-0.78 7.16 -0.71 9.91q2.43 6.67 5.04 8.56q2.26 0.43 7.43 6.59" fill="none" stroke="#5E93B4" stroke-width="1.5" stroke-linecap="round" opacity="0.55"/><path d="M391.58 776.55q0.82 3.92 5.23 6.6q1.57 2.34 1.36 8.31q2.09 4.76 -1.38 8.31" fill="none" stroke="#5E93B4" stroke-width="1.5" stroke-linecap="round" opacity="0.55"/><path d="M388.17 860.47q1.62 3.32 6.98 6.2q2.31 6.97 2.94 8.86q2.04 5 6.17 7.01" fill="none" stroke="#5E93B4" stroke-width="1.5" stroke-linecap="round" opacity="0.55"/><path d="M410.96 797.82q2.88 -0.35 6.79 4.75q1.93 2.9 5.85 5.87q1.04 3.09 5 6.61" fill="none" stroke="#5E93B4" stroke-width="1.5" stroke-linecap="round" opacity="0.55"/><path d="M385.54 878.42q0.46 5.18 -0.45 7.66q-1.75 1.71 1.37 7.55q4.01 0.53 4.82 5.97" fill="none" stroke="#5E93B4" stroke-width="1.5" stroke-linecap="round" opacity="0.55"/><path d="M417.56 800.6q0.46 4.35 -0.97 7.48q1.85 2.29 0.81 7.5q0.88 5.36 -1.41 7.41" fill="none" stroke="#5E93B4" stroke-width="1.5" stroke-linecap="round" opacity="0.55"/><path d="M397.37 854.75q2.38 7.05 4.48 8.81q1.17 2.59 8.23 5.47q5.07 2.73 6.86 7.11" fill="none" stroke="#5E93B4" stroke-width="1.5" stroke-linecap="round" opacity="0.55"/><path d="M424.58 770.37q2.09 -1.86 8.56 1.56q4.61 -1.12 8.56 1.58q2.23 1.01 6.08 6.22" fill="none" stroke="#5E93B4" stroke-width="1.5" stroke-linecap="round" opacity="0.55"/><path d="M392.1 849.35q6.25 -0.15 9.17 2.79q2.71 4.76 5.43 7.9q5.3 3.03 7 6.54" fill="none" stroke="#5E93B4" stroke-width="1.5" stroke-linecap="round" opacity="0.55"/><path d="M397.95 875.04q1.72 1.89 1.69 4.96q-3.11 2.96 -0.94 5.16q2.37 5.29 -0.29 5.23" fill="none" stroke="#5E93B4" stroke-width="1.5" stroke-linecap="round" opacity="0.55"/><path d="M410.08 769.73q-0.03 0.78 3.16 5.11q1.43 1.74 1.14 5.9q-3.14 3.06 -2.88 5.28" fill="none" stroke="#5E93B4" stroke-width="1.5" stroke-linecap="round" opacity="0.55"/><path d="M391.27 868.78q2.41 3.32 0.94 9.25q1.45 6.74 3.07 8.78q4.46 3.79 6.73 6.42" fill="none" stroke="#5E93B4" stroke-width="1.5" stroke-linecap="round" opacity="0.55"/><path d="M403.12 824.78q-0.8 6.37 0.07 9.37q-4.15 6.3 -4.49 8.23q-5.57 -1.11 -8.71 3.48" fill="none" stroke="#5E93B4" stroke-width="1.5" stroke-linecap="round" opacity="0.55"/><path d="M389.46 886.02q1.25 -0.06 -0.34 4.7q2 -0.28 1.8 4.36q3.87 3.22 2.72 3.85" fill="none" stroke="#5E93B4" stroke-width="1.5" stroke-linecap="round" opacity="0.55"/><path d="M420.28 886.85q1.37 -0.36 0.47 4.82q-1.39 1.99 0.43 4.82q-1.43 4.88 2.9 3.88" fill="none" stroke="#5E93B4" stroke-width="1.5" stroke-linecap="round" opacity="0.55"/><path d="M397.66 871.18q1.1 0.24 3.07 4.33q-1.19 3.92 1.85 4.97q-1.4 1.61 1.85 4.98" fill="none" stroke="#5E93B4" stroke-width="1.5" stroke-linecap="round" opacity="0.55"/><path d="M404.85 877.4q1.91 4.63 -0.77 6.48q-1.29 1.79 1.29 6.4q-0.4 2.33 4.69 4.55" fill="none" stroke="#5E93B4" stroke-width="1.5" stroke-linecap="round" opacity="0.55"/><path d="M401.32 821.28q2.76 3 3.69 5.47q2.8 5.75 3.31 5.71q1.32 2.7 0.02 6.6" fill="none" stroke="#5E93B4" stroke-width="1.5" stroke-linecap="round" opacity="0.55"/><path d="M397.73 799.97q1.49 2.35 4.06 8.98q-4.29 5.39 -2.64 9.5q-5.23 3.86 -7.51 6.38" fill="none" stroke="#5E93B4" stroke-width="1.5" stroke-linecap="round" opacity="0.55"/><path d="M400.08 772.32q2.3 5.25 1.2 5.6q3.3 0.86 4.26 3.82q1.99 1.2 3.4 4.61" fill="none" stroke="#5E93B4" stroke-width="1.5" stroke-linecap="round" opacity="0.55"/><path d="M423.86 735.14q-1.45 6.8 -4.01 7.66q0.3 5.76 -0.96 8.59q1.52 3.68 0.5 8.63" fill="none" stroke="#5E93B4" stroke-width="1.5" stroke-linecap="round" opacity="0.55"/><path d="M406.05 829.99q1.03 2.41 1.54 8.13q-1.29 6.59 0.24 8.27q1.61 4.26 0.55 8.26" fill="none" stroke="#5E93B4" stroke-width="1.5" stroke-linecap="round" opacity="0.55"/><path d="M404.06 769.29q-1.44 2.37 -3.17 4.4q-3.94 -0.64 -4.74 2.64q-2.95 1.01 -5.41 0.32" fill="none" stroke="#5E93B4" stroke-width="1.5" stroke-linecap="round" opacity="0.55"/><path d="M418.1 873.57q5.83 4.53 7.67 5.25q2.56 -1.15 9.27 0.69q3.26 -0.33 8.24 -4.3" fill="none" stroke="#5E93B4" stroke-width="1.5" stroke-linecap="round" opacity="0.55"/></g>
<clipPath id="gelclip"><path d="M333.82 674.88L388.95 671.2L430.51 730.58L430.51 910.11L376.23 910.11L333.82 830.94Z"/></clipPath>
<g mask="url(#netmask)"><g clip-path="url(#gelclip)" filter="url(#fblur)"><path d="M358.34 713.94q2.05 1.91 5.72 9.13q0.04 4.2 5.62 9.19q2.46 1.75 9.83 4.4" fill="none" stroke="#E88A52" stroke-width="2.35" stroke-linecap="round"/><path d="M379.51 805.24q0.18 2.98 3.71 5.28q2.42 1.64 5.82 2.79q3.12 2.77 5.52 3.35" fill="none" stroke="#E88A52" stroke-width="2.02" stroke-linecap="round"/><path d="M380.09 770.04q2.97 2.73 9.46 3.29q3.76 1.67 9.75 2.32q3.74 2.6 9.88 1.67" fill="none" stroke="#EE9660" stroke-width="1.57" stroke-linecap="round"/><path d="M356.72 761.81q-2.57 4.33 -0.02 8.52q0.96 6.41 3.82 7.61q5.09 1.04 4.63 7.15" fill="none" stroke="#E07E44" stroke-width="1.81" stroke-linecap="round"/><path d="M360.16 766.34q4.1 3.43 10.96 4.49q7.17 -2.42 11.56 -2.56q6.97 -0.97 11.77 -1.29" fill="none" stroke="#F0A070" stroke-width="2.3" stroke-linecap="round"/><path d="M359.94 831.28q-1.86 3.02 -0.34 8.6q-2.18 6.51 -3.13 8.02q-3.55 3.43 -3.09 8.03" fill="none" stroke="#E07E44" stroke-width="2.3" stroke-linecap="round"/><path d="M392.53 875.03q3.83 6.47 3.04 7.44q1.14 0.97 6.17 5.15q3.72 1.81 7.63 2.55" fill="none" stroke="#E07E44" stroke-width="1.75" stroke-linecap="round"/><path d="M346.05 753.63q6.03 6.23 7.74 7.05q4.46 4.02 6.05 8.55q3.22 6.29 1.02 10.42" fill="none" stroke="#F0A070" stroke-width="1.86" stroke-linecap="round"/><path d="M363.19 767.85q-1.29 2.03 -1.88 8.74q-3.93 4.59 -3.08 8.39q0.94 4.79 -3.51 8.22" fill="none" stroke="#E88A52" stroke-width="2.29" stroke-linecap="round"/><path d="M378.37 730.36q-0.51 5.6 3.51 7.02q-1.08 3.73 -1.75 7.65q-1.03 2.74 2.71 7.37" fill="none" stroke="#E07E44" stroke-width="1.93" stroke-linecap="round"/><path d="M383.75 799.3q0.13 6.1 -2.02 7.23q-3.43 3.88 -4.44 6.05q1.84 3.86 -0.46 7.49" fill="none" stroke="#EE9660" stroke-width="1.82" stroke-linecap="round"/><path d="M351.37 761.48q0.59 6.26 -2.28 9.41q-0.66 4.16 1.81 9.52q-2.93 4.67 -2.26 9.42" fill="none" stroke="#E88A52" stroke-width="2.39" stroke-linecap="round"/><path d="M390.52 799.84q2.5 4.99 1.3 7.31q4.25 0.92 2.8 6.87q2.82 1.21 6 4.37" fill="none" stroke="#F0A070" stroke-width="2.06" stroke-linecap="round"/><path d="M398.12 879.94q-4.85 5.1 -4.71 8.27q-2.53 3.7 -8.44 4.4q-6.08 4.06 -8.3 4.66" fill="none" stroke="#E07E44" stroke-width="1.58" stroke-linecap="round"/><path d="M401.29 861.94q-0.35 7.34 3.39 8.76q4.57 2.21 8.05 4.84q4.08 3.81 6.82 6.47" fill="none" stroke="#F0A070" stroke-width="2.09" stroke-linecap="round"/><path d="M360.18 774.01q0.98 3.64 0.16 6.96q-2.31 5.14 -3.83 5.81q-4.73 0.28 -5.99 3.54" fill="none" stroke="#E07E44" stroke-width="1.95" stroke-linecap="round"/><path d="M388.69 771.13q2.88 7.17 2.88 9.57q2.22 5.09 0.65 9.97q0.36 2.4 -3.81 9.24" fill="none" stroke="#EE9660" stroke-width="1.97" stroke-linecap="round"/><path d="M337.29 730.95q-0.97 3.37 2 7.07q0.2 2.62 -0.28 7.34q0.1 5.37 -0.47 7.33" fill="none" stroke="#E88A52" stroke-width="2.29" stroke-linecap="round"/><path d="M339.92 703.45q-0.93 4.88 3.8 5.04q1.95 3.82 6 1.96q1.02 0.07 5.64 2.82" fill="none" stroke="#F0A070" stroke-width="1.96" stroke-linecap="round"/><path d="M353.09 761.18q-2.96 1.44 -10.62 6.44q-5.56 2.96 -10.12 7.2q-2.95 4.34 -7.96 9.54" fill="none" stroke="#EE9660" stroke-width="2.1" stroke-linecap="round"/><path d="M390.09 876.95q-3.53 5.58 -2.78 6.57q-4.78 4.48 -6.2 3.53q-2.89 5.12 -5.64 4.37" fill="none" stroke="#EE9660" stroke-width="1.65" stroke-linecap="round"/><path d="M365.78 776.28q4.11 0.33 5.55 6.42q2.17 0.52 5.05 6.82q3.99 2.8 6.5 5.46" fill="none" stroke="#E88A52" stroke-width="1.6" stroke-linecap="round"/><path d="M399.38 763.44q7.36 1.88 9.84 7.59q5.2 7.37 6.57 10.55q4.58 5.35 3.8 11.83" fill="none" stroke="#F0A070" stroke-width="2.13" stroke-linecap="round"/><path d="M342.17 688.63q6.5 4.75 7.73 7.89q-0.58 7.32 3.83 10.36q6.7 2.89 9.05 6.34" fill="none" stroke="#E07E44" stroke-width="2.39" stroke-linecap="round"/><path d="M364.83 836.11q4.45 7.77 3.65 9.91q1.43 6.68 6.68 8.18q2.74 2.85 5.11 9.24" fill="none" stroke="#F0A070" stroke-width="1.95" stroke-linecap="round"/><path d="M348.28 731.57q4.09 1.78 5.38 2.95q2.91 2.82 6.12 0.42q4.63 -1.83 5.44 -2.84" fill="none" stroke="#F0A070" stroke-width="1.99" stroke-linecap="round"/><path d="M397.32 903.47q1.19 5.13 6 5.68q-0.21 6.57 3.91 7.27q1.28 1.15 -1.47 8.12" fill="none" stroke="#E07E44" stroke-width="1.89" stroke-linecap="round"/><path d="M339.82 761.62q-1.81 4.84 -4.8 7.37q-1.64 3 0.5 8.78q2.18 2.19 6 6.43" fill="none" stroke="#E07E44" stroke-width="1.72" stroke-linecap="round"/><path d="M402.63 782.49q3.12 2.82 6.54 5.61q4.15 -1.73 8.25 2.47q1.84 -0.77 8.61 -0.33" fill="none" stroke="#E88A52" stroke-width="1.85" stroke-linecap="round"/><path d="M356.68 781q-4.79 4.24 -5.44 3.77q-2.66 2.27 -6.48 1.37q-3.33 -1.62 -6.59 -0.65" fill="none" stroke="#EE9660" stroke-width="1.54" stroke-linecap="round"/><path d="M393.63 882.12q-5.31 4.41 -6.28 8.54q-1.16 6.08 -6.33 8.5q-4.21 4.78 -9.43 4.84" fill="none" stroke="#EE9660" stroke-width="1.58" stroke-linecap="round"/><path d="M338.89 756.84q-0.73 3.33 3.93 12.43q0.16 4.88 3.38 12.59q-0.52 8.78 4.13 12.37" fill="none" stroke="#E88A52" stroke-width="2.09" stroke-linecap="round"/><path d="M340.56 771.54q4.53 0.56 6.31 4.66q5.07 3.2 4.43 6.48q2.59 3.94 5.43 5.67" fill="none" stroke="#E88A52" stroke-width="2.06" stroke-linecap="round"/><path d="M380.35 719.85q-1 3.94 0.34 7.07q-0.28 1.25 4.72 5.28q2.82 4.18 3.33 6.25" fill="none" stroke="#E07E44" stroke-width="2.14" stroke-linecap="round"/><path d="M355.7 756.4q-4.33 2.36 -6.41 9.7q-4.28 2.43 -6.04 9.93q-0.1 7.9 -6.13 9.88" fill="none" stroke="#F0A070" stroke-width="1.69" stroke-linecap="round"/><path d="M401.25 761.69q5.14 2.32 4.84 9.05q0.28 7.45 0.45 10.25q-2.83 7.37 -2.44 9.97" fill="none" stroke="#F0A070" stroke-width="1.85" stroke-linecap="round"/><path d="M346.98 809.43q-1.13 4.72 -1.26 10.93q1.2 3.98 4.43 10.07q2.68 7.05 6.57 8.82" fill="none" stroke="#EE9660" stroke-width="2.14" stroke-linecap="round"/><path d="M398.21 774.14q-1.47 3.04 -4.02 7.75q-2.96 1.35 -3.22 8.11q2.78 3.01 1.55 8.59" fill="none" stroke="#EE9660" stroke-width="1.72" stroke-linecap="round"/><path d="M354.34 761.06q0.88 5.28 -2.84 6.82q0.46 5.74 -4.04 6.19q-0.91 0.25 -4.45 5.9" fill="none" stroke="#F0A070" stroke-width="1.91" stroke-linecap="round"/><path d="M387.93 827.72q-2.06 3.88 0.34 8.09q-0.17 5.35 2.09 7.83q-3.03 4.66 -3.19 7.45" fill="none" stroke="#E07E44" stroke-width="1.93" stroke-linecap="round"/><path d="M382.15 728.53q4.92 4.71 6.1 8.81q2.33 5.75 6.66 8.39q4.03 2.3 7.48 7.68" fill="none" stroke="#EE9660" stroke-width="1.81" stroke-linecap="round"/><path d="M342.29 711.56q-0.53 2.87 -4.05 6.78q-1.46 2.87 -3.21 7.21q-3.38 2.54 -1.51 7.75" fill="none" stroke="#E07E44" stroke-width="1.61" stroke-linecap="round"/><path d="M370.73 800.8q2.71 3.89 8.44 8.99q7.27 6.25 9.09 8.32q-1 3.07 3.75 11.74" fill="none" stroke="#F0A070" stroke-width="2.37" stroke-linecap="round"/><path d="M369.8 711.23q-3.12 5.4 -5.86 11.4q-6.56 2.05 -9.8 8.27q-8.75 2.22 -12.81 0.54" fill="none" stroke="#F0A070" stroke-width="1.58" stroke-linecap="round"/><path d="M389.6 712.95q3.38 5.53 4.18 5.52q1.74 2.71 3.14 6.17q-2.05 2.24 0.71 6.88" fill="none" stroke="#EE9660" stroke-width="1.85" stroke-linecap="round"/><path d="M351.43 769.69q3.89 3.68 2.28 5.63q-0.61 1.41 -0.92 6.01q3.37 4.2 1.22 5.95" fill="none" stroke="#E07E44" stroke-width="1.55" stroke-linecap="round"/><path d="M349.39 805.01q4.01 2.22 8.92 5.99q5.66 4.26 8.98 5.91q4.35 -0.92 9.94 4.08" fill="none" stroke="#E07E44" stroke-width="2.17" stroke-linecap="round"/><path d="M370.84 733.11q-2.46 4.83 -1.69 13q-4.33 8.49 -6.21 11.55q-4.95 4.13 -6.14 11.59" fill="none" stroke="#F0A070" stroke-width="2.32" stroke-linecap="round"/><path d="M339.89 753.06q6.72 1.22 12.28 3.45q3.49 3.12 10.76 6.85q3.03 2.53 8.3 9.7" fill="none" stroke="#E88A52" stroke-width="2.34" stroke-linecap="round"/><path d="M358.72 719.29q3.73 5.09 5.48 11.64q2.71 3.26 7.43 10.5q4.89 0.77 12.43 3.31" fill="none" stroke="#E88A52" stroke-width="2.01" stroke-linecap="round"/><path d="M388.36 780.56q-3.07 7.02 -1.2 11.58q2.09 5.2 3.68 11.04q4.55 4.75 6.26 9.81" fill="none" stroke="#F0A070" stroke-width="1.72" stroke-linecap="round"/><path d="M379.15 774.5q-3.89 2.36 -2.52 8.38q2 3.34 2.74 8.32q5 1 4.56 7.47" fill="none" stroke="#E07E44" stroke-width="2.33" stroke-linecap="round"/><path d="M356.52 793.9q-6.7 5.14 -8.18 6.37q-0.54 4.64 -3.66 9.7q-1.78 6.28 -7.04 7.61" fill="none" stroke="#F0A070" stroke-width="1.62" stroke-linecap="round"/><path d="M370.26 701.32q-1.71 4.82 0.76 12.81q-3 7.49 -5.52 11.58q-3.44 4.72 -7.02 10.74" fill="none" stroke="#EE9660" stroke-width="1.72" stroke-linecap="round"/><path d="M340.47 684.46q0.48 7.61 -3.64 9.37q-2.71 2.6 -0.42 10.04q1.06 4.7 -0.4 10.04" fill="none" stroke="#EE9660" stroke-width="1.62" stroke-linecap="round"/><path d="M367.8 837.55q0.26 5.32 -2.59 7.27q-1.53 2.46 -0.42 7.71q-0.34 3.34 2.2 7.4" fill="none" stroke="#EE9660" stroke-width="1.72" stroke-linecap="round"/><path d="M346.58 800.1q5.16 4.67 4.4 9.25q5.59 4.41 7.48 6.99q-1.7 4.92 1.37 10.15" fill="none" stroke="#EE9660" stroke-width="2.26" stroke-linecap="round"/><path d="M399.09 726.77q6.24 2.75 6.8 4.5q0.77 5.97 3.06 7.56q0.36 5.33 3.59 7.32" fill="none" stroke="#E88A52" stroke-width="1.6" stroke-linecap="round"/><path d="M377.13 808.2q0.81 1.31 5.17 5.57q3.08 1.33 4.35 6.23q2.61 2.12 7.3 2.09" fill="none" stroke="#EE9660" stroke-width="2.06" stroke-linecap="round"/><path d="M341.38 684.8q2.9 5.67 2.25 9.37q3.37 4.55 6.34 7.26q2.28 6.07 7.31 6.28" fill="none" stroke="#E07E44" stroke-width="1.88" stroke-linecap="round"/><path d="M339.54 771.04q6.35 5.86 9.5 8.1q3.19 4.35 7.68 9.83q-0.11 4.17 0.57 12.47" fill="none" stroke="#E88A52" stroke-width="2.24" stroke-linecap="round"/><path d="M364.03 829.78q4.64 2.64 8.66 3.6q0.2 4.59 5.33 7.72q3.34 1.19 6.63 6.63" fill="none" stroke="#E07E44" stroke-width="1.65" stroke-linecap="round"/><path d="M347.85 694.03q-0.77 2.37 -5.2 7.12q-6.67 4.47 -7.86 3.99q-2.64 3.75 -6.58 5.87" fill="none" stroke="#E88A52" stroke-width="2.31" stroke-linecap="round"/><path d="M378.8 845.18q-0.12 5.64 0.9 7.12q-3.08 1.7 -2.35 6.78q-0.58 2.82 -1.38 7.04" fill="none" stroke="#E88A52" stroke-width="1.63" stroke-linecap="round"/><path d="M402.98 883.09q-1.77 3.43 -5.62 4.84q-2.8 2.76 -4.27 6.06q-1.64 2.57 -6.61 3.35" fill="none" stroke="#E07E44" stroke-width="2.02" stroke-linecap="round"/><path d="M365.38 797.73q4.13 3.07 6.83 6.27q5.9 3.37 8.64 3.38q2.49 1.28 8.82 2.87" fill="none" stroke="#E88A52" stroke-width="1.56" stroke-linecap="round"/><path d="M360.74 747.65q-3.57 3.67 -1.63 11.77q-5.07 5.76 -7.9 8.88q0.68 8.25 -1.66 11.77" fill="none" stroke="#EE9660" stroke-width="1.52" stroke-linecap="round"/><path d="M340.58 756.39q7.2 1.34 9.76 5.24q5.1 5.55 6.65 8.86q0.15 7.23 3.65 10.46" fill="none" stroke="#E07E44" stroke-width="1.64" stroke-linecap="round"/><path d="M397.86 770.95q5.49 3.45 5.95 10.4q4.54 2.86 9.01 7.9q4.07 -1.59 11.95 0.88" fill="none" stroke="#E07E44" stroke-width="2.11" stroke-linecap="round"/><path d="M397.78 750.48q3.71 4.28 5.79 10.23q0.3 6.36 -0.07 11.76q-5.4 8 -6.05 10.08" fill="none" stroke="#F0A070" stroke-width="2.16" stroke-linecap="round"/><path d="M361.63 750.18q0.47 1.55 5.97 6.34q5.19 2.38 4.88 7.21q1.22 6.46 4.71 7.32" fill="none" stroke="#E07E44" stroke-width="2.16" stroke-linecap="round"/><path d="M387.55 751.18q-0.62 1.35 0.4 8.12q0.94 1.33 0.53 8.12q2.98 1.97 5.16 6.29" fill="none" stroke="#E07E44" stroke-width="1.98" stroke-linecap="round"/><path d="M364.51 742.01q-2.77 0.5 -1.44 6.83q-0.81 2.53 -4.11 5.65q-2.2 4.48 -0.14 6.98" fill="none" stroke="#E07E44" stroke-width="1.86" stroke-linecap="round"/><path d="M354.23 690.96q2.04 4.9 2.34 10.47q-0.64 3.45 -4.08 9.92q-7.11 3.29 -8.75 6.21" fill="none" stroke="#F0A070" stroke-width="1.67" stroke-linecap="round"/><path d="M346.99 804.42q-2.72 2.74 -1.8 6.53q-0.13 4.12 -1.97 6.48q0.09 3.38 -1.19 6.66" fill="none" stroke="#E88A52" stroke-width="1.77" stroke-linecap="round"/><path d="M339.35 788.35q4.95 6.59 5.77 10.23q4.58 4.68 6.26 9.94q2.39 1.83 9.51 6.88" fill="none" stroke="#E88A52" stroke-width="1.61" stroke-linecap="round"/><path d="M397.5 895.14q6.25 4.56 10.88 6.96q6.87 7.59 8.73 9.52q8.1 5.7 11.05 6.68" fill="none" stroke="#E88A52" stroke-width="2.29" stroke-linecap="round"/><path d="M337.05 709.16q-1.38 1.57 -5.71 5.21q-4.81 -0.77 -7.56 1.6q-2.83 -0.21 -7.23 -2.73" fill="none" stroke="#F0A070" stroke-width="1.92" stroke-linecap="round"/><path d="M372.61 702.52q2.01 4.82 -0.61 6.16q0.68 3.48 0.33 6.19q-1.28 0.37 3.04 5.4" fill="none" stroke="#EE9660" stroke-width="1.81" stroke-linecap="round"/><path d="M345.79 687.52q0.15 4.4 -2.07 5.95q1.39 2.22 1.69 6.07q1.38 5.45 -1.08 6.21" fill="none" stroke="#E88A52" stroke-width="2.29" stroke-linecap="round"/><path d="M388.15 840.07q0.4 5.73 6.39 6.07q2.56 1.81 2.07 8.57q0.29 4.24 -1 8.76" fill="none" stroke="#EE9660" stroke-width="1.59" stroke-linecap="round"/><path d="M388.26 748.83q1.67 1.45 6.26 5.51q1.38 2.48 4.35 7.12q-0.39 6.26 -0.83 8.3" fill="none" stroke="#E88A52" stroke-width="2.21" stroke-linecap="round"/><path d="M338.16 741.47q2.7 3.73 4.61 4.89q1.44 1.93 1.98 6.42q1.41 1.84 2.54 6.22" fill="none" stroke="#E88A52" stroke-width="1.5" stroke-linecap="round"/><path d="M369.87 777.66q1.82 7.24 5.47 10.5q6.97 2.77 8.61 8.13q6.74 2.06 11.09 4.15" fill="none" stroke="#E88A52" stroke-width="2.34" stroke-linecap="round"/><path d="M388.91 801.15q2.51 3.18 7.1 11.21q2.13 8.1 -0.45 13.26q1.37 5.85 0.99 13.23" fill="none" stroke="#E07E44" stroke-width="1.74" stroke-linecap="round"/><path d="M398.18 814.78q-0.28 4.58 -0.09 8.78q-0.05 4.98 -3.14 8.2q-1.71 2.27 -1.34 8.68" fill="none" stroke="#F0A070" stroke-width="2.1" stroke-linecap="round"/><path d="M387.2 741.51q-3.86 4.09 -3.22 8.64q-5.17 1.03 -7.19 5.77q-1.45 5.82 -5.34 7.51" fill="none" stroke="#EE9660" stroke-width="2.15" stroke-linecap="round"/><path d="M403.26 865.2q5.85 2.73 6.23 8.36q3 3.2 0.05 10.42q-2.94 3 -2.23 10.18" fill="none" stroke="#EE9660" stroke-width="2.22" stroke-linecap="round"/><path d="M386.6 788.39q-0.08 2.65 3.35 6.64q2.74 3.37 6.69 3.25q2.79 3.25 5.58 4.92" fill="none" stroke="#F0A070" stroke-width="1.52" stroke-linecap="round"/><path d="M353.75 792.02q0.93 3.53 -0.55 6.02q1.19 3.9 -1.76 5.78q0.79 3.49 -2.94 5.27" fill="none" stroke="#EE9660" stroke-width="2.11" stroke-linecap="round"/><path d="M380.27 784.18q1.48 5.35 3.92 7.31q1.58 2.57 1.6 8.14q0.96 4.69 2.46 7.92" fill="none" stroke="#F0A070" stroke-width="1.97" stroke-linecap="round"/><path d="M381.62 858.16q7.21 5.94 10.44 6.99q4.78 -1.44 12.55 0.51q8.62 0.31 11.83 4.22" fill="none" stroke="#E07E44" stroke-width="1.59" stroke-linecap="round"/><path d="M375.64 793.06q1.29 5.72 -1.37 11.18q2.71 3.89 0.03 11.26q-2.06 7.03 -2.83 10.9" fill="none" stroke="#E88A52" stroke-width="2.16" stroke-linecap="round"/><path d="M378.37 812.9q0.38 5.1 5.87 5.22q3.47 3.57 4.84 6.18q2.49 0.79 7.35 2.77" fill="none" stroke="#EE9660" stroke-width="2.39" stroke-linecap="round"/><path d="M402.3 812.24q2.38 1.71 1.18 7.11q1.2 5.49 -0.24 7.2q2.6 5.21 3.2 6.46" fill="none" stroke="#F0A070" stroke-width="1.92" stroke-linecap="round"/><path d="M356.31 768.88q1.7 2.04 -0.81 6.87q-1.29 3.01 0.38 6.91q-1.34 4.38 3.28 6.09" fill="none" stroke="#E07E44" stroke-width="1.82" stroke-linecap="round"/><path d="M381.15 762.25q4.74 2.07 4.71 8.31q2.71 0.87 6.79 6.72q2.03 6.31 6.16 7.31" fill="none" stroke="#E07E44" stroke-width="2.07" stroke-linecap="round"/><path d="M337.03 679.38q-0.81 4.15 3.16 12.59q5.42 4.37 7.52 10.58q8.22 4.68 11.58 5.86" fill="none" stroke="#EE9660" stroke-width="2.05" stroke-linecap="round"/><path d="M383.47 879.53q-0.69 1.75 -3.02 5.94q-3.21 0.45 -2.98 5.96q-1.66 -0.33 -5.37 3.95" fill="none" stroke="#E88A52" stroke-width="1.74" stroke-linecap="round"/><path d="M352.16 707.16q0.86 3.71 5.99 7.52q3.24 5.93 6.01 7.51q6.75 0.79 9.41 1.97" fill="none" stroke="#F0A070" stroke-width="2.1" stroke-linecap="round"/><path d="M394 785.87q1.35 5.32 1.06 9.01q3.83 4.33 6.35 6.48q-0.24 7.36 1.56 8.94" fill="none" stroke="#F0A070" stroke-width="1.94" stroke-linecap="round"/><path d="M397.93 724.71q3.07 4.76 1.79 11.12q1.25 7.15 2.18 11.05q2.79 4.19 6.35 9.31" fill="none" stroke="#E88A52" stroke-width="2.24" stroke-linecap="round"/><path d="M356.21 808.55q1.79 6.97 3.5 8.25q2.58 3.39 1.65 8.81q0.71 4.57 3.83 8.1" fill="none" stroke="#E88A52" stroke-width="2.21" stroke-linecap="round"/><path d="M338.76 767.07q2.64 1.97 7.67 9.87q8.08 3.52 11.1 5.74q6.52 6.47 9.57 8.03" fill="none" stroke="#F0A070" stroke-width="2.06" stroke-linecap="round"/><path d="M379.25 824.15q2.37 4.75 2.74 10q-2.91 3.25 -1.03 10.32q4.35 6.91 5.4 8.86" fill="none" stroke="#E88A52" stroke-width="1.83" stroke-linecap="round"/><path d="M392.76 861.02q2.63 2.91 6.2 8q4.32 6.29 6.94 7.36q5.37 -1.79 9.93 1.94" fill="none" stroke="#E88A52" stroke-width="2.2" stroke-linecap="round"/><path d="M365.05 802.91q2.16 7.15 3.2 8.38q-1.43 6.06 1.27 8.88q-2.17 4.3 0.66 8.94" fill="none" stroke="#EE9660" stroke-width="2.06" stroke-linecap="round"/><path d="M365.46 698.2q-6.3 0.64 -9.23 5.82q-5.84 3.5 -8.99 6.17q-2.81 5.93 -8.55 6.78" fill="none" stroke="#E07E44" stroke-width="2.2" stroke-linecap="round"/><path d="M385.24 861.21q3.55 4.96 4.58 10.39q-2.54 8.36 -2.12 11.15q-5.61 2.09 -5.36 10.01" fill="none" stroke="#E88A52" stroke-width="1.85" stroke-linecap="round"/><path d="M357.56 777.99q-4.07 8.49 -5.94 11.59q-4.82 2.57 -9.27 9.15q-8.76 3.55 -12.92 1.66" fill="none" stroke="#EE9660" stroke-width="2.07" stroke-linecap="round"/><path d="M364.84 755.26q-4.03 2.62 -8.87 7.73q1.44 6.93 -2.8 11.43q-4.79 5.14 -7.56 9.02" fill="none" stroke="#E88A52" stroke-width="2.25" stroke-linecap="round"/><path d="M377.48 756.46q0.13 5.08 -1.95 8.93q-1.33 1.99 -6.35 6.58q-1.75 4.09 -0.66 9.12" fill="none" stroke="#E88A52" stroke-width="1.76" stroke-linecap="round"/><path d="M345.71 799.44q0.82 6.86 -1.92 13.14q-3.37 5.93 -6.74 11.45q-3.77 4.82 -7.37 11.05" fill="none" stroke="#EE9660" stroke-width="1.78" stroke-linecap="round"/><path d="M339.97 728.63q-5.89 4.07 -5.89 9.52q-2.99 3.72 -6.42 9.17q-0.61 5.72 0 11.19" fill="none" stroke="#E07E44" stroke-width="2.3" stroke-linecap="round"/><path d="M372.01 777.93q2.12 4.43 8.06 6.44q4.96 1.81 9.14 4.79q2.41 -0.23 9.03 5.01" fill="none" stroke="#F0A070" stroke-width="1.84" stroke-linecap="round"/><path d="M343.32 762.57q1.21 5.6 4.28 10.97q2.28 5.92 10.16 5.95q2.89 5.48 5.95 10.16" fill="none" stroke="#E07E44" stroke-width="2.33" stroke-linecap="round"/><path d="M355.31 703.79q-3.04 6.63 -1.65 9.13q3.18 3.9 0.43 9.27q0.22 2.75 6.02 7.06" fill="none" stroke="#F0A070" stroke-width="1.94" stroke-linecap="round"/><path d="M394.35 883.88q-2.6 2.36 -7.68 9.64q-4.11 3.17 -5.03 11.26q-5.17 1.39 -10.42 6.58" fill="none" stroke="#EE9660" stroke-width="1.83" stroke-linecap="round"/><path d="M352.22 787.26q-5.83 2.07 -6.36 3.5q1.07 1.88 -2.89 6.66q-0.07 4.87 -3.01 6.61" fill="none" stroke="#F0A070" stroke-width="1.55" stroke-linecap="round"/><path d="M345.99 782.26q1.53 7.92 1.95 12.74q3.11 3.46 8.33 9.83q5.96 0.18 12.14 4.33" fill="none" stroke="#EE9660" stroke-width="2.23" stroke-linecap="round"/><path d="M399.09 891.55q-5.55 5.17 -6.99 6.34q-0.43 3.81 -2.28 9.15q-0.96 6.66 -5.27 7.82" fill="none" stroke="#F0A070" stroke-width="2.26" stroke-linecap="round"/><path d="M379.36 782.82q-0.39 1.94 -2.31 8.17q-2.18 5.5 0.95 8.44q-1.97 6.47 0.32 8.49" fill="none" stroke="#E07E44" stroke-width="1.88" stroke-linecap="round"/><path d="M353.03 692.08q-1.89 2.73 -0.9 10.15q-0.25 3.01 -0.28 10.18q0.55 6.81 -0.47 10.18" fill="none" stroke="#EE9660" stroke-width="2" stroke-linecap="round"/><path d="M393.63 737.64q-3.64 3.76 -4.42 10.66q-0.82 5.26 -0.32 11.53q4.47 8.08 4.96 10.42" fill="none" stroke="#EE9660" stroke-width="2.38" stroke-linecap="round"/><path d="M337.11 774.65q5.99 1.61 7.99 2.9q3.84 2.09 8.47 -0.77q4.19 -4.15 7.53 -3.95" fill="none" stroke="#EE9660" stroke-width="1.97" stroke-linecap="round"/><path d="M351.9 711.93q-2.55 4.97 -7.87 6.8q-4.23 5.8 -4.1 9.56q-4.72 3.19 -5.74 8.68" fill="none" stroke="#E88A52" stroke-width="1.56" stroke-linecap="round"/><path d="M386.56 783.56q0.11 7.59 2.21 11.07q-1.78 2.47 -3.47 10.75q-4.51 5.81 -8.74 7.15" fill="none" stroke="#E07E44" stroke-width="1.72" stroke-linecap="round"/><path d="M374.86 865.23q1.33 2.16 -1.64 6.05q0.42 -0.55 -4.78 4.05q-3.47 4.44 -3.88 4.92" fill="none" stroke="#E07E44" stroke-width="2.2" stroke-linecap="round"/><path d="M395.9 826.16q6.27 3.64 9.78 7.92q8.12 -2.08 12.58 0.24q3.47 -1.38 11.87 -4.19" fill="none" stroke="#EE9660" stroke-width="1.59" stroke-linecap="round"/><path d="M353.28 802.27q-0.9 0.08 1.85 5.94q0.97 3.21 1.01 6.14q-2.75 5.31 -0.74 6.18" fill="none" stroke="#EE9660" stroke-width="1.54" stroke-linecap="round"/><path d="M344.49 746.34q3.17 0.89 7.48 6.13q5.48 1.4 6.64 7.04q4.42 1.82 5.89 7.67" fill="none" stroke="#E88A52" stroke-width="2.34" stroke-linecap="round"/><path d="M362.82 758.22q3.87 7.62 2.44 11.91q0.96 4.54 5.04 11.07q5.89 7.11 6.01 10.57" fill="none" stroke="#E07E44" stroke-width="2.23" stroke-linecap="round"/><path d="M394.49 725.99q-5.82 1.85 -8.63 4.63q-5.48 1.66 -9.34 2.96q-3.41 3.89 -6.02 7.72" fill="none" stroke="#E88A52" stroke-width="1.7" stroke-linecap="round"/><path d="M365.03 757.2q7.55 7.59 9.33 9.5q8.77 1.74 13.16 2.02q5.68 5.24 9.87 8.94" fill="none" stroke="#E88A52" stroke-width="2.06" stroke-linecap="round"/><path d="M353.29 761.03q-1.93 5.41 -1.53 9.05q2.2 7.03 3.26 8.58q0.16 4.12 3.1 8.64" fill="none" stroke="#EE9660" stroke-width="1.9" stroke-linecap="round"/><path d="M371.3 842.6q3.34 7.5 3.86 12.12q3.34 6.4 7.23 10.46q4.65 3.76 10.66 6.93" fill="none" stroke="#E07E44" stroke-width="1.91" stroke-linecap="round"/><path d="M373.81 802.4q1.29 3.75 5.93 7.35q4.03 0.22 7.04 6.29q6.26 0.79 8.18 4.72" fill="none" stroke="#E07E44" stroke-width="1.94" stroke-linecap="round"/><path d="M355.65 830.29q-1.66 6.2 1.87 7.95q-1.36 3.21 2.53 7.76q3 1.42 3.17 7.52" fill="none" stroke="#EE9660" stroke-width="2.39" stroke-linecap="round"/><path d="M382.76 870.71q-0.09 4.86 3.39 8.4q4.94 1.05 5.8 6.95q3.42 7.41 1.78 8.88" fill="none" stroke="#E07E44" stroke-width="2.21" stroke-linecap="round"/><path d="M384.89 871.09q2.71 3.8 2.22 6.57q3.9 3.71 2.24 6.56q3.19 5.37 2.98 6.26" fill="none" stroke="#E88A52" stroke-width="1.84" stroke-linecap="round"/><path d="M367.21 769.13q3.01 4.29 5.35 9.96q5.54 6.27 7.63 8.34q3.48 2.27 7.64 8.33" fill="none" stroke="#E07E44" stroke-width="2.22" stroke-linecap="round"/><path d="M366.06 755.27q2.55 4.49 -0.53 7.68q0.06 6.52 2.21 7.38q1.76 0.88 -1.95 7.45" fill="none" stroke="#E07E44" stroke-width="2.01" stroke-linecap="round"/><path d="M370.32 846.5q-3.45 4.73 -7.12 9.25q-5.29 2.71 -9.25 7.13q-5.95 5.61 -10.1 5.84" fill="none" stroke="#E88A52" stroke-width="1.97" stroke-linecap="round"/><path d="M342.83 729.19q1.87 7.24 -0.81 8.9q-0.68 5.21 -0.65 8.92q-4.04 3.4 -6.19 6.45" fill="none" stroke="#E88A52" stroke-width="1.65" stroke-linecap="round"/><path d="M357.95 833.19q5.85 6.06 6.96 9.84q3.95 8.27 2.02 11.89q-0.4 4.54 3.32 11.59" fill="none" stroke="#EE9660" stroke-width="1.95" stroke-linecap="round"/><path d="M348.98 710.3q3.84 6.06 1.76 10.47q3.3 5.41 7.66 7.36q5.82 -0.45 9.34 5.05" fill="none" stroke="#E07E44" stroke-width="1.86" stroke-linecap="round"/><path d="M342.8 683.76q0.74 5.32 0.67 6.18q-1.25 0.67 -2.67 5.61q0.54 0.98 -0.14 6.21" fill="none" stroke="#E88A52" stroke-width="1.53" stroke-linecap="round"/><path d="M341.25 798.92q2.87 5.58 2.13 9.36q0.31 2.66 -0.33 9.59q0.21 1.73 3.12 9.07" fill="none" stroke="#E88A52" stroke-width="2.27" stroke-linecap="round"/><path d="M401.39 732.84q0.43 2.42 4.22 6.08q-1.86 0.93 1.75 7.2q0.44 1.01 4.2 6.1" fill="none" stroke="#EE9660" stroke-width="1.78" stroke-linecap="round"/><path d="M398.02 875.06q-2.61 5.9 -5.18 6.4q-1.96 5.21 -2.6 7.81q-0.87 6.36 0.56 8.21" fill="none" stroke="#F0A070" stroke-width="1.52" stroke-linecap="round"/><path d="M395.91 733.45q5.18 1.56 5.78 4.38q2.26 3.83 6.5 3.2q4.44 3.59 7.06 1.64" fill="none" stroke="#F0A070" stroke-width="2.24" stroke-linecap="round"/><path d="M360.24 729.38q-0.35 3.77 4.87 5.57q0.92 3.42 5.98 4.37q2.31 2.24 7.39 0.46" fill="none" stroke="#EE9660" stroke-width="2" stroke-linecap="round"/><path d="M368.23 823.18q1.76 3.88 4.66 6.2q0.75 3.2 3.94 6.69q5.29 3.33 6.29 4.55" fill="none" stroke="#E07E44" stroke-width="2.04" stroke-linecap="round"/><path d="M366.38 850.36q-1.31 6.38 1.87 9.74q-2.74 7.06 -0.58 9.9q-0.29 1.76 -3.75 9.18" fill="none" stroke="#EE9660" stroke-width="1.78" stroke-linecap="round"/><path d="M362.91 708.02q0.64 1.29 -0.67 7.27q-1.48 3.59 -1.29 7.18q-2.22 2.5 0.77 7.26" fill="none" stroke="#EE9660" stroke-width="1.76" stroke-linecap="round"/><path d="M392.36 788.51q-0.44 4.9 -2.41 8.27q-0.44 1.09 -6.12 6.06q-0.65 4.69 -4.89 7.08" fill="none" stroke="#F0A070" stroke-width="1.52" stroke-linecap="round"/><path d="M384.56 790.86q-4.75 4.99 -4.67 12.49q0.4 4.98 -0.51 13.32q-2.45 7.05 -3.76 12.79" fill="none" stroke="#F0A070" stroke-width="1.68" stroke-linecap="round"/><path d="M356.91 745.67q-1.53 5.16 0.78 6.24q1.39 1.67 0.17 6.29q1.48 2.22 0.74 6.24" fill="none" stroke="#E88A52" stroke-width="1.6" stroke-linecap="round"/><path d="M388.7 830.79q-1.79 8.41 -5.93 11.13q-7.04 3.56 -8.53 9.29q-6.63 5.17 -11.4 5.38" fill="none" stroke="#F0A070" stroke-width="2.13" stroke-linecap="round"/><path d="M363.16 807.9q7.51 3.17 9.66 7.25q3.09 7.15 3.87 11.44q-0.04 5.7 -1.62 11.97" fill="none" stroke="#E88A52" stroke-width="2.11" stroke-linecap="round"/><path d="M350.21 777.77q-3.3 8.65 -2.88 11.86q-3.54 2.75 -7.79 9.4q0.34 4.37 -2.69 11.91" fill="none" stroke="#E07E44" stroke-width="1.72" stroke-linecap="round"/><path d="M340.1 724.13q0.78 4.64 5.92 6.8q0.5 2.45 4.15 8q1.66 6.66 3.98 8.09" fill="none" stroke="#E07E44" stroke-width="2.13" stroke-linecap="round"/><path d="M345.2 774.93q-1.15 4.57 2.28 10.05q-0.91 2.69 -3.95 9.52q-2.46 1.95 -9 5.02" fill="none" stroke="#EE9660" stroke-width="1.6" stroke-linecap="round"/><path d="M355.96 741.73q1.2 3.45 6.02 4.49q0.85 0.97 6.33 4.04q2.43 -0.11 6.51 3.76" fill="none" stroke="#E88A52" stroke-width="1.54" stroke-linecap="round"/><path d="M368.33 852.34q1.53 3.37 0.19 9.56q1.87 4.63 -1.74 9.4q-3.68 3.16 -5.23 8" fill="none" stroke="#E88A52" stroke-width="2.08" stroke-linecap="round"/><path d="M379.31 864.83q1.49 1.13 7.32 7.92q3.95 3.82 3.82 10.09q4.7 5.83 7.75 7.5" fill="none" stroke="#EE9660" stroke-width="1.59" stroke-linecap="round"/><path d="M385.6 765.11q-0.71 3.64 0.3 10.52q5.21 6.55 5.38 9.04q1.4 0.99 8.12 6.7" fill="none" stroke="#F0A070" stroke-width="2.31" stroke-linecap="round"/><path d="M401.2 817.24q3.9 0.9 6.83 6.83q0.4 3.84 4.83 8.37q-3.1 2.03 -1.28 9.58" fill="none" stroke="#F0A070" stroke-width="1.93" stroke-linecap="round"/><path d="M351.06 738.03q-1.46 0.57 -3.06 5.43q-2.41 4.37 0.52 6.21q-4.01 -0.16 -2.78 5.58" fill="none" stroke="#EE9660" stroke-width="2.31" stroke-linecap="round"/><path d="M347.35 723.81q-0.81 2.02 2.04 9.02q1.85 6.96 4.17 8.25q1.72 7.45 -0.95 9.2" fill="none" stroke="#E88A52" stroke-width="2.23" stroke-linecap="round"/></g></g>
<path d="M385.56 802.11L407.33 780.05V791.36H448.33L435.6 802.11L448.33 813.42H407.33V823.88Z" fill="#2AAAE8" stroke="#F2DC98" stroke-width="1.6" stroke-linejoin="miter"/>
<path d="M434.6 755.2H446.8M440.7 750V760.4" stroke="#111" stroke-width="1.9" fill="none"/>
<path d="M434.6 777.8H446.8M440.7 772.6V783" stroke="#111" stroke-width="1.9" fill="none"/>
<path d="M434.6 800.7H446.8M440.7 795.5V805.9" stroke="#111" stroke-width="1.9" fill="none"/>
<path d="M434.6 825.3H446.8M440.7 820.1V830.5" stroke="#111" stroke-width="1.9" fill="none"/>
<path d="M434.6 847.1H446.8M440.7 841.9V852.3" stroke="#111" stroke-width="1.9" fill="none"/>
<path d="M434.6 872.5H446.8M440.7 867.3V877.7" stroke="#111" stroke-width="1.9" fill="none"/>
<path d="M434.6 894.6H446.8M440.7 889.4V899.8" stroke="#111" stroke-width="1.9" fill="none"/>
<circle cx="381.9" cy="688.2" r="14" fill="#DDF1F1" opacity="0.93"/>
<text x="371.54" y="693.99" font-family='"Liberation Sans", sans-serif' font-size="15.66" fill="#111">H<tspan font-size="9.71" dy="-5.64" dx="3.13">+</tspan></text>
<circle cx="403.1" cy="710.8" r="14" fill="#DDF1F1" opacity="0.93"/>
<text x="392.74" y="716.59" font-family='"Liberation Sans", sans-serif' font-size="15.66" fill="#111">H<tspan font-size="9.71" dy="-5.64" dx="3.13">+</tspan></text>
<circle cx="418.6" cy="746.1" r="9.3" fill="#DDF1F1" opacity="0.93"/>
<text x="411.72" y="749.75" font-family='"Liberation Sans", sans-serif' font-size="9.86" fill="#111">H<tspan font-size="6.11" dy="-3.55" dx="1.97">+</tspan></text>
<circle cx="366.9" cy="802.1" r="8.5" fill="#DDF1F1" opacity="0.93"/>
<text x="360.61" y="805.32" font-family='"Liberation Sans", sans-serif' font-size="8.7" fill="#111">H<tspan font-size="5.39" dy="-3.13" dx="1.74">+</tspan></text>
<circle cx="388.4" cy="838.9" r="8.8" fill="#DDF1F1" opacity="0.93"/>
<text x="381.89" y="842.33" font-family='"Liberation Sans", sans-serif' font-size="9.28" fill="#111">H<tspan font-size="5.75" dy="-3.34" dx="1.86">+</tspan></text>
<circle cx="424.3" cy="836.6" r="18" fill="#DDF1F1" opacity="0.93"/>
<text x="410.98" y="843.9" font-family='"Liberation Sans", sans-serif' font-size="19.72" fill="#111">H<tspan font-size="12.23" dy="-7.1" dx="3.94">+</tspan></text>
<circle cx="415.8" cy="896" r="14.3" fill="#DDF1F1" opacity="0.93"/>
<text x="405.22" y="901.79" font-family='"Liberation Sans", sans-serif' font-size="15.66" fill="#111">H<tspan font-size="9.71" dy="-5.64" dx="3.13">+</tspan></text>
</g>
<g id="pb">
<rect x="540.6" y="292.8" width="6.6" height="6.6" fill="#505050" stroke="none" stroke-width="0" />
<rect x="560.6" y="258.86" width="6.6" height="6.6" fill="#505050" stroke="none" stroke-width="0" />
<rect x="580.6" y="224.93" width="6.6" height="6.6" fill="#505050" stroke="none" stroke-width="0" />
<rect x="600.6" y="211.35" width="6.6" height="6.6" fill="#505050" stroke="none" stroke-width="0" />
<rect x="620.6" y="197.78" width="6.6" height="6.6" fill="#505050" stroke="none" stroke-width="0" />
<rect x="640.6" y="177.41" width="6.6" height="6.6" fill="#505050" stroke="none" stroke-width="0" />
<rect x="660.6" y="163.84" width="6.6" height="6.6" fill="#505050" stroke="none" stroke-width="0" />
<rect x="680.6" y="150.26" width="6.6" height="6.6" fill="#505050" stroke="none" stroke-width="0" />
<rect x="700.6" y="136.69" width="6.6" height="6.6" fill="#505050" stroke="none" stroke-width="0" />
<rect x="720.6" y="123.11" width="6.6" height="6.6" fill="#505050" stroke="none" stroke-width="0" />
<rect x="740.6" y="109.54" width="6.6" height="6.6" fill="#505050" stroke="none" stroke-width="0" />
<rect x="760.6" y="95.96" width="6.6" height="6.6" fill="#505050" stroke="none" stroke-width="0" />
<rect x="780.6" y="89.18" width="6.6" height="6.6" fill="#505050" stroke="none" stroke-width="0" />
<rect x="800.6" y="75.6" width="6.6" height="6.6" fill="#505050" stroke="none" stroke-width="0" />
<rect x="820.6" y="62.03" width="6.6" height="6.6" fill="#505050" stroke="none" stroke-width="0" />
<rect x="840.6" y="55.24" width="6.6" height="6.6" fill="#505050" stroke="none" stroke-width="0" />
<circle cx="543.9" cy="296.1" r="3.5" fill="#EE3A3A"/>
<circle cx="563.9" cy="268.95" r="3.5" fill="#EE3A3A"/>
<circle cx="583.9" cy="241.8" r="3.5" fill="#EE3A3A"/>
<circle cx="603.9" cy="228.23" r="3.5" fill="#EE3A3A"/>
<circle cx="623.9" cy="214.65" r="3.5" fill="#EE3A3A"/>
<circle cx="643.9" cy="194.29" r="3.5" fill="#EE3A3A"/>
<circle cx="663.9" cy="180.71" r="3.5" fill="#EE3A3A"/>
<circle cx="683.9" cy="173.93" r="3.5" fill="#EE3A3A"/>
<circle cx="703.9" cy="153.56" r="3.5" fill="#EE3A3A"/>
<circle cx="723.9" cy="146.78" r="3.5" fill="#EE3A3A"/>
<circle cx="743.9" cy="133.2" r="3.5" fill="#EE3A3A"/>
<circle cx="763.9" cy="119.63" r="3.5" fill="#EE3A3A"/>
<circle cx="783.9" cy="106.05" r="3.5" fill="#EE3A3A"/>
<circle cx="803.9" cy="92.48" r="3.5" fill="#EE3A3A"/>
<circle cx="823.9" cy="85.69" r="3.5" fill="#EE3A3A"/>
<circle cx="843.9" cy="78.9" r="3.5" fill="#EE3A3A"/>
<path d="M539.7 299.43L548.1 299.43L543.9 292.03Z" fill="#1A6AE0"/>
<path d="M559.7 279.07L568.1 279.07L563.9 271.67Z" fill="#1A6AE0"/>
<path d="M579.7 265.49L588.1 265.49L583.9 258.09Z" fill="#1A6AE0"/>
<path d="M599.7 251.92L608.1 251.92L603.9 244.52Z" fill="#1A6AE0"/>
<path d="M619.7 242.42L628.1 242.42L623.9 235.02Z" fill="#1A6AE0"/>
<path d="M639.7 234.27L648.1 234.27L643.9 226.87Z" fill="#1A6AE0"/>
<path d="M659.7 224.77L668.1 224.77L663.9 217.37Z" fill="#1A6AE0"/>
<path d="M679.7 217.98L688.1 217.98L683.9 210.58Z" fill="#1A6AE0"/>
<path d="M699.7 211.19L708.1 211.19L703.9 203.79Z" fill="#1A6AE0"/>
<path d="M719.7 204.41L728.1 204.41L723.9 197.01Z" fill="#1A6AE0"/>
<path d="M739.7 197.62L748.1 197.62L743.9 190.22Z" fill="#1A6AE0"/>
<path d="M759.7 190.83L768.1 190.83L763.9 183.43Z" fill="#1A6AE0"/>
<path d="M779.7 185.4L788.1 185.4L783.9 178Z" fill="#1A6AE0"/>
<path d="M799.7 178.61L808.1 178.61L803.9 171.21Z" fill="#1A6AE0"/>
<path d="M819.7 170.47L828.1 170.47L823.9 163.07Z" fill="#1A6AE0"/>
<path d="M839.7 163.68L848.1 163.68L843.9 156.28Z" fill="#1A6AE0"/>
<path d="M539.7 293.77L548.1 293.77L543.9 301.17Z" fill="#2FA45C"/>
<path d="M559.7 291.06L568.1 291.06L563.9 298.46Z" fill="#2FA45C"/>
<path d="M579.7 288.34L588.1 288.34L583.9 295.74Z" fill="#2FA45C"/>
<path d="M599.7 285.63L608.1 285.63L603.9 293.03Z" fill="#2FA45C"/>
<path d="M619.7 283.59L628.1 283.59L623.9 290.99Z" fill="#2FA45C"/>
<path d="M639.7 281.55L648.1 281.55L643.9 288.95Z" fill="#2FA45C"/>
<path d="M659.7 280.2L668.1 280.2L663.9 287.6Z" fill="#2FA45C"/>
<path d="M679.7 278.84L688.1 278.84L683.9 286.24Z" fill="#2FA45C"/>
<path d="M699.7 277.48L708.1 277.48L703.9 284.88Z" fill="#2FA45C"/>
<path d="M719.7 276.12L728.1 276.12L723.9 283.52Z" fill="#2FA45C"/>
<path d="M739.7 274.77L748.1 274.77L743.9 282.17Z" fill="#2FA45C"/>
<path d="M759.7 273.41L768.1 273.41L763.9 280.81Z" fill="#2FA45C"/>
<path d="M779.7 272.05L788.1 272.05L783.9 279.45Z" fill="#2FA45C"/>
<path d="M799.7 270.69L808.1 270.69L803.9 278.09Z" fill="#2FA45C"/>
<path d="M819.7 269.34L828.1 269.34L823.9 276.74Z" fill="#2FA45C"/>
<path d="M839.7 267.98L848.1 267.98L843.9 275.38Z" fill="#2FA45C"/>
<rect x="538.7" y="37.5" width="329.2" height="265.4" fill="none" stroke="#000" stroke-width="2" />
<line x1="533.2" y1="296.1" x2="538.7" y2="296.1" stroke="#000" stroke-width="2" />
<text x="528.2" y="300.9" font-family='"Liberation Sans", sans-serif' font-size="16" font-weight="bold" fill="#000" stroke="#000" stroke-width="0.3" text-anchor="end" letter-spacing="0.5">0.00</text>
<line x1="533.2" y1="241.8" x2="538.7" y2="241.8" stroke="#000" stroke-width="2" />
<text x="528.2" y="246.6" font-family='"Liberation Sans", sans-serif' font-size="16" font-weight="bold" fill="#000" stroke="#000" stroke-width="0.3" text-anchor="end" letter-spacing="0.5">0.04</text>
<line x1="533.2" y1="187.5" x2="538.7" y2="187.5" stroke="#000" stroke-width="2" />
<text x="528.2" y="192.3" font-family='"Liberation Sans", sans-serif' font-size="16" font-weight="bold" fill="#000" stroke="#000" stroke-width="0.3" text-anchor="end" letter-spacing="0.5">0.08</text>
<line x1="533.2" y1="133.2" x2="538.7" y2="133.2" stroke="#000" stroke-width="2" />
<text x="528.2" y="138" font-family='"Liberation Sans", sans-serif' font-size="16" font-weight="bold" fill="#000" stroke="#000" stroke-width="0.3" text-anchor="end" letter-spacing="0.5">0.12</text>
<line x1="533.2" y1="78.9" x2="538.7" y2="78.9" stroke="#000" stroke-width="2" />
<text x="528.2" y="83.7" font-family='"Liberation Sans", sans-serif' font-size="16" font-weight="bold" fill="#000" stroke="#000" stroke-width="0.3" text-anchor="end" letter-spacing="0.5">0.16</text>
<line x1="543.9" y1="302.9" x2="543.9" y2="308.4" stroke="#000" stroke-width="2" />
<text x="543.1" y="324.7" font-family='"Liberation Sans", sans-serif' font-size="16" font-weight="bold" fill="#000" stroke="#000" stroke-width="0.3" text-anchor="middle" letter-spacing="0.5">0</text>
<line x1="593.9" y1="302.9" x2="593.9" y2="308.4" stroke="#000" stroke-width="2" />
<text x="593.1" y="324.7" font-family='"Liberation Sans", sans-serif' font-size="16" font-weight="bold" fill="#000" stroke="#000" stroke-width="0.3" text-anchor="middle" letter-spacing="0.5">5</text>
<line x1="643.9" y1="302.9" x2="643.9" y2="308.4" stroke="#000" stroke-width="2" />
<text x="643.1" y="324.7" font-family='"Liberation Sans", sans-serif' font-size="16" font-weight="bold" fill="#000" stroke="#000" stroke-width="0.3" text-anchor="middle" letter-spacing="0.5">10</text>
<line x1="693.9" y1="302.9" x2="693.9" y2="308.4" stroke="#000" stroke-width="2" />
<text x="693.1" y="324.7" font-family='"Liberation Sans", sans-serif' font-size="16" font-weight="bold" fill="#000" stroke="#000" stroke-width="0.3" text-anchor="middle" letter-spacing="0.5">15</text>
<line x1="743.9" y1="302.9" x2="743.9" y2="308.4" stroke="#000" stroke-width="2" />
<text x="743.1" y="324.7" font-family='"Liberation Sans", sans-serif' font-size="16" font-weight="bold" fill="#000" stroke="#000" stroke-width="0.3" text-anchor="middle" letter-spacing="0.5">20</text>
<line x1="793.9" y1="302.9" x2="793.9" y2="308.4" stroke="#000" stroke-width="2" />
<text x="793.1" y="324.7" font-family='"Liberation Sans", sans-serif' font-size="16" font-weight="bold" fill="#000" stroke="#000" stroke-width="0.3" text-anchor="middle" letter-spacing="0.5">25</text>
<line x1="843.9" y1="302.9" x2="843.9" y2="308.4" stroke="#000" stroke-width="2" />
<text x="843.1" y="324.7" font-family='"Liberation Sans", sans-serif' font-size="16" font-weight="bold" fill="#000" stroke="#000" stroke-width="0.3" text-anchor="middle" letter-spacing="0.5">30</text>
<text x="704" y="354" font-family='"Liberation Sans", sans-serif' font-size="17.5" font-weight="bold" fill="#000" stroke="#000" stroke-width="0.3" text-anchor="middle" >Time (min)</text>
<text transform="translate(489.5,169.6) rotate(-90)" font-family='"Liberation Sans", sans-serif' font-size="17.4" font-weight="bold" fill="#000" stroke="#000" stroke-width="0.3" text-anchor="middle" >Thickness (cm)</text>
<rect x="570.7" y="68" width="6" height="6" fill="#505050" stroke="none" stroke-width="0" />
<circle cx="573.7" cy="88.5" r="3.3" fill="#EE3A3A"/>
<path d="M569.7 108.65L577.7 108.65L573.7 101.65Z" fill="#1A6AE0"/>
<path d="M569.7 121.35L577.7 121.35L573.7 128.35Z" fill="#2FA45C"/>
<text x="593" y="76" font-family='"Liberation Sans", sans-serif' font-size="14" font-weight="bold" fill="#000" stroke="#000" stroke-width="0.3" text-anchor="start" textLength="48.5" lengthAdjust="spacingAndGlyphs">0.2 wt%</text>
<text x="647" y="76" font-family='"Liberation Sans", sans-serif' font-size="14" font-weight="bold" fill="#000" stroke="#000" stroke-width="0.3" text-anchor="start" textLength="29" lengthAdjust="spacingAndGlyphs">10 V</text>
<text x="593" y="93.5" font-family='"Liberation Sans", sans-serif' font-size="14" font-weight="bold" fill="#000" stroke="#000" stroke-width="0.3" text-anchor="start" textLength="48.5" lengthAdjust="spacingAndGlyphs">0.2 wt%</text>
<text x="647" y="93.5" font-family='"Liberation Sans", sans-serif' font-size="14" font-weight="bold" fill="#000" stroke="#000" stroke-width="0.3" text-anchor="start" textLength="20.5" lengthAdjust="spacingAndGlyphs">8 V</text>
<text x="593" y="110.5" font-family='"Liberation Sans", sans-serif' font-size="14" font-weight="bold" fill="#000" stroke="#000" stroke-width="0.3" text-anchor="start" textLength="48.5" lengthAdjust="spacingAndGlyphs">0.2 wt%</text>
<text x="647" y="110.5" font-family='"Liberation Sans", sans-serif' font-size="14" font-weight="bold" fill="#000" stroke="#000" stroke-width="0.3" text-anchor="start" textLength="20.5" lengthAdjust="spacingAndGlyphs">6 V</text>
<text x="593" y="128.5" font-family='"Liberation Sans", sans-serif' font-size="14" font-weight="bold" fill="#000" stroke="#000" stroke-width="0.3" text-anchor="start" textLength="48.5" lengthAdjust="spacingAndGlyphs">0.2 wt%</text>
<text x="647" y="128.5" font-family='"Liberation Sans", sans-serif' font-size="14" font-weight="bold" fill="#000" stroke="#000" stroke-width="0.3" text-anchor="start" textLength="20.5" lengthAdjust="spacingAndGlyphs">4 V</text>
</g>
<g id="pc">
<defs><linearGradient id="barg" x1="0" y1="0" x2="0" y2="1"><stop offset="0" stop-color="#FCC898"/><stop offset="0.3" stop-color="#FAC592"/><stop offset="0.6" stop-color="#E49A66"/><stop offset="1" stop-color="#C6600F"/></linearGradient></defs>
<rect x="976.45" y="299.75" width="65.3" height="4.55" fill="url(#barg)" stroke="#F07D1C" stroke-width="2" />
<rect x="1057.29" y="267.03" width="65.3" height="37.27" fill="url(#barg)" stroke="#F07D1C" stroke-width="2" />
<rect x="1138.13" y="167.92" width="65.3" height="136.38" fill="url(#barg)" stroke="#F07D1C" stroke-width="2" />
<rect x="1218.97" y="90.87" width="65.3" height="213.43" fill="url(#barg)" stroke="#F07D1C" stroke-width="2" />
<line x1="1008.9" y1="298.82" x2="1008.9" y2="300.69" stroke="#FF7F0E" stroke-width="1.9" />
<line x1="1005.3" y1="298.82" x2="1012.5" y2="298.82" stroke="#FF7F0E" stroke-width="1.9" />
<line x1="1005.3" y1="300.69" x2="1012.5" y2="300.69" stroke="#FF7F0E" stroke-width="1.9" />
<line x1="1089.74" y1="263.47" x2="1089.74" y2="270.58" stroke="#FF7F0E" stroke-width="1.9" />
<line x1="1086.14" y1="263.47" x2="1093.34" y2="263.47" stroke="#FF7F0E" stroke-width="1.9" />
<line x1="1086.14" y1="270.58" x2="1093.34" y2="270.58" stroke="#FF7F0E" stroke-width="1.9" />
<line x1="1170.58" y1="158.01" x2="1170.58" y2="177.83" stroke="#FF7F0E" stroke-width="1.9" />
<line x1="1166.98" y1="158.01" x2="1174.18" y2="158.01" stroke="#FF7F0E" stroke-width="1.9" />
<line x1="1166.98" y1="177.83" x2="1174.18" y2="177.83" stroke="#FF7F0E" stroke-width="1.9" />
<line x1="1251.42" y1="75.54" x2="1251.42" y2="106.21" stroke="#FF7F0E" stroke-width="1.9" />
<line x1="1247.82" y1="75.54" x2="1255.02" y2="75.54" stroke="#FF7F0E" stroke-width="1.9" />
<line x1="1247.82" y1="106.21" x2="1255.02" y2="106.21" stroke="#FF7F0E" stroke-width="1.9" />
<rect x="968" y="43" width="324.2" height="261.8" fill="none" stroke="#000" stroke-width="2" />
<line x1="962.5" y1="304.8" x2="968" y2="304.8" stroke="#000" stroke-width="2" />
<text x="956.5" y="309.8" font-family='"Liberation Sans", sans-serif' font-size="16" font-weight="bold" fill="#000" stroke="#000" stroke-width="0.3" text-anchor="end" letter-spacing="0.4">0</text>
<line x1="962.5" y1="267.4" x2="968" y2="267.4" stroke="#000" stroke-width="2" />
<text x="956.5" y="272.4" font-family='"Liberation Sans", sans-serif' font-size="16" font-weight="bold" fill="#000" stroke="#000" stroke-width="0.3" text-anchor="end" letter-spacing="0.4">20</text>
<line x1="962.5" y1="230" x2="968" y2="230" stroke="#000" stroke-width="2" />
<text x="956.5" y="235" font-family='"Liberation Sans", sans-serif' font-size="16" font-weight="bold" fill="#000" stroke="#000" stroke-width="0.3" text-anchor="end" letter-spacing="0.4">40</text>
<line x1="962.5" y1="192.6" x2="968" y2="192.6" stroke="#000" stroke-width="2" />
<text x="956.5" y="197.6" font-family='"Liberation Sans", sans-serif' font-size="16" font-weight="bold" fill="#000" stroke="#000" stroke-width="0.3" text-anchor="end" letter-spacing="0.4">60</text>
<line x1="962.5" y1="155.2" x2="968" y2="155.2" stroke="#000" stroke-width="2" />
<text x="956.5" y="160.2" font-family='"Liberation Sans", sans-serif' font-size="16" font-weight="bold" fill="#000" stroke="#000" stroke-width="0.3" text-anchor="end" letter-spacing="0.4">80</text>
<line x1="962.5" y1="117.8" x2="968" y2="117.8" stroke="#000" stroke-width="2" />
<text x="956.5" y="122.8" font-family='"Liberation Sans", sans-serif' font-size="16" font-weight="bold" fill="#000" stroke="#000" stroke-width="0.3" text-anchor="end" letter-spacing="0.4">100</text>
<line x1="962.5" y1="80.4" x2="968" y2="80.4" stroke="#000" stroke-width="2" />
<text x="956.5" y="85.4" font-family='"Liberation Sans", sans-serif' font-size="16" font-weight="bold" fill="#000" stroke="#000" stroke-width="0.3" text-anchor="end" letter-spacing="0.4">120</text>
<line x1="962.5" y1="43" x2="968" y2="43" stroke="#000" stroke-width="2" />
<text x="956.5" y="48" font-family='"Liberation Sans", sans-serif' font-size="16" font-weight="bold" fill="#000" stroke="#000" stroke-width="0.3" text-anchor="end" letter-spacing="0.4">140</text>
<line x1="1007.7" y1="304.8" x2="1007.7" y2="310.3" stroke="#000" stroke-width="2" />
<text x="1008" y="327.6" font-family='"Liberation Sans", sans-serif' font-size="16" font-weight="bold" fill="#000" stroke="#000" stroke-width="0.3" text-anchor="middle" letter-spacing="0.4">4</text>
<line x1="1088.54" y1="304.8" x2="1088.54" y2="310.3" stroke="#000" stroke-width="2" />
<text x="1088.84" y="327.6" font-family='"Liberation Sans", sans-serif' font-size="16" font-weight="bold" fill="#000" stroke="#000" stroke-width="0.3" text-anchor="middle" letter-spacing="0.4">6</text>
<line x1="1169.38" y1="304.8" x2="1169.38" y2="310.3" stroke="#000" stroke-width="2" />
<text x="1169.68" y="327.6" font-family='"Liberation Sans", sans-serif' font-size="16" font-weight="bold" fill="#000" stroke="#000" stroke-width="0.3" text-anchor="middle" letter-spacing="0.4">8</text>
<line x1="1250.22" y1="304.8" x2="1250.22" y2="310.3" stroke="#000" stroke-width="2" />
<text x="1250.52" y="327.6" font-family='"Liberation Sans", sans-serif' font-size="16" font-weight="bold" fill="#000" stroke="#000" stroke-width="0.3" text-anchor="middle" letter-spacing="0.4">10</text>
<text x="1129" y="354.5" font-family='"Liberation Serif", serif' font-size="15.5" font-weight="bold" fill="#000" stroke="#000" stroke-width="0.3" text-anchor="middle" letter-spacing="1.0">E(V/cm)</text>
<text transform="translate(923,174) rotate(-90)" font-family='"Liberation Sans", sans-serif' font-size="17.3" font-weight="bold" fill="#000" stroke="#000" stroke-width="0.3" text-anchor="middle" >ANF migration speed (10<tspan font-size="11" dy="-8">-7</tspan><tspan dy="8">m/s)</tspan></text>
</g>
<g id="pg">
<path d="M536.7 739.97 L537.53 740.18 L538.36 740.06 L539.18 740.22 L540.01 740.23 L540.84 739.84 L541.67 739.8 L542.5 740.38 L543.32 739.97 L544.15 739.96 L544.98 740.49 L545.81 740.12 L546.64 740.37 L547.46 740.12 L548.29 740.23 L549.12 739.89 L549.95 740.23 L550.78 740.39 L551.6 740.15 L552.43 740.3 L553.26 740.25 L554.09 739.82 L554.92 740.3 L555.74 740.18 L556.57 739.98 L557.4 739.79 L558.23 740.37 L559.06 740.09 L559.88 740.26 L560.71 740.36 L561.54 740.24 L562.37 740.38 L563.2 740 L564.02 740.28 L564.85 740.02 L565.68 740.34 L566.51 740.28 L567.34 739.71 L568.16 739.7 L568.99 739.71 L569.82 740.16 L570.65 739.67 L571.48 739.62 L572.3 739.07 L573.13 738.63 L573.96 737.65 L574.79 737.02 L575.62 737.78 L576.44 738.68 L577.27 739.48 L578.1 739.65 L578.93 740.01 L579.76 740.07 L580.58 740.24 L581.41 740.06 L582.24 739.74 L583.07 740.25 L583.9 740.34 L584.72 740.31 L585.55 740.09 L586.38 740.2 L587.21 739.85 L588.04 740.29 L588.86 740.12 L589.69 739.92 L590.52 739.77 L591.35 740.32 L592.18 740.42 L593 739.79 L593.83 740.29 L594.66 740.01 L595.49 739.83 L596.32 739.93 L597.14 740.26 L597.97 740.33 L598.8 739.75 L599.63 740.15 L600.46 739.75 L601.28 740.22 L602.11 739.95 L602.94 740.33 L603.77 740.4 L604.6 740.07 L605.42 740.41 L606.25 739.93 L607.08 739.76 L607.91 740.12 L608.74 739.72 L609.56 739.84 L610.39 739.98 L611.22 740.12 L612.05 739.8 L612.88 739.72 L613.7 740.29 L614.53 739.9 L615.36 740.35 L616.19 740.3 L617.02 739.93 L617.84 739.99 L618.67 740.02 L619.5 740.11 L620.33 740.07 L621.16 740.04 L621.98 740.07 L622.81 740.29 L623.64 739.98 L624.47 739.92 L625.3 740.11 L626.12 739.76 L626.95 739.79 L627.78 740.25 L628.61 739.91 L629.44 739.91 L630.26 739.51 L631.09 739.75 L631.92 739.81 L632.75 739.34 L633.58 739.64 L634.4 739.45 L635.23 738.7 L636.06 738.52 L636.89 737.89 L637.72 738.28 L638.54 738.66 L639.37 739.33 L640.2 739.58 L641.03 739.2 L641.86 739.3 L642.68 739.76 L643.51 739.98 L644.34 739.49 L645.17 739.63 L646 739.71 L646.82 739.5 L647.65 739.51 L648.48 739.44 L649.31 739.45 L650.14 739.56 L650.96 739.3 L651.79 739.3 L652.62 739.49 L653.45 738.88 L654.28 739.14 L655.1 739.1 L655.93 738.6 L656.76 738.26 L657.59 738.27 L658.42 737.28 L659.24 736.3 L660.07 734.87 L660.9 732.1 L661.73 726.24 L662.56 719.54 L663.38 720.19 L664.21 726.67 L665.04 729.85 L665.87 730.61 L666.7 729.66 L667.52 731.42 L668.35 734.26 L669.18 736.21 L670.01 736.92 L670.84 737.36 L671.66 737.64 L672.49 738.14 L673.32 738.04 L674.15 738.54 L674.98 738.58 L675.8 738.12 L676.63 738.15 L677.46 738.45 L678.29 738.25 L679.12 738.25 L679.94 737.78 L680.77 737.45 L681.6 737.35 L682.43 737.44 L683.26 736.76 L684.08 736.42 L684.91 736 L685.74 735.41 L686.57 734.65 L687.4 734.05 L688.22 732.26 L689.05 730.5 L689.88 728.91 L690.71 725.79 L691.54 721.62 L692.36 715.48 L693.19 708.64 L694.02 701.3 L694.85 696.62 L695.68 698.7 L696.5 705.04 L697.33 712.16 L698.16 718.16 L698.99 722.49 L699.82 725.67 L700.64 727.71 L701.47 728.98 L702.3 730.15 L703.13 730.28 L703.96 730.57 L704.78 729.53 L705.61 729.14 L706.44 727.39 L707.27 725.11 L708.1 721.49 L708.92 716.24 L709.75 708.64 L710.58 698.83 L711.41 690.08 L712.24 685.58 L713.06 689.99 L713.89 699.74 L714.72 709.29 L715.55 716.85 L716.38 722.75 L717.2 726.45 L718.03 729.08 L718.86 731.06 L719.69 733.01 L720.52 733.9 L721.34 735.01 L722.17 735.42 L723 735.87 L723.83 736.56 L724.66 737.14 L725.48 736.99 L726.31 737.68 L727.14 737.98 L727.97 738.08 L728.8 738.23 L729.62 737.78 L730.45 738.3 L731.28 738.53 L732.11 738 L732.94 738.16 L733.76 738.12 L734.59 738.21 L735.42 737.97 L736.25 737.74 L737.08 737.55 L737.9 736.47 L738.73 735.99 L739.56 735.91 L740.39 736.3 L741.22 736.88 L742.04 738.07 L742.87 738.4 L743.7 738.16 L744.53 738.65 L745.36 738.67 L746.18 738.77 L747.01 738.87 L747.84 739.14 L748.67 739.14 L749.5 739.01 L750.32 738.91 L751.15 739.01 L751.98 738.87 L752.81 739.17 L753.64 739.27 L754.46 739.02 L755.29 738.79 L756.12 738.83 L756.95 738.93 L757.78 739.04 L758.6 739.11 L759.43 738.76 L760.26 738.97 L761.09 738.75 L761.92 738.49 L762.74 738.31 L763.57 738.22 L764.4 738.15 L765.23 737.68 L766.06 737.53 L766.88 736.93 L767.71 736.21 L768.54 735.66 L769.37 734.78 L770.2 733.01 L771.02 731.5 L771.85 729.3 L772.68 727.18 L773.51 725.24 L774.34 724.28 L775.16 725.81 L775.99 727.94 L776.82 729.89 L777.65 731.99 L778.48 733.25 L779.3 734.83 L780.13 735.52 L780.96 736.24 L781.79 736.56 L782.62 736.73 L783.44 736.93 L784.27 736.86 L785.1 736.5 L785.93 736.7 L786.76 736.02 L787.58 735.68 L788.41 735.44 L789.24 733.88 L790.07 732.41 L790.9 730.67 L791.72 730.21 L792.55 730.24 L793.38 731.36 L794.21 732.88 L795.04 732.8 L795.86 733.27 L796.69 732.71 L797.52 732 L798.35 730.83 L799.18 728.75 L800 726.3 L800.83 722.03 L801.66 717.06 L802.49 708.75 L803.32 697 L804.14 680.68 L804.97 665.42 L805.8 660.59 L806.63 670.43 L807.46 687.22 L808.28 701.64 L809.11 711.87 L809.94 718.13 L810.77 722.42 L811.6 725.22 L812.42 727.05 L813.25 727.73 L814.08 727.05 L814.91 725.32 L815.74 721.89 L816.56 716.41 L817.39 710.92 L818.22 710.36 L819.05 716.45 L819.88 723.43 L820.7 727.9 L821.53 731.32 L822.36 733 L823.19 734.79 L824.02 735.83 L824.84 736.5 L825.67 736.94 L826.5 737.35 L827.33 737.8 L828.16 738.25 L828.98 737.95 L829.81 738.1 L830.64 738.72 L831.47 738.98 L832.3 738.82 L833.12 738.87 L833.95 739.15 L834.78 738.86 L835.61 738.99 L836.44 739.01 L837.26 739.34 L838.09 739.2 L838.92 739.19 L839.75 739.56 L840.58 739.78 L841.4 739.36 L842.23 739.68 L843.06 739.5 L843.89 739.84 L844.72 739.68 L845.54 739.48 L846.37 739.47 L847.2 739.35 L848.03 739.69 L848.86 739.64 L849.68 739.52 L850.51 739.66 L851.34 739.65 L852.17 739.98 L853 739.56 L853.82 740.16 L854.65 739.82 L855.48 739.91 L856.31 739.83 L857.14 740.1 L857.96 740.1 L858.79 739.93 L859.62 739.88 L860.45 740.06 L861.28 740.16 L862.1 739.85 L862.93 740.09 L863.76 740.26 L864.59 739.92 L865.42 739.76 L866.24 739.77" fill="none" stroke="#000" stroke-width="2.0" stroke-linejoin="round"/>
<path d="M536.7 810.62 L537.53 810.58 L538.36 810.86 L539.18 810.75 L540.01 810.14 L540.84 810.09 L541.67 810.16 L542.5 810.09 L543.32 810.6 L544.15 810.76 L544.98 810.8 L545.81 810.16 L546.64 810.77 L547.46 810.21 L548.29 810.32 L549.12 810.63 L549.95 809.99 L550.78 809.99 L551.6 810.73 L552.43 810.19 L553.26 810.26 L554.09 810.48 L554.92 810.58 L555.74 809.91 L556.57 810.23 L557.4 810.34 L558.23 810.39 L559.06 810.11 L559.88 810.49 L560.71 810.86 L561.54 810.29 L562.37 810.44 L563.2 810.02 L564.02 810.17 L564.85 810.57 L565.68 810.01 L566.51 810.79 L567.34 810.81 L568.16 810 L568.99 810.84 L569.82 810.27 L570.65 810.67 L571.48 810.66 L572.3 810.2 L573.13 810.58 L573.96 810.55 L574.79 810.71 L575.62 810.17 L576.44 810.65 L577.27 810.86 L578.1 810.57 L578.93 810.44 L579.76 810.01 L580.58 810.39 L581.41 810.25 L582.24 810.62 L583.07 810.58 L583.9 810.47 L584.72 810.08 L585.55 810.55 L586.38 810.53 L587.21 810.08 L588.04 810.79 L588.86 810.56 L589.69 810.02 L590.52 810.83 L591.35 810.04 L592.18 810.23 L593 810.62 L593.83 810.5 L594.66 810.45 L595.49 810.55 L596.32 810.36 L597.14 810.21 L597.97 810.08 L598.8 809.97 L599.63 810.62 L600.46 810.65 L601.28 810.44 L602.11 810.64 L602.94 810.26 L603.77 810.17 L604.6 810.28 L605.42 810.77 L606.25 809.94 L607.08 810.4 L607.91 810.15 L608.74 810.67 L609.56 810.25 L610.39 810.23 L611.22 810.3 L612.05 810.44 L612.88 810.67 L613.7 810.25 L614.53 810.75 L615.36 810.01 L616.19 810.17 L617.02 810 L617.84 810.01 L618.67 810.68 L619.5 810.63 L620.33 810.08 L621.16 810.09 L621.98 810.32 L622.81 810.64 L623.64 810.72 L624.47 810.65 L625.3 810.49 L626.12 810.05 L626.95 810.3 L627.78 810.09 L628.61 810.43 L629.44 810.47 L630.26 810.1 L631.09 810.15 L631.92 810.68 L632.75 809.93 L633.58 810.7 L634.4 810.79 L635.23 810.85 L636.06 810.28 L636.89 810.45 L637.72 810.48 L638.54 810.53 L639.37 810.88 L640.2 810.59 L641.03 810.2 L641.86 810.76 L642.68 810.38 L643.51 810.5 L644.34 810.63 L645.17 809.9 L646 810.67 L646.82 810.56 L647.65 810.39 L648.48 810.42 L649.31 810.36 L650.14 810.09 L650.96 810.43 L651.79 809.94 L652.62 810.4 L653.45 810.55 L654.28 810.34 L655.1 810.46 L655.93 810.85 L656.76 810.74 L657.59 809.81 L658.42 809.93 L659.24 808.43 L660.07 805.25 L660.9 801.7 L661.73 797.44 L662.56 794.55 L663.38 794.87 L664.21 797.15 L665.04 798.65 L665.87 800.17 L666.7 800.25 L667.52 800.61 L668.35 803.54 L669.18 806.08 L670.01 808.7 L670.84 809.81 L671.66 810.4 L672.49 810.19 L673.32 810.7 L674.15 810.83 L674.98 810.76 L675.8 810.34 L676.63 810.66 L677.46 810.39 L678.29 810.01 L679.12 809.94 L679.94 809.98 L680.77 810.1 L681.6 810.06 L682.43 810.4 L683.26 810.6 L684.08 810.44 L684.91 810.32 L685.74 810.54 L686.57 810.15 L687.4 810.18 L688.22 810.11 L689.05 808.84 L689.88 806.63 L690.71 803.67 L691.54 797.63 L692.36 789.45 L693.19 780.89 L694.02 773.94 L694.85 770.6 L695.68 771.72 L696.5 777.37 L697.33 785.85 L698.16 794.76 L698.99 800.84 L699.82 805.68 L700.64 807.99 L701.47 809.25 L702.3 809.66 L703.13 809.84 L703.96 809.03 L704.78 807.49 L705.61 804.77 L706.44 799.98 L707.27 792.99 L708.1 783.13 L708.92 772.89 L709.75 764.61 L710.58 759.76 L711.41 760.61 L712.24 765.71 L713.06 775.27 L713.89 785.47 L714.72 794.19 L715.55 801.93 L716.38 805.58 L717.2 807.93 L718.03 809.54 L718.86 809.76 L719.69 810.42 L720.52 810.22 L721.34 810.02 L722.17 809.95 L723 810.63 L723.83 810.18 L724.66 810.69 L725.48 810.37 L726.31 810.83 L727.14 810.2 L727.97 810.15 L728.8 810.17 L729.62 810.71 L730.45 810.53 L731.28 810.24 L732.11 809.98 L732.94 810.55 L733.76 810.8 L734.59 810.36 L735.42 809.65 L736.25 809.49 L737.08 809.3 L737.9 809.1 L738.73 808.7 L739.56 808.53 L740.39 809.05 L741.22 809.37 L742.04 808.87 L742.87 809.91 L743.7 809.69 L744.53 810.26 L745.36 810.56 L746.18 810.7 L747.01 809.87 L747.84 810.18 L748.67 810.5 L749.5 810.84 L750.32 809.99 L751.15 810.19 L751.98 810.75 L752.81 810.01 L753.64 810.29 L754.46 810.23 L755.29 810.58 L756.12 810.83 L756.95 810.07 L757.78 810.64 L758.6 810.63 L759.43 810.74 L760.26 810.45 L761.09 810.82 L761.92 810.26 L762.74 810.31 L763.57 810.11 L764.4 810.63 L765.23 810.27 L766.06 809.91 L766.88 809.55 L767.71 809.65 L768.54 808.88 L769.37 808.14 L770.2 806.88 L771.02 806.12 L771.85 805.21 L772.68 805.62 L773.51 805.26 L774.34 806.42 L775.16 807.63 L775.99 808.46 L776.82 808.66 L777.65 809.37 L778.48 810.35 L779.3 810.35 L780.13 810.7 L780.96 810.74 L781.79 810.34 L782.62 810.79 L783.44 810.63 L784.27 810.23 L785.1 810.27 L785.93 809.97 L786.76 810.27 L787.58 810.74 L788.41 809.6 L789.24 809.41 L790.07 807.82 L790.9 806.46 L791.72 806.14 L792.55 805.84 L793.38 806.68 L794.21 808.11 L795.04 809.63 L795.86 810.06 L796.69 809.49 L797.52 809.16 L798.35 808.41 L799.18 804.47 L800 798.82 L800.83 788.88 L801.66 775.33 L802.49 758.34 L803.32 741.83 L804.14 729.08 L804.97 724.09 L805.8 728.73 L806.63 741.12 L807.46 758.56 L808.28 774.66 L809.11 788.48 L809.94 799.23 L810.77 804.43 L811.6 808.28 L812.42 808.81 L813.25 809.32 L814.08 808.03 L814.91 806.04 L815.74 801.34 L816.56 795.38 L817.39 789.57 L818.22 786.12 L819.05 786.02 L819.88 790.48 L820.7 796.44 L821.53 801.89 L822.36 806.75 L823.19 808.85 L824.02 810.14 L824.84 809.94 L825.67 810.4 L826.5 810.36 L827.33 810.63 L828.16 809.98 L828.98 810.25 L829.81 810.38 L830.64 809.97 L831.47 810.45 L832.3 810.64 L833.12 810.32 L833.95 810.55 L834.78 810.51 L835.61 810.11 L836.44 810.25 L837.26 810.9 L838.09 810.24 L838.92 810.33 L839.75 809.98 L840.58 810.12 L841.4 810.07 L842.23 810.83 L843.06 810.63 L843.89 810.77 L844.72 810.89 L845.54 810.51 L846.37 810.83 L847.2 810.44 L848.03 810.32 L848.86 810.85 L849.68 810.8 L850.51 810.85 L851.34 810.38 L852.17 810.67 L853 810.31 L853.82 810.9 L854.65 810.82 L855.48 810.19 L856.31 810.83 L857.14 810.08 L857.96 810 L858.79 810.62 L859.62 810.19 L860.45 810.42 L861.28 810.54 L862.1 809.94 L862.93 810.65 L863.76 810.18 L864.59 810.33 L865.42 810.24 L866.24 810.64" fill="none" stroke="#F00000" stroke-width="2.0" stroke-linejoin="round"/>
<path d="M536.7 891.5 L537.53 890.94 L538.36 890.72 L539.18 890.96 L540.01 891.09 L540.84 890.69 L541.67 890.78 L542.5 891.52 L543.32 891.44 L544.15 891.77 L544.98 891.78 L545.81 891.65 L546.64 891.05 L547.46 890.79 L548.29 890.97 L549.12 891.16 L549.95 891.23 L550.78 891.25 L551.6 891.03 L552.43 891.62 L553.26 890.94 L554.09 891.16 L554.92 891.66 L555.74 891.57 L556.57 890.96 L557.4 890.89 L558.23 891.57 L559.06 890.61 L559.88 890.76 L560.71 891.24 L561.54 891.24 L562.37 890.8 L563.2 890.66 L564.02 890.84 L564.85 891.52 L565.68 891.15 L566.51 891.74 L567.34 891.41 L568.16 891.37 L568.99 889.67 L569.82 889 L570.65 887.97 L571.48 888.12 L572.3 888.36 L573.13 888.84 L573.96 890.28 L574.79 890.31 L575.62 890.84 L576.44 890.86 L577.27 891.56 L578.1 891.1 L578.93 890.91 L579.76 890.65 L580.58 891.12 L581.41 891.35 L582.24 891.41 L583.07 891.7 L583.9 891.57 L584.72 890.9 L585.55 890.76 L586.38 891.51 L587.21 891.55 L588.04 891.21 L588.86 891.6 L589.69 891.26 L590.52 890.94 L591.35 890.8 L592.18 890.62 L593 891.37 L593.83 891.68 L594.66 891.69 L595.49 891.16 L596.32 891.4 L597.14 891.71 L597.97 891.58 L598.8 891.32 L599.63 891.1 L600.46 891.22 L601.28 890.8 L602.11 890.82 L602.94 891.42 L603.77 891.79 L604.6 891.26 L605.42 891.09 L606.25 891.02 L607.08 891.15 L607.91 891.56 L608.74 891.14 L609.56 891.75 L610.39 890.79 L611.22 890.98 L612.05 891.23 L612.88 891.09 L613.7 891.62 L614.53 891.59 L615.36 891.72 L616.19 891.33 L617.02 890.64 L617.84 891.29 L618.67 891.26 L619.5 891.19 L620.33 890.94 L621.16 891.45 L621.98 891.69 L622.81 890.72 L623.64 891.4 L624.47 891.03 L625.3 891.16 L626.12 891.5 L626.95 891.29 L627.78 890.32 L628.61 888.7 L629.44 887.92 L630.26 884.9 L631.09 882.92 L631.92 881.74 L632.75 880.48 L633.58 881.07 L634.4 883.6 L635.23 885.82 L636.06 887.2 L636.89 888.94 L637.72 889.88 L638.54 890.3 L639.37 890.72 L640.2 891.7 L641.03 890.63 L641.86 890.71 L642.68 890.41 L643.51 889.72 L644.34 889.38 L645.17 888.54 L646 887.63 L646.82 886.87 L647.65 887.32 L648.48 887.19 L649.31 888.61 L650.14 890.33 L650.96 889.77 L651.79 890.04 L652.62 889.89 L653.45 888.83 L654.28 888.05 L655.1 886.14 L655.93 885.12 L656.76 885.08 L657.59 883.77 L658.42 885.02 L659.24 885.06 L660.07 887.28 L660.9 888.2 L661.73 889.31 L662.56 889.56 L663.38 890.03 L664.21 891.2 L665.04 890.68 L665.87 890.77 L666.7 891.57 L667.52 891.64 L668.35 890.66 L669.18 891.75 L670.01 891.24 L670.84 891.06 L671.66 890.73 L672.49 891.07 L673.32 891.79 L674.15 890.94 L674.98 890.76 L675.8 890.77 L676.63 890.75 L677.46 891.02 L678.29 891.67 L679.12 890.61 L679.94 890.6 L680.77 891.15 L681.6 890.51 L682.43 889.25 L683.26 886.52 L684.08 884.35 L684.91 882.79 L685.74 880.62 L686.57 880.47 L687.4 880.94 L688.22 882.55 L689.05 885.29 L689.88 887.93 L690.71 889.58 L691.54 890.33 L692.36 890.75 L693.19 891.09 L694.02 891.08 L694.85 891.22 L695.68 891.53 L696.5 890.58 L697.33 890.63 L698.16 890.49 L698.99 890.12 L699.82 889.58 L700.64 891.05 L701.47 891.29 L702.3 890.54 L703.13 890.39 L703.96 889.72 L704.78 888.6 L705.61 888.58 L706.44 886.92 L707.27 887.04 L708.1 886.34 L708.92 886.8 L709.75 888.21 L710.58 887.68 L711.41 886.1 L712.24 882.16 L713.06 876.34 L713.89 868.88 L714.72 858.51 L715.55 848.47 L716.38 838.11 L717.2 829.46 L718.03 825.15 L718.86 824.36 L719.69 828.6 L720.52 836.16 L721.34 846.08 L722.17 856.76 L723 866.91 L723.83 875.55 L724.66 881.66 L725.48 885.81 L726.31 888.46 L727.14 889.36 L727.97 891.03 L728.8 890.6 L729.62 890.61 L730.45 891.15 L731.28 891.46 L732.11 891 L732.94 891.37 L733.76 890.94 L734.59 891.76 L735.42 891.14 L736.25 891.17 L737.08 891.24 L737.9 891.65 L738.73 891.78 L739.56 891.23 L740.39 891.13 L741.22 891.34 L742.04 890.68 L742.87 891.11 L743.7 891.62 L744.53 891.53 L745.36 890.67 L746.18 891.63 L747.01 891.06 L747.84 891.78 L748.67 891.04 L749.5 890.86 L750.32 891.26 L751.15 891.66 L751.98 891.12 L752.81 891.64 L753.64 891.45 L754.46 891.03 L755.29 890.96 L756.12 891.21 L756.95 891.08 L757.78 891.05 L758.6 891.38 L759.43 891.65 L760.26 891.3 L761.09 890.78 L761.92 890.86 L762.74 891.05 L763.57 891.34 L764.4 890.77 L765.23 890.7 L766.06 890.98 L766.88 890.92 L767.71 890.59 L768.54 891.11 L769.37 891.34 L770.2 890.37 L771.02 889.57 L771.85 887.73 L772.68 884.46 L773.51 879.59 L774.34 872.31 L775.16 864.59 L775.99 855.66 L776.82 849.58 L777.65 844.78 L778.48 844.49 L779.3 848.49 L780.13 854.31 L780.96 862.32 L781.79 871.24 L782.62 878 L783.44 882.71 L784.27 886.22 L785.1 888.75 L785.93 889.37 L786.76 890.41 L787.58 888.39 L788.41 885.24 L789.24 879.43 L790.07 871.3 L790.9 862.78 L791.72 857.85 L792.55 858.49 L793.38 864.24 L794.21 872.29 L795.04 880.75 L795.86 884.51 L796.69 883.93 L797.52 880.72 L798.35 874.27 L799.18 865.79 L800 856.19 L800.83 850.6 L801.66 850.62 L802.49 855.19 L803.32 863.89 L804.14 872.82 L804.97 879.92 L805.8 885.39 L806.63 888.73 L807.46 890.65 L808.28 890.49 L809.11 890.97 L809.94 890.68 L810.77 891.36 L811.6 890.63 L812.42 891.72 L813.25 891.23 L814.08 891.29 L814.91 890.7 L815.74 890.88 L816.56 891.16 L817.39 891.63 L818.22 891.25 L819.05 890.94 L819.88 891.78 L820.7 891.39 L821.53 891.23 L822.36 890.84 L823.19 890.96 L824.02 891.68 L824.84 890.76 L825.67 891.24 L826.5 891.34 L827.33 891.03 L828.16 891.52 L828.98 891.69 L829.81 891.63 L830.64 891.49 L831.47 890.84 L832.3 890.67 L833.12 891.12 L833.95 890.97 L834.78 890.83 L835.61 891.65 L836.44 890.86 L837.26 891.59 L838.09 891.73 L838.92 890.74 L839.75 891.7 L840.58 891.08 L841.4 890.85 L842.23 890.82 L843.06 890.65 L843.89 891.2 L844.72 891.06 L845.54 891.62 L846.37 891.6 L847.2 890.67 L848.03 891.08 L848.86 891.07 L849.68 890.81 L850.51 890.9 L851.34 890.92 L852.17 891.43 L853 891.01 L853.82 890.73 L854.65 890.86 L855.48 891.13 L856.31 891.28 L857.14 890.89 L857.96 891.44 L858.79 890.86 L859.62 891.4 L860.45 891.33 L861.28 890.81 L862.1 891.5 L862.93 891.07 L863.76 891.25 L864.59 891.32 L865.42 891.35 L866.24 891.13" fill="none" stroke="#0A0AF0" stroke-width="2.0" stroke-linejoin="round"/>
<rect x="535.9" y="649.2" width="333.2" height="268.4" fill="none" stroke="#000" stroke-width="2" />
<line x1="536.7" y1="917.6" x2="536.7" y2="920.6" stroke="#000" stroke-width="2" />
<text x="537" y="933.5" font-family='"Liberation Sans", sans-serif' font-size="14.2" font-weight="bold" fill="#000" stroke="#000" stroke-width="0.3" text-anchor="middle" letter-spacing="0.2">800</text>
<line x1="602.94" y1="917.6" x2="602.94" y2="920.6" stroke="#000" stroke-width="2" />
<text x="603.24" y="933.5" font-family='"Liberation Sans", sans-serif' font-size="14.2" font-weight="bold" fill="#000" stroke="#000" stroke-width="0.3" text-anchor="middle" letter-spacing="0.2">1000</text>
<line x1="669.18" y1="917.6" x2="669.18" y2="920.6" stroke="#000" stroke-width="2" />
<text x="669.48" y="933.5" font-family='"Liberation Sans", sans-serif' font-size="14.2" font-weight="bold" fill="#000" stroke="#000" stroke-width="0.3" text-anchor="middle" letter-spacing="0.2">1200</text>
<line x1="735.42" y1="917.6" x2="735.42" y2="920.6" stroke="#000" stroke-width="2" />
<text x="735.72" y="933.5" font-family='"Liberation Sans", sans-serif' font-size="14.2" font-weight="bold" fill="#000" stroke="#000" stroke-width="0.3" text-anchor="middle" letter-spacing="0.2">1400</text>
<line x1="801.66" y1="917.6" x2="801.66" y2="920.6" stroke="#000" stroke-width="2" />
<text x="801.96" y="933.5" font-family='"Liberation Sans", sans-serif' font-size="14.2" font-weight="bold" fill="#000" stroke="#000" stroke-width="0.3" text-anchor="middle" letter-spacing="0.2">1600</text>
<line x1="867.9" y1="917.6" x2="867.9" y2="920.6" stroke="#000" stroke-width="2" />
<text x="868.2" y="933.5" font-family='"Liberation Sans", sans-serif' font-size="14.2" font-weight="bold" fill="#000" stroke="#000" stroke-width="0.3" text-anchor="middle" letter-spacing="0.2">1800</text>
<line x1="569.82" y1="917.6" x2="569.82" y2="919.6" stroke="#000" stroke-width="1.2" />
<line x1="636.06" y1="917.6" x2="636.06" y2="919.6" stroke="#000" stroke-width="1.2" />
<line x1="702.3" y1="917.6" x2="702.3" y2="919.6" stroke="#000" stroke-width="1.2" />
<line x1="768.54" y1="917.6" x2="768.54" y2="919.6" stroke="#000" stroke-width="1.2" />
<line x1="834.78" y1="917.6" x2="834.78" y2="919.6" stroke="#000" stroke-width="1.2" />
<text x="625.8" y="962.7" font-family='"Liberation Sans", sans-serif' font-size="18" font-weight="bold" fill="#000" stroke="#000" stroke-width="0.3" text-anchor="start" >Wavenumber (cm <tspan font-size="11.5" dy="-8">-1</tspan><tspan dy="8">)</tspan></text>
<text transform="translate(515.5,784.3) rotate(-90)" font-family='"Liberation Sans", sans-serif' font-size="19.2" font-weight="bold" fill="#000" stroke="#000" stroke-width="0.3" text-anchor="middle" >Intensity (arb. units)</text>
<text x="541.4" y="717.8" font-family='"Liberation Sans", sans-serif' font-size="12.3" font-weight="bold" fill="#968C14" stroke="#968C14" stroke-width="0.3" text-anchor="start" textLength="75.5" lengthAdjust="spacingAndGlyphs">Kevlar fibers</text>
<text x="538.4" y="789.3" font-family='"Liberation Sans", sans-serif' font-size="12.3" font-weight="bold" fill="#FF8C1E" stroke="#FF8C1E" stroke-width="0.3" text-anchor="start" textLength="92" lengthAdjust="spacingAndGlyphs">ANF organogel</text>
<text x="539" y="863.5" font-family='"Liberation Sans", sans-serif' font-size="12.6" font-weight="bold" fill="#FF0A0A" stroke="#FF0A0A" stroke-width="0.3" text-anchor="start" textLength="119" lengthAdjust="spacingAndGlyphs">ANF DMSO solution</text>
</g>
<g id="ph">
<defs>
<filter id="hb1" x="-20%" y="-20%" width="140%" height="140%"><feGaussianBlur stdDeviation="1.0"/></filter>
<filter id="hb2" x="-20%" y="-20%" width="140%" height="140%"><feGaussianBlur stdDeviation="2.5"/></filter>
<linearGradient id="hbg" x1="0" x2="1" y1="0" y2="0"><stop offset="0" stop-color="#4C3A42"/><stop offset="0.4" stop-color="#483840"/><stop offset="0.6" stop-color="#3C2A2C"/><stop offset="1" stop-color="#2E1C1A"/></linearGradient>
</defs>
<clipPath id="hc1"><rect x="977.2" y="805" width="147.1" height="76.6"/></clipPath><linearGradient id="hgel1" x1="1045" x2="1124.3" y1="0" y2="0" gradientUnits="userSpaceOnUse"><stop offset="0" stop-color="#8C8A54"/><stop offset="0.12" stop-color="#B8922C"/><stop offset="0.3" stop-color="#C87C1C"/><stop offset="0.55" stop-color="#B4601A"/><stop offset="0.72" stop-color="#6A3418"/><stop offset="0.8" stop-color="#3C2018"/><stop offset="1" stop-color="#34201C"/></linearGradient><rect x="977.2" y="805" width="147.1" height="76.6" fill="url(#hbg)" stroke="none" stroke-width="0" /><g clip-path="url(#hc1)"><g filter="url(#hb2)"><path d="M1058 800Q1041 843.3 1043 886.6L1132.3 886.6L1132.3 800Z" fill="url(#hgel1)"/></g><g filter="url(#hb1)"><ellipse cx="1055.68" cy="803.95" rx="2.28" ry="5.11" fill="#B4BEE4" opacity="0.57"/><ellipse cx="1060.68" cy="805.95" rx="3.13" ry="3.03" fill="#A8A850" opacity="0.6"/><ellipse cx="1052.64" cy="815.92" rx="1.99" ry="6.48" fill="#B4BEE4" opacity="0.51"/><ellipse cx="1057.64" cy="817.92" rx="4.67" ry="3.95" fill="#A8A850" opacity="0.6"/><ellipse cx="1050.8" cy="824.71" rx="2.83" ry="6.04" fill="#B4BEE4" opacity="0.53"/><ellipse cx="1055.8" cy="826.71" rx="4.48" ry="4.34" fill="#A8A850" opacity="0.6"/><ellipse cx="1051.97" cy="831.98" rx="2.74" ry="4.05" fill="#B4BEE4" opacity="0.36"/><ellipse cx="1056.97" cy="833.98" rx="4.73" ry="3.95" fill="#A8A850" opacity="0.6"/><ellipse cx="1051.27" cy="844.18" rx="3" ry="6.22" fill="#B4BEE4" opacity="0.49"/><ellipse cx="1056.27" cy="846.18" rx="4.6" ry="3.89" fill="#A8A850" opacity="0.6"/><ellipse cx="1050.15" cy="854.62" rx="1.7" ry="3.48" fill="#B4BEE4" opacity="0.43"/><ellipse cx="1055.15" cy="856.62" rx="4.93" ry="3.87" fill="#A8A850" opacity="0.6"/><ellipse cx="1046.76" cy="862.96" rx="2.57" ry="4.35" fill="#B4BEE4" opacity="0.47"/><ellipse cx="1051.76" cy="864.96" rx="4.17" ry="4.17" fill="#A8A850" opacity="0.6"/><ellipse cx="1047.24" cy="873.64" rx="3.45" ry="6" fill="#B4BEE4" opacity="0.7"/><ellipse cx="1052.24" cy="875.64" rx="4.34" ry="3.33" fill="#A8A850" opacity="0.6"/><ellipse cx="1047.36" cy="883.04" rx="3.4" ry="4.99" fill="#B4BEE4" opacity="0.6"/><ellipse cx="1052.36" cy="885.04" rx="3.42" ry="4.66" fill="#A8A850" opacity="0.6"/><ellipse cx="1069.09" cy="848.93" rx="1.58" ry="6.83" fill="#D87414" opacity="0.45" transform="rotate(-10.66 1069.09 848.93)"/><ellipse cx="1059.22" cy="831.36" rx="1.02" ry="5.56" fill="#E8A824" opacity="0.55" transform="rotate(-13.39 1059.22 831.36)"/><ellipse cx="1088.32" cy="814.11" rx="1.45" ry="6.52" fill="#E08A18" opacity="0.31" transform="rotate(-7.97 1088.32 814.11)"/><ellipse cx="1066.64" cy="875.62" rx="2.2" ry="4.86" fill="#C86414" opacity="0.46" transform="rotate(-26.92 1066.64 875.62)"/><ellipse cx="1055.07" cy="850.94" rx="2.17" ry="4.75" fill="#C86414" opacity="0.57" transform="rotate(-19.47 1055.07 850.94)"/><ellipse cx="1106.89" cy="857.83" rx="1.38" ry="8.75" fill="#A85010" opacity="0.14" transform="rotate(5.87 1106.89 857.83)"/><ellipse cx="1079.62" cy="833.94" rx="1.46" ry="8.2" fill="#7A3A14" opacity="0.37" transform="rotate(-2.76 1079.62 833.94)"/><ellipse cx="1106.65" cy="812.86" rx="1.33" ry="6.81" fill="#7A3A14" opacity="0.15" transform="rotate(-1.38 1106.65 812.86)"/><ellipse cx="1075.66" cy="876.73" rx="1.63" ry="6.29" fill="#E8B030" opacity="0.39" transform="rotate(-29.54 1075.66 876.73)"/><ellipse cx="1085.76" cy="836.81" rx="1.45" ry="6.54" fill="#E08A18" opacity="0.32" transform="rotate(-24.67 1085.76 836.81)"/><ellipse cx="1071.32" cy="853.53" rx="1.82" ry="5.12" fill="#A85010" opacity="0.43" transform="rotate(-1.72 1071.32 853.53)"/><ellipse cx="1053.4" cy="861.53" rx="2.15" ry="3.13" fill="#E08A18" opacity="0.57" transform="rotate(-15.23 1053.4 861.53)"/><ellipse cx="1069.5" cy="853.1" rx="1.21" ry="4.11" fill="#A85010" opacity="0.45" transform="rotate(0.32 1069.5 853.1)"/><ellipse cx="1066.25" cy="869.64" rx="1.13" ry="7.88" fill="#D8982A" opacity="0.46" transform="rotate(8.85 1066.25 869.64)"/><ellipse cx="1059.9" cy="857.37" rx="1.27" ry="7.82" fill="#7A3A14" opacity="0.52" transform="rotate(-20.45 1059.9 857.37)"/><ellipse cx="1079.41" cy="819.35" rx="1.12" ry="4.93" fill="#D87414" opacity="0.39" transform="rotate(-16.65 1079.41 819.35)"/><ellipse cx="1076.19" cy="868.85" rx="1.1" ry="7.45" fill="#E8A824" opacity="0.39" transform="rotate(-21.28 1076.19 868.85)"/><ellipse cx="1068.35" cy="848.54" rx="1.04" ry="8.75" fill="#D87414" opacity="0.46" transform="rotate(-17.39 1068.35 848.54)"/><ellipse cx="1083.91" cy="869.05" rx="1.41" ry="7.97" fill="#E8B030" opacity="0.32" transform="rotate(-26.58 1083.91 869.05)"/><ellipse cx="1085.5" cy="852.44" rx="1.35" ry="7.76" fill="#D8982A" opacity="0.32" transform="rotate(-19.15 1085.5 852.44)"/><ellipse cx="1077.51" cy="831.53" rx="1.68" ry="3.21" fill="#D8982A" opacity="0.39" transform="rotate(-13.47 1077.51 831.53)"/><ellipse cx="1081.47" cy="820.29" rx="1.52" ry="8.7" fill="#7A3A14" opacity="0.37" transform="rotate(7.1 1081.47 820.29)"/><ellipse cx="1095.02" cy="822.01" rx="2.16" ry="6.26" fill="#7A3A14" opacity="0.25" transform="rotate(5.59 1095.02 822.01)"/><ellipse cx="1099.92" cy="870.99" rx="1.14" ry="4.47" fill="#E8B030" opacity="0.2" transform="rotate(-28.59 1099.92 870.99)"/><ellipse cx="1080.5" cy="866.51" rx="2.08" ry="8.4" fill="#C86414" opacity="0.35" transform="rotate(-6.92 1080.5 866.51)"/><ellipse cx="1095.69" cy="806.01" rx="1.6" ry="4.43" fill="#E8A824" opacity="0.25" transform="rotate(-29.21 1095.69 806.01)"/><ellipse cx="1056.8" cy="846.13" rx="1.41" ry="4.51" fill="#D87414" opacity="0.56" transform="rotate(4.47 1056.8 846.13)"/><ellipse cx="1096.35" cy="841.55" rx="1.26" ry="3.73" fill="#A85010" opacity="0.23" transform="rotate(5.51 1096.35 841.55)"/><ellipse cx="1070.11" cy="814.13" rx="2.11" ry="7.84" fill="#E8B030" opacity="0.47" transform="rotate(2.94 1070.11 814.13)"/><ellipse cx="1090.1" cy="805.57" rx="1.06" ry="4.63" fill="#D8982A" opacity="0.3" transform="rotate(-19.26 1090.1 805.57)"/><ellipse cx="1076.85" cy="845.39" rx="1.39" ry="7.92" fill="#98984A" opacity="0.39" transform="rotate(4.28 1076.85 845.39)"/><ellipse cx="1054.44" cy="864.38" rx="1.08" ry="8.85" fill="#E08A18" opacity="0.56" transform="rotate(4.18 1054.44 864.38)"/><ellipse cx="1083.4" cy="811.6" rx="1.19" ry="3.43" fill="#A85010" opacity="0.36" transform="rotate(-14.57 1083.4 811.6)"/><ellipse cx="1071.32" cy="834.85" rx="1.23" ry="4.97" fill="#E8B030" opacity="0.44" transform="rotate(-25.05 1071.32 834.85)"/><ellipse cx="1092.6" cy="847.55" rx="1.95" ry="6.4" fill="#D8982A" opacity="0.26" transform="rotate(-28.28 1092.6 847.55)"/><ellipse cx="1089.33" cy="840.3" rx="1.46" ry="7.81" fill="#7A3A14" opacity="0.29" transform="rotate(-5.08 1089.33 840.3)"/><ellipse cx="1074.67" cy="838.06" rx="1.91" ry="4.89" fill="#98984A" opacity="0.41" transform="rotate(8.01 1074.67 838.06)"/><ellipse cx="1055.97" cy="837.04" rx="1.64" ry="7.17" fill="#C86414" opacity="0.57" transform="rotate(-27.14 1055.97 837.04)"/><ellipse cx="1077.55" cy="837.55" rx="2.12" ry="5.25" fill="#E08A18" opacity="0.39" transform="rotate(5.91 1077.55 837.55)"/><ellipse cx="1066.47" cy="865.58" rx="1.83" ry="8.63" fill="#98984A" opacity="0.46" transform="rotate(-0.74 1066.47 865.58)"/><ellipse cx="1081.32" cy="870.09" rx="1.8" ry="7.4" fill="#D8982A" opacity="0.34" transform="rotate(-7.45 1081.32 870.09)"/><ellipse cx="1087.54" cy="812.9" rx="1.57" ry="4.42" fill="#E08A18" opacity="0.32" transform="rotate(-14.45 1087.54 812.9)"/><ellipse cx="1084.48" cy="845.38" rx="1.21" ry="3.14" fill="#D8982A" opacity="0.33" transform="rotate(3.66 1084.48 845.38)"/><ellipse cx="1100.22" cy="814.29" rx="2" ry="8.71" fill="#98984A" opacity="0.21" transform="rotate(-6.84 1100.22 814.29)"/><ellipse cx="1053.69" cy="866.18" rx="1.63" ry="4.43" fill="#7A3A14" opacity="0.56" transform="rotate(-7.82 1053.69 866.18)"/><ellipse cx="1085.85" cy="812.65" rx="1.39" ry="6.38" fill="#7A3A14" opacity="0.33" transform="rotate(3.12 1085.85 812.65)"/><ellipse cx="1065.99" cy="823.55" rx="1.54" ry="7.2" fill="#C86414" opacity="0.5" transform="rotate(7.7 1065.99 823.55)"/><ellipse cx="1087.44" cy="824.37" rx="1.67" ry="8.8" fill="#A85010" opacity="0.31" transform="rotate(-14.99 1087.44 824.37)"/><ellipse cx="1104.39" cy="823.02" rx="1.5" ry="6.41" fill="#E8A824" opacity="0.17" transform="rotate(-6.81 1104.39 823.02)"/><ellipse cx="1089.96" cy="875.77" rx="1.77" ry="8.38" fill="#E8A824" opacity="0.28" transform="rotate(-24.03 1089.96 875.77)"/><ellipse cx="1095.53" cy="812.34" rx="2.14" ry="6.52" fill="#7A3A14" opacity="0.25" transform="rotate(4.32 1095.53 812.34)"/><ellipse cx="1095.6" cy="815.44" rx="1.7" ry="4.89" fill="#E8A824" opacity="0.25" transform="rotate(-20.71 1095.6 815.44)"/><ellipse cx="1105.42" cy="857.94" rx="1.81" ry="8.13" fill="#E8B030" opacity="0.16" transform="rotate(-6.19 1105.42 857.94)"/><ellipse cx="1107.11" cy="849.78" rx="1.37" ry="4.61" fill="#C86414" opacity="0.14" transform="rotate(2.16 1107.11 849.78)"/><ellipse cx="1086.16" cy="820.37" rx="1.39" ry="7.65" fill="#C86414" opacity="0.33" transform="rotate(-24.26 1086.16 820.37)"/><ellipse cx="1077.85" cy="880.93" rx="1.56" ry="8.01" fill="#C86414" opacity="0.37" transform="rotate(2.86 1077.85 880.93)"/><ellipse cx="1079.85" cy="847.68" rx="2.03" ry="5.4" fill="#D87414" opacity="0.37" transform="rotate(-0.66 1079.85 847.68)"/><ellipse cx="1077.28" cy="878.56" rx="2.07" ry="6.89" fill="#C86414" opacity="0.37" transform="rotate(1.09 1077.28 878.56)"/><ellipse cx="1069.51" cy="810.31" rx="1.29" ry="4.14" fill="#E8B030" opacity="0.48" transform="rotate(-19.66 1069.51 810.31)"/><ellipse cx="1093.05" cy="819.34" rx="2.08" ry="4.53" fill="#E08A18" opacity="0.27" transform="rotate(4.6 1093.05 819.34)"/><ellipse cx="1078.04" cy="829.01" rx="1.14" ry="4.59" fill="#D87414" opacity="0.39" transform="rotate(6.55 1078.04 829.01)"/><ellipse cx="1081.33" cy="807.77" rx="1.01" ry="5.01" fill="#A85010" opacity="0.38" transform="rotate(-12.55 1081.33 807.77)"/><ellipse cx="1065.65" cy="842.22" rx="1.47" ry="6.27" fill="#98984A" opacity="0.49" transform="rotate(-25.23 1065.65 842.22)"/><ellipse cx="1090.75" cy="826.05" rx="1.53" ry="6.16" fill="#D87414" opacity="0.28" transform="rotate(-19.96 1090.75 826.05)"/><ellipse cx="1091.84" cy="845.42" rx="1.91" ry="4.77" fill="#A85010" opacity="0.27" transform="rotate(-2.96 1091.84 845.42)"/><ellipse cx="1097.31" cy="855.1" rx="1.13" ry="8.67" fill="#E8B030" opacity="0.22" transform="rotate(-16.46 1097.31 855.1)"/><ellipse cx="1082.22" cy="848.36" rx="1.61" ry="3.36" fill="#98984A" opacity="0.35" transform="rotate(-18.22 1082.22 848.36)"/><ellipse cx="1093.63" cy="860.76" rx="1.21" ry="8.34" fill="#E8A824" opacity="0.25" transform="rotate(-3.79 1093.63 860.76)"/><ellipse cx="1104.6" cy="814.43" rx="2.1" ry="6.87" fill="#E8A824" opacity="0.17" transform="rotate(-4.02 1104.6 814.43)"/><ellipse cx="1070.93" cy="837.18" rx="1.55" ry="4.87" fill="#E8A824" opacity="0.45" transform="rotate(-22.94 1070.93 837.18)"/><ellipse cx="1094.03" cy="810.25" rx="1.65" ry="7.44" fill="#7A3A14" opacity="0.26" transform="rotate(-15.63 1094.03 810.25)"/><ellipse cx="1076.27" cy="825.36" rx="1.05" ry="6.03" fill="#E8A824" opacity="0.41" transform="rotate(-20.11 1076.27 825.36)"/><ellipse cx="1071.76" cy="863.9" rx="2.13" ry="5.69" fill="#A85010" opacity="0.42" transform="rotate(2.37 1071.76 863.9)"/><ellipse cx="1083.31" cy="810.3" rx="1.18" ry="6.54" fill="#D87414" opacity="0.36" transform="rotate(-2.74 1083.31 810.3)"/><ellipse cx="1103.11" cy="848.23" rx="1.22" ry="4.14" fill="#D87414" opacity="0.18" transform="rotate(-13.33 1103.11 848.23)"/><ellipse cx="1097.7" cy="861.94" rx="1.71" ry="3.88" fill="#E8A824" opacity="0.22" transform="rotate(-14.06 1097.7 861.94)"/><ellipse cx="1084.05" cy="819.83" rx="1.24" ry="4.5" fill="#E8A824" opacity="0.34" transform="rotate(1.27 1084.05 819.83)"/><ellipse cx="1098.43" cy="807.3" rx="2.14" ry="5.3" fill="#D8982A" opacity="0.22" transform="rotate(-7.9 1098.43 807.3)"/><ellipse cx="1088.04" cy="849.66" rx="1.82" ry="4.8" fill="#7A3A14" opacity="0.3" transform="rotate(4.4 1088.04 849.66)"/><ellipse cx="1086.63" cy="842.08" rx="1.13" ry="7.54" fill="#E08A18" opacity="0.31" transform="rotate(-20.65 1086.63 842.08)"/><ellipse cx="1089.08" cy="818.26" rx="1.23" ry="6.18" fill="#C86414" opacity="0.3" transform="rotate(-28.52 1089.08 818.26)"/><ellipse cx="1088.97" cy="843.33" rx="1.13" ry="4.7" fill="#98984A" opacity="0.29" transform="rotate(-3.7 1088.97 843.33)"/><ellipse cx="1081.24" cy="816.69" rx="1.75" ry="3.3" fill="#D87414" opacity="0.37" transform="rotate(-15.6 1081.24 816.69)"/><ellipse cx="1060.86" cy="822.88" rx="1.02" ry="5.04" fill="#7A3A14" opacity="0.54" transform="rotate(-16.87 1060.86 822.88)"/><ellipse cx="1091.98" cy="831.34" rx="2.03" ry="6.61" fill="#D87414" opacity="0.27" transform="rotate(7.08 1091.98 831.34)"/><ellipse cx="1093.51" cy="859.84" rx="2.2" ry="4.23" fill="#A85010" opacity="0.25" transform="rotate(-27.47 1093.51 859.84)"/><ellipse cx="1092.72" cy="820.32" rx="1.58" ry="3.65" fill="#C86414" opacity="0.27" transform="rotate(-28.29 1092.72 820.32)"/><ellipse cx="1068.58" cy="810.97" rx="1.47" ry="5.84" fill="#E8A824" opacity="0.49" transform="rotate(-27.28 1068.58 810.97)"/><ellipse cx="1063.04" cy="870.25" rx="1.37" ry="5.79" fill="#98984A" opacity="0.49" transform="rotate(0.28 1063.04 870.25)"/><ellipse cx="1064.72" cy="835.75" rx="1.86" ry="5.2" fill="#E08A18" opacity="0.5" transform="rotate(-15.16 1064.72 835.75)"/><ellipse cx="1086.2" cy="845.55" rx="2.16" ry="7.83" fill="#C86414" opacity="0.32" transform="rotate(-19.65 1086.2 845.55)"/><ellipse cx="1100.41" cy="833.31" rx="1.23" ry="4.26" fill="#7A3A14" opacity="0.2" transform="rotate(-23.17 1100.41 833.31)"/><ellipse cx="1064.05" cy="835.93" rx="1.17" ry="6.65" fill="#E08A18" opacity="0.5" transform="rotate(-12.29 1064.05 835.93)"/><ellipse cx="1099.99" cy="819.16" rx="1.54" ry="5.45" fill="#D8982A" opacity="0.21" transform="rotate(-1.86 1099.99 819.16)"/><ellipse cx="1078.81" cy="808.92" rx="1.59" ry="8.45" fill="#D8982A" opacity="0.4" transform="rotate(5.32 1078.81 808.92)"/><ellipse cx="1076.72" cy="823.5" rx="1.2" ry="6.73" fill="#C86414" opacity="0.41" transform="rotate(-16.15 1076.72 823.5)"/><ellipse cx="1060.71" cy="814.49" rx="1.33" ry="7.73" fill="#E8B030" opacity="0.55" transform="rotate(-11.38 1060.71 814.49)"/><ellipse cx="1067.81" cy="876.46" rx="1.67" ry="3.18" fill="#C86414" opacity="0.45" transform="rotate(-16.52 1067.81 876.46)"/><ellipse cx="1068.43" cy="881.05" rx="1.82" ry="8.82" fill="#E08A18" opacity="0.44" transform="rotate(-6.31 1068.43 881.05)"/><ellipse cx="1061.35" cy="805.28" rx="1.02" ry="6.02" fill="#D87414" opacity="0.56" transform="rotate(-10.73 1061.35 805.28)"/><ellipse cx="1083.17" cy="819.49" rx="1.24" ry="8.84" fill="#A85010" opacity="0.35" transform="rotate(-10.92 1083.17 819.49)"/><ellipse cx="1103.34" cy="866.55" rx="1.46" ry="7.51" fill="#E08A18" opacity="0.17" transform="rotate(-4.74 1103.34 866.55)"/><ellipse cx="1105.22" cy="835.21" rx="2.02" ry="3.69" fill="#E8A824" opacity="0.16" transform="rotate(-14.41 1105.22 835.21)"/><ellipse cx="1091.31" cy="830.6" rx="1.21" ry="7.44" fill="#D8982A" opacity="0.28" transform="rotate(-0.64 1091.31 830.6)"/><ellipse cx="1082.69" cy="869.01" rx="1.44" ry="5.49" fill="#E8A824" opacity="0.33" transform="rotate(-20.82 1082.69 869.01)"/><ellipse cx="1078.81" cy="864.71" rx="1.99" ry="6.04" fill="#E8B030" opacity="0.37" transform="rotate(0.11 1078.81 864.71)"/><ellipse cx="1090.63" cy="875.09" rx="1.05" ry="4.03" fill="#98984A" opacity="0.27" transform="rotate(0.07 1090.63 875.09)"/><ellipse cx="1056.65" cy="868.03" rx="1.38" ry="6.6" fill="#D87414" opacity="0.54" transform="rotate(2.05 1056.65 868.03)"/><ellipse cx="1089" cy="809.32" rx="1.54" ry="8.38" fill="#E08A18" opacity="0.31" transform="rotate(-0.69 1089 809.32)"/><ellipse cx="1075.15" cy="830.56" rx="1.23" ry="7.72" fill="#D87414" opacity="0.41" transform="rotate(6.63 1075.15 830.56)"/><ellipse cx="1072.05" cy="830.93" rx="1.1" ry="6.89" fill="#98984A" opacity="0.44" transform="rotate(-20.37 1072.05 830.93)"/><ellipse cx="1066.57" cy="808.74" rx="1.7" ry="3.07" fill="#E8A824" opacity="0.51" transform="rotate(-20.8 1066.57 808.74)"/><ellipse cx="1062.97" cy="879.09" rx="1.62" ry="6.03" fill="#7A3A14" opacity="0.48" transform="rotate(6.29 1062.97 879.09)"/><ellipse cx="1101.91" cy="829.43" rx="1.56" ry="6.73" fill="#C86414" opacity="0.19" transform="rotate(-28.35 1101.91 829.43)"/><ellipse cx="1085.33" cy="866.76" rx="1.24" ry="8.36" fill="#D87414" opacity="0.31" transform="rotate(-26.57 1085.33 866.76)"/><ellipse cx="1066.48" cy="840.64" rx="1.77" ry="7.57" fill="#D87414" opacity="0.48" transform="rotate(4.87 1066.48 840.64)"/><ellipse cx="1087.25" cy="831.51" rx="1.93" ry="4.75" fill="#98984A" opacity="0.31" transform="rotate(7.8 1087.25 831.51)"/><ellipse cx="1074.97" cy="838.99" rx="1.65" ry="5.79" fill="#D87414" opacity="0.41" transform="rotate(-0.88 1074.97 838.99)"/><ellipse cx="1075.77" cy="810.92" rx="1.9" ry="8.54" fill="#98984A" opacity="0.42" transform="rotate(-2.55 1075.77 810.92)"/><ellipse cx="1096.67" cy="832.93" rx="1.73" ry="4.29" fill="#D87414" opacity="0.23" transform="rotate(-15.98 1096.67 832.93)"/><ellipse cx="1069.46" cy="881.27" rx="1.53" ry="4.51" fill="#D8982A" opacity="0.43" transform="rotate(-17.07 1069.46 881.27)"/><ellipse cx="1063.64" cy="862.41" rx="2.05" ry="8.92" fill="#C86414" opacity="0.49" transform="rotate(-5.51 1063.64 862.41)"/><ellipse cx="1081.33" cy="876.34" rx="1.44" ry="4.15" fill="#D8982A" opacity="0.34" transform="rotate(-5.05 1081.33 876.34)"/><ellipse cx="1102.38" cy="836.35" rx="1.56" ry="6.53" fill="#D8982A" opacity="0.18" transform="rotate(-28.6 1102.38 836.35)"/><ellipse cx="1051.39" cy="878.34" rx="1.03" ry="3.9" fill="#D87414" opacity="0.57" transform="rotate(-9.86 1051.39 878.34)"/><ellipse cx="1082.09" cy="809.7" rx="1.89" ry="4.66" fill="#C86414" opacity="0.37" transform="rotate(-12.7 1082.09 809.7)"/><ellipse cx="1094.52" cy="831.41" rx="1.17" ry="5.66" fill="#E8B030" opacity="0.25" transform="rotate(6.34 1094.52 831.41)"/><ellipse cx="1065.72" cy="839" rx="1.92" ry="7.2" fill="#98984A" opacity="0.49" transform="rotate(9.06 1065.72 839)"/><ellipse cx="1100.84" cy="880.04" rx="2.13" ry="5.59" fill="#A85010" opacity="0.19" transform="rotate(7.6 1100.84 880.04)"/><ellipse cx="1107.92" cy="841.32" rx="1.43" ry="8.12" fill="#C86414" opacity="0.14" transform="rotate(-18.59 1107.92 841.32)"/><ellipse cx="1101.96" cy="840.48" rx="1.9" ry="8.58" fill="#E8B030" opacity="0.19" transform="rotate(-9.22 1101.96 840.48)"/><ellipse cx="1090.07" cy="806.09" rx="1.64" ry="3.99" fill="#E8A824" opacity="0.3" transform="rotate(-27.99 1090.07 806.09)"/><ellipse cx="1096.32" cy="820.62" rx="1.43" ry="8.79" fill="#98984A" opacity="0.24" transform="rotate(-15.49 1096.32 820.62)"/><ellipse cx="1080.36" cy="847.33" rx="1.02" ry="5.59" fill="#C86414" opacity="0.36" transform="rotate(-16.47 1080.36 847.33)"/><ellipse cx="1085.79" cy="808.93" rx="1.54" ry="4.57" fill="#D87414" opacity="0.34" transform="rotate(-3.12 1085.79 808.93)"/><ellipse cx="1093.11" cy="843.19" rx="1.05" ry="5.58" fill="#A85010" opacity="0.26" transform="rotate(-4.9 1093.11 843.19)"/><ellipse cx="1103.16" cy="856.72" rx="2.14" ry="7.46" fill="#C86414" opacity="0.17" transform="rotate(3.66 1103.16 856.72)"/><ellipse cx="1094.8" cy="836.59" rx="1.66" ry="4.68" fill="#A85010" opacity="0.25" transform="rotate(-23.25 1094.8 836.59)"/><ellipse cx="1090.73" cy="806.31" rx="1.56" ry="6.99" fill="#98984A" opacity="0.29" transform="rotate(7.14 1090.73 806.31)"/><ellipse cx="1085.56" cy="867.35" rx="1.45" ry="6.79" fill="#D8982A" opacity="0.31" transform="rotate(-18.25 1085.56 867.35)"/><ellipse cx="1065.63" cy="810.65" rx="1.12" ry="7.65" fill="#7A3A14" opacity="0.51" transform="rotate(-12.24 1065.63 810.65)"/><ellipse cx="1069.59" cy="826.33" rx="2.15" ry="3.93" fill="#E8B030" opacity="0.46" transform="rotate(-17.4 1069.59 826.33)"/><ellipse cx="1076.27" cy="844.99" rx="1.99" ry="8.59" fill="#C86414" opacity="0.4" transform="rotate(-5.5 1076.27 844.99)"/><ellipse cx="1087.31" cy="807.34" rx="1.14" ry="3.75" fill="#7A3A14" opacity="0.32" transform="rotate(1.42 1087.31 807.34)"/><ellipse cx="1067.01" cy="862.74" rx="1.8" ry="5.23" fill="#D8982A" opacity="0.46" transform="rotate(-9.41 1067.01 862.74)"/><ellipse cx="1105.73" cy="873.61" rx="1.23" ry="8.52" fill="#98984A" opacity="0.15" transform="rotate(-22.75 1105.73 873.61)"/><ellipse cx="1098.95" cy="834.36" rx="1.06" ry="4.29" fill="#A85010" opacity="0.21" transform="rotate(-28.48 1098.95 834.36)"/><ellipse cx="1087.75" cy="829.26" rx="1.34" ry="3.79" fill="#7A3A14" opacity="0.31" transform="rotate(-19.99 1087.75 829.26)"/><ellipse cx="1054.74" cy="880.08" rx="2.15" ry="7.42" fill="#C86414" opacity="0.55" transform="rotate(-2.07 1054.74 880.08)"/><ellipse cx="1089.7" cy="813.82" rx="1.76" ry="7.91" fill="#D87414" opacity="0.3" transform="rotate(-29.79 1089.7 813.82)"/></g></g>
<clipPath id="hc2"><rect x="1131.4" y="805" width="147.1" height="76.6"/></clipPath><linearGradient id="hgel2" x1="1181" x2="1278.5" y1="0" y2="0" gradientUnits="userSpaceOnUse"><stop offset="0" stop-color="#8C8A54"/><stop offset="0.12" stop-color="#B8922C"/><stop offset="0.3" stop-color="#C87C1C"/><stop offset="0.55" stop-color="#B4601A"/><stop offset="0.8" stop-color="#6A3418"/><stop offset="0.92" stop-color="#3C2018"/><stop offset="1" stop-color="#34201C"/></linearGradient><rect x="1131.4" y="805" width="147.1" height="76.6" fill="url(#hbg)" stroke="none" stroke-width="0" /><g clip-path="url(#hc2)"><g filter="url(#hb2)"><path d="M1191 800Q1177 843.3 1179 886.6L1286.5 886.6L1286.5 800Z" fill="url(#hgel2)"/></g><g filter="url(#hb1)"><ellipse cx="1190.35" cy="803.91" rx="1.77" ry="5.47" fill="#B4BEE4" opacity="0.38"/><ellipse cx="1195.35" cy="805.91" rx="3.49" ry="5" fill="#A8A850" opacity="0.6"/><ellipse cx="1187.74" cy="813.41" rx="2.46" ry="4.59" fill="#B4BEE4" opacity="0.52"/><ellipse cx="1192.74" cy="815.41" rx="3.38" ry="4.66" fill="#A8A850" opacity="0.6"/><ellipse cx="1185.13" cy="822.51" rx="1.54" ry="3.93" fill="#B4BEE4" opacity="0.49"/><ellipse cx="1190.13" cy="824.51" rx="4.8" ry="3.76" fill="#A8A850" opacity="0.6"/><ellipse cx="1184.34" cy="832.18" rx="3.58" ry="3.22" fill="#B4BEE4" opacity="0.57"/><ellipse cx="1189.34" cy="834.18" rx="3.75" ry="4.32" fill="#A8A850" opacity="0.6"/><ellipse cx="1185.24" cy="842.65" rx="2.54" ry="5.27" fill="#B4BEE4" opacity="0.67"/><ellipse cx="1190.24" cy="844.65" rx="4.16" ry="3.28" fill="#A8A850" opacity="0.6"/><ellipse cx="1185.48" cy="851.13" rx="2.53" ry="3.68" fill="#B4BEE4" opacity="0.68"/><ellipse cx="1190.48" cy="853.13" rx="4.16" ry="4.46" fill="#A8A850" opacity="0.6"/><ellipse cx="1182.08" cy="863.97" rx="2.25" ry="6.07" fill="#B4BEE4" opacity="0.4"/><ellipse cx="1187.08" cy="865.97" rx="4.53" ry="3.2" fill="#A8A850" opacity="0.6"/><ellipse cx="1183.02" cy="872.79" rx="3.49" ry="5.95" fill="#B4BEE4" opacity="0.53"/><ellipse cx="1188.02" cy="874.79" rx="3.4" ry="3.3" fill="#A8A850" opacity="0.6"/><ellipse cx="1181.54" cy="881.71" rx="1.65" ry="6.16" fill="#B4BEE4" opacity="0.53"/><ellipse cx="1186.54" cy="883.71" rx="4.4" ry="3.44" fill="#A8A850" opacity="0.6"/><ellipse cx="1191.63" cy="823.68" rx="1.26" ry="3.2" fill="#A85010" opacity="0.58" transform="rotate(-19.81 1191.63 823.68)"/><ellipse cx="1243.71" cy="827.85" rx="1.21" ry="5.38" fill="#D8982A" opacity="0.27" transform="rotate(-23.35 1243.71 827.85)"/><ellipse cx="1264.04" cy="855.8" rx="2.17" ry="3.96" fill="#C86414" opacity="0.14" transform="rotate(-25.34 1264.04 855.8)"/><ellipse cx="1217.16" cy="866.01" rx="1.68" ry="8.43" fill="#E8A824" opacity="0.42" transform="rotate(-24.44 1217.16 866.01)"/><ellipse cx="1220.1" cy="848.2" rx="1.71" ry="4.73" fill="#D87414" opacity="0.4" transform="rotate(-26.2 1220.1 848.2)"/><ellipse cx="1199.9" cy="811.53" rx="1.63" ry="3.92" fill="#7A3A14" opacity="0.54" transform="rotate(7.46 1199.9 811.53)"/><ellipse cx="1200.48" cy="842.4" rx="1.23" ry="8.48" fill="#D87414" opacity="0.52" transform="rotate(-16.37 1200.48 842.4)"/><ellipse cx="1197.41" cy="855.42" rx="1.42" ry="8.79" fill="#E8B030" opacity="0.54" transform="rotate(-29.88 1197.41 855.42)"/><ellipse cx="1203.55" cy="869.01" rx="2.06" ry="8.21" fill="#E08A18" opacity="0.49" transform="rotate(2.34 1203.55 869.01)"/><ellipse cx="1200.63" cy="867.54" rx="2.16" ry="5.65" fill="#A85010" opacity="0.51" transform="rotate(-26.67 1200.63 867.54)"/><ellipse cx="1226.94" cy="851.37" rx="1.95" ry="5.29" fill="#98984A" opacity="0.36" transform="rotate(-25.66 1226.94 851.37)"/><ellipse cx="1238.4" cy="860.23" rx="1.62" ry="3.54" fill="#98984A" opacity="0.29" transform="rotate(7.14 1238.4 860.23)"/><ellipse cx="1251.79" cy="848.19" rx="1.27" ry="4.19" fill="#98984A" opacity="0.22" transform="rotate(-12.15 1251.79 848.19)"/><ellipse cx="1245.61" cy="813.29" rx="1.79" ry="7.98" fill="#E08A18" opacity="0.26" transform="rotate(-8.88 1245.61 813.29)"/><ellipse cx="1245.95" cy="879.96" rx="1.98" ry="6.41" fill="#7A3A14" opacity="0.25" transform="rotate(-9.94 1245.95 879.96)"/><ellipse cx="1219.29" cy="829.83" rx="1.78" ry="3.04" fill="#7A3A14" opacity="0.41" transform="rotate(-5.47 1219.29 829.83)"/><ellipse cx="1245.6" cy="874.62" rx="1.27" ry="4.78" fill="#D8982A" opacity="0.25" transform="rotate(-8.11 1245.6 874.62)"/><ellipse cx="1215.62" cy="879.82" rx="1.62" ry="6.75" fill="#A85010" opacity="0.42" transform="rotate(8.28 1215.62 879.82)"/><ellipse cx="1210.54" cy="865" rx="1.23" ry="5.22" fill="#D87414" opacity="0.46" transform="rotate(8.34 1210.54 865)"/><ellipse cx="1211.56" cy="869.88" rx="1.48" ry="5.3" fill="#E8B030" opacity="0.45" transform="rotate(6.76 1211.56 869.88)"/><ellipse cx="1242.13" cy="845.11" rx="1.99" ry="6.63" fill="#A85010" opacity="0.27" transform="rotate(-15.51 1242.13 845.11)"/><ellipse cx="1226.96" cy="837.75" rx="1.61" ry="3.49" fill="#7A3A14" opacity="0.37" transform="rotate(-23.46 1226.96 837.75)"/><ellipse cx="1255.71" cy="843.17" rx="1.94" ry="6.75" fill="#D8982A" opacity="0.19" transform="rotate(3 1255.71 843.17)"/><ellipse cx="1207.98" cy="880.58" rx="1.32" ry="8.97" fill="#7A3A14" opacity="0.47" transform="rotate(-4.71 1207.98 880.58)"/><ellipse cx="1209.23" cy="823.73" rx="1.95" ry="7.48" fill="#C86414" opacity="0.48" transform="rotate(-20 1209.23 823.73)"/><ellipse cx="1234.16" cy="867.3" rx="1.44" ry="7.68" fill="#C86414" opacity="0.32" transform="rotate(1.74 1234.16 867.3)"/><ellipse cx="1239.66" cy="834.72" rx="2.1" ry="7.72" fill="#D8982A" opacity="0.29" transform="rotate(-24.53 1239.66 834.72)"/><ellipse cx="1241.52" cy="851.75" rx="1.11" ry="5.76" fill="#D87414" opacity="0.28" transform="rotate(-3.23 1241.52 851.75)"/><ellipse cx="1233.22" cy="826.62" rx="1.73" ry="8.19" fill="#E8A824" opacity="0.33" transform="rotate(-3.89 1233.22 826.62)"/><ellipse cx="1193.12" cy="829.51" rx="2.03" ry="6.92" fill="#D87414" opacity="0.57" transform="rotate(-15.35 1193.12 829.51)"/><ellipse cx="1251.37" cy="868.46" rx="1.72" ry="4.92" fill="#E08A18" opacity="0.22" transform="rotate(-18.14 1251.37 868.46)"/><ellipse cx="1214.79" cy="832.38" rx="2.08" ry="8.5" fill="#7A3A14" opacity="0.44" transform="rotate(-5.62 1214.79 832.38)"/><ellipse cx="1201.44" cy="838.29" rx="1.18" ry="7.37" fill="#D8982A" opacity="0.52" transform="rotate(-27.39 1201.44 838.29)"/><ellipse cx="1195.1" cy="845.94" rx="1.4" ry="4.19" fill="#E8A824" opacity="0.55" transform="rotate(7.82 1195.1 845.94)"/><ellipse cx="1250.26" cy="809.38" rx="1.99" ry="6.36" fill="#E8A824" opacity="0.23" transform="rotate(-16.93 1250.26 809.38)"/><ellipse cx="1245.07" cy="872.55" rx="1.13" ry="7.31" fill="#98984A" opacity="0.25" transform="rotate(-26.68 1245.07 872.55)"/><ellipse cx="1247.36" cy="815.53" rx="1.39" ry="5.45" fill="#C86414" opacity="0.25" transform="rotate(-23.24 1247.36 815.53)"/><ellipse cx="1192.15" cy="863.37" rx="1.7" ry="6.68" fill="#98984A" opacity="0.56" transform="rotate(-13.41 1192.15 863.37)"/><ellipse cx="1232.42" cy="876.74" rx="1.83" ry="8.9" fill="#A85010" opacity="0.33" transform="rotate(-10.41 1232.42 876.74)"/><ellipse cx="1254.12" cy="833.08" rx="1.22" ry="4.6" fill="#7A3A14" opacity="0.2" transform="rotate(7.82 1254.12 833.08)"/><ellipse cx="1253.27" cy="868.81" rx="1.6" ry="8.83" fill="#E8B030" opacity="0.21" transform="rotate(-8.65 1253.27 868.81)"/><ellipse cx="1209.38" cy="876.76" rx="1.68" ry="5.34" fill="#C86414" opacity="0.46" transform="rotate(-24.61 1209.38 876.76)"/><ellipse cx="1225.67" cy="842.44" rx="1.47" ry="3.21" fill="#E8B030" opacity="0.37" transform="rotate(-15.14 1225.67 842.44)"/><ellipse cx="1213.97" cy="877.37" rx="1.75" ry="3.86" fill="#E08A18" opacity="0.43" transform="rotate(-2.46 1213.97 877.37)"/><ellipse cx="1205.73" cy="811.11" rx="1.92" ry="8.05" fill="#E8A824" opacity="0.5" transform="rotate(-7.44 1205.73 811.11)"/><ellipse cx="1256.48" cy="849.33" rx="2.2" ry="3.24" fill="#A85010" opacity="0.19" transform="rotate(-5.95 1256.48 849.33)"/><ellipse cx="1264.9" cy="855.24" rx="1.13" ry="4.92" fill="#A85010" opacity="0.14" transform="rotate(-25.91 1264.9 855.24)"/><ellipse cx="1238.01" cy="869.6" rx="1.44" ry="5.08" fill="#98984A" opacity="0.29" transform="rotate(-15.13 1238.01 869.6)"/><ellipse cx="1216.68" cy="866.9" rx="1.88" ry="8.57" fill="#E08A18" opacity="0.42" transform="rotate(-3.48 1216.68 866.9)"/><ellipse cx="1192.79" cy="854.84" rx="1.61" ry="5.9" fill="#C86414" opacity="0.56" transform="rotate(-10.96 1192.79 854.84)"/><ellipse cx="1201.7" cy="818.26" rx="1.94" ry="7.7" fill="#E8B030" opacity="0.53" transform="rotate(-0.34 1201.7 818.26)"/><ellipse cx="1208.67" cy="849.74" rx="1.35" ry="8.16" fill="#E8B030" opacity="0.47" transform="rotate(-12.11 1208.67 849.74)"/><ellipse cx="1227.03" cy="853.2" rx="1.41" ry="6.47" fill="#98984A" opacity="0.36" transform="rotate(-0.54 1227.03 853.2)"/><ellipse cx="1235.59" cy="832.68" rx="1.43" ry="6.44" fill="#98984A" opacity="0.31" transform="rotate(-21.87 1235.59 832.68)"/><ellipse cx="1234.37" cy="845.08" rx="1.61" ry="3.21" fill="#E8A824" opacity="0.32" transform="rotate(-8.07 1234.37 845.08)"/><ellipse cx="1212.25" cy="855.96" rx="1.76" ry="4.52" fill="#E8A824" opacity="0.45" transform="rotate(5.27 1212.25 855.96)"/><ellipse cx="1199.75" cy="820.11" rx="1.53" ry="7.97" fill="#E08A18" opacity="0.54" transform="rotate(-17.34 1199.75 820.11)"/><ellipse cx="1193" cy="807.14" rx="1.89" ry="6.46" fill="#E08A18" opacity="0.59" transform="rotate(-4.38 1193 807.14)"/><ellipse cx="1252.28" cy="805.85" rx="1.38" ry="3.56" fill="#A85010" opacity="0.22" transform="rotate(-20.62 1252.28 805.85)"/><ellipse cx="1255.67" cy="869.86" rx="1.62" ry="4.22" fill="#D87414" opacity="0.19" transform="rotate(6.64 1255.67 869.86)"/><ellipse cx="1251.79" cy="862.91" rx="2.09" ry="5.55" fill="#D8982A" opacity="0.21" transform="rotate(-24.09 1251.79 862.91)"/><ellipse cx="1244.35" cy="816.18" rx="2.12" ry="5.62" fill="#A85010" opacity="0.27" transform="rotate(-28.01 1244.35 816.18)"/><ellipse cx="1240.29" cy="836.39" rx="1.34" ry="7.62" fill="#E08A18" opacity="0.29" transform="rotate(-17.4 1240.29 836.39)"/><ellipse cx="1195.49" cy="817.35" rx="1.32" ry="6.13" fill="#E8B030" opacity="0.56" transform="rotate(-5.88 1195.49 817.35)"/><ellipse cx="1205.52" cy="836.1" rx="1.23" ry="7.84" fill="#C86414" opacity="0.49" transform="rotate(-3.79 1205.52 836.1)"/><ellipse cx="1248.58" cy="871.37" rx="1.19" ry="7.95" fill="#98984A" opacity="0.23" transform="rotate(-20.44 1248.58 871.37)"/><ellipse cx="1221.09" cy="874.44" rx="1.99" ry="6.3" fill="#7A3A14" opacity="0.39" transform="rotate(-10.07 1221.09 874.44)"/><ellipse cx="1236.26" cy="840.47" rx="1.74" ry="6.7" fill="#A85010" opacity="0.31" transform="rotate(-11.24 1236.26 840.47)"/><ellipse cx="1250.72" cy="821.94" rx="1.67" ry="8.65" fill="#E8A824" opacity="0.23" transform="rotate(-12.97 1250.72 821.94)"/><ellipse cx="1259.71" cy="856.8" rx="1.83" ry="6.38" fill="#A85010" opacity="0.17" transform="rotate(-19.34 1259.71 856.8)"/><ellipse cx="1265.44" cy="839.05" rx="1.79" ry="7.32" fill="#E8A824" opacity="0.14" transform="rotate(-14.09 1265.44 839.05)"/><ellipse cx="1215.78" cy="806.62" rx="1.92" ry="3.71" fill="#A85010" opacity="0.45" transform="rotate(-14.55 1215.78 806.62)"/><ellipse cx="1239.47" cy="870.64" rx="1.49" ry="3.06" fill="#98984A" opacity="0.29" transform="rotate(-16.48 1239.47 870.64)"/><ellipse cx="1255.04" cy="859.86" rx="1.02" ry="3.09" fill="#C86414" opacity="0.2" transform="rotate(-1.82 1255.04 859.86)"/><ellipse cx="1212.75" cy="857.67" rx="2.05" ry="3.62" fill="#98984A" opacity="0.44" transform="rotate(-22.99 1212.75 857.67)"/><ellipse cx="1225.09" cy="809.18" rx="1.66" ry="4.19" fill="#D87414" opacity="0.39" transform="rotate(-4.75 1225.09 809.18)"/><ellipse cx="1216.9" cy="810.72" rx="1.85" ry="8.55" fill="#D8982A" opacity="0.44" transform="rotate(-5.79 1216.9 810.72)"/><ellipse cx="1244.97" cy="878.88" rx="1.75" ry="8.82" fill="#E8B030" opacity="0.25" transform="rotate(8 1244.97 878.88)"/><ellipse cx="1225.09" cy="841.58" rx="2.06" ry="6.25" fill="#C86414" opacity="0.38" transform="rotate(-3.31 1225.09 841.58)"/><ellipse cx="1227.99" cy="857.91" rx="1.78" ry="8.64" fill="#7A3A14" opacity="0.35" transform="rotate(-9.07 1227.99 857.91)"/><ellipse cx="1239.71" cy="872.14" rx="1.69" ry="6.69" fill="#D87414" opacity="0.28" transform="rotate(2.3 1239.71 872.14)"/><ellipse cx="1215.92" cy="818.12" rx="1.68" ry="8.71" fill="#E8B030" opacity="0.44" transform="rotate(-5.04 1215.92 818.12)"/><ellipse cx="1203.33" cy="839.21" rx="1.9" ry="8.31" fill="#E8A824" opacity="0.51" transform="rotate(9.38 1203.33 839.21)"/><ellipse cx="1194.2" cy="832.05" rx="1.73" ry="4.65" fill="#D8982A" opacity="0.56" transform="rotate(6.45 1194.2 832.05)"/><ellipse cx="1243.9" cy="847.28" rx="1.53" ry="7.21" fill="#98984A" opacity="0.26" transform="rotate(-22.4 1243.9 847.28)"/><ellipse cx="1239.05" cy="846.97" rx="1.08" ry="5.37" fill="#E8B030" opacity="0.29" transform="rotate(-8.12 1239.05 846.97)"/><ellipse cx="1244.94" cy="818.94" rx="1.68" ry="7.24" fill="#A85010" opacity="0.26" transform="rotate(-12.48 1244.94 818.94)"/><ellipse cx="1189.66" cy="863.81" rx="1.37" ry="6.16" fill="#A85010" opacity="0.58" transform="rotate(-10.36 1189.66 863.81)"/><ellipse cx="1199.42" cy="808.02" rx="1.31" ry="8.45" fill="#A85010" opacity="0.55" transform="rotate(-25.79 1199.42 808.02)"/><ellipse cx="1220.37" cy="871.8" rx="1.12" ry="8.07" fill="#98984A" opacity="0.4" transform="rotate(-28.89 1220.37 871.8)"/><ellipse cx="1224.97" cy="814.66" rx="1.8" ry="8.47" fill="#A85010" opacity="0.38" transform="rotate(-13.03 1224.97 814.66)"/><ellipse cx="1219.99" cy="813.47" rx="2" ry="7.66" fill="#D8982A" opacity="0.42" transform="rotate(-1.25 1219.99 813.47)"/><ellipse cx="1205.92" cy="823.04" rx="2.01" ry="8.02" fill="#7A3A14" opacity="0.5" transform="rotate(6.49 1205.92 823.04)"/><ellipse cx="1230.11" cy="821.23" rx="2.18" ry="5.19" fill="#A85010" opacity="0.35" transform="rotate(1.94 1230.11 821.23)"/><ellipse cx="1232.25" cy="843.7" rx="2.13" ry="4.8" fill="#D8982A" opacity="0.33" transform="rotate(-21.22 1232.25 843.7)"/><ellipse cx="1233.55" cy="875.19" rx="1.27" ry="8.09" fill="#E8A824" opacity="0.32" transform="rotate(-23.62 1233.55 875.19)"/><ellipse cx="1212.98" cy="816.24" rx="1.46" ry="5.64" fill="#7A3A14" opacity="0.46" transform="rotate(-18.44 1212.98 816.24)"/><ellipse cx="1224.75" cy="810.72" rx="1.52" ry="5.9" fill="#98984A" opacity="0.39" transform="rotate(-20.64 1224.75 810.72)"/><ellipse cx="1190.05" cy="874.11" rx="1.02" ry="8.46" fill="#D87414" opacity="0.57" transform="rotate(-15.51 1190.05 874.11)"/><ellipse cx="1188.7" cy="858.91" rx="2.2" ry="7.21" fill="#E8B030" opacity="0.58" transform="rotate(-28.36 1188.7 858.91)"/><ellipse cx="1236.68" cy="853.11" rx="1.58" ry="8.74" fill="#7A3A14" opacity="0.3" transform="rotate(-9.85 1236.68 853.11)"/><ellipse cx="1257.86" cy="809.03" rx="1.16" ry="7.9" fill="#A85010" opacity="0.18" transform="rotate(-15.54 1257.86 809.03)"/><ellipse cx="1250.2" cy="872.66" rx="1.43" ry="3.5" fill="#7A3A14" opacity="0.22" transform="rotate(9.04 1250.2 872.66)"/><ellipse cx="1259.45" cy="871.69" rx="1.29" ry="3.59" fill="#7A3A14" opacity="0.17" transform="rotate(6.83 1259.45 871.69)"/><ellipse cx="1194.26" cy="807.3" rx="1.38" ry="6" fill="#D8982A" opacity="0.58" transform="rotate(-20.95 1194.26 807.3)"/><ellipse cx="1216.45" cy="809.43" rx="1.61" ry="7.58" fill="#A85010" opacity="0.44" transform="rotate(-23.45 1216.45 809.43)"/><ellipse cx="1264.01" cy="852.54" rx="1.19" ry="7.17" fill="#E8B030" opacity="0.14" transform="rotate(-0.78 1264.01 852.54)"/><ellipse cx="1195.96" cy="806.22" rx="1.66" ry="4.81" fill="#E8B030" opacity="0.57" transform="rotate(-8.27 1195.96 806.22)"/><ellipse cx="1201.49" cy="820.87" rx="1.87" ry="7.57" fill="#E08A18" opacity="0.53" transform="rotate(-24.75 1201.49 820.87)"/><ellipse cx="1245.13" cy="825.94" rx="1.42" ry="8.81" fill="#E8B030" opacity="0.26" transform="rotate(-17.91 1245.13 825.94)"/><ellipse cx="1197.38" cy="873.26" rx="1.53" ry="6.68" fill="#98984A" opacity="0.53" transform="rotate(-20.84 1197.38 873.26)"/><ellipse cx="1240.88" cy="845.01" rx="1.38" ry="3.51" fill="#7A3A14" opacity="0.28" transform="rotate(-19.68 1240.88 845.01)"/><ellipse cx="1240.39" cy="848.76" rx="1.41" ry="6.03" fill="#E8B030" opacity="0.28" transform="rotate(-19.06 1240.39 848.76)"/><ellipse cx="1227.08" cy="805.02" rx="2.18" ry="8.78" fill="#D8982A" opacity="0.38" transform="rotate(-4.94 1227.08 805.02)"/><ellipse cx="1229.26" cy="858.6" rx="1.83" ry="3.77" fill="#E08A18" opacity="0.35" transform="rotate(-4.95 1229.26 858.6)"/><ellipse cx="1217.04" cy="808.85" rx="1.67" ry="6.79" fill="#A85010" opacity="0.44" transform="rotate(0.94 1217.04 808.85)"/><ellipse cx="1261.18" cy="847.56" rx="1.54" ry="4.78" fill="#98984A" opacity="0.16" transform="rotate(-1.14 1261.18 847.56)"/><ellipse cx="1233.08" cy="865.79" rx="1.59" ry="7.48" fill="#D8982A" opacity="0.32" transform="rotate(-26.21 1233.08 865.79)"/><ellipse cx="1214.34" cy="834.65" rx="1.66" ry="6.61" fill="#98984A" opacity="0.44" transform="rotate(-27.52 1214.34 834.65)"/><ellipse cx="1256.64" cy="845.74" rx="1.96" ry="6.37" fill="#C86414" opacity="0.19" transform="rotate(-14.46 1256.64 845.74)"/><ellipse cx="1210.14" cy="829.27" rx="1.96" ry="3.06" fill="#A85010" opacity="0.47" transform="rotate(-18.03 1210.14 829.27)"/><ellipse cx="1230.54" cy="837.07" rx="1.4" ry="5.91" fill="#98984A" opacity="0.34" transform="rotate(-20.83 1230.54 837.07)"/><ellipse cx="1201.93" cy="848.98" rx="2.05" ry="3.96" fill="#E8A824" opacity="0.51" transform="rotate(-20.76 1201.93 848.98)"/><ellipse cx="1262.17" cy="867.69" rx="1.68" ry="4.37" fill="#D8982A" opacity="0.15" transform="rotate(6.91 1262.17 867.69)"/><ellipse cx="1241.03" cy="812.63" rx="1.04" ry="7.13" fill="#E8B030" opacity="0.29" transform="rotate(-26.84 1241.03 812.63)"/><ellipse cx="1235.12" cy="870.34" rx="1.64" ry="7.66" fill="#7A3A14" opacity="0.31" transform="rotate(-3.95 1235.12 870.34)"/><ellipse cx="1239.64" cy="861.85" rx="1.79" ry="3.3" fill="#E8A824" opacity="0.29" transform="rotate(-25.53 1239.64 861.85)"/><ellipse cx="1245.66" cy="826.88" rx="1.94" ry="7.12" fill="#E8A824" opacity="0.26" transform="rotate(6.52 1245.66 826.88)"/><ellipse cx="1239.61" cy="809.65" rx="1.91" ry="3.05" fill="#E8A824" opacity="0.3" transform="rotate(5.38 1239.61 809.65)"/><ellipse cx="1217.45" cy="840.86" rx="1.8" ry="5.16" fill="#C86414" opacity="0.42" transform="rotate(-3.01 1217.45 840.86)"/><ellipse cx="1259.43" cy="830.66" rx="1.16" ry="8.77" fill="#D8982A" opacity="0.17" transform="rotate(-27.22 1259.43 830.66)"/><ellipse cx="1205.33" cy="822.22" rx="1.49" ry="5.68" fill="#7A3A14" opacity="0.5" transform="rotate(-20.61 1205.33 822.22)"/><ellipse cx="1256.88" cy="868.15" rx="1.07" ry="3.05" fill="#D8982A" opacity="0.18" transform="rotate(0.94 1256.88 868.15)"/><ellipse cx="1206.68" cy="807.47" rx="1.13" ry="8.32" fill="#7A3A14" opacity="0.5" transform="rotate(-26.83 1206.68 807.47)"/><ellipse cx="1234.55" cy="852.15" rx="2.14" ry="5.96" fill="#E8A824" opacity="0.32" transform="rotate(-1.51 1234.55 852.15)"/><ellipse cx="1250.42" cy="856.94" rx="1.31" ry="3.3" fill="#7A3A14" opacity="0.22" transform="rotate(7.13 1250.42 856.94)"/><ellipse cx="1219.22" cy="811.16" rx="1.56" ry="4.4" fill="#E8B030" opacity="0.42" transform="rotate(-27.5 1219.22 811.16)"/><ellipse cx="1214.16" cy="822.36" rx="1.52" ry="6.32" fill="#D87414" opacity="0.45" transform="rotate(-19.49 1214.16 822.36)"/><ellipse cx="1260.49" cy="836.24" rx="1.17" ry="7.54" fill="#D87414" opacity="0.17" transform="rotate(3.88 1260.49 836.24)"/><ellipse cx="1255.58" cy="857.5" rx="1.45" ry="7.07" fill="#98984A" opacity="0.19" transform="rotate(-9.54 1255.58 857.5)"/><ellipse cx="1213.94" cy="868.55" rx="1.5" ry="4.72" fill="#A85010" opacity="0.43" transform="rotate(-12.06 1213.94 868.55)"/><ellipse cx="1193.27" cy="861.74" rx="1.76" ry="8.5" fill="#D87414" opacity="0.56" transform="rotate(-27.99 1193.27 861.74)"/><ellipse cx="1256.81" cy="815.56" rx="1.73" ry="4.29" fill="#D87414" opacity="0.19" transform="rotate(-10.25 1256.81 815.56)"/><ellipse cx="1196.97" cy="827.52" rx="2.05" ry="4.82" fill="#7A3A14" opacity="0.55" transform="rotate(-23.77 1196.97 827.52)"/><ellipse cx="1215.55" cy="852.39" rx="1.35" ry="4.09" fill="#E8B030" opacity="0.43" transform="rotate(-13.9 1215.55 852.39)"/><ellipse cx="1245.35" cy="827.8" rx="1.02" ry="8.76" fill="#D87414" opacity="0.26" transform="rotate(-2.34 1245.35 827.8)"/><ellipse cx="1232.96" cy="847.19" rx="2.05" ry="6.69" fill="#E8A824" opacity="0.33" transform="rotate(-22.94 1232.96 847.19)"/><ellipse cx="1224.44" cy="824.79" rx="2.11" ry="4.48" fill="#E8A824" opacity="0.38" transform="rotate(-14.76 1224.44 824.79)"/><ellipse cx="1256.18" cy="836.31" rx="1.83" ry="3.95" fill="#D8982A" opacity="0.19" transform="rotate(-29.92 1256.18 836.31)"/><ellipse cx="1196.24" cy="858.06" rx="1.43" ry="5.71" fill="#E8A824" opacity="0.54" transform="rotate(-12.71 1196.24 858.06)"/></g></g>
<rect x="984.8" y="876.7" width="47.4" height="2.6" fill="#fff" stroke="none" stroke-width="0" />
<rect x="1133.4" y="876.7" width="47.1" height="2.6" fill="#fff" stroke="none" stroke-width="0" />
<path d="M1111 805.8H1119.4M1115.2 805V810" stroke="#F4F4F4" stroke-width="1.2" fill="none"/>
<path d="M1111 831.4H1119.4M1115.2 827.2V835.6" stroke="#F4F4F4" stroke-width="1.2" fill="none"/>
<path d="M1111 854.8H1119.4M1115.2 850.6V859" stroke="#F4F4F4" stroke-width="1.2" fill="none"/>
<path d="M1059 849.5H1090V839.2L1105.9 856.7L1090 873.9V864.4H1059L1064.5 856.7Z" fill="none" stroke="#F0F0F0" stroke-width="1.1"/>
<path d="M1269 849.5H1237V839.2L1221.1 856.7L1237 873.9V864.4H1269L1262 856.7Z" fill="none" stroke="#F0F0F0" stroke-width="1.1"/>
<text x="1066.5" y="860.6" font-family='"Liberation Sans", sans-serif' font-size="11.5" font-weight="normal" fill="#fff" stroke="#fff" stroke-width="0" text-anchor="start" textLength="33" lengthAdjust="spacingAndGlyphs">shrink</text>
<text x="1229.8" y="860.6" font-family='"Liberation Sans", sans-serif' font-size="11.5" font-weight="normal" fill="#fff" stroke="#fff" stroke-width="0" text-anchor="start" textLength="27.5" lengthAdjust="spacingAndGlyphs">swell</text>
<polyline fill="none" stroke="#505050" stroke-width="2.2" points="975.39,660.9 990.48,790.65 1005.57,673.88 1020.66,785.46 1035.75,676.47 1050.84,785.46 1065.93,681.66 1081.02,782.87 1096.11,684.25 1111.2,782.87 1126.29,684.25 1141.38,782.87 1156.47,689.44 1171.56,782.87 1186.65,689.44 1201.74,780.27 1216.83,689.44 1231.92,780.27 1247.01,692.04 1262.1,777.67"/>
<rect x="971.99" y="657.5" width="6.8" height="6.8" fill="#505050" stroke="none" stroke-width="0" />
<rect x="987.08" y="787.25" width="6.8" height="6.8" fill="#505050" stroke="none" stroke-width="0" />
<rect x="1002.17" y="670.48" width="6.8" height="6.8" fill="#505050" stroke="none" stroke-width="0" />
<rect x="1017.26" y="782.06" width="6.8" height="6.8" fill="#505050" stroke="none" stroke-width="0" />
<rect x="1032.35" y="673.07" width="6.8" height="6.8" fill="#505050" stroke="none" stroke-width="0" />
<rect x="1047.44" y="782.06" width="6.8" height="6.8" fill="#505050" stroke="none" stroke-width="0" />
<rect x="1062.53" y="678.26" width="6.8" height="6.8" fill="#505050" stroke="none" stroke-width="0" />
<rect x="1077.62" y="779.47" width="6.8" height="6.8" fill="#505050" stroke="none" stroke-width="0" />
<rect x="1092.71" y="680.86" width="6.8" height="6.8" fill="#505050" stroke="none" stroke-width="0" />
<rect x="1107.8" y="779.47" width="6.8" height="6.8" fill="#505050" stroke="none" stroke-width="0" />
<rect x="1122.89" y="680.86" width="6.8" height="6.8" fill="#505050" stroke="none" stroke-width="0" />
<rect x="1137.98" y="779.47" width="6.8" height="6.8" fill="#505050" stroke="none" stroke-width="0" />
<rect x="1153.07" y="686.04" width="6.8" height="6.8" fill="#505050" stroke="none" stroke-width="0" />
<rect x="1168.16" y="779.47" width="6.8" height="6.8" fill="#505050" stroke="none" stroke-width="0" />
<rect x="1183.25" y="686.04" width="6.8" height="6.8" fill="#505050" stroke="none" stroke-width="0" />
<rect x="1198.34" y="776.87" width="6.8" height="6.8" fill="#505050" stroke="none" stroke-width="0" />
<rect x="1213.43" y="686.04" width="6.8" height="6.8" fill="#505050" stroke="none" stroke-width="0" />
<rect x="1228.52" y="776.87" width="6.8" height="6.8" fill="#505050" stroke="none" stroke-width="0" />
<rect x="1243.61" y="688.64" width="6.8" height="6.8" fill="#505050" stroke="none" stroke-width="0" />
<rect x="1258.7" y="774.27" width="6.8" height="6.8" fill="#505050" stroke="none" stroke-width="0" />
<polyline fill="none" stroke="#EE3A3A" stroke-width="2.1" points="975.39,660.9 990.48,707.61 1005.57,663.5 1020.66,710.2 1035.75,663.5 1050.84,707.61 1065.93,663.5 1081.02,705.01 1096.11,666.09 1111.2,705.01 1126.29,666.09 1141.38,705.01 1156.47,666.09 1171.56,702.42 1186.65,666.09 1201.74,702.42 1216.83,668.68 1231.92,702.42 1247.01,668.68 1262.1,702.42"/>
<circle cx="975.39" cy="660.9" r="3.5" fill="#EE3A3A"/>
<circle cx="990.48" cy="707.61" r="3.5" fill="#EE3A3A"/>
<circle cx="1005.57" cy="663.5" r="3.5" fill="#EE3A3A"/>
<circle cx="1020.66" cy="710.2" r="3.5" fill="#EE3A3A"/>
<circle cx="1035.75" cy="663.5" r="3.5" fill="#EE3A3A"/>
<circle cx="1050.84" cy="707.61" r="3.5" fill="#EE3A3A"/>
<circle cx="1065.93" cy="663.5" r="3.5" fill="#EE3A3A"/>
<circle cx="1081.02" cy="705.01" r="3.5" fill="#EE3A3A"/>
<circle cx="1096.11" cy="666.09" r="3.5" fill="#EE3A3A"/>
<circle cx="1111.2" cy="705.01" r="3.5" fill="#EE3A3A"/>
<circle cx="1126.29" cy="666.09" r="3.5" fill="#EE3A3A"/>
<circle cx="1141.38" cy="705.01" r="3.5" fill="#EE3A3A"/>
<circle cx="1156.47" cy="666.09" r="3.5" fill="#EE3A3A"/>
<circle cx="1171.56" cy="702.42" r="3.5" fill="#EE3A3A"/>
<circle cx="1186.65" cy="666.09" r="3.5" fill="#EE3A3A"/>
<circle cx="1201.74" cy="702.42" r="3.5" fill="#EE3A3A"/>
<circle cx="1216.83" cy="668.68" r="3.5" fill="#EE3A3A"/>
<circle cx="1231.92" cy="702.42" r="3.5" fill="#EE3A3A"/>
<circle cx="1247.01" cy="668.68" r="3.5" fill="#EE3A3A"/>
<circle cx="1262.1" cy="702.42" r="3.5" fill="#EE3A3A"/>
<polyline fill="none" stroke="#1A6AE0" stroke-width="2.3" points="975.39,660.9 990.48,686.85 1005.57,663.5 1020.66,686.85 1035.75,663.5 1050.84,684.25 1065.93,666.09 1081.02,684.25 1096.11,666.09 1111.2,684.25 1126.29,666.09 1141.38,684.25 1156.47,666.09 1171.56,684.25 1186.65,668.68 1201.74,684.25 1216.83,668.68 1231.92,684.25 1247.01,668.68 1262.1,684.25"/>
<path d="M971.09 664.32L979.69 664.32L975.39 656.72Z" fill="#1A6AE0"/>
<path d="M986.18 690.27L994.78 690.27L990.48 682.67Z" fill="#1A6AE0"/>
<path d="M1001.27 666.91L1009.87 666.91L1005.57 659.32Z" fill="#1A6AE0"/>
<path d="M1016.36 690.27L1024.96 690.27L1020.66 682.67Z" fill="#1A6AE0"/>
<path d="M1031.45 666.91L1040.05 666.91L1035.75 659.32Z" fill="#1A6AE0"/>
<path d="M1046.54 687.67L1055.14 687.67L1050.84 680.08Z" fill="#1A6AE0"/>
<path d="M1061.63 669.51L1070.23 669.51L1065.93 661.91Z" fill="#1A6AE0"/>
<path d="M1076.72 687.67L1085.32 687.67L1081.02 680.08Z" fill="#1A6AE0"/>
<path d="M1091.81 669.51L1100.41 669.51L1096.11 661.91Z" fill="#1A6AE0"/>
<path d="M1106.9 687.67L1115.5 687.67L1111.2 680.08Z" fill="#1A6AE0"/>
<path d="M1121.99 669.51L1130.59 669.51L1126.29 661.91Z" fill="#1A6AE0"/>
<path d="M1137.08 687.67L1145.68 687.67L1141.38 680.08Z" fill="#1A6AE0"/>
<path d="M1152.17 669.51L1160.77 669.51L1156.47 661.91Z" fill="#1A6AE0"/>
<path d="M1167.26 687.67L1175.86 687.67L1171.56 680.08Z" fill="#1A6AE0"/>
<path d="M1182.35 672.1L1190.95 672.1L1186.65 664.5Z" fill="#1A6AE0"/>
<path d="M1197.44 687.67L1206.04 687.67L1201.74 680.08Z" fill="#1A6AE0"/>
<path d="M1212.53 672.1L1221.13 672.1L1216.83 664.5Z" fill="#1A6AE0"/>
<path d="M1227.62 687.67L1236.22 687.67L1231.92 680.08Z" fill="#1A6AE0"/>
<path d="M1242.71 672.1L1251.31 672.1L1247.01 664.5Z" fill="#1A6AE0"/>
<path d="M1257.8 687.67L1266.4 687.67L1262.1 680.08Z" fill="#1A6AE0"/>
<rect x="960.3" y="647.8" width="339.1" height="272.1" fill="none" stroke="#000" stroke-width="2" />
<line x1="954.8" y1="920.4" x2="960.3" y2="920.4" stroke="#000" stroke-width="2" />
<text x="949.8" y="925.4" font-family='"Liberation Sans", sans-serif' font-size="16" font-weight="bold" fill="#000" stroke="#000" stroke-width="0.3" text-anchor="end" letter-spacing="0.4">0</text>
<line x1="954.8" y1="868.5" x2="960.3" y2="868.5" stroke="#000" stroke-width="2" />
<text x="949.8" y="873.5" font-family='"Liberation Sans", sans-serif' font-size="16" font-weight="bold" fill="#000" stroke="#000" stroke-width="0.3" text-anchor="end" letter-spacing="0.4">20</text>
<line x1="954.8" y1="816.6" x2="960.3" y2="816.6" stroke="#000" stroke-width="2" />
<text x="949.8" y="821.6" font-family='"Liberation Sans", sans-serif' font-size="16" font-weight="bold" fill="#000" stroke="#000" stroke-width="0.3" text-anchor="end" letter-spacing="0.4">40</text>
<line x1="954.8" y1="764.7" x2="960.3" y2="764.7" stroke="#000" stroke-width="2" />
<text x="949.8" y="769.7" font-family='"Liberation Sans", sans-serif' font-size="16" font-weight="bold" fill="#000" stroke="#000" stroke-width="0.3" text-anchor="end" letter-spacing="0.4">60</text>
<line x1="954.8" y1="712.8" x2="960.3" y2="712.8" stroke="#000" stroke-width="2" />
<text x="949.8" y="717.8" font-family='"Liberation Sans", sans-serif' font-size="16" font-weight="bold" fill="#000" stroke="#000" stroke-width="0.3" text-anchor="end" letter-spacing="0.4">80</text>
<line x1="954.8" y1="660.9" x2="960.3" y2="660.9" stroke="#000" stroke-width="2" />
<text x="949.8" y="665.9" font-family='"Liberation Sans", sans-serif' font-size="16" font-weight="bold" fill="#000" stroke="#000" stroke-width="0.3" text-anchor="end" letter-spacing="0.4">100</text>
<line x1="960.3" y1="919.9" x2="960.3" y2="925.4" stroke="#000" stroke-width="2" />
<text x="960.6" y="941.4" font-family='"Liberation Sans", sans-serif' font-size="16" font-weight="bold" fill="#000" stroke="#000" stroke-width="0.3" text-anchor="middle" letter-spacing="0.4">0</text>
<line x1="990.48" y1="919.9" x2="990.48" y2="925.4" stroke="#000" stroke-width="2" />
<text x="990.78" y="941.4" font-family='"Liberation Sans", sans-serif' font-size="16" font-weight="bold" fill="#000" stroke="#000" stroke-width="0.3" text-anchor="middle" letter-spacing="0.4">1</text>
<line x1="1020.66" y1="919.9" x2="1020.66" y2="925.4" stroke="#000" stroke-width="2" />
<text x="1020.96" y="941.4" font-family='"Liberation Sans", sans-serif' font-size="16" font-weight="bold" fill="#000" stroke="#000" stroke-width="0.3" text-anchor="middle" letter-spacing="0.4">2</text>
<line x1="1050.84" y1="919.9" x2="1050.84" y2="925.4" stroke="#000" stroke-width="2" />
<text x="1051.14" y="941.4" font-family='"Liberation Sans", sans-serif' font-size="16" font-weight="bold" fill="#000" stroke="#000" stroke-width="0.3" text-anchor="middle" letter-spacing="0.4">3</text>
<line x1="1081.02" y1="919.9" x2="1081.02" y2="925.4" stroke="#000" stroke-width="2" />
<text x="1081.32" y="941.4" font-family='"Liberation Sans", sans-serif' font-size="16" font-weight="bold" fill="#000" stroke="#000" stroke-width="0.3" text-anchor="middle" letter-spacing="0.4">4</text>
<line x1="1111.2" y1="919.9" x2="1111.2" y2="925.4" stroke="#000" stroke-width="2" />
<text x="1111.5" y="941.4" font-family='"Liberation Sans", sans-serif' font-size="16" font-weight="bold" fill="#000" stroke="#000" stroke-width="0.3" text-anchor="middle" letter-spacing="0.4">5</text>
<line x1="1141.38" y1="919.9" x2="1141.38" y2="925.4" stroke="#000" stroke-width="2" />
<text x="1141.68" y="941.4" font-family='"Liberation Sans", sans-serif' font-size="16" font-weight="bold" fill="#000" stroke="#000" stroke-width="0.3" text-anchor="middle" letter-spacing="0.4">6</text>
<line x1="1171.56" y1="919.9" x2="1171.56" y2="925.4" stroke="#000" stroke-width="2" />
<text x="1171.86" y="941.4" font-family='"Liberation Sans", sans-serif' font-size="16" font-weight="bold" fill="#000" stroke="#000" stroke-width="0.3" text-anchor="middle" letter-spacing="0.4">7</text>
<line x1="1201.74" y1="919.9" x2="1201.74" y2="925.4" stroke="#000" stroke-width="2" />
<text x="1202.04" y="941.4" font-family='"Liberation Sans", sans-serif' font-size="16" font-weight="bold" fill="#000" stroke="#000" stroke-width="0.3" text-anchor="middle" letter-spacing="0.4">8</text>
<line x1="1231.92" y1="919.9" x2="1231.92" y2="925.4" stroke="#000" stroke-width="2" />
<text x="1232.22" y="941.4" font-family='"Liberation Sans", sans-serif' font-size="16" font-weight="bold" fill="#000" stroke="#000" stroke-width="0.3" text-anchor="middle" letter-spacing="0.4">9</text>
<line x1="1262.1" y1="919.9" x2="1262.1" y2="925.4" stroke="#000" stroke-width="2" />
<text x="1262.4" y="941.4" font-family='"Liberation Sans", sans-serif' font-size="16" font-weight="bold" fill="#000" stroke="#000" stroke-width="0.3" text-anchor="middle" letter-spacing="0.4">10</text>
<line x1="1292.28" y1="919.9" x2="1292.28" y2="925.4" stroke="#000" stroke-width="2" />
<text x="1292.58" y="941.4" font-family='"Liberation Sans", sans-serif' font-size="16" font-weight="bold" fill="#000" stroke="#000" stroke-width="0.3" text-anchor="middle" letter-spacing="0.4">11</text>
<text x="1129" y="972" font-family='"Liberation Sans", sans-serif' font-size="18" font-weight="bold" fill="#000" stroke="#000" stroke-width="0.3" text-anchor="middle" >cyclic number (times)</text>
<text transform="translate(913.5,783) rotate(-90)" font-family='"Liberation Sans", sans-serif' font-size="17.7" font-weight="bold" fill="#000" stroke="#000" stroke-width="0.3" text-anchor="middle" >Thickness precentage (%)</text>
<text x="1265.4" y="685.3" font-family='"Liberation Sans", sans-serif' font-size="14.5" font-weight="bold" fill="#0000F0" stroke="#0000F0" stroke-width="0.3" text-anchor="start" letter-spacing="0.4">20 V</text>
<text x="1265.4" y="708.5" font-family='"Liberation Sans", sans-serif' font-size="14.5" font-weight="bold" fill="#F00000" stroke="#F00000" stroke-width="0.3" text-anchor="start" letter-spacing="0.4">30 V</text>
<text x="1265.4" y="783.3" font-family='"Liberation Sans", sans-serif' font-size="14.5" font-weight="bold" fill="#000" stroke="#000" stroke-width="0.3" text-anchor="start" letter-spacing="0.4">40 V</text>
</g>
<g id="labels">
<text x="48" y="45" font-family='"Liberation Serif", serif' font-size="34.5" font-weight="bold" fill="#000" stroke="#000" stroke-width="0.2" text-anchor="start" >a)</text>
<text x="479" y="46" font-family='"Liberation Serif", serif' font-size="34.5" font-weight="bold" fill="#000" stroke="#000" stroke-width="0.2" text-anchor="start" >b)</text>
<text x="885" y="41" font-family='"Liberation Serif", serif' font-size="34.5" font-weight="bold" fill="#000" stroke="#000" stroke-width="0.2" text-anchor="start" >c)</text>
<text x="47" y="347.6" font-family='"Liberation Serif", serif' font-size="34.5" font-weight="bold" fill="#000" stroke="#000" stroke-width="0.2" text-anchor="start" >d)</text>
<text x="479.5" y="348.8" font-family='"Liberation Serif", serif' font-size="34.5" font-weight="bold" fill="#000" stroke="#000" stroke-width="0.2" text-anchor="start" >e)</text>
<text x="46" y="644" font-family='"Liberation Serif", serif' font-size="34.5" font-weight="bold" fill="#000" stroke="#000" stroke-width="0.2" text-anchor="start" >f)</text>
<text x="493" y="640" font-family='"Liberation Serif", serif' font-size="34.5" font-weight="bold" fill="#000" stroke="#000" stroke-width="0.2" text-anchor="start" >g)</text>
<text x="878.5" y="649" font-family='"Liberation Serif", serif' font-size="34.5" font-weight="bold" fill="#000" stroke="#000" stroke-width="0.2" text-anchor="start" >h)</text>
<text x="99.7" y="44.8" font-family='"Liberation Sans", sans-serif' font-size="24" font-weight="bold" fill="#7A3B2E" stroke="#7A3B2E" stroke-width="0.3" text-anchor="start" >Electro-manipulating Moving</text>
<text x="97.5" y="346" font-family='"Liberation Sans", sans-serif' font-size="24" font-weight="bold" fill="#7A3B2E" stroke="#7A3B2E" stroke-width="0.3" text-anchor="start" >Electro-manipulating Orientation</text>
<text x="92.5" y="643" font-family='"Liberation Sans", sans-serif' font-size="24" font-weight="bold" fill="#7A3B2E" stroke="#7A3B2E" stroke-width="0.3" text-anchor="start" >Electro-manipulating Gelation</text>
</g>
</svg>
</body></html>
